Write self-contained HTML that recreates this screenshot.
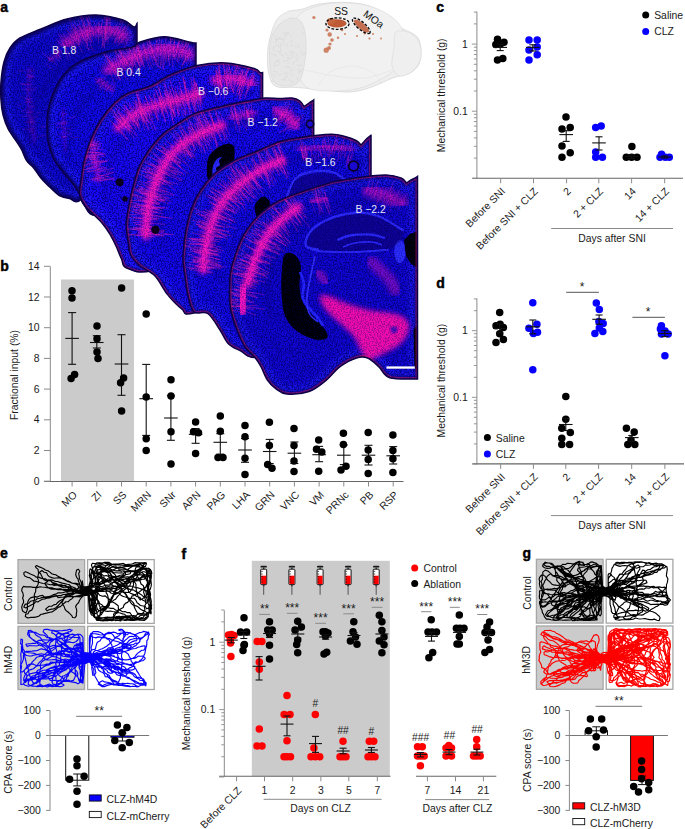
<!DOCTYPE html>
<html><head><meta charset="utf-8"><style>
html,body{margin:0;padding:0;background:#fff;}
svg{display:block;}
text{font-family:"Liberation Sans", sans-serif;}
</style></head><body>
<svg width="685" height="829" viewBox="0 0 685 829">
<rect width="685" height="829" fill="#fff"/>
<defs>
<filter id="bl3" x="-20%" y="-20%" width="140%" height="140%"><feGaussianBlur stdDeviation="2.4"/></filter>
<filter id="bl1" x="-20%" y="-20%" width="140%" height="140%"><feGaussianBlur stdDeviation="0.9"/></filter>
<filter id="bl5" x="-30%" y="-30%" width="160%" height="160%"><feGaussianBlur stdDeviation="4.5"/></filter>
<filter id="nz" x="0" y="0" width="100%" height="100%" filterUnits="userSpaceOnUse"><feTurbulence type="fractalNoise" baseFrequency="0.75" numOctaves="2" seed="3" result="t"/><feColorMatrix in="t" type="matrix" values="0 0 0 0 0.0  0 0 0 0 0.0  0 0 0 0 0.18  4.0 0 0 0 -1.7"/></filter>
<clipPath id="cs0"><path d="M137.0,23.5 C137.0,29.6 137.0,53.9 137.0,60.0 C137.0,68.3 140.7,93.3 137.0,110.0 C133.3,126.7 118.7,151.7 115.0,160.0 C109.5,166.5 89.6,192.6 82.0,199.0 C74.4,205.4 73.3,199.1 69.5,198.5 C65.7,197.9 62.4,197.2 59.3,195.5 C56.2,193.8 54.1,191.2 51.0,188.3 C47.9,185.4 43.8,181.4 40.9,178.0 C38.0,174.6 36.1,170.8 33.7,167.9 C31.3,165.0 28.6,163.8 26.6,160.7 C24.6,157.6 23.2,152.7 21.5,149.5 C19.8,146.3 18.6,144.7 16.4,141.3 C14.2,137.9 10.4,133.4 8.2,129.0 C6.0,124.6 4.2,119.5 3.0,114.7 C1.8,109.9 1.3,105.5 1.0,100.0 C0.7,94.5 0.5,88.3 1.0,82.0 C1.5,75.7 2.5,67.7 4.0,62.0 C5.5,56.3 7.3,52.0 10.0,48.0 C12.7,44.0 14.8,41.2 20.0,38.0 C25.2,34.8 33.2,32.2 41.0,29.0 C48.8,25.8 57.8,21.3 67.0,19.0 C76.2,16.7 86.7,14.8 96.0,15.0 C105.3,15.2 116.7,18.0 123.0,20.0 C129.3,22.0 131.7,26.4 134.0,27.0 C136.3,27.6 136.5,24.1 137.0,23.5 Z"/></clipPath>
<clipPath id="cs1"><path d="M196.0,43.0 C196.0,46.7 196.0,61.7 196.0,65.4 C196.0,76.2 196.0,119.2 196.0,130.0 C190.0,140.0 176.0,175.8 160.0,190.0 C144.0,204.2 112.7,212.5 100.0,215.0 C87.3,217.5 87.5,208.8 84.0,205.0 C80.5,201.2 80.8,196.2 78.7,192.4 C76.6,188.6 74.4,185.7 71.5,182.0 C68.6,178.3 64.4,174.1 61.3,170.0 C58.2,165.9 55.2,162.5 53.0,157.7 C50.8,152.9 49.0,146.4 48.0,141.3 C47.0,136.2 47.0,132.1 47.0,127.0 C47.0,121.9 47.2,115.8 48.0,110.7 C48.8,105.6 50.6,100.5 52.0,96.4 C53.4,92.3 54.7,89.5 56.5,86.0 C58.3,82.5 60.1,79.0 63.0,75.5 C65.9,72.0 69.7,67.9 73.8,65.0 C77.9,62.1 82.0,60.3 87.8,58.0 C93.6,55.7 101.2,52.9 108.8,51.0 C116.4,49.1 128.2,48.1 133.4,46.6 C138.6,45.1 134.8,43.6 140.0,42.0 C145.2,40.4 156.3,36.8 164.5,36.8 C172.7,36.8 184.1,41.0 189.0,42.0 C193.9,43.0 192.8,42.8 194.0,43.0 C195.2,43.2 195.7,43.0 196.0,43.0 Z"/></clipPath>
<clipPath id="cs2"><path d="M262.6,72.5 C262.6,76.6 262.6,92.9 262.6,97.0 C262.6,109.2 262.6,157.8 262.6,170.0 C253.8,183.3 228.6,233.2 210.0,250.0 C191.4,266.8 164.9,268.0 151.0,271.0 C137.1,274.0 131.5,270.0 126.6,268.0 C121.7,266.0 123.2,262.5 121.5,259.0 C119.8,255.5 118.2,250.8 116.5,247.0 C114.8,243.2 113.4,240.0 111.0,236.0 C108.6,232.0 106.2,227.9 102.0,223.0 C97.8,218.1 89.5,211.4 85.8,206.7 C82.1,201.9 80.5,198.6 79.7,194.5 C78.9,190.4 80.0,187.7 80.7,182.2 C81.4,176.7 82.2,168.5 83.8,161.7 C85.3,154.9 87.3,148.1 90.0,141.3 C92.7,134.5 95.9,127.5 100.0,121.0 C104.1,114.5 109.8,107.2 114.5,102.5 C119.2,97.8 122.1,95.8 128.0,93.0 C133.9,90.2 142.7,89.2 150.0,86.0 C157.3,82.8 163.9,77.4 171.7,74.0 C179.5,70.6 187.9,67.2 197.0,65.4 C206.1,63.6 216.5,62.5 226.0,63.0 C235.5,63.5 248.3,66.9 254.0,68.5 C259.7,70.1 258.6,71.8 260.0,72.5 C261.4,73.2 262.2,72.5 262.6,72.5 Z"/></clipPath>
<clipPath id="cs3"><path d="M313.7,100.0 C313.7,105.8 313.7,129.2 313.7,135.0 C313.7,145.8 313.7,189.2 313.7,200.0 C304.8,215.0 279.9,271.2 260.0,290.0 C240.1,308.8 207.1,309.9 194.0,313.0 C180.9,316.1 186.1,311.9 181.7,308.8 C177.3,305.7 171.8,299.9 167.4,294.4 C163.0,288.9 159.6,280.7 155.0,276.0 C150.4,271.3 144.1,269.5 140.0,266.0 C135.9,262.5 132.4,258.6 130.5,255.0 C128.6,251.4 129.2,249.1 128.5,244.2 C127.8,239.3 126.2,231.7 126.2,225.5 C126.2,219.3 127.3,213.4 128.5,206.8 C129.7,200.2 131.4,192.4 133.2,185.8 C134.9,179.2 136.5,172.8 139.0,167.0 C141.5,161.2 144.5,156.1 148.4,150.7 C152.3,145.3 157.3,139.1 162.4,134.4 C167.5,129.7 173.4,126.2 178.8,122.7 C184.2,119.2 188.0,116.1 195.0,113.4 C202.0,110.7 211.6,108.6 220.8,106.4 C230.0,104.2 242.6,101.9 250.0,100.5 C257.4,99.1 260.0,98.3 265.0,98.0 C270.0,97.7 275.5,98.5 280.0,98.5 C284.5,98.5 288.7,97.6 292.0,98.0 C295.3,98.4 298.0,99.6 300.0,101.0 C302.0,102.4 303.3,105.6 304.0,106.5 C304.8,105.9 307.5,104.0 309.0,103.0 C310.5,102.0 312.5,100.9 313.2,100.5 C313.3,100.4 313.6,100.1 313.7,100.0 Z"/></clipPath>
<clipPath id="cs4"><path d="M371.0,135.3 C371.0,142.1 371.0,169.2 371.0,176.0 C371.0,190.0 371.0,246.0 371.0,260.0 C359.2,275.0 319.3,333.8 300.0,350.0 C280.7,366.2 264.8,357.3 255.0,357.5 C245.2,357.7 245.4,353.2 241.0,351.0 C236.6,348.8 232.1,347.5 228.6,344.0 C225.1,340.5 223.4,335.1 220.0,330.0 C216.6,324.9 212.3,316.6 208.0,313.6 C203.7,310.6 197.3,314.9 194.0,312.0 C190.7,309.1 189.4,301.2 188.0,296.0 C186.6,290.8 186.3,286.5 185.5,280.8 C184.7,275.1 183.3,267.1 183.0,262.0 C182.7,256.9 183.1,255.0 183.5,250.0 C183.9,245.0 184.3,238.5 185.5,232.0 C186.7,225.5 188.1,217.8 190.5,211.0 C192.9,204.2 196.1,197.2 200.0,191.0 C203.9,184.8 208.5,179.0 214.0,174.0 C219.5,169.0 226.0,164.8 233.0,161.0 C240.0,157.2 248.2,154.8 256.0,151.5 C263.8,148.2 272.6,143.8 280.0,141.5 C287.4,139.2 291.9,138.6 300.4,137.4 C308.9,136.2 323.6,134.5 331.0,134.3 C338.4,134.2 340.8,135.5 345.0,136.5 C349.2,137.5 353.3,139.1 356.0,140.5 C358.7,141.9 360.2,144.2 361.0,145.0 C361.8,144.1 364.4,141.1 366.0,139.5 C367.6,137.9 369.8,136.2 370.6,135.5 C370.7,135.5 370.9,135.3 371.0,135.3 Z"/></clipPath>
<clipPath id="cs5"><path d="M417.5,176.5 C417.5,210.2 417.5,345.2 417.5,379.0 C412.9,378.8 396.3,379.8 389.8,377.7 C383.3,375.6 382.4,369.9 378.7,366.6 C375.0,363.3 371.3,359.4 367.6,358.0 C363.9,356.6 361.1,356.6 356.5,358.0 C351.9,359.4 345.1,362.9 340.0,366.6 C334.9,370.3 331.2,376.2 326.0,380.4 C320.8,384.5 315.5,389.2 309.0,391.5 C302.5,393.8 292.5,394.4 287.0,394.0 C281.5,393.6 279.3,391.1 276.0,388.8 C272.7,386.5 269.9,383.7 267.4,380.0 C264.9,376.3 263.1,370.4 261.0,366.7 C258.9,362.9 257.7,360.8 255.0,357.5 C252.3,354.2 248.0,351.6 245.0,347.0 C242.0,342.4 239.3,336.0 237.0,330.0 C234.7,324.0 232.2,316.9 231.0,311.0 C229.8,305.1 229.7,301.4 229.6,294.8 C229.5,288.2 229.3,279.3 230.7,271.5 C232.0,263.7 235.0,255.0 237.7,248.0 C240.4,241.0 243.1,235.2 247.0,229.4 C250.9,223.6 255.9,217.7 261.0,213.0 C266.1,208.3 270.9,204.9 277.5,201.4 C284.1,197.9 292.1,195.1 300.8,192.0 C309.6,188.9 324.0,184.5 330.0,182.7 C336.0,180.9 331.7,181.9 337.0,181.0 C342.3,180.1 353.5,178.0 361.7,177.0 C369.9,176.0 379.4,174.8 386.0,175.0 C392.6,175.2 397.6,176.7 401.0,178.0 C404.4,179.3 405.6,182.2 406.5,183.0 C407.2,182.5 409.2,181.0 411.0,180.0 C412.8,179.0 416.0,177.3 417.0,176.8 C417.1,176.8 417.4,176.6 417.5,176.5 Z"/></clipPath>
</defs>
<path d="M137.0,23.5 C137.0,29.6 137.0,53.9 137.0,60.0 C137.0,68.3 140.7,93.3 137.0,110.0 C133.3,126.7 118.7,151.7 115.0,160.0 C109.5,166.5 89.6,192.6 82.0,199.0 C74.4,205.4 73.3,199.1 69.5,198.5 C65.7,197.9 62.4,197.2 59.3,195.5 C56.2,193.8 54.1,191.2 51.0,188.3 C47.9,185.4 43.8,181.4 40.9,178.0 C38.0,174.6 36.1,170.8 33.7,167.9 C31.3,165.0 28.6,163.8 26.6,160.7 C24.6,157.6 23.2,152.7 21.5,149.5 C19.8,146.3 18.6,144.7 16.4,141.3 C14.2,137.9 10.4,133.4 8.2,129.0 C6.0,124.6 4.2,119.5 3.0,114.7 C1.8,109.9 1.3,105.5 1.0,100.0 C0.7,94.5 0.5,88.3 1.0,82.0 C1.5,75.7 2.5,67.7 4.0,62.0 C5.5,56.3 7.3,52.0 10.0,48.0 C12.7,44.0 14.8,41.2 20.0,38.0 C25.2,34.8 33.2,32.2 41.0,29.0 C48.8,25.8 57.8,21.3 67.0,19.0 C76.2,16.7 86.7,14.8 96.0,15.0 C105.3,15.2 116.7,18.0 123.0,20.0 C129.3,22.0 131.7,26.4 134.0,27.0 C136.3,27.6 136.5,24.1 137.0,23.5 Z" fill="#0f08cf"/>
<g clip-path="url(#cs0)">
<path d="M137.0,23.5 C137.0,29.6 137.0,53.9 137.0,60.0 C137.0,68.3 140.7,93.3 137.0,110.0 C133.3,126.7 118.7,151.7 115.0,160.0 C109.5,166.5 89.6,192.6 82.0,199.0 C74.4,205.4 73.3,199.1 69.5,198.5 C65.7,197.9 62.4,197.2 59.3,195.5 C56.2,193.8 54.1,191.2 51.0,188.3 C47.9,185.4 43.8,181.4 40.9,178.0 C38.0,174.6 36.1,170.8 33.7,167.9 C31.3,165.0 28.6,163.8 26.6,160.7 C24.6,157.6 23.2,152.7 21.5,149.5 C19.8,146.3 18.6,144.7 16.4,141.3 C14.2,137.9 10.4,133.4 8.2,129.0 C6.0,124.6 4.2,119.5 3.0,114.7 C1.8,109.9 1.3,105.5 1.0,100.0 C0.7,94.5 0.5,88.3 1.0,82.0 C1.5,75.7 2.5,67.7 4.0,62.0 C5.5,56.3 7.3,52.0 10.0,48.0 C12.7,44.0 14.8,41.2 20.0,38.0 C25.2,34.8 33.2,32.2 41.0,29.0 C48.8,25.8 57.8,21.3 67.0,19.0 C76.2,16.7 86.7,14.8 96.0,15.0 C105.3,15.2 116.7,18.0 123.0,20.0 C129.3,22.0 131.7,26.4 134.0,27.0 C136.3,27.6 136.5,24.1 137.0,23.5 Z" fill="none" stroke="#2c2cff" stroke-width="18" opacity="0.45" filter="url(#bl3)"/>
<path d="M137.0,23.5 C137.0,29.6 137.0,53.9 137.0,60.0 C137.0,68.3 140.7,93.3 137.0,110.0 C133.3,126.7 118.7,151.7 115.0,160.0 C109.5,166.5 89.6,192.6 82.0,199.0 C74.4,205.4 73.3,199.1 69.5,198.5 C65.7,197.9 62.4,197.2 59.3,195.5 C56.2,193.8 54.1,191.2 51.0,188.3 C47.9,185.4 43.8,181.4 40.9,178.0 C38.0,174.6 36.1,170.8 33.7,167.9 C31.3,165.0 28.6,163.8 26.6,160.7 C24.6,157.6 23.2,152.7 21.5,149.5 C19.8,146.3 18.6,144.7 16.4,141.3 C14.2,137.9 10.4,133.4 8.2,129.0 C6.0,124.6 4.2,119.5 3.0,114.7 C1.8,109.9 1.3,105.5 1.0,100.0 C0.7,94.5 0.5,88.3 1.0,82.0 C1.5,75.7 2.5,67.7 4.0,62.0 C5.5,56.3 7.3,52.0 10.0,48.0 C12.7,44.0 14.8,41.2 20.0,38.0 C25.2,34.8 33.2,32.2 41.0,29.0 C48.8,25.8 57.8,21.3 67.0,19.0 C76.2,16.7 86.7,14.8 96.0,15.0 C105.3,15.2 116.7,18.0 123.0,20.0 C129.3,22.0 131.7,26.4 134.0,27.0 C136.3,27.6 136.5,24.1 137.0,23.5 Z" fill="none" stroke="#07003a" stroke-width="7" opacity="0.75" filter="url(#bl1)"/>
<path d="M125.0,40.0 C120.8,40.8 109.2,41.7 100.0,45.0 C90.8,48.3 79.2,53.3 70.0,60.0 C60.8,66.7 51.7,75.0 45.0,85.0 C38.3,95.0 32.5,109.2 30.0,120.0 C27.5,130.8 30.0,145.0 30.0,150.0" fill="none" stroke="#10067a" stroke-width="6" opacity="0.25" filter="url(#bl3)"/>
<rect x="0" y="0" width="420" height="400" filter="url(#nz)" opacity="0.75"/>
<path d="M66.0,44.0 C68.3,42.5 75.0,37.3 80.0,35.0 C85.0,32.7 90.7,30.8 96.0,30.0 C101.3,29.2 107.3,29.0 112.0,30.0 C116.7,31.0 122.0,35.0 124.0,36.0" fill="none" stroke="#ff12c0" stroke-width="13.8" stroke-linecap="round" opacity="0.37" filter="url(#bl3)"/>
<path d="M66.0,44.0 C68.3,42.5 75.0,37.3 80.0,35.0 C85.0,32.7 90.7,30.8 96.0,30.0 C101.3,29.2 107.3,29.0 112.0,30.0 C116.7,31.0 122.0,35.0 124.0,36.0" fill="none" stroke="#ff10c8" stroke-width="5.4" stroke-linecap="round" opacity="0.26" filter="url(#bl1)"/>
<path d="M68.8,17.8L75.8,34.8M62.4,33.1L73.7,48.6M69.4,39.7L76.3,50.0M70.7,25.3L81.5,39.8M71.9,33.6L82.5,52.3M74.3,24.2L80.2,45.2M70.2,33.5L74.8,47.4M63.7,37.4L72.8,52.7M59.5,33.5L69.4,46.5M67.9,26.5L78.8,42.0M71.3,27.7L78.4,39.3M62.8,42.2L68.2,59.8M73.1,24.1L83.8,37.9M76.3,37.0L89.8,50.1M58.6,34.2L70.1,56.5M67.3,36.7L71.7,44.5M74.8,28.1L79.0,45.8M65.7,29.1L76.9,42.5M78.8,30.1L87.5,44.9M93.4,21.2L99.1,32.8M73.5,20.9L93.6,42.9M86.1,17.0L90.7,32.3M87.3,25.2L87.2,45.8M81.9,23.5L88.7,50.0M81.7,13.9L89.0,33.2M87.2,17.7L91.4,42.3M83.4,21.8L88.5,37.4M87.8,12.9L94.0,36.9M80.8,14.2L87.8,41.6M86.6,33.0L93.3,51.5M78.5,14.6L90.1,36.6M77.9,24.8L86.8,42.8M88.7,21.0L92.9,34.2M88.7,21.9L90.5,36.5M86.4,28.8L88.9,39.4M78.4,20.2L84.4,41.0M99.1,21.6L100.2,34.4M109.6,18.2L109.2,33.4M106.5,26.8L101.8,48.3M106.8,17.6L105.8,38.6M110.9,25.8L112.0,33.1M104.6,17.0L105.7,42.7M101.4,23.4L103.3,46.8M109.8,11.4L111.1,36.6M101.7,32.6L103.1,46.3M106.4,13.3L105.5,40.2M97.4,23.2L95.0,35.6M98.4,22.8L98.5,42.9M107.3,18.7L104.8,35.3M102.6,19.5L100.3,36.0M107.9,14.4L107.9,43.9M104.9,29.2L104.5,48.3M108.1,18.1L105.9,40.2M117.8,26.0L106.7,39.8M124.2,31.3L117.3,43.5M125.2,25.2L118.2,39.2M126.5,26.2L118.7,38.9M128.7,37.5L122.5,51.9M124.4,36.9L117.5,46.2M128.7,31.8L121.1,43.0M120.1,30.8L114.2,43.8M123.9,28.1L117.5,42.5M129.0,23.3L121.9,38.7M123.6,15.8L114.2,34.9M118.7,26.4L113.9,36.0M123.5,20.7L114.5,42.7M116.8,23.9L105.6,41.0" fill="none" stroke="#ff22b8" stroke-width="0.65" opacity="0.45"/>
<path d="M30.0,70.0 C29.7,75.0 27.2,88.3 28.0,100.0 C28.8,111.7 33.8,133.3 35.0,140.0" fill="none" stroke="#ff12c0" stroke-width="6.9" stroke-linecap="round" opacity="0.11" filter="url(#bl3)"/>
<path d="M30.0,70.0 C29.7,75.0 27.2,88.3 28.0,100.0 C28.8,111.7 33.8,133.3 35.0,140.0" fill="none" stroke="#ff10c8" stroke-width="2.7" stroke-linecap="round" opacity="0.08" filter="url(#bl1)"/>
<path d="M26.1,85.0L20.0,83.4M25.2,71.1L17.2,70.8M36.0,89.9L28.5,89.9M34.5,76.7L27.1,76.7M30.7,89.0L21.2,89.5M36.8,88.0L33.2,87.9M33.8,70.8L27.5,70.9M26.0,84.3L22.3,84.5M33.2,75.8L25.5,74.7M33.7,77.6L28.6,77.4M29.5,99.5L20.4,96.9M31.6,84.3L21.9,84.1M34.7,106.2L30.8,106.8M29.3,115.3L21.8,117.0M33.1,128.6L22.4,129.6M48.7,126.0L40.2,127.2M32.0,98.5L25.4,100.4M21.4,103.8L17.9,105.6M30.3,101.4L24.5,102.3M32.8,111.9L25.7,112.6M34.0,121.6L28.2,122.3M45.5,135.3L37.9,136.6M36.2,121.8L25.3,122.4M40.8,112.3L36.4,113.0M33.0,130.7L29.7,131.6M27.1,109.8L21.0,111.4M33.0,101.9L28.2,102.3M38.1,116.2L29.1,120.1" fill="none" stroke="#ff22b8" stroke-width="0.65" opacity="0.30"/>
<path d="M50.0,60.0 L60.0,52.0" fill="none" stroke="#ff12c0" stroke-width="5.8" stroke-linecap="round" opacity="0.23" filter="url(#bl3)"/>
<path d="M50.0,60.0 L60.0,52.0" fill="none" stroke="#ff10c8" stroke-width="2.2" stroke-linecap="round" opacity="0.16" filter="url(#bl1)"/>
<path d="M50.4,44.6L58.0,55.7M55.2,49.6L57.7,53.1M47.5,55.3L50.1,59.9M54.8,50.5L61.1,59.4M57.1,47.3L62.5,53.3M55.8,56.0L59.7,61.8M42.2,52.4L52.5,62.3M45.5,63.1L53.3,70.7M56.5,39.4L61.6,45.0M54.2,49.8L60.1,57.7M56.8,48.4L60.4,53.3M50.8,57.6L57.6,66.3" fill="none" stroke="#ff22b8" stroke-width="0.65" opacity="0.40"/>
<rect x="0" y="0" width="420" height="400" filter="url(#nz)" opacity="0.35"/>
</g>
<path d="M137.0,23.5 C137.0,29.6 137.0,53.9 137.0,60.0 C137.0,68.3 140.7,93.3 137.0,110.0 C133.3,126.7 118.7,151.7 115.0,160.0 C109.5,166.5 89.6,192.6 82.0,199.0 C74.4,205.4 73.3,199.1 69.5,198.5 C65.7,197.9 62.4,197.2 59.3,195.5 C56.2,193.8 54.1,191.2 51.0,188.3 C47.9,185.4 43.8,181.4 40.9,178.0 C38.0,174.6 36.1,170.8 33.7,167.9 C31.3,165.0 28.6,163.8 26.6,160.7 C24.6,157.6 23.2,152.7 21.5,149.5 C19.8,146.3 18.6,144.7 16.4,141.3 C14.2,137.9 10.4,133.4 8.2,129.0 C6.0,124.6 4.2,119.5 3.0,114.7 C1.8,109.9 1.3,105.5 1.0,100.0 C0.7,94.5 0.5,88.3 1.0,82.0 C1.5,75.7 2.5,67.7 4.0,62.0 C5.5,56.3 7.3,52.0 10.0,48.0 C12.7,44.0 14.8,41.2 20.0,38.0 C25.2,34.8 33.2,32.2 41.0,29.0 C48.8,25.8 57.8,21.3 67.0,19.0 C76.2,16.7 86.7,14.8 96.0,15.0 C105.3,15.2 116.7,18.0 123.0,20.0 C129.3,22.0 131.7,26.4 134.0,27.0 C136.3,27.6 136.5,24.1 137.0,23.5 Z" fill="none" stroke="#0c0048" stroke-width="1.5"/>
<path d="M196.0,43.0 C196.0,46.7 196.0,61.7 196.0,65.4 C196.0,76.2 196.0,119.2 196.0,130.0 C190.0,140.0 176.0,175.8 160.0,190.0 C144.0,204.2 112.7,212.5 100.0,215.0 C87.3,217.5 87.5,208.8 84.0,205.0 C80.5,201.2 80.8,196.2 78.7,192.4 C76.6,188.6 74.4,185.7 71.5,182.0 C68.6,178.3 64.4,174.1 61.3,170.0 C58.2,165.9 55.2,162.5 53.0,157.7 C50.8,152.9 49.0,146.4 48.0,141.3 C47.0,136.2 47.0,132.1 47.0,127.0 C47.0,121.9 47.2,115.8 48.0,110.7 C48.8,105.6 50.6,100.5 52.0,96.4 C53.4,92.3 54.7,89.5 56.5,86.0 C58.3,82.5 60.1,79.0 63.0,75.5 C65.9,72.0 69.7,67.9 73.8,65.0 C77.9,62.1 82.0,60.3 87.8,58.0 C93.6,55.7 101.2,52.9 108.8,51.0 C116.4,49.1 128.2,48.1 133.4,46.6 C138.6,45.1 134.8,43.6 140.0,42.0 C145.2,40.4 156.3,36.8 164.5,36.8 C172.7,36.8 184.1,41.0 189.0,42.0 C193.9,43.0 192.8,42.8 194.0,43.0 C195.2,43.2 195.7,43.0 196.0,43.0 Z" fill="#120aed"/>
<g clip-path="url(#cs1)">
<path d="M196.0,43.0 C196.0,46.7 196.0,61.7 196.0,65.4 C196.0,76.2 196.0,119.2 196.0,130.0 C190.0,140.0 176.0,175.8 160.0,190.0 C144.0,204.2 112.7,212.5 100.0,215.0 C87.3,217.5 87.5,208.8 84.0,205.0 C80.5,201.2 80.8,196.2 78.7,192.4 C76.6,188.6 74.4,185.7 71.5,182.0 C68.6,178.3 64.4,174.1 61.3,170.0 C58.2,165.9 55.2,162.5 53.0,157.7 C50.8,152.9 49.0,146.4 48.0,141.3 C47.0,136.2 47.0,132.1 47.0,127.0 C47.0,121.9 47.2,115.8 48.0,110.7 C48.8,105.6 50.6,100.5 52.0,96.4 C53.4,92.3 54.7,89.5 56.5,86.0 C58.3,82.5 60.1,79.0 63.0,75.5 C65.9,72.0 69.7,67.9 73.8,65.0 C77.9,62.1 82.0,60.3 87.8,58.0 C93.6,55.7 101.2,52.9 108.8,51.0 C116.4,49.1 128.2,48.1 133.4,46.6 C138.6,45.1 134.8,43.6 140.0,42.0 C145.2,40.4 156.3,36.8 164.5,36.8 C172.7,36.8 184.1,41.0 189.0,42.0 C193.9,43.0 192.8,42.8 194.0,43.0 C195.2,43.2 195.7,43.0 196.0,43.0 Z" fill="none" stroke="#2c2cff" stroke-width="18" opacity="0.45" filter="url(#bl3)"/>
<path d="M196.0,43.0 C196.0,46.7 196.0,61.7 196.0,65.4 C196.0,76.2 196.0,119.2 196.0,130.0 C190.0,140.0 176.0,175.8 160.0,190.0 C144.0,204.2 112.7,212.5 100.0,215.0 C87.3,217.5 87.5,208.8 84.0,205.0 C80.5,201.2 80.8,196.2 78.7,192.4 C76.6,188.6 74.4,185.7 71.5,182.0 C68.6,178.3 64.4,174.1 61.3,170.0 C58.2,165.9 55.2,162.5 53.0,157.7 C50.8,152.9 49.0,146.4 48.0,141.3 C47.0,136.2 47.0,132.1 47.0,127.0 C47.0,121.9 47.2,115.8 48.0,110.7 C48.8,105.6 50.6,100.5 52.0,96.4 C53.4,92.3 54.7,89.5 56.5,86.0 C58.3,82.5 60.1,79.0 63.0,75.5 C65.9,72.0 69.7,67.9 73.8,65.0 C77.9,62.1 82.0,60.3 87.8,58.0 C93.6,55.7 101.2,52.9 108.8,51.0 C116.4,49.1 128.2,48.1 133.4,46.6 C138.6,45.1 134.8,43.6 140.0,42.0 C145.2,40.4 156.3,36.8 164.5,36.8 C172.7,36.8 184.1,41.0 189.0,42.0 C193.9,43.0 192.8,42.8 194.0,43.0 C195.2,43.2 195.7,43.0 196.0,43.0 Z" fill="none" stroke="#07003a" stroke-width="5" opacity="0.75" filter="url(#bl1)"/>
<path d="M185.0,60.0 C179.2,60.3 161.7,59.5 150.0,62.0 C138.3,64.5 125.8,68.7 115.0,75.0 C104.2,81.3 92.5,90.8 85.0,100.0 C77.5,109.2 72.8,119.2 70.0,130.0 C67.2,140.8 68.3,159.2 68.0,165.0" fill="none" stroke="#10067a" stroke-width="6" opacity="0.25" filter="url(#bl3)"/>
<rect x="0" y="0" width="420" height="400" filter="url(#nz)" opacity="0.75"/>
<path d="M108.0,70.0 C111.7,68.0 122.2,61.3 130.0,58.0 C137.8,54.7 147.5,51.5 155.0,50.0 C162.5,48.5 169.2,48.2 175.0,49.0 C180.8,49.8 187.5,54.0 190.0,55.0" fill="none" stroke="#ff12c0" stroke-width="12.6" stroke-linecap="round" opacity="0.46" filter="url(#bl3)"/>
<path d="M108.0,70.0 C111.7,68.0 122.2,61.3 130.0,58.0 C137.8,54.7 147.5,51.5 155.0,50.0 C162.5,48.5 169.2,48.2 175.0,49.0 C180.8,49.8 187.5,54.0 190.0,55.0" fill="none" stroke="#ff10c8" stroke-width="5.0" stroke-linecap="round" opacity="0.32" filter="url(#bl1)"/>
<path d="M123.6,56.5L131.4,67.0M120.1,49.1L132.4,73.2M106.5,58.8L121.3,80.4M118.7,48.9L124.2,63.9M113.5,58.7L120.4,72.0M113.7,46.0L121.2,72.0M118.3,48.5L127.9,64.2M117.9,54.5L125.8,70.9M116.6,47.7L128.9,65.6M118.2,52.6L134.2,73.8M118.2,55.1L127.7,67.2M126.4,67.5L132.8,76.5M101.7,51.8L118.5,71.3M114.1,63.1L128.2,80.5M107.1,56.2L117.4,79.8M104.3,53.9L115.7,75.2M123.1,52.0L133.9,66.9M123.7,58.2L129.6,64.7M104.2,59.1L110.0,68.3M114.6,49.9L125.8,70.2M125.1,44.4L132.6,69.7M108.8,55.4L114.3,64.4M108.6,68.0L114.8,84.1M117.5,41.6L131.7,64.1M122.7,56.5L127.0,65.0M109.1,59.8L117.9,75.9M112.4,62.2L119.9,80.4M120.1,50.1L126.1,68.3M106.3,53.8L119.1,78.2M110.1,61.1L119.5,75.7M134.6,55.0L139.7,66.0M132.8,45.9L140.6,69.7M143.6,42.0L145.1,53.7M150.6,45.8L155.5,60.2M138.0,48.0L144.6,68.4M136.2,43.6L143.9,63.7M133.1,43.3L136.6,62.3M147.7,33.5L153.7,54.0M147.8,48.6L160.2,69.0M145.1,35.4L154.0,65.7M131.6,44.5L135.8,59.8M144.5,47.0L152.4,68.2M148.4,38.0L156.7,66.0M145.4,52.2L146.0,61.0M138.3,46.0L140.6,66.8M128.7,51.2L133.7,66.2M136.6,41.4L142.0,66.9M132.8,50.5L139.5,62.8M144.5,51.6L149.8,68.8M142.7,44.2L147.9,58.8M128.4,45.1L133.3,71.2M136.5,37.9L137.4,60.7M130.0,49.9L136.9,70.1M136.0,47.1L142.5,64.5M138.7,44.2L143.1,58.2M131.8,53.2L133.3,66.1M147.0,38.9L156.8,61.8M136.2,44.3L143.8,66.4M133.7,45.4L140.1,67.4M130.9,57.1L138.3,69.1M128.1,46.2L135.7,61.2M173.8,46.2L174.7,59.1M167.2,51.1L169.8,66.1M172.0,51.3L172.9,67.2M164.9,48.6L166.2,59.4M160.6,44.7L160.0,57.3M167.0,43.0L168.6,57.1M168.5,44.7L168.4,60.6M164.0,42.6L166.8,62.5M171.0,38.4L170.5,60.6M157.7,30.1L161.2,49.8M168.2,40.7L171.1,54.6M174.9,31.9L173.7,50.6M164.2,43.1L161.3,65.6M156.7,33.8L156.1,62.3M172.4,45.7L174.1,59.3M161.5,38.8L160.3,69.2M164.9,50.1L163.6,70.0M165.9,36.0L166.2,61.8M164.2,43.6L162.8,69.7M160.5,47.0L162.1,55.4M174.4,40.6L173.0,56.8M170.8,36.2L168.8,59.9M156.9,40.5L158.1,61.2M158.5,42.9L158.0,68.1M180.0,40.8L176.6,51.6M190.1,52.0L181.1,67.7M191.3,46.9L181.5,66.3M184.3,31.8L175.7,50.2M189.1,40.6L176.0,57.3M190.4,35.6L181.4,52.5M189.7,48.2L186.6,62.4M179.5,37.2L176.3,54.3M190.3,40.0L181.1,57.9M186.3,40.6L181.4,57.3M178.6,41.7L174.9,59.5M183.8,40.1L177.6,62.9M183.7,45.7L180.6,53.8M174.9,40.8L169.3,57.5M196.3,43.8L182.9,63.8M190.6,35.4L184.3,59.7M174.4,33.9L169.9,44.7M181.2,50.9L176.4,61.5M187.1,34.1L173.7,57.0" fill="none" stroke="#ff22b8" stroke-width="0.65" opacity="0.50"/>
<path d="M98.0,80.0 L112.0,90.0" fill="none" stroke="#ff12c0" stroke-width="5.8" stroke-linecap="round" opacity="0.29" filter="url(#bl3)"/>
<path d="M98.0,80.0 L112.0,90.0" fill="none" stroke="#ff10c8" stroke-width="2.2" stroke-linecap="round" opacity="0.20" filter="url(#bl1)"/>
<path d="M97.6,76.3L94.6,79.9M107.4,75.1L100.1,83.2M116.1,86.1L111.7,94.2M112.5,83.0L108.1,88.7M110.4,85.3L104.5,91.6M102.1,77.8L100.0,80.3M104.6,81.3L98.6,89.6M113.2,94.8L111.5,96.9M108.2,81.4L104.1,89.3M115.6,83.6L109.9,90.6M100.0,79.4L95.8,83.1M105.2,75.6L100.8,80.0M110.0,85.0L106.7,90.7M103.0,86.8L99.3,90.6M108.0,80.6L104.3,85.6M101.5,76.0L96.4,83.2M104.8,81.0L99.9,87.0" fill="none" stroke="#ff22b8" stroke-width="0.65" opacity="0.40"/>
<path d="M62.0,110.0 L66.0,150.0" fill="none" stroke="#ff12c0" stroke-width="5.8" stroke-linecap="round" opacity="0.11" filter="url(#bl3)"/>
<path d="M62.0,110.0 L66.0,150.0" fill="none" stroke="#ff10c8" stroke-width="2.2" stroke-linecap="round" opacity="0.08" filter="url(#bl1)"/>
<path d="M67.3,123.5L58.8,124.8M65.8,136.5L61.9,136.6M67.6,121.5L58.4,123.4M68.7,132.0L61.0,132.3M63.5,127.3L56.1,127.5M72.0,133.9L65.6,133.8M66.6,113.1L59.4,113.5M65.9,136.6L60.9,137.0M79.1,137.6L71.4,137.7M70.9,128.8L63.3,128.4M66.9,123.8L54.8,123.7M67.6,114.2L61.6,116.0M75.9,116.7L68.1,118.1M63.8,134.1L57.0,134.6M70.2,135.6L59.3,138.1M67.8,122.0L59.8,121.7" fill="none" stroke="#ff22b8" stroke-width="0.65" opacity="0.30"/>
<rect x="0" y="0" width="420" height="400" filter="url(#nz)" opacity="0.35"/>
</g>
<path d="M196.0,43.0 C196.0,46.7 196.0,61.7 196.0,65.4 C196.0,76.2 196.0,119.2 196.0,130.0 C190.0,140.0 176.0,175.8 160.0,190.0 C144.0,204.2 112.7,212.5 100.0,215.0 C87.3,217.5 87.5,208.8 84.0,205.0 C80.5,201.2 80.8,196.2 78.7,192.4 C76.6,188.6 74.4,185.7 71.5,182.0 C68.6,178.3 64.4,174.1 61.3,170.0 C58.2,165.9 55.2,162.5 53.0,157.7 C50.8,152.9 49.0,146.4 48.0,141.3 C47.0,136.2 47.0,132.1 47.0,127.0 C47.0,121.9 47.2,115.8 48.0,110.7 C48.8,105.6 50.6,100.5 52.0,96.4 C53.4,92.3 54.7,89.5 56.5,86.0 C58.3,82.5 60.1,79.0 63.0,75.5 C65.9,72.0 69.7,67.9 73.8,65.0 C77.9,62.1 82.0,60.3 87.8,58.0 C93.6,55.7 101.2,52.9 108.8,51.0 C116.4,49.1 128.2,48.1 133.4,46.6 C138.6,45.1 134.8,43.6 140.0,42.0 C145.2,40.4 156.3,36.8 164.5,36.8 C172.7,36.8 184.1,41.0 189.0,42.0 C193.9,43.0 192.8,42.8 194.0,43.0 C195.2,43.2 195.7,43.0 196.0,43.0 Z" fill="none" stroke="#0c0048" stroke-width="1.5"/>
<path d="M262.6,72.5 C262.6,76.6 262.6,92.9 262.6,97.0 C262.6,109.2 262.6,157.8 262.6,170.0 C253.8,183.3 228.6,233.2 210.0,250.0 C191.4,266.8 164.9,268.0 151.0,271.0 C137.1,274.0 131.5,270.0 126.6,268.0 C121.7,266.0 123.2,262.5 121.5,259.0 C119.8,255.5 118.2,250.8 116.5,247.0 C114.8,243.2 113.4,240.0 111.0,236.0 C108.6,232.0 106.2,227.9 102.0,223.0 C97.8,218.1 89.5,211.4 85.8,206.7 C82.1,201.9 80.5,198.6 79.7,194.5 C78.9,190.4 80.0,187.7 80.7,182.2 C81.4,176.7 82.2,168.5 83.8,161.7 C85.3,154.9 87.3,148.1 90.0,141.3 C92.7,134.5 95.9,127.5 100.0,121.0 C104.1,114.5 109.8,107.2 114.5,102.5 C119.2,97.8 122.1,95.8 128.0,93.0 C133.9,90.2 142.7,89.2 150.0,86.0 C157.3,82.8 163.9,77.4 171.7,74.0 C179.5,70.6 187.9,67.2 197.0,65.4 C206.1,63.6 216.5,62.5 226.0,63.0 C235.5,63.5 248.3,66.9 254.0,68.5 C259.7,70.1 258.6,71.8 260.0,72.5 C261.4,73.2 262.2,72.5 262.6,72.5 Z" fill="#1c08ff"/>
<g clip-path="url(#cs2)">
<path d="M262.6,72.5 C262.6,76.6 262.6,92.9 262.6,97.0 C262.6,109.2 262.6,157.8 262.6,170.0 C253.8,183.3 228.6,233.2 210.0,250.0 C191.4,266.8 164.9,268.0 151.0,271.0 C137.1,274.0 131.5,270.0 126.6,268.0 C121.7,266.0 123.2,262.5 121.5,259.0 C119.8,255.5 118.2,250.8 116.5,247.0 C114.8,243.2 113.4,240.0 111.0,236.0 C108.6,232.0 106.2,227.9 102.0,223.0 C97.8,218.1 89.5,211.4 85.8,206.7 C82.1,201.9 80.5,198.6 79.7,194.5 C78.9,190.4 80.0,187.7 80.7,182.2 C81.4,176.7 82.2,168.5 83.8,161.7 C85.3,154.9 87.3,148.1 90.0,141.3 C92.7,134.5 95.9,127.5 100.0,121.0 C104.1,114.5 109.8,107.2 114.5,102.5 C119.2,97.8 122.1,95.8 128.0,93.0 C133.9,90.2 142.7,89.2 150.0,86.0 C157.3,82.8 163.9,77.4 171.7,74.0 C179.5,70.6 187.9,67.2 197.0,65.4 C206.1,63.6 216.5,62.5 226.0,63.0 C235.5,63.5 248.3,66.9 254.0,68.5 C259.7,70.1 258.6,71.8 260.0,72.5 C261.4,73.2 262.2,72.5 262.6,72.5 Z" fill="none" stroke="#2c2cff" stroke-width="18" opacity="0.45" filter="url(#bl3)"/>
<path d="M262.6,72.5 C262.6,76.6 262.6,92.9 262.6,97.0 C262.6,109.2 262.6,157.8 262.6,170.0 C253.8,183.3 228.6,233.2 210.0,250.0 C191.4,266.8 164.9,268.0 151.0,271.0 C137.1,274.0 131.5,270.0 126.6,268.0 C121.7,266.0 123.2,262.5 121.5,259.0 C119.8,255.5 118.2,250.8 116.5,247.0 C114.8,243.2 113.4,240.0 111.0,236.0 C108.6,232.0 106.2,227.9 102.0,223.0 C97.8,218.1 89.5,211.4 85.8,206.7 C82.1,201.9 80.5,198.6 79.7,194.5 C78.9,190.4 80.0,187.7 80.7,182.2 C81.4,176.7 82.2,168.5 83.8,161.7 C85.3,154.9 87.3,148.1 90.0,141.3 C92.7,134.5 95.9,127.5 100.0,121.0 C104.1,114.5 109.8,107.2 114.5,102.5 C119.2,97.8 122.1,95.8 128.0,93.0 C133.9,90.2 142.7,89.2 150.0,86.0 C157.3,82.8 163.9,77.4 171.7,74.0 C179.5,70.6 187.9,67.2 197.0,65.4 C206.1,63.6 216.5,62.5 226.0,63.0 C235.5,63.5 248.3,66.9 254.0,68.5 C259.7,70.1 258.6,71.8 260.0,72.5 C261.4,73.2 262.2,72.5 262.6,72.5 Z" fill="none" stroke="#07003a" stroke-width="5" opacity="0.75" filter="url(#bl1)"/>
<path d="M255.0,92.0 C248.3,91.7 229.2,87.8 215.0,90.0 C200.8,92.2 184.2,98.3 170.0,105.0 C155.8,111.7 140.0,120.0 130.0,130.0 C120.0,140.0 114.2,153.3 110.0,165.0 C105.8,176.7 105.8,194.2 105.0,200.0" fill="none" stroke="#10067a" stroke-width="6" opacity="0.25" filter="url(#bl3)"/>
<rect x="0" y="0" width="420" height="400" filter="url(#nz)" opacity="0.75"/>
<path d="M118.0,128.0 C120.8,125.7 128.3,117.8 135.0,114.0 C141.7,110.2 150.5,107.5 158.0,105.0 C165.5,102.5 173.0,100.8 180.0,99.0 C187.0,97.2 196.7,94.8 200.0,94.0" fill="none" stroke="#ff12c0" stroke-width="9.2" stroke-linecap="round" opacity="0.69" filter="url(#bl3)"/>
<path d="M118.0,128.0 C120.8,125.7 128.3,117.8 135.0,114.0 C141.7,110.2 150.5,107.5 158.0,105.0 C165.5,102.5 173.0,100.8 180.0,99.0 C187.0,97.2 196.7,94.8 200.0,94.0" fill="none" stroke="#ff10c8" stroke-width="3.6" stroke-linecap="round" opacity="0.48" filter="url(#bl1)"/>
<path d="M112.2,122.5L128.1,140.4M129.3,114.5L133.9,121.9M120.6,121.3L134.9,138.6M121.3,113.3L136.6,128.3M114.9,118.4L122.7,129.7M116.7,118.9L137.8,136.5M128.2,111.3L135.8,119.0M120.6,117.2L130.0,129.4M123.8,109.1L134.5,122.0M108.4,109.6L125.3,123.9M119.5,120.3L128.5,131.2M116.4,117.8L131.9,132.1M112.5,115.1L130.5,131.1M127.1,109.1L134.7,116.2M118.2,113.3L131.6,129.3M123.4,104.6L136.2,125.7M118.9,124.0L129.9,134.0M115.2,107.4L127.2,123.6M120.5,114.9L136.8,134.4M114.7,113.2L122.9,126.8M113.6,124.8L127.9,139.3M113.7,116.5L129.6,130.4M128.2,105.0L139.1,122.8M124.1,105.0L137.5,126.0M124.6,100.6L140.5,119.0M109.8,119.8L124.6,134.9M124.4,104.4L140.0,128.7M118.6,119.0L134.3,129.5M118.0,109.2L131.5,127.0M118.4,113.1L131.5,127.4M122.1,106.6L138.1,126.1M116.4,105.4L139.9,125.2M110.9,108.6L127.4,127.2M115.9,110.2L130.7,128.9M112.7,109.8L130.9,128.7M139.9,107.6L142.0,115.7M135.5,112.6L139.3,126.5M145.1,96.2L151.5,112.9M132.6,101.4L146.9,124.1M137.3,97.4L146.9,121.0M128.8,112.9L136.1,129.6M134.4,86.8L141.1,107.4M153.6,93.5L158.9,113.4M139.9,108.7L148.8,128.9M135.8,101.2L143.6,122.9M151.9,98.1L158.7,110.3M135.3,108.7L138.2,123.2M136.8,93.9L146.1,117.8M133.5,105.8L141.3,121.4M153.1,108.1L158.8,120.2M149.4,94.8L155.4,110.4M140.6,108.2L153.2,129.6M136.8,103.9L151.3,124.2M135.1,103.4L149.1,130.4M135.4,115.6L138.1,127.4M138.5,102.1L144.1,120.6M129.2,102.6L139.7,120.1M149.2,95.2L158.2,121.7M143.8,103.7L148.7,113.9M132.6,116.0L140.4,131.7M137.6,90.7L142.8,110.5M146.8,102.7L150.1,118.4M135.1,99.6L149.3,122.5M138.0,102.8L152.3,122.0M151.4,101.0L158.4,116.1M141.8,107.6L147.4,123.2M139.6,107.0L144.7,130.3M134.6,100.4L144.9,121.5M144.9,94.8L153.2,119.4M136.7,94.1L144.6,123.0M141.8,102.9L147.9,118.2M143.4,100.1L156.1,130.5M139.1,101.7L147.3,116.2M154.6,88.3L163.6,109.3M169.7,98.1L175.3,117.4M171.4,96.1L178.7,114.0M158.7,86.5L165.7,112.0M167.3,91.3L173.6,113.7M163.8,89.6L175.4,115.4M164.9,90.0L171.3,105.0M170.0,88.9L175.4,114.1M166.8,95.8L174.8,116.7M168.9,89.6L172.6,120.8M155.9,90.4L165.6,113.1M168.7,85.9L174.6,103.1M158.6,100.3L165.9,122.0M164.5,81.2L170.6,103.9M176.4,97.9L184.2,117.2M171.6,87.6L179.8,102.7M159.6,99.7L163.1,111.1M159.9,96.4L168.1,114.1M163.9,91.9L173.6,113.6M176.2,97.9L178.4,117.3M166.2,97.6L171.7,110.0M169.9,79.6L177.2,105.2M162.0,110.1L165.5,121.6M169.5,92.6L174.9,109.8M157.2,83.9L163.6,104.4M174.9,86.4L179.6,111.8M175.3,100.9L179.8,115.7M159.8,97.3L163.0,115.3M163.1,95.5L166.1,109.1M164.6,93.2L174.2,125.2M160.2,92.9L168.5,117.5M164.1,96.9L173.8,117.6M159.3,95.8L162.1,115.8M154.5,93.8L156.7,118.7M175.5,90.6L185.9,115.7M163.7,83.7L175.1,116.1M177.5,96.1L181.0,108.1M194.9,88.6L196.7,98.9M193.2,84.2L196.3,101.3M193.4,80.7L197.9,96.6M185.1,80.1L187.0,104.3M190.5,91.3L196.1,103.6M183.1,76.6L189.2,104.4M184.1,97.8L187.1,114.4M195.3,91.1L202.0,110.1M188.6,92.0L196.6,115.6M190.8,82.1L194.7,105.3M181.4,90.4L189.3,108.4M187.5,88.1L194.9,110.2M180.1,88.9L184.7,100.6M196.1,83.1L201.2,104.9M182.7,77.1L187.8,103.1M191.8,96.2L196.9,110.1M194.7,84.4L194.3,101.2M190.4,90.0L196.3,112.4M190.7,76.9L196.3,106.8M196.4,82.7L200.9,104.8M187.5,94.8L191.6,114.2M184.0,83.5L189.9,109.9M194.0,84.2L200.4,116.3M177.3,86.2L184.1,106.2M193.5,79.4L197.1,93.7M193.5,76.8L200.9,102.1M191.6,88.4L198.6,105.4M194.7,80.7L202.9,104.5M183.6,78.7L188.5,100.8M179.4,81.5L185.7,114.3M187.0,98.4L190.4,116.1M181.3,94.4L182.7,104.7" fill="none" stroke="#ff22b8" stroke-width="0.65" opacity="0.60"/>
<path d="M215.0,80.0 C217.8,79.5 225.8,76.3 232.0,77.0 C238.2,77.7 248.7,82.8 252.0,84.0" fill="none" stroke="#ff12c0" stroke-width="11.5" stroke-linecap="round" opacity="0.52" filter="url(#bl3)"/>
<path d="M215.0,80.0 C217.8,79.5 225.8,76.3 232.0,77.0 C238.2,77.7 248.7,82.8 252.0,84.0" fill="none" stroke="#ff10c8" stroke-width="4.5" stroke-linecap="round" opacity="0.36" filter="url(#bl1)"/>
<path d="M224.7,81.6L224.7,99.1M217.6,71.8L223.5,93.2M225.5,60.0L227.3,76.9M219.7,64.5L220.7,82.1M215.5,70.1L219.2,88.7M218.1,64.2L222.0,89.0M212.9,76.4L218.7,91.2M227.6,66.9L230.3,90.4M216.2,69.9L220.1,88.0M229.5,83.5L234.0,93.1M220.1,79.7L226.5,95.5M229.2,66.7L231.7,88.9M226.8,69.0L231.3,82.4M219.0,80.9L222.1,93.8M228.0,64.0L234.0,81.3M227.2,72.5L234.1,93.7M217.2,74.2L218.9,91.8M230.3,72.0L232.6,86.8M225.4,70.8L227.4,94.4M224.5,72.3L226.9,85.4M215.5,74.3L221.0,97.2M223.2,60.2L226.6,87.9M216.4,68.1L221.2,84.8M222.9,64.0L228.2,90.6M227.2,77.8L228.1,92.7M219.9,78.0L221.1,88.1M219.0,66.6L221.8,87.2M216.6,71.6L218.0,83.9M213.8,79.2L216.6,100.3M218.5,68.8L220.7,88.2M226.5,69.2L228.4,83.9M245.3,79.5L239.0,99.3M243.7,79.6L238.7,94.4M236.3,63.0L227.8,76.2M242.9,69.6L239.5,85.9M241.7,69.0L238.2,83.7M246.8,69.8L236.9,91.5M247.9,81.7L247.5,91.2M238.6,62.6L232.9,80.2M236.7,70.1L233.8,82.4M249.3,67.2L241.7,85.0M238.9,66.8L232.7,84.2M249.0,65.6L242.7,86.0M239.7,73.1L236.5,86.7M254.9,75.2L247.8,91.4M238.5,78.5L238.0,84.6M243.3,71.2L237.3,91.6M253.8,75.9L244.4,95.5M240.5,73.5L239.3,96.4M255.1,66.8L246.0,88.6M240.8,80.8L235.8,96.4M246.1,78.7L240.3,99.3M239.7,67.5L237.6,74.2M251.4,64.2L244.6,78.1M241.0,76.4L234.9,89.7M243.8,78.7L238.1,95.3M244.0,70.2L237.0,81.4M242.7,72.2L240.2,85.3M236.6,77.4L232.9,92.7M242.1,68.9L237.6,77.6M246.6,71.6L243.4,87.4M238.4,64.7L227.1,85.8M252.8,81.4L250.8,88.2M250.1,81.7L244.9,98.7M238.4,73.4L231.7,92.1M237.0,64.0L228.6,87.8M254.1,71.5L248.3,88.5M254.7,74.4L247.6,86.5M244.7,70.8L241.3,88.0" fill="none" stroke="#ff22b8" stroke-width="0.65" opacity="0.60"/>
<path d="M92.0,140.0 C92.5,143.3 93.8,153.3 95.0,160.0 C96.2,166.7 98.3,176.7 99.0,180.0" fill="none" stroke="#ff12c0" stroke-width="5.8" stroke-linecap="round" opacity="0.34" filter="url(#bl3)"/>
<path d="M92.0,140.0 C92.5,143.3 93.8,153.3 95.0,160.0 C96.2,166.7 98.3,176.7 99.0,180.0" fill="none" stroke="#ff10c8" stroke-width="2.2" stroke-linecap="round" opacity="0.24" filter="url(#bl1)"/>
<path d="M100.3,152.5L84.8,152.7M97.7,143.1L89.4,144.8M95.9,157.2L78.3,158.5M92.6,153.8L80.4,156.5M98.8,155.5L79.6,160.7M99.6,145.6L82.7,145.9M104.8,153.4L87.1,152.0M105.5,155.9L88.9,159.7M102.2,143.5L82.0,145.5M97.2,154.5L79.3,156.6M99.4,143.8L88.5,146.7M102.6,154.1L81.4,156.7M106.1,154.3L90.5,155.8M100.0,141.3L86.8,143.0M95.7,157.0L85.1,156.4M96.3,159.4L89.6,159.6M98.7,159.0L91.5,158.7M86.9,140.6L75.3,143.4M101.8,146.3L86.1,146.8M103.5,153.4L83.2,151.1M99.2,148.3L81.0,148.9M104.0,149.0L94.6,150.0M93.8,156.9L78.9,156.5M98.6,147.3L90.3,150.1M104.2,166.6L96.1,170.1M106.1,178.3L89.5,179.1M113.7,172.7L92.4,178.4M113.1,177.6L95.0,174.3M104.0,177.5L92.0,181.2M108.6,159.7L87.0,168.1M102.2,165.6L86.3,169.3M115.5,178.1L94.7,181.3M106.8,161.5L91.7,161.9M109.1,173.2L93.3,178.4M94.2,159.5L78.6,162.7M108.6,176.3L90.0,180.1M114.0,168.1L100.3,171.2M103.5,160.7L91.3,162.4M106.8,167.2L86.8,172.3M107.2,161.3L82.8,165.8M99.0,159.9L83.8,165.2M103.5,160.4L90.9,163.3M101.9,163.9L89.8,167.8M108.1,178.8L100.4,181.3M93.5,168.3L77.1,170.7M113.8,172.4L97.7,171.3M106.8,168.8L85.9,171.8M114.8,179.5L100.0,180.2" fill="none" stroke="#ff22b8" stroke-width="0.65" opacity="0.50"/>
<path d="M262.6,72.5 C262.6,76.6 262.6,92.9 262.6,97.0 C262.6,109.2 262.6,157.8 262.6,170.0 C253.8,183.3 228.6,233.2 210.0,250.0 C191.4,266.8 164.9,268.0 151.0,271.0 C137.1,274.0 131.5,270.0 126.6,268.0 C121.7,266.0 123.2,262.5 121.5,259.0 C119.8,255.5 118.2,250.8 116.5,247.0 C114.8,243.2 113.4,240.0 111.0,236.0 C108.6,232.0 106.2,227.9 102.0,223.0 C97.8,218.1 89.5,211.4 85.8,206.7 C82.1,201.9 80.5,198.6 79.7,194.5 C78.9,190.4 80.0,187.7 80.7,182.2 C81.4,176.7 82.2,168.5 83.8,161.7 C85.3,154.9 87.3,148.1 90.0,141.3 C92.7,134.5 95.9,127.5 100.0,121.0 C104.1,114.5 109.8,107.2 114.5,102.5 C119.2,97.8 122.1,95.8 128.0,93.0 C133.9,90.2 142.7,89.2 150.0,86.0 C157.3,82.8 163.9,77.4 171.7,74.0 C179.5,70.6 187.9,67.2 197.0,65.4 C206.1,63.6 216.5,62.5 226.0,63.0 C235.5,63.5 248.3,66.9 254.0,68.5 C259.7,70.1 258.6,71.8 260.0,72.5 C261.4,73.2 262.2,72.5 262.6,72.5 Z" fill="none" stroke="#ff2070" stroke-width="4.0" opacity="0.42"/>
<rect x="0" y="0" width="420" height="400" filter="url(#nz)" opacity="0.35"/>
</g>
<path d="M262.6,72.5 C262.6,76.6 262.6,92.9 262.6,97.0 C262.6,109.2 262.6,157.8 262.6,170.0 C253.8,183.3 228.6,233.2 210.0,250.0 C191.4,266.8 164.9,268.0 151.0,271.0 C137.1,274.0 131.5,270.0 126.6,268.0 C121.7,266.0 123.2,262.5 121.5,259.0 C119.8,255.5 118.2,250.8 116.5,247.0 C114.8,243.2 113.4,240.0 111.0,236.0 C108.6,232.0 106.2,227.9 102.0,223.0 C97.8,218.1 89.5,211.4 85.8,206.7 C82.1,201.9 80.5,198.6 79.7,194.5 C78.9,190.4 80.0,187.7 80.7,182.2 C81.4,176.7 82.2,168.5 83.8,161.7 C85.3,154.9 87.3,148.1 90.0,141.3 C92.7,134.5 95.9,127.5 100.0,121.0 C104.1,114.5 109.8,107.2 114.5,102.5 C119.2,97.8 122.1,95.8 128.0,93.0 C133.9,90.2 142.7,89.2 150.0,86.0 C157.3,82.8 163.9,77.4 171.7,74.0 C179.5,70.6 187.9,67.2 197.0,65.4 C206.1,63.6 216.5,62.5 226.0,63.0 C235.5,63.5 248.3,66.9 254.0,68.5 C259.7,70.1 258.6,71.8 260.0,72.5 C261.4,73.2 262.2,72.5 262.6,72.5 Z" fill="none" stroke="#0c0048" stroke-width="1.5"/>
<path d="M313.7,100.0 C313.7,105.8 313.7,129.2 313.7,135.0 C313.7,145.8 313.7,189.2 313.7,200.0 C304.8,215.0 279.9,271.2 260.0,290.0 C240.1,308.8 207.1,309.9 194.0,313.0 C180.9,316.1 186.1,311.9 181.7,308.8 C177.3,305.7 171.8,299.9 167.4,294.4 C163.0,288.9 159.6,280.7 155.0,276.0 C150.4,271.3 144.1,269.5 140.0,266.0 C135.9,262.5 132.4,258.6 130.5,255.0 C128.6,251.4 129.2,249.1 128.5,244.2 C127.8,239.3 126.2,231.7 126.2,225.5 C126.2,219.3 127.3,213.4 128.5,206.8 C129.7,200.2 131.4,192.4 133.2,185.8 C134.9,179.2 136.5,172.8 139.0,167.0 C141.5,161.2 144.5,156.1 148.4,150.7 C152.3,145.3 157.3,139.1 162.4,134.4 C167.5,129.7 173.4,126.2 178.8,122.7 C184.2,119.2 188.0,116.1 195.0,113.4 C202.0,110.7 211.6,108.6 220.8,106.4 C230.0,104.2 242.6,101.9 250.0,100.5 C257.4,99.1 260.0,98.3 265.0,98.0 C270.0,97.7 275.5,98.5 280.0,98.5 C284.5,98.5 288.7,97.6 292.0,98.0 C295.3,98.4 298.0,99.6 300.0,101.0 C302.0,102.4 303.3,105.6 304.0,106.5 C304.8,105.9 307.5,104.0 309.0,103.0 C310.5,102.0 312.5,100.9 313.2,100.5 C313.3,100.4 313.6,100.1 313.7,100.0 Z" fill="#1708f3"/>
<g clip-path="url(#cs3)">
<path d="M313.7,100.0 C313.7,105.8 313.7,129.2 313.7,135.0 C313.7,145.8 313.7,189.2 313.7,200.0 C304.8,215.0 279.9,271.2 260.0,290.0 C240.1,308.8 207.1,309.9 194.0,313.0 C180.9,316.1 186.1,311.9 181.7,308.8 C177.3,305.7 171.8,299.9 167.4,294.4 C163.0,288.9 159.6,280.7 155.0,276.0 C150.4,271.3 144.1,269.5 140.0,266.0 C135.9,262.5 132.4,258.6 130.5,255.0 C128.6,251.4 129.2,249.1 128.5,244.2 C127.8,239.3 126.2,231.7 126.2,225.5 C126.2,219.3 127.3,213.4 128.5,206.8 C129.7,200.2 131.4,192.4 133.2,185.8 C134.9,179.2 136.5,172.8 139.0,167.0 C141.5,161.2 144.5,156.1 148.4,150.7 C152.3,145.3 157.3,139.1 162.4,134.4 C167.5,129.7 173.4,126.2 178.8,122.7 C184.2,119.2 188.0,116.1 195.0,113.4 C202.0,110.7 211.6,108.6 220.8,106.4 C230.0,104.2 242.6,101.9 250.0,100.5 C257.4,99.1 260.0,98.3 265.0,98.0 C270.0,97.7 275.5,98.5 280.0,98.5 C284.5,98.5 288.7,97.6 292.0,98.0 C295.3,98.4 298.0,99.6 300.0,101.0 C302.0,102.4 303.3,105.6 304.0,106.5 C304.8,105.9 307.5,104.0 309.0,103.0 C310.5,102.0 312.5,100.9 313.2,100.5 C313.3,100.4 313.6,100.1 313.7,100.0 Z" fill="none" stroke="#2c2cff" stroke-width="18" opacity="0.45" filter="url(#bl3)"/>
<path d="M313.7,100.0 C313.7,105.8 313.7,129.2 313.7,135.0 C313.7,145.8 313.7,189.2 313.7,200.0 C304.8,215.0 279.9,271.2 260.0,290.0 C240.1,308.8 207.1,309.9 194.0,313.0 C180.9,316.1 186.1,311.9 181.7,308.8 C177.3,305.7 171.8,299.9 167.4,294.4 C163.0,288.9 159.6,280.7 155.0,276.0 C150.4,271.3 144.1,269.5 140.0,266.0 C135.9,262.5 132.4,258.6 130.5,255.0 C128.6,251.4 129.2,249.1 128.5,244.2 C127.8,239.3 126.2,231.7 126.2,225.5 C126.2,219.3 127.3,213.4 128.5,206.8 C129.7,200.2 131.4,192.4 133.2,185.8 C134.9,179.2 136.5,172.8 139.0,167.0 C141.5,161.2 144.5,156.1 148.4,150.7 C152.3,145.3 157.3,139.1 162.4,134.4 C167.5,129.7 173.4,126.2 178.8,122.7 C184.2,119.2 188.0,116.1 195.0,113.4 C202.0,110.7 211.6,108.6 220.8,106.4 C230.0,104.2 242.6,101.9 250.0,100.5 C257.4,99.1 260.0,98.3 265.0,98.0 C270.0,97.7 275.5,98.5 280.0,98.5 C284.5,98.5 288.7,97.6 292.0,98.0 C295.3,98.4 298.0,99.6 300.0,101.0 C302.0,102.4 303.3,105.6 304.0,106.5 C304.8,105.9 307.5,104.0 309.0,103.0 C310.5,102.0 312.5,100.9 313.2,100.5 C313.3,100.4 313.6,100.1 313.7,100.0 Z" fill="none" stroke="#07003a" stroke-width="5" opacity="0.75" filter="url(#bl1)"/>
<path d="M305.0,120.0 C298.3,119.7 279.2,116.7 265.0,118.0 C250.8,119.3 233.3,122.7 220.0,128.0 C206.7,133.3 194.2,140.5 185.0,150.0 C175.8,159.5 169.2,172.5 165.0,185.0 C160.8,197.5 160.0,214.2 160.0,225.0 C160.0,235.8 164.2,245.8 165.0,250.0" fill="none" stroke="#10067a" stroke-width="6" opacity="0.25" filter="url(#bl3)"/>
<rect x="0" y="0" width="420" height="400" filter="url(#nz)" opacity="0.75"/>
<path d="M222.0,125.0 C218.3,126.5 207.0,130.5 200.0,134.0 C193.0,137.5 185.7,141.3 180.0,146.0 C174.3,150.7 170.0,156.0 166.0,162.0 C162.0,168.0 158.7,175.7 156.0,182.0 C153.3,188.3 151.5,194.0 150.0,200.0 C148.5,206.0 147.7,212.0 147.0,218.0 C146.3,224.0 146.2,233.0 146.0,236.0" fill="none" stroke="#ff12c0" stroke-width="8.0" stroke-linecap="round" opacity="0.92" filter="url(#bl3)"/>
<path d="M222.0,125.0 C218.3,126.5 207.0,130.5 200.0,134.0 C193.0,137.5 185.7,141.3 180.0,146.0 C174.3,150.7 170.0,156.0 166.0,162.0 C162.0,168.0 158.7,175.7 156.0,182.0 C153.3,188.3 151.5,194.0 150.0,200.0 C148.5,206.0 147.7,212.0 147.0,218.0 C146.3,224.0 146.2,233.0 146.0,236.0" fill="none" stroke="#ff10c8" stroke-width="3.1" stroke-linecap="round" opacity="0.64" filter="url(#bl1)"/>
<path d="M229.4,135.3L219.4,111.7M221.5,132.9L215.1,109.4M209.9,130.1L200.6,111.6M210.4,141.0L198.4,117.5M218.2,145.1L203.0,112.1M204.1,131.6L198.0,113.9M205.0,139.2L196.6,115.7M225.5,140.9L219.0,120.6M214.8,154.7L195.7,123.7M227.9,139.6L216.7,112.1M215.4,136.3L202.5,110.9M213.6,139.6L207.0,120.0M205.1,153.3L196.7,121.7M221.1,136.0L215.2,123.3M211.4,142.6L200.1,122.0M211.2,131.5L209.5,120.6M208.1,150.7L199.7,126.0M203.3,134.0L195.7,115.6M207.0,147.5L198.8,133.7M218.4,147.9L204.7,119.2M226.0,138.6L215.3,113.2M222.1,140.3L211.4,120.4M212.1,137.1L208.0,126.0M219.0,132.6L208.3,113.7M221.8,141.6L207.9,110.2M204.6,136.8L194.0,116.4M205.2,128.7L198.0,112.6M208.2,130.9L199.8,110.1M209.8,145.0L198.6,117.8M215.4,131.6L212.2,119.8M217.0,133.3L208.5,108.2M217.3,150.1L211.3,115.4M212.4,140.7L202.6,121.1M190.2,142.7L176.2,118.8M196.0,137.5L189.5,120.3M190.9,155.6L180.5,130.7M191.4,144.7L181.9,132.4M191.7,157.2L170.9,132.1M207.4,142.2L191.4,122.6M201.7,147.6L191.5,126.4M192.2,155.6L179.7,139.3M189.2,153.7L174.6,132.6M194.0,156.4L178.7,126.7M186.3,157.9L179.6,136.7M197.0,146.3L188.7,127.0M194.1,145.8L181.4,126.1M190.8,156.2L177.9,133.3M191.2,145.3L184.6,134.9M204.8,151.2L190.3,124.1M196.0,150.5L190.4,137.5M204.8,131.5L197.7,118.6M195.0,152.7L187.9,126.3M186.5,151.0L179.7,141.5M204.8,139.5L195.0,122.6M186.3,144.9L171.1,126.2M200.7,146.5L188.8,125.9M194.6,139.4L186.4,127.8M191.9,157.9L178.6,140.3M199.7,139.8L192.3,127.6M201.8,152.9L193.3,133.6M198.9,144.7L186.6,119.1M195.5,148.3L183.5,130.8M200.9,142.2L194.8,134.5M201.2,137.4L193.5,123.5M200.5,146.3L195.7,129.1M174.2,160.2L165.1,154.4M190.0,168.1L169.1,143.1M175.8,159.5L161.7,150.1M180.2,164.1L154.8,147.3M188.0,173.7L159.9,149.7M195.6,156.9L172.4,136.5M174.6,160.1L166.1,152.3M181.9,176.5L158.7,158.4M181.1,152.3L169.3,146.1M181.4,163.1L163.4,142.3M178.3,163.3L156.1,147.9M189.8,154.8L174.8,142.5M184.6,154.7L166.3,140.9M192.4,159.0L178.2,148.8M195.4,158.2L173.5,146.6M180.8,168.0L171.0,158.4M186.0,163.9L161.2,146.3M181.1,167.1L160.3,150.7M186.2,151.8L172.5,140.0M181.2,163.9L153.3,140.5M180.4,160.3L163.2,146.5M193.4,151.3L179.5,140.3M176.3,169.3L153.7,153.1M182.4,168.6L165.6,153.4M178.1,159.0L163.5,148.5M169.3,168.1L149.7,150.4M190.8,161.7L170.8,146.7M177.2,175.3L156.9,160.4M172.1,165.1L161.8,145.0M164.9,179.2L146.8,168.2M175.6,174.8L157.2,164.2M178.9,169.6L147.6,156.0M182.7,173.0L158.5,167.2M179.8,162.2L160.8,155.5M177.8,175.1L153.2,158.9M162.3,178.8L140.6,170.7M173.0,185.1L142.3,167.2M167.4,173.3L148.0,163.7M166.2,177.9L156.4,170.5M165.3,185.2L146.6,174.2M182.3,179.9L159.4,168.9M165.0,176.8L145.3,166.2M167.0,185.4L145.8,174.7M165.3,174.0L148.3,167.4M178.5,184.3L150.2,176.1M167.2,178.4L143.4,171.3M182.0,181.4L159.3,171.4M164.6,173.0L152.7,168.2M171.9,184.6L146.2,170.6M170.5,175.8L144.4,161.7M165.5,182.1L153.2,175.3M166.8,168.4L148.0,164.2M158.4,181.0L135.1,172.4M161.0,186.5L145.4,177.1M168.8,175.2L152.1,163.6M167.5,183.3L142.8,168.0M164.0,183.0L144.9,176.7M161.1,168.8L145.8,160.5M175.2,190.2L148.9,169.0M184.8,175.2L157.5,158.6M161.0,201.3L140.0,191.6M168.7,198.1L138.2,187.7M167.0,193.6L140.5,184.0M174.8,195.1L141.7,193.0M165.3,200.5L135.4,189.1M163.0,184.2L147.4,181.1M171.6,201.9L138.6,188.6M164.6,202.3L144.7,194.9M156.8,196.5L137.8,189.0M160.0,203.8L133.8,189.5M172.3,193.8L144.5,183.2M161.0,196.6L151.4,190.6M149.8,201.9L125.4,192.6M160.1,205.0L135.5,198.6M161.1,185.3L147.1,180.9M167.9,189.6L151.4,184.1M167.1,191.6L146.4,187.4M164.6,200.7L143.8,192.4M169.6,198.6L139.6,193.5M158.2,202.7L130.9,193.9M168.8,204.3L140.7,187.4M157.3,194.6L136.9,184.9M156.9,201.4L129.6,193.1M161.1,201.1L134.4,189.1M162.0,192.5L145.9,185.8M158.9,184.8L138.9,181.5M158.4,212.3L127.4,215.1M159.7,218.8L131.7,208.7M162.0,211.0L135.4,204.1M157.2,219.5L129.3,210.1M159.8,203.4L143.5,201.9M151.2,218.9L135.5,218.3M158.4,204.4L144.9,200.1M155.6,207.7L138.9,205.6M147.7,210.4L138.9,208.9M172.5,218.4L148.3,214.2M162.9,214.0L133.7,206.5M164.7,207.7L139.6,205.8M157.1,211.8L139.9,210.3M168.1,207.8L134.9,210.0M161.7,208.4L127.9,201.7M165.8,217.5L142.9,213.5M164.0,201.2L149.6,196.6M158.7,209.0L131.9,207.1M151.2,214.5L134.8,209.4M153.5,206.8L132.1,204.6M159.9,207.6L147.1,207.1M153.4,203.3L137.5,200.6M156.5,201.1L130.0,200.3M152.4,205.1L125.9,206.5M151.8,215.7L131.9,211.6M164.5,231.5L127.5,228.7M147.5,233.8L124.6,235.0M149.5,225.5L135.0,224.3M168.3,234.3L145.3,228.5M164.7,230.6L141.9,230.6M157.8,226.7L132.7,227.4M163.9,235.9L140.2,229.2M165.2,224.2L133.0,222.3M154.8,237.2L128.5,234.4M157.9,220.2L128.7,217.3M160.3,234.7L138.0,232.9M150.7,220.2L139.2,221.4M157.4,234.2L135.1,229.3M148.6,228.4L133.2,228.2M158.1,218.9L133.6,217.0M158.9,235.3L137.7,230.9M173.6,234.5L141.4,233.8M157.3,231.4L139.6,227.7M158.6,234.3L138.2,232.4M150.6,222.2L131.0,219.7M148.3,230.7L126.4,228.8M158.7,230.5L134.3,228.1M160.1,228.4L134.3,223.9M154.0,230.4L141.1,231.0M164.1,236.1L136.1,235.5" fill="none" stroke="#ff22b8" stroke-width="0.65" opacity="0.60"/>
<path d="M276.0,110.0 C278.3,111.3 286.7,115.3 290.0,118.0 C293.3,120.7 295.0,124.7 296.0,126.0" fill="none" stroke="#ff12c0" stroke-width="11.5" stroke-linecap="round" opacity="0.52" filter="url(#bl3)"/>
<path d="M276.0,110.0 C278.3,111.3 286.7,115.3 290.0,118.0 C293.3,120.7 295.0,124.7 296.0,126.0" fill="none" stroke="#ff10c8" stroke-width="4.5" stroke-linecap="round" opacity="0.36" filter="url(#bl1)"/>
<path d="M292.3,110.9L287.0,120.9M292.8,106.4L285.4,121.9M290.0,101.3L280.3,116.4M288.6,111.3L274.1,123.9M283.8,117.2L278.5,123.4M287.3,111.6L278.4,127.0M286.9,110.2L280.1,120.6M281.9,115.7L276.5,124.8M286.7,101.3L277.7,119.9M282.9,111.5L280.2,117.4M286.5,108.9L281.2,117.1M290.0,105.4L278.6,119.9M283.8,110.5L279.9,118.8M290.7,115.6L286.2,125.0M294.0,111.2L287.8,123.3M294.5,117.0L287.7,124.8M278.1,110.9L274.2,118.0M282.2,106.0L278.4,113.2M292.9,107.7L281.6,120.3M288.0,108.4L286.3,112.9M290.7,113.7L284.4,124.8M290.1,104.0L284.3,114.5M300.5,115.2L291.0,121.4M303.8,114.1L297.8,119.3M303.4,117.4L289.6,123.9M300.2,118.0L288.2,128.9M301.5,118.1L291.5,125.7M292.7,124.8L279.2,132.5M297.5,124.2L288.0,131.3M300.9,121.2L286.4,129.4M299.4,119.3L286.6,126.5M294.2,120.0L283.2,132.0M306.4,119.1L292.3,131.1M295.0,114.8L283.0,122.8M299.9,119.7L292.4,126.1M298.1,116.3L286.6,124.9" fill="none" stroke="#ff22b8" stroke-width="0.65" opacity="0.50"/>
<path d="M230.0,118.0 L255.0,112.0" fill="none" stroke="#ff12c0" stroke-width="6.9" stroke-linecap="round" opacity="0.40" filter="url(#bl3)"/>
<path d="M230.0,118.0 L255.0,112.0" fill="none" stroke="#ff10c8" stroke-width="2.7" stroke-linecap="round" opacity="0.28" filter="url(#bl1)"/>
<path d="M230.6,106.8L235.3,121.0M248.4,109.4L252.2,121.9M239.5,107.2L242.2,117.9M236.8,117.2L239.1,124.8M244.0,101.5L245.3,118.0M246.5,107.0L248.4,120.3M246.6,109.9L249.7,119.1M236.7,113.4L244.8,127.3M235.2,111.5L238.1,124.7M232.2,112.6L236.4,130.5M231.5,105.6L233.8,116.0M233.1,104.8L236.6,117.1M245.7,114.8L246.5,131.2M231.0,108.8L232.5,116.9M233.7,104.4L241.7,119.5M251.3,101.9L252.1,113.1M245.9,110.4L249.8,122.9M236.3,113.4L240.4,127.2M236.5,118.0L240.2,132.5M247.6,109.6L249.1,120.7M251.2,107.8L253.8,120.1M247.5,101.9L253.9,122.4M246.8,109.4L248.3,127.5M234.0,105.0L237.0,123.6M245.0,105.5L249.5,121.0M241.6,108.9L244.7,119.3M234.7,106.9L236.6,117.6M235.0,109.0L239.9,123.2M230.0,109.9L232.3,116.4M248.0,108.3L249.8,119.9" fill="none" stroke="#ff22b8" stroke-width="0.65" opacity="0.50"/>
<path d="M208.0,158.4 C209.6,153.5 213.4,150.6 216.8,148.2 C220.2,145.8 225.6,143.8 228.5,143.8 C231.4,143.8 233.6,144.8 234.3,148.2 C235.0,151.6 234.8,159.8 232.8,164.2 C230.9,168.6 226.0,171.3 222.6,174.5 C219.2,177.7 214.9,182.7 212.4,183.2 C209.9,183.7 208.1,181.5 207.4,177.4 C206.7,173.3 206.4,163.3 208.0,158.4 Z" fill="#000"/>
<path d="M212.5,176.0 C212.3,174.0 212.2,168.8 213.0,166.0 C213.8,163.2 215.5,160.5 217.0,159.0 C218.5,157.5 221.7,156.7 222.0,157.0 C222.3,157.3 219.3,159.7 219.0,161.0 C218.7,162.3 220.5,163.8 220.0,165.0 C219.5,166.2 216.5,166.8 216.0,168.0 C215.5,169.2 217.3,170.3 217.0,172.0 C216.7,173.7 214.8,177.3 214.0,178.0 C213.2,178.7 212.7,178.0 212.5,176.0 Z" fill="#2a2aff"/>
<path d="M313.7,100.0 C313.7,105.8 313.7,129.2 313.7,135.0 C313.7,145.8 313.7,189.2 313.7,200.0 C304.8,215.0 279.9,271.2 260.0,290.0 C240.1,308.8 207.1,309.9 194.0,313.0 C180.9,316.1 186.1,311.9 181.7,308.8 C177.3,305.7 171.8,299.9 167.4,294.4 C163.0,288.9 159.6,280.7 155.0,276.0 C150.4,271.3 144.1,269.5 140.0,266.0 C135.9,262.5 132.4,258.6 130.5,255.0 C128.6,251.4 129.2,249.1 128.5,244.2 C127.8,239.3 126.2,231.7 126.2,225.5 C126.2,219.3 127.3,213.4 128.5,206.8 C129.7,200.2 131.4,192.4 133.2,185.8 C134.9,179.2 136.5,172.8 139.0,167.0 C141.5,161.2 144.5,156.1 148.4,150.7 C152.3,145.3 157.3,139.1 162.4,134.4 C167.5,129.7 173.4,126.2 178.8,122.7 C184.2,119.2 188.0,116.1 195.0,113.4 C202.0,110.7 211.6,108.6 220.8,106.4 C230.0,104.2 242.6,101.9 250.0,100.5 C257.4,99.1 260.0,98.3 265.0,98.0 C270.0,97.7 275.5,98.5 280.0,98.5 C284.5,98.5 288.7,97.6 292.0,98.0 C295.3,98.4 298.0,99.6 300.0,101.0 C302.0,102.4 303.3,105.6 304.0,106.5 C304.8,105.9 307.5,104.0 309.0,103.0 C310.5,102.0 312.5,100.9 313.2,100.5 C313.3,100.4 313.6,100.1 313.7,100.0 Z" fill="none" stroke="#ff2070" stroke-width="4.0" opacity="0.42"/>
<rect x="0" y="0" width="420" height="400" filter="url(#nz)" opacity="0.35"/>
</g>
<path d="M313.7,100.0 C313.7,105.8 313.7,129.2 313.7,135.0 C313.7,145.8 313.7,189.2 313.7,200.0 C304.8,215.0 279.9,271.2 260.0,290.0 C240.1,308.8 207.1,309.9 194.0,313.0 C180.9,316.1 186.1,311.9 181.7,308.8 C177.3,305.7 171.8,299.9 167.4,294.4 C163.0,288.9 159.6,280.7 155.0,276.0 C150.4,271.3 144.1,269.5 140.0,266.0 C135.9,262.5 132.4,258.6 130.5,255.0 C128.6,251.4 129.2,249.1 128.5,244.2 C127.8,239.3 126.2,231.7 126.2,225.5 C126.2,219.3 127.3,213.4 128.5,206.8 C129.7,200.2 131.4,192.4 133.2,185.8 C134.9,179.2 136.5,172.8 139.0,167.0 C141.5,161.2 144.5,156.1 148.4,150.7 C152.3,145.3 157.3,139.1 162.4,134.4 C167.5,129.7 173.4,126.2 178.8,122.7 C184.2,119.2 188.0,116.1 195.0,113.4 C202.0,110.7 211.6,108.6 220.8,106.4 C230.0,104.2 242.6,101.9 250.0,100.5 C257.4,99.1 260.0,98.3 265.0,98.0 C270.0,97.7 275.5,98.5 280.0,98.5 C284.5,98.5 288.7,97.6 292.0,98.0 C295.3,98.4 298.0,99.6 300.0,101.0 C302.0,102.4 303.3,105.6 304.0,106.5 C304.8,105.9 307.5,104.0 309.0,103.0 C310.5,102.0 312.5,100.9 313.2,100.5 C313.3,100.4 313.6,100.1 313.7,100.0 Z" fill="none" stroke="#0c0048" stroke-width="1.5"/>
<path d="M371.0,135.3 C371.0,142.1 371.0,169.2 371.0,176.0 C371.0,190.0 371.0,246.0 371.0,260.0 C359.2,275.0 319.3,333.8 300.0,350.0 C280.7,366.2 264.8,357.3 255.0,357.5 C245.2,357.7 245.4,353.2 241.0,351.0 C236.6,348.8 232.1,347.5 228.6,344.0 C225.1,340.5 223.4,335.1 220.0,330.0 C216.6,324.9 212.3,316.6 208.0,313.6 C203.7,310.6 197.3,314.9 194.0,312.0 C190.7,309.1 189.4,301.2 188.0,296.0 C186.6,290.8 186.3,286.5 185.5,280.8 C184.7,275.1 183.3,267.1 183.0,262.0 C182.7,256.9 183.1,255.0 183.5,250.0 C183.9,245.0 184.3,238.5 185.5,232.0 C186.7,225.5 188.1,217.8 190.5,211.0 C192.9,204.2 196.1,197.2 200.0,191.0 C203.9,184.8 208.5,179.0 214.0,174.0 C219.5,169.0 226.0,164.8 233.0,161.0 C240.0,157.2 248.2,154.8 256.0,151.5 C263.8,148.2 272.6,143.8 280.0,141.5 C287.4,139.2 291.9,138.6 300.4,137.4 C308.9,136.2 323.6,134.5 331.0,134.3 C338.4,134.2 340.8,135.5 345.0,136.5 C349.2,137.5 353.3,139.1 356.0,140.5 C358.7,141.9 360.2,144.2 361.0,145.0 C361.8,144.1 364.4,141.1 366.0,139.5 C367.6,137.9 369.8,136.2 370.6,135.5 C370.7,135.5 370.9,135.3 371.0,135.3 Z" fill="#1408e7"/>
<g clip-path="url(#cs4)">
<path d="M371.0,135.3 C371.0,142.1 371.0,169.2 371.0,176.0 C371.0,190.0 371.0,246.0 371.0,260.0 C359.2,275.0 319.3,333.8 300.0,350.0 C280.7,366.2 264.8,357.3 255.0,357.5 C245.2,357.7 245.4,353.2 241.0,351.0 C236.6,348.8 232.1,347.5 228.6,344.0 C225.1,340.5 223.4,335.1 220.0,330.0 C216.6,324.9 212.3,316.6 208.0,313.6 C203.7,310.6 197.3,314.9 194.0,312.0 C190.7,309.1 189.4,301.2 188.0,296.0 C186.6,290.8 186.3,286.5 185.5,280.8 C184.7,275.1 183.3,267.1 183.0,262.0 C182.7,256.9 183.1,255.0 183.5,250.0 C183.9,245.0 184.3,238.5 185.5,232.0 C186.7,225.5 188.1,217.8 190.5,211.0 C192.9,204.2 196.1,197.2 200.0,191.0 C203.9,184.8 208.5,179.0 214.0,174.0 C219.5,169.0 226.0,164.8 233.0,161.0 C240.0,157.2 248.2,154.8 256.0,151.5 C263.8,148.2 272.6,143.8 280.0,141.5 C287.4,139.2 291.9,138.6 300.4,137.4 C308.9,136.2 323.6,134.5 331.0,134.3 C338.4,134.2 340.8,135.5 345.0,136.5 C349.2,137.5 353.3,139.1 356.0,140.5 C358.7,141.9 360.2,144.2 361.0,145.0 C361.8,144.1 364.4,141.1 366.0,139.5 C367.6,137.9 369.8,136.2 370.6,135.5 C370.7,135.5 370.9,135.3 371.0,135.3 Z" fill="none" stroke="#2c2cff" stroke-width="18" opacity="0.45" filter="url(#bl3)"/>
<path d="M371.0,135.3 C371.0,142.1 371.0,169.2 371.0,176.0 C371.0,190.0 371.0,246.0 371.0,260.0 C359.2,275.0 319.3,333.8 300.0,350.0 C280.7,366.2 264.8,357.3 255.0,357.5 C245.2,357.7 245.4,353.2 241.0,351.0 C236.6,348.8 232.1,347.5 228.6,344.0 C225.1,340.5 223.4,335.1 220.0,330.0 C216.6,324.9 212.3,316.6 208.0,313.6 C203.7,310.6 197.3,314.9 194.0,312.0 C190.7,309.1 189.4,301.2 188.0,296.0 C186.6,290.8 186.3,286.5 185.5,280.8 C184.7,275.1 183.3,267.1 183.0,262.0 C182.7,256.9 183.1,255.0 183.5,250.0 C183.9,245.0 184.3,238.5 185.5,232.0 C186.7,225.5 188.1,217.8 190.5,211.0 C192.9,204.2 196.1,197.2 200.0,191.0 C203.9,184.8 208.5,179.0 214.0,174.0 C219.5,169.0 226.0,164.8 233.0,161.0 C240.0,157.2 248.2,154.8 256.0,151.5 C263.8,148.2 272.6,143.8 280.0,141.5 C287.4,139.2 291.9,138.6 300.4,137.4 C308.9,136.2 323.6,134.5 331.0,134.3 C338.4,134.2 340.8,135.5 345.0,136.5 C349.2,137.5 353.3,139.1 356.0,140.5 C358.7,141.9 360.2,144.2 361.0,145.0 C361.8,144.1 364.4,141.1 366.0,139.5 C367.6,137.9 369.8,136.2 370.6,135.5 C370.7,135.5 370.9,135.3 371.0,135.3 Z" fill="none" stroke="#07003a" stroke-width="5" opacity="0.75" filter="url(#bl1)"/>
<path d="M365.0,160.0 C357.5,159.7 335.0,157.2 320.0,158.0 C305.0,158.8 288.3,160.5 275.0,165.0 C261.7,169.5 248.8,176.7 240.0,185.0 C231.2,193.3 226.2,204.2 222.0,215.0 C217.8,225.8 215.7,239.2 215.0,250.0 C214.3,260.8 217.5,275.0 218.0,280.0" fill="none" stroke="#10067a" stroke-width="6" opacity="0.25" filter="url(#bl3)"/>
<rect x="0" y="0" width="420" height="400" filter="url(#nz)" opacity="0.75"/>
<path d="M282.0,160.0 C278.8,161.4 269.2,165.3 263.0,168.7 C256.8,172.1 250.5,176.0 244.7,180.4 C238.9,184.8 232.8,189.6 228.0,195.0 C223.2,200.4 219.2,206.8 216.0,213.0 C212.8,219.2 210.8,225.5 209.0,232.0 C207.2,238.5 206.0,245.7 205.0,252.0 C204.0,258.3 203.3,267.0 203.0,270.0" fill="none" stroke="#ff12c0" stroke-width="8.0" stroke-linecap="round" opacity="0.92" filter="url(#bl3)"/>
<path d="M282.0,160.0 C278.8,161.4 269.2,165.3 263.0,168.7 C256.8,172.1 250.5,176.0 244.7,180.4 C238.9,184.8 232.8,189.6 228.0,195.0 C223.2,200.4 219.2,206.8 216.0,213.0 C212.8,219.2 210.8,225.5 209.0,232.0 C207.2,238.5 206.0,245.7 205.0,252.0 C204.0,258.3 203.3,267.0 203.0,270.0" fill="none" stroke="#ff10c8" stroke-width="3.1" stroke-linecap="round" opacity="0.64" filter="url(#bl1)"/>
<path d="M272.3,172.1L261.2,153.6M277.5,167.1L264.7,146.2M284.4,165.3L276.6,139.8M268.6,178.2L257.2,151.9M285.1,165.6L274.5,134.0M273.9,186.2L266.2,160.5M270.3,184.9L259.1,153.3M279.9,176.5L270.1,158.8M270.2,177.1L261.0,165.0M289.2,175.2L277.5,151.5M279.4,173.1L271.5,160.6M272.1,168.1L265.5,154.5M270.4,184.6L261.1,166.0M267.6,178.8L262.7,165.3M284.5,174.3L267.8,152.5M283.3,174.0L272.2,148.2M288.5,178.6L272.4,147.0M286.2,173.6L273.4,151.6M282.2,169.1L273.5,145.2M265.2,173.8L256.4,151.0M278.6,171.4L263.1,148.6M280.9,171.4L270.9,156.3M280.8,168.2L274.9,149.1M286.7,163.8L276.9,138.4M286.8,178.8L277.6,152.9M274.5,174.6L264.2,143.5M268.7,176.4L261.4,158.4M276.6,182.3L263.6,161.4M287.1,166.1L274.3,139.9M256.9,184.2L249.2,171.7M253.9,188.9L243.6,174.3M263.3,194.5L249.8,173.9M251.9,189.5L240.1,170.6M260.2,173.9L254.5,162.6M257.6,182.7L245.1,164.8M260.9,188.4L250.0,176.3M270.3,188.5L258.9,159.8M248.0,188.8L239.6,175.2M256.6,198.3L237.2,170.1M253.2,191.0L235.4,164.2M263.4,179.3L255.5,171.1M256.8,190.1L241.4,172.0M260.5,178.9L246.9,160.0M259.2,176.6L251.2,158.7M253.8,179.4L246.8,169.7M255.3,188.6L236.1,168.3M265.2,182.4L257.4,171.3M245.3,179.0L230.8,163.1M260.1,175.9L252.8,156.8M263.3,174.3L252.0,157.9M263.6,189.3L240.2,165.8M259.2,183.4L243.7,165.0M250.0,180.2L239.2,161.6M252.6,189.3L240.1,168.7M258.2,188.9L244.4,162.3M261.2,187.9L243.4,167.1M271.5,181.3L257.6,163.5M263.5,173.0L256.6,163.2M263.2,179.7L253.3,164.3M254.2,198.5L241.2,178.4M242.2,185.6L229.7,165.0M252.7,202.6L230.5,174.3M243.5,197.1L225.8,175.0M234.1,195.5L219.2,182.5M244.1,195.7L227.5,175.1M237.3,195.5L230.1,188.0M237.6,201.1L223.7,183.5M249.8,194.0L231.3,177.5M241.8,196.5L228.0,181.7M248.3,200.0L231.1,177.0M247.0,197.0L233.7,184.0M237.1,198.4L218.5,183.0M251.1,193.2L232.4,168.3M252.8,193.5L236.4,171.4M255.6,198.7L234.2,180.3M246.2,210.7L228.8,185.7M242.3,199.6L222.3,179.3M239.2,200.9L222.6,184.7M244.6,203.2L229.2,178.2M252.4,197.6L230.1,173.1M244.3,180.8L234.3,166.0M238.9,195.1L228.0,181.6M249.4,202.4L234.7,184.0M236.7,205.7L225.8,192.3M247.0,192.1L233.0,170.0M248.9,194.9L229.1,167.9M244.5,200.7L218.8,178.6M244.6,198.2L230.7,165.5M240.1,208.5L223.6,189.5M259.5,194.8L244.1,178.5M239.3,212.3L209.6,190.3M236.2,204.0L211.6,187.3M235.0,220.1L211.8,202.6M237.1,199.1L214.4,183.2M241.9,200.1L227.4,191.9M232.7,205.3L214.1,195.3M229.0,195.1L216.9,189.0M232.3,199.9L218.6,190.9M229.0,211.9L212.4,197.5M243.1,204.8L210.7,188.3M231.8,220.5L208.4,199.5M234.0,211.7L212.0,203.1M224.9,219.9L210.0,210.3M227.6,210.5L217.2,201.4M229.0,198.9L214.9,190.1M236.2,213.7L205.4,195.0M239.6,209.9L213.4,196.1M240.2,207.7L226.6,196.6M230.1,210.4L215.0,199.1M237.0,212.8L208.1,194.9M227.8,204.5L208.8,195.2M234.5,213.5L216.2,201.2M223.2,201.7L210.8,190.8M237.5,201.9L221.9,194.4M239.1,201.4L225.6,192.0M235.2,200.1L224.0,191.5M233.9,210.2L213.5,197.7M245.4,204.8L210.3,191.7M232.9,207.3L221.6,196.8M226.1,210.4L209.2,202.3M231.8,215.8L212.4,207.7M231.8,223.6L202.2,210.9M227.2,236.4L198.8,219.2M233.5,221.0L214.3,212.6M235.8,229.0L212.6,219.7M231.8,236.1L198.5,227.6M224.1,231.6L198.4,225.7M214.3,232.7L198.7,226.6M218.5,222.8L195.3,213.2M226.3,217.4L203.9,211.8M222.4,237.3L199.5,224.8M229.1,231.7L195.7,224.0M223.0,219.6L206.3,214.4M226.7,221.3L211.9,216.5M226.5,237.0L198.1,220.4M228.8,227.6L196.6,222.4M225.8,218.5L198.9,214.5M219.7,227.0L196.2,211.1M219.2,223.0L202.4,215.0M235.8,222.6L205.1,209.4M225.1,217.5L206.9,210.7M214.3,223.1L201.9,220.3M229.7,232.7L201.9,224.0M217.5,220.2L194.0,208.1M225.9,235.7L208.5,226.2M223.8,227.9L202.6,217.7M223.1,226.3L192.8,220.3M219.7,233.4L195.9,224.2M220.6,236.2L201.7,236.7M212.8,235.9L197.7,231.6M224.0,237.4L199.4,236.7M215.1,243.4L187.4,238.3M221.1,252.5L194.0,246.1M218.2,251.9L182.2,244.9M216.0,241.0L189.5,238.6M227.6,239.0L209.7,232.7M215.3,244.5L189.6,244.5M213.9,238.3L199.3,236.0M220.6,256.5L201.2,249.6M221.9,239.7L190.2,238.2M220.9,237.3L199.5,230.6M223.9,251.0L196.1,242.5M204.7,242.2L178.3,239.7M219.6,241.6L191.9,241.1M219.2,250.1L192.7,248.9M213.3,239.4L191.5,239.7M219.3,237.7L198.6,225.8M213.5,246.6L186.1,242.9M218.1,248.3L202.2,244.9M213.5,245.6L190.7,242.9M216.4,254.9L189.7,249.2M221.5,247.6L199.0,239.8M210.2,237.4L192.1,232.6M215.5,250.8L196.7,250.5M213.9,237.4L199.2,234.2M212.4,254.1L178.6,244.3M212.6,259.8L192.6,257.1M217.7,255.2L199.8,254.0M214.3,268.2L197.8,264.6M204.6,253.3L192.6,251.1M225.8,266.9L198.8,267.4M219.7,259.7L195.4,252.7M218.2,263.9L194.4,257.9M212.4,272.1L186.7,267.0M218.3,253.9L189.5,251.1M221.0,265.4L192.5,260.2M217.4,258.9L205.1,256.1M213.6,266.9L189.3,268.4M220.5,259.4L188.4,262.6M221.4,265.9L187.7,253.6M209.9,262.6L193.2,259.7M221.9,266.9L193.1,261.4M209.2,261.9L198.8,259.6M217.7,265.7L193.1,262.1M209.9,269.6L195.1,265.5M219.0,254.8L203.7,255.7M221.2,262.6L190.7,259.0M220.6,268.6L194.2,266.2M217.0,251.9L194.4,252.8M213.2,273.2L189.1,269.3M213.1,269.3L188.9,264.2" fill="none" stroke="#ff22b8" stroke-width="0.65" opacity="0.60"/>
<path d="M300.0,150.0 C305.0,149.3 321.3,146.0 330.0,146.0 C338.7,146.0 348.3,149.3 352.0,150.0" fill="none" stroke="#ff12c0" stroke-width="9.2" stroke-linecap="round" opacity="0.29" filter="url(#bl3)"/>
<path d="M300.0,150.0 C305.0,149.3 321.3,146.0 330.0,146.0 C338.7,146.0 348.3,149.3 352.0,150.0" fill="none" stroke="#ff10c8" stroke-width="3.6" stroke-linecap="round" opacity="0.20" filter="url(#bl1)"/>
<path d="M325.7,128.6L329.0,142.2M317.9,149.2L319.0,161.2M303.3,143.0L306.8,154.1M305.0,151.7L306.0,159.8M310.1,148.9L314.5,157.6M305.6,144.4L306.8,157.5M324.0,141.1L329.0,159.1M306.9,153.6L307.2,165.4M301.0,144.9L303.1,159.2M313.1,138.0L315.3,152.3M317.7,142.0L321.6,156.6M324.4,138.6L328.3,148.1M322.6,144.0L324.4,153.0M308.4,146.4L306.6,159.3M300.1,144.5L303.8,159.2M320.7,150.8L323.7,162.1M301.0,146.0L302.9,160.7M303.0,151.6L303.5,159.0M304.5,156.9L306.5,165.7M311.0,150.6L312.6,162.3M303.9,147.1L306.2,163.2M322.2,140.1L323.6,153.8M324.0,138.8L322.3,148.0M315.9,152.9L315.9,163.2M305.4,146.9L304.6,158.3M301.5,148.8L304.0,160.9M328.5,146.0L329.9,158.0M328.1,141.2L330.8,152.3M302.2,141.6L303.7,154.0M319.7,147.4L320.7,156.1M300.7,138.8L301.6,153.4M326.0,151.1L324.4,162.4M304.8,148.6L306.6,155.6M329.4,145.9L328.8,155.5M324.8,138.9L327.0,150.2M303.0,152.4L306.9,162.5M345.9,148.5L344.6,156.9M336.6,135.4L332.6,150.3M347.0,144.0L341.9,155.5M338.7,129.6L336.6,136.7M344.6,144.6L341.4,152.0M338.4,140.1L336.6,149.6M343.9,138.1L342.6,147.6M351.2,136.4L349.7,147.3M331.4,140.6L326.6,151.4M337.0,144.2L334.2,153.5M339.1,150.8L337.8,162.3M348.3,156.5L346.0,168.2M352.6,140.2L349.7,152.9M344.2,142.4L338.1,153.6M336.1,142.6L333.4,155.8M352.2,152.9L348.3,163.0M341.7,141.8L340.6,158.4M346.0,152.4L344.6,157.9M340.0,143.5L337.6,151.7M335.5,140.5L331.1,154.4M332.7,148.0L332.0,154.6M350.8,149.5L346.1,163.0M348.2,154.7L348.5,166.2M353.5,150.9L350.2,161.4M337.4,137.8L336.4,150.2M336.4,139.3L330.2,154.4" fill="none" stroke="#ff22b8" stroke-width="0.65" opacity="0.45"/>
<path d="M262.0,197.0 C264.2,196.0 266.6,197.3 268.0,199.0 C269.4,200.7 270.7,203.8 270.4,207.0 C270.1,210.2 267.7,215.4 266.0,218.0 C264.3,220.6 261.7,222.9 260.0,222.4 C258.3,221.9 256.8,217.9 256.0,215.0 C255.2,212.1 254.0,208.0 255.0,205.0 C256.0,202.0 259.8,198.0 262.0,197.0 Z" fill="#000"/>
<path d="M286.0,197.0 C285.2,194.2 290.6,183.0 295.0,179.0 C299.4,175.0 306.2,173.9 312.6,173.0 C319.0,172.1 328.7,172.5 333.6,173.8 C338.6,175.1 342.9,177.8 342.3,180.8 C341.7,183.8 337.1,189.5 330.0,192.0 C322.9,194.5 307.3,195.2 300.0,196.0 C292.7,196.8 286.8,199.8 286.0,197.0 Z" fill="#0c0460" opacity="0.5" filter="url(#bl1)"/>
<path d="M286.3,198.0 C287.8,194.8 290.6,183.4 295.0,179.0 C299.4,174.6 306.2,172.6 312.6,171.5 C319.0,170.4 328.0,170.7 333.6,172.3 C339.2,173.9 343.9,179.6 346.0,181.0" fill="none" stroke="#2e2aff" stroke-width="2.4"/>
<path d="M371.0,135.3 C371.0,142.1 371.0,169.2 371.0,176.0 C371.0,190.0 371.0,246.0 371.0,260.0 C359.2,275.0 319.3,333.8 300.0,350.0 C280.7,366.2 264.8,357.3 255.0,357.5 C245.2,357.7 245.4,353.2 241.0,351.0 C236.6,348.8 232.1,347.5 228.6,344.0 C225.1,340.5 223.4,335.1 220.0,330.0 C216.6,324.9 212.3,316.6 208.0,313.6 C203.7,310.6 197.3,314.9 194.0,312.0 C190.7,309.1 189.4,301.2 188.0,296.0 C186.6,290.8 186.3,286.5 185.5,280.8 C184.7,275.1 183.3,267.1 183.0,262.0 C182.7,256.9 183.1,255.0 183.5,250.0 C183.9,245.0 184.3,238.5 185.5,232.0 C186.7,225.5 188.1,217.8 190.5,211.0 C192.9,204.2 196.1,197.2 200.0,191.0 C203.9,184.8 208.5,179.0 214.0,174.0 C219.5,169.0 226.0,164.8 233.0,161.0 C240.0,157.2 248.2,154.8 256.0,151.5 C263.8,148.2 272.6,143.8 280.0,141.5 C287.4,139.2 291.9,138.6 300.4,137.4 C308.9,136.2 323.6,134.5 331.0,134.3 C338.4,134.2 340.8,135.5 345.0,136.5 C349.2,137.5 353.3,139.1 356.0,140.5 C358.7,141.9 360.2,144.2 361.0,145.0 C361.8,144.1 364.4,141.1 366.0,139.5 C367.6,137.9 369.8,136.2 370.6,135.5 C370.7,135.5 370.9,135.3 371.0,135.3 Z" fill="none" stroke="#ff2070" stroke-width="4.0" opacity="0.42"/>
<rect x="0" y="0" width="420" height="400" filter="url(#nz)" opacity="0.35"/>
</g>
<path d="M371.0,135.3 C371.0,142.1 371.0,169.2 371.0,176.0 C371.0,190.0 371.0,246.0 371.0,260.0 C359.2,275.0 319.3,333.8 300.0,350.0 C280.7,366.2 264.8,357.3 255.0,357.5 C245.2,357.7 245.4,353.2 241.0,351.0 C236.6,348.8 232.1,347.5 228.6,344.0 C225.1,340.5 223.4,335.1 220.0,330.0 C216.6,324.9 212.3,316.6 208.0,313.6 C203.7,310.6 197.3,314.9 194.0,312.0 C190.7,309.1 189.4,301.2 188.0,296.0 C186.6,290.8 186.3,286.5 185.5,280.8 C184.7,275.1 183.3,267.1 183.0,262.0 C182.7,256.9 183.1,255.0 183.5,250.0 C183.9,245.0 184.3,238.5 185.5,232.0 C186.7,225.5 188.1,217.8 190.5,211.0 C192.9,204.2 196.1,197.2 200.0,191.0 C203.9,184.8 208.5,179.0 214.0,174.0 C219.5,169.0 226.0,164.8 233.0,161.0 C240.0,157.2 248.2,154.8 256.0,151.5 C263.8,148.2 272.6,143.8 280.0,141.5 C287.4,139.2 291.9,138.6 300.4,137.4 C308.9,136.2 323.6,134.5 331.0,134.3 C338.4,134.2 340.8,135.5 345.0,136.5 C349.2,137.5 353.3,139.1 356.0,140.5 C358.7,141.9 360.2,144.2 361.0,145.0 C361.8,144.1 364.4,141.1 366.0,139.5 C367.6,137.9 369.8,136.2 370.6,135.5 C370.7,135.5 370.9,135.3 371.0,135.3 Z" fill="none" stroke="#0c0048" stroke-width="1.5"/>
<path d="M417.5,176.5 C417.5,210.2 417.5,345.2 417.5,379.0 C412.9,378.8 396.3,379.8 389.8,377.7 C383.3,375.6 382.4,369.9 378.7,366.6 C375.0,363.3 371.3,359.4 367.6,358.0 C363.9,356.6 361.1,356.6 356.5,358.0 C351.9,359.4 345.1,362.9 340.0,366.6 C334.9,370.3 331.2,376.2 326.0,380.4 C320.8,384.5 315.5,389.2 309.0,391.5 C302.5,393.8 292.5,394.4 287.0,394.0 C281.5,393.6 279.3,391.1 276.0,388.8 C272.7,386.5 269.9,383.7 267.4,380.0 C264.9,376.3 263.1,370.4 261.0,366.7 C258.9,362.9 257.7,360.8 255.0,357.5 C252.3,354.2 248.0,351.6 245.0,347.0 C242.0,342.4 239.3,336.0 237.0,330.0 C234.7,324.0 232.2,316.9 231.0,311.0 C229.8,305.1 229.7,301.4 229.6,294.8 C229.5,288.2 229.3,279.3 230.7,271.5 C232.0,263.7 235.0,255.0 237.7,248.0 C240.4,241.0 243.1,235.2 247.0,229.4 C250.9,223.6 255.9,217.7 261.0,213.0 C266.1,208.3 270.9,204.9 277.5,201.4 C284.1,197.9 292.1,195.1 300.8,192.0 C309.6,188.9 324.0,184.5 330.0,182.7 C336.0,180.9 331.7,181.9 337.0,181.0 C342.3,180.1 353.5,178.0 361.7,177.0 C369.9,176.0 379.4,174.8 386.0,175.0 C392.6,175.2 397.6,176.7 401.0,178.0 C404.4,179.3 405.6,182.2 406.5,183.0 C407.2,182.5 409.2,181.0 411.0,180.0 C412.8,179.0 416.0,177.3 417.0,176.8 C417.1,176.8 417.4,176.6 417.5,176.5 Z" fill="#1306d4"/>
<g clip-path="url(#cs5)">
<path d="M417.5,176.5 C417.5,210.2 417.5,345.2 417.5,379.0 C412.9,378.8 396.3,379.8 389.8,377.7 C383.3,375.6 382.4,369.9 378.7,366.6 C375.0,363.3 371.3,359.4 367.6,358.0 C363.9,356.6 361.1,356.6 356.5,358.0 C351.9,359.4 345.1,362.9 340.0,366.6 C334.9,370.3 331.2,376.2 326.0,380.4 C320.8,384.5 315.5,389.2 309.0,391.5 C302.5,393.8 292.5,394.4 287.0,394.0 C281.5,393.6 279.3,391.1 276.0,388.8 C272.7,386.5 269.9,383.7 267.4,380.0 C264.9,376.3 263.1,370.4 261.0,366.7 C258.9,362.9 257.7,360.8 255.0,357.5 C252.3,354.2 248.0,351.6 245.0,347.0 C242.0,342.4 239.3,336.0 237.0,330.0 C234.7,324.0 232.2,316.9 231.0,311.0 C229.8,305.1 229.7,301.4 229.6,294.8 C229.5,288.2 229.3,279.3 230.7,271.5 C232.0,263.7 235.0,255.0 237.7,248.0 C240.4,241.0 243.1,235.2 247.0,229.4 C250.9,223.6 255.9,217.7 261.0,213.0 C266.1,208.3 270.9,204.9 277.5,201.4 C284.1,197.9 292.1,195.1 300.8,192.0 C309.6,188.9 324.0,184.5 330.0,182.7 C336.0,180.9 331.7,181.9 337.0,181.0 C342.3,180.1 353.5,178.0 361.7,177.0 C369.9,176.0 379.4,174.8 386.0,175.0 C392.6,175.2 397.6,176.7 401.0,178.0 C404.4,179.3 405.6,182.2 406.5,183.0 C407.2,182.5 409.2,181.0 411.0,180.0 C412.8,179.0 416.0,177.3 417.0,176.8 C417.1,176.8 417.4,176.6 417.5,176.5 Z" fill="none" stroke="#2c2cff" stroke-width="18" opacity="0.45" filter="url(#bl3)"/>
<path d="M417.5,176.5 C417.5,210.2 417.5,345.2 417.5,379.0 C412.9,378.8 396.3,379.8 389.8,377.7 C383.3,375.6 382.4,369.9 378.7,366.6 C375.0,363.3 371.3,359.4 367.6,358.0 C363.9,356.6 361.1,356.6 356.5,358.0 C351.9,359.4 345.1,362.9 340.0,366.6 C334.9,370.3 331.2,376.2 326.0,380.4 C320.8,384.5 315.5,389.2 309.0,391.5 C302.5,393.8 292.5,394.4 287.0,394.0 C281.5,393.6 279.3,391.1 276.0,388.8 C272.7,386.5 269.9,383.7 267.4,380.0 C264.9,376.3 263.1,370.4 261.0,366.7 C258.9,362.9 257.7,360.8 255.0,357.5 C252.3,354.2 248.0,351.6 245.0,347.0 C242.0,342.4 239.3,336.0 237.0,330.0 C234.7,324.0 232.2,316.9 231.0,311.0 C229.8,305.1 229.7,301.4 229.6,294.8 C229.5,288.2 229.3,279.3 230.7,271.5 C232.0,263.7 235.0,255.0 237.7,248.0 C240.4,241.0 243.1,235.2 247.0,229.4 C250.9,223.6 255.9,217.7 261.0,213.0 C266.1,208.3 270.9,204.9 277.5,201.4 C284.1,197.9 292.1,195.1 300.8,192.0 C309.6,188.9 324.0,184.5 330.0,182.7 C336.0,180.9 331.7,181.9 337.0,181.0 C342.3,180.1 353.5,178.0 361.7,177.0 C369.9,176.0 379.4,174.8 386.0,175.0 C392.6,175.2 397.6,176.7 401.0,178.0 C404.4,179.3 405.6,182.2 406.5,183.0 C407.2,182.5 409.2,181.0 411.0,180.0 C412.8,179.0 416.0,177.3 417.0,176.8 C417.1,176.8 417.4,176.6 417.5,176.5 Z" fill="none" stroke="#07003a" stroke-width="5" opacity="0.75" filter="url(#bl1)"/>
<path d="M410.0,200.0 C403.3,200.0 383.3,198.3 370.0,200.0 C356.7,201.7 342.5,205.3 330.0,210.0 C317.5,214.7 304.2,220.5 295.0,228.0 C285.8,235.5 279.5,244.7 275.0,255.0 C270.5,265.3 268.5,279.2 268.0,290.0 C267.5,300.8 271.3,315.0 272.0,320.0" fill="none" stroke="#10067a" stroke-width="6" opacity="0.25" filter="url(#bl3)"/>
<rect x="0" y="0" width="420" height="400" filter="url(#nz)" opacity="0.75"/>
<path d="M326.0,198.0 L312.0,202.0" fill="none" stroke="#ff12c0" stroke-width="6.9" stroke-linecap="round" opacity="0.46" filter="url(#bl3)"/>
<path d="M326.0,198.0 L312.0,202.0" fill="none" stroke="#ff10c8" stroke-width="2.7" stroke-linecap="round" opacity="0.32" filter="url(#bl1)"/>
<path d="M315.4,212.7L310.2,199.0M330.0,215.1L319.9,190.9M323.5,212.7L310.0,187.5M320.5,196.6L314.6,178.5M330.2,208.1L322.6,186.3M323.1,206.8L318.3,194.0M317.6,200.2L315.2,190.9M320.1,215.3L315.3,187.3M326.8,208.4L320.1,186.6M321.2,213.4L313.2,189.4M321.7,209.7L317.3,187.1M320.5,209.1L313.8,183.0M331.0,212.7L324.6,192.2M328.7,212.8L324.6,192.3" fill="none" stroke="#ff22b8" stroke-width="0.65" opacity="0.40"/>
<path d="M298.0,207.0 C295.8,208.7 289.3,213.3 285.0,217.0 C280.7,220.7 275.7,224.7 272.0,229.0 C268.3,233.3 265.7,238.3 263.0,243.0 C260.3,247.7 258.0,252.3 256.0,257.0 C254.0,261.7 252.5,266.5 251.0,271.0 C249.5,275.5 247.7,281.8 247.0,284.0" fill="none" stroke="#ff12c0" stroke-width="8.0" stroke-linecap="round" opacity="0.98" filter="url(#bl3)"/>
<path d="M298.0,207.0 C295.8,208.7 289.3,213.3 285.0,217.0 C280.7,220.7 275.7,224.7 272.0,229.0 C268.3,233.3 265.7,238.3 263.0,243.0 C260.3,247.7 258.0,252.3 256.0,257.0 C254.0,261.7 252.5,266.5 251.0,271.0 C249.5,275.5 247.7,281.8 247.0,284.0" fill="none" stroke="#ff10c8" stroke-width="3.1" stroke-linecap="round" opacity="0.68" filter="url(#bl1)"/>
<path d="M306.9,218.5L290.5,193.1M298.9,226.1L285.2,213.0M309.7,227.3L285.9,200.0M301.5,222.5L284.4,203.2M302.1,218.9L286.3,193.6M301.3,213.6L291.4,202.1M293.3,224.4L278.3,208.0M297.1,216.4L285.4,199.8M297.9,224.5L281.5,206.0M303.0,217.7L289.3,204.8M300.5,223.2L284.4,198.8M297.8,219.0L285.2,206.3M297.8,231.7L283.5,205.8M290.3,224.5L279.5,213.8M306.8,211.2L298.8,200.9M305.6,217.4L285.3,199.9M299.5,222.6L284.3,199.2M297.9,210.8L286.7,199.6M295.8,210.6L288.8,204.2M298.3,213.0L292.5,202.2M301.5,212.9L289.0,194.7M301.9,226.0L291.9,206.2M286.1,228.0L275.6,207.6M289.5,232.7L278.4,217.6M286.6,231.1L277.0,216.8M285.6,226.9L268.4,207.2M285.0,218.1L272.2,208.3M280.6,223.2L270.2,212.5M282.1,231.6L267.6,219.0M284.1,221.5L270.4,201.9M279.2,231.5L270.5,222.2M287.4,218.8L271.5,207.1M287.6,223.9L278.5,214.3M278.4,227.3L272.4,217.8M289.9,227.0L282.4,215.5M287.3,246.9L263.1,222.0M289.8,242.8L272.4,221.3M283.4,244.5L265.9,223.2M289.5,236.9L270.6,213.6M285.2,230.3L276.3,221.4M290.3,242.7L269.0,226.5M288.3,244.7L265.4,219.9M290.5,217.6L284.1,211.6M289.1,234.7L272.5,215.7M283.5,231.9L273.2,221.7M284.0,226.0L276.8,215.4M282.5,236.5L265.6,227.7M284.3,242.3L266.1,229.3M276.5,243.4L250.3,232.5M274.2,248.9L260.5,240.3M281.2,236.1L267.7,230.3M278.1,246.5L253.4,231.4M275.1,235.3L264.0,228.8M280.1,250.1L252.0,229.7M281.6,237.3L269.4,229.2M273.8,238.4L254.2,223.5M281.2,242.9L255.4,228.9M281.2,234.5L253.9,218.1M284.6,234.8L271.7,225.8M286.3,245.9L261.8,231.5M281.1,234.6L262.4,221.7M279.0,238.0L255.4,228.3M278.2,232.3L252.9,220.9M270.1,244.5L257.9,234.1M277.5,240.1L268.3,232.2M277.8,236.8L265.3,227.2M271.4,250.0L252.0,232.5M284.8,252.1L269.7,241.1M270.8,250.3L247.2,232.3M280.6,246.1L263.8,239.6M270.6,241.8L253.3,229.1M279.4,254.1L250.3,240.5M279.5,254.3L255.5,245.9M277.5,252.0L254.2,241.1M271.3,257.5L254.1,254.3M271.8,260.5L243.7,243.5M265.9,248.3L248.1,240.6M254.8,260.7L233.4,242.9M267.5,262.0L245.6,254.3M276.1,258.6L248.5,247.8M269.1,247.3L253.9,238.6M270.8,249.9L254.5,241.4M263.7,254.9L246.2,246.0M267.3,248.2L243.9,233.5M279.5,250.1L257.5,240.2M266.1,253.4L257.1,250.3M271.3,247.7L259.1,240.7M271.1,251.3L255.5,240.2M266.3,247.9L254.7,242.8M268.1,249.5L243.7,237.2M256.9,269.5L237.2,267.5M261.6,262.6L244.1,256.8M268.9,269.3L253.4,257.1M256.3,266.5L242.6,260.4M259.7,273.0L237.1,260.5M253.6,265.1L227.8,254.0M259.4,267.6L240.2,259.8M246.1,273.7L229.3,265.9M264.2,262.5L250.1,257.7M271.2,264.4L250.3,257.8M254.0,260.9L232.4,252.4M268.4,274.1L234.7,261.5M269.2,272.9L242.7,259.5M267.1,263.9L254.3,259.0M258.9,269.5L252.1,264.7M270.3,263.4L253.9,256.4M263.9,269.8L238.8,258.1M266.7,276.1L249.4,269.5M262.5,261.5L241.3,253.6M259.7,268.9L236.6,264.0M267.9,277.8L247.7,269.4M252.2,279.0L231.0,273.0M264.8,273.6L234.7,274.1M256.3,288.6L233.7,282.1M265.6,282.3L239.3,275.5M254.4,284.8L243.6,280.5M256.8,277.3L246.1,273.4M257.8,282.1L232.9,278.6M251.6,285.5L234.4,280.4M256.9,286.4L241.8,281.3M257.6,281.9L233.8,274.0M252.9,277.2L242.8,274.5M253.5,274.5L226.7,264.8M259.3,284.4L243.9,279.2M265.3,275.6L248.5,269.3M258.7,283.0L239.9,273.5M263.5,277.9L236.5,272.5M257.5,276.0L230.5,272.9M258.3,271.3L231.6,264.4" fill="none" stroke="#ff22b8" stroke-width="0.65" opacity="0.60"/>
<path d="M245.0,289.0 C244.5,290.7 242.7,295.5 242.0,299.0 C241.3,302.5 241.2,308.2 241.0,310.0" fill="none" stroke="#ff12c0" stroke-width="13.8" stroke-linecap="round" opacity="0.92" filter="url(#bl3)"/>
<path d="M245.0,289.0 C244.5,290.7 242.7,295.5 242.0,299.0 C241.3,302.5 241.2,308.2 241.0,310.0" fill="none" stroke="#ff10c8" stroke-width="5.4" stroke-linecap="round" opacity="0.64" filter="url(#bl1)"/>
<path d="M251.6,289.7L237.1,286.3M264.3,294.5L233.9,289.5M257.5,297.5L235.4,292.4M245.5,297.1L231.4,292.4M257.3,297.8L234.8,290.3M253.8,293.3L236.1,289.5M240.1,289.6L225.8,288.6M247.7,297.2L229.9,291.7M255.9,295.9L238.9,291.3M243.6,298.3L233.8,295.3M248.8,300.9L224.6,289.8M249.9,301.0L236.8,294.8M243.1,297.1L229.8,294.3M248.0,290.0L233.5,285.9M245.8,306.7L227.4,302.0M254.4,309.1L241.9,308.8M253.5,302.5L232.3,300.8M243.7,305.5L220.2,306.7M264.7,309.4L240.6,305.6M248.3,308.2L230.8,305.4M237.2,301.5L222.5,298.7M250.1,307.6L236.1,305.2M245.6,305.4L228.1,301.3M247.8,298.4L223.3,300.7M240.7,311.5L212.9,308.0M256.1,315.3L231.5,306.1M256.8,305.3L237.7,305.9M239.9,306.5L220.6,306.3M254.1,301.8L229.3,298.5" fill="none" stroke="#ff22b8" stroke-width="0.65" opacity="0.55"/>
<path d="M368.0,190.0 C370.8,190.8 379.3,192.8 385.0,195.0 C390.7,197.2 399.2,201.7 402.0,203.0" fill="none" stroke="#ff12c0" stroke-width="16.1" stroke-linecap="round" opacity="0.32" filter="url(#bl3)"/>
<path d="M368.0,190.0 C370.8,190.8 379.3,192.8 385.0,195.0 C390.7,197.2 399.2,201.7 402.0,203.0" fill="none" stroke="#ff10c8" stroke-width="6.3" stroke-linecap="round" opacity="0.22" filter="url(#bl1)"/>
<path d="M379.2,186.9L371.5,199.0M378.3,180.1L374.4,198.2M371.5,174.4L365.8,192.7M381.2,188.9L379.7,200.7M368.7,184.3L366.0,195.2M378.4,191.4L376.9,202.1M382.2,189.5L380.7,199.1M378.4,186.4L372.5,199.3M373.6,182.2L369.1,195.3M372.3,179.2L371.8,191.8M377.6,181.7L370.1,197.1M381.8,189.2L380.4,200.1M386.2,187.8L383.7,205.5M379.0,196.4L376.5,205.5M392.3,199.9L389.4,212.8M391.5,195.1L390.5,200.0M408.1,192.1L401.3,202.7M390.9,194.7L383.0,210.1M397.5,193.0L389.4,207.6M393.6,186.5L389.2,198.1M402.0,199.4L398.4,209.6M400.1,189.6L396.6,197.0M394.5,179.7L388.0,196.1M398.1,201.0L395.0,209.3M394.3,192.5L387.9,205.8M392.6,185.4L384.5,199.1M393.9,194.0L387.8,201.7M396.1,198.1L392.8,207.4M405.6,199.2L400.9,206.2" fill="none" stroke="#ff22b8" stroke-width="0.65" opacity="0.35"/>
<path d="M318.0,272.0 L326.0,282.0" fill="none" stroke="#ff12c0" stroke-width="8.0" stroke-linecap="round" opacity="0.46" filter="url(#bl3)"/>
<path d="M372.0,262.0 C375.0,265.0 386.2,275.3 390.0,280.0 C393.8,284.7 394.2,288.3 395.0,290.0" fill="none" stroke="#ff12c0" stroke-width="11.5" stroke-linecap="round" opacity="0.40" filter="url(#bl3)"/>
<path d="M320.0,296.0 C321.0,293.8 328.0,295.9 332.0,297.0 C336.0,298.1 337.8,300.3 344.0,302.5 C350.2,304.7 359.8,307.9 369.0,310.0 C378.2,312.1 392.3,312.5 399.0,315.0 C405.7,317.5 408.2,320.8 409.0,325.0 C409.8,329.2 406.9,335.9 404.0,340.0 C401.1,344.1 396.5,346.6 391.5,349.6 C386.5,352.7 378.1,356.6 374.0,358.3 C369.9,360.0 368.7,360.7 366.6,359.6 C364.6,358.6 363.8,355.8 361.7,352.0 C359.6,348.2 357.3,341.5 354.0,337.0 C350.7,332.5 346.7,329.5 342.0,325.0 C337.3,320.5 329.7,314.8 326.0,310.0 C322.3,305.2 319.0,298.2 320.0,296.0 Z" fill="#ff0caa" opacity="0.95" filter="url(#bl3)"/>
<circle cx="394" cy="329.8" r="3.5" fill="#2a10c0" opacity="0.8" filter="url(#bl1)"/>
<path d="M285.0,254.0 C287.3,251.5 292.9,253.3 295.6,255.5 C298.3,257.7 300.4,262.1 301.0,267.0 C301.6,271.9 299.2,278.9 299.5,284.7 C299.8,290.5 300.4,296.8 302.6,302.0 C304.9,307.2 309.2,311.3 313.0,316.0 C316.8,320.7 323.1,326.2 325.4,330.0 C327.6,333.8 328.6,337.0 326.5,338.5 C324.4,340.0 318.1,340.4 313.0,339.0 C307.9,337.6 300.3,333.8 295.6,330.0 C290.9,326.2 287.3,321.8 285.0,316.0 C282.7,310.2 282.1,302.6 281.6,295.0 C281.1,287.4 281.2,277.5 281.8,270.7 C282.4,263.9 282.7,256.5 285.0,254.0 Z" fill="#000"/>
<path d="M300.0,272.0 C300.7,274.0 303.6,279.8 304.0,284.0 C304.4,288.2 301.7,293.0 302.5,297.0 C303.3,301.0 306.4,304.5 309.0,308.0 C311.6,311.5 315.7,315.0 318.0,318.0 C320.3,321.0 322.2,324.7 323.0,326.0" fill="none" stroke="#2626ff" stroke-width="2.6"/>
<path d="M315.0,256.0 C314.1,260.2 311.0,273.7 309.6,281.0 C308.2,288.3 306.8,294.5 306.8,300.0 C306.8,305.5 307.7,310.3 309.6,314.0 C311.5,317.7 316.6,320.7 318.0,322.0" fill="none" stroke="#3434ff" stroke-width="1.6"/>
<path d="M395.0,245.0 C395.8,242.0 398.3,239.8 400.0,240.0 C401.7,240.2 404.2,243.2 405.0,246.0 C405.8,248.8 405.8,254.2 405.0,257.0 C404.2,259.8 401.7,262.8 400.0,263.0 C398.3,263.2 395.8,261.0 395.0,258.0 C394.2,255.0 394.2,248.0 395.0,245.0 Z" fill="#2e2eff"/>
<path d="M404,240 L410,234 L418,231 L418,268 L411,264 L406,256 L405,248 Z" fill="#000"/>
<path d="M413.5,330 L418,324 L418,374 L414.5,366 Z" fill="#000"/>
<path d="M306.0,246.0 C304.6,242.8 306.3,236.4 310.0,232.0 C313.7,227.6 320.3,222.5 328.0,219.3 C335.7,216.1 347.9,213.2 356.4,212.7 C364.9,212.2 371.3,213.5 379.2,216.5 C387.1,219.5 402.3,225.2 403.9,230.7 C405.5,236.2 397.2,246.1 388.7,249.7 C380.1,253.2 364.3,251.8 352.6,252.0 C340.9,252.2 326.3,252.0 318.5,251.0 C310.7,250.0 307.4,249.2 306.0,246.0 Z" fill="#0c0460" opacity="0.5" filter="url(#bl1)"/>
<path d="M318.5,249.7 C316.4,249.1 307.4,248.9 306.0,246.0 C304.6,243.1 306.3,236.4 310.0,232.0 C313.7,227.6 320.3,222.5 328.0,219.3 C335.7,216.1 347.9,213.2 356.4,212.7 C364.9,212.2 371.3,213.5 379.2,216.5 C387.1,219.5 399.8,228.3 403.9,230.7" fill="none" stroke="#2e2aff" stroke-width="2.4"/>
<path d="M306.0,246.0 C308.1,246.8 310.7,250.0 318.5,251.0 C326.3,252.0 340.9,252.2 352.6,252.0 C364.3,251.8 382.7,250.1 388.7,249.7" fill="none" stroke="#2e2aff" stroke-width="1.9"/>
<path d="M337.4,240.0 C339.5,239.2 344.6,236.4 350.0,235.5 C355.4,234.6 364.2,234.1 370.0,234.5 C375.8,234.9 382.5,237.4 385.0,238.0" fill="none" stroke="#2e2aff" stroke-width="2.3"/>
<path d="M343.0,247.0 C345.0,246.3 350.2,243.8 355.0,243.0 C359.8,242.2 367.5,241.7 372.0,242.0 C376.5,242.3 380.3,244.5 382.0,245.0" fill="none" stroke="#2e2aff" stroke-width="1.7"/>
<path d="M417.5,176.5 C417.5,210.2 417.5,345.2 417.5,379.0 C412.9,378.8 396.3,379.8 389.8,377.7 C383.3,375.6 382.4,369.9 378.7,366.6 C375.0,363.3 371.3,359.4 367.6,358.0 C363.9,356.6 361.1,356.6 356.5,358.0 C351.9,359.4 345.1,362.9 340.0,366.6 C334.9,370.3 331.2,376.2 326.0,380.4 C320.8,384.5 315.5,389.2 309.0,391.5 C302.5,393.8 292.5,394.4 287.0,394.0 C281.5,393.6 279.3,391.1 276.0,388.8 C272.7,386.5 269.9,383.7 267.4,380.0 C264.9,376.3 263.1,370.4 261.0,366.7 C258.9,362.9 257.7,360.8 255.0,357.5 C252.3,354.2 248.0,351.6 245.0,347.0 C242.0,342.4 239.3,336.0 237.0,330.0 C234.7,324.0 232.2,316.9 231.0,311.0 C229.8,305.1 229.7,301.4 229.6,294.8 C229.5,288.2 229.3,279.3 230.7,271.5 C232.0,263.7 235.0,255.0 237.7,248.0 C240.4,241.0 243.1,235.2 247.0,229.4 C250.9,223.6 255.9,217.7 261.0,213.0 C266.1,208.3 270.9,204.9 277.5,201.4 C284.1,197.9 292.1,195.1 300.8,192.0 C309.6,188.9 324.0,184.5 330.0,182.7 C336.0,180.9 331.7,181.9 337.0,181.0 C342.3,180.1 353.5,178.0 361.7,177.0 C369.9,176.0 379.4,174.8 386.0,175.0 C392.6,175.2 397.6,176.7 401.0,178.0 C404.4,179.3 405.6,182.2 406.5,183.0 C407.2,182.5 409.2,181.0 411.0,180.0 C412.8,179.0 416.0,177.3 417.0,176.8 C417.1,176.8 417.4,176.6 417.5,176.5 Z" fill="none" stroke="#ff2070" stroke-width="4.0" opacity="0.42"/>
<rect x="0" y="0" width="420" height="400" filter="url(#nz)" opacity="0.35"/>
</g>
<path d="M417.5,176.5 C417.5,210.2 417.5,345.2 417.5,379.0 C412.9,378.8 396.3,379.8 389.8,377.7 C383.3,375.6 382.4,369.9 378.7,366.6 C375.0,363.3 371.3,359.4 367.6,358.0 C363.9,356.6 361.1,356.6 356.5,358.0 C351.9,359.4 345.1,362.9 340.0,366.6 C334.9,370.3 331.2,376.2 326.0,380.4 C320.8,384.5 315.5,389.2 309.0,391.5 C302.5,393.8 292.5,394.4 287.0,394.0 C281.5,393.6 279.3,391.1 276.0,388.8 C272.7,386.5 269.9,383.7 267.4,380.0 C264.9,376.3 263.1,370.4 261.0,366.7 C258.9,362.9 257.7,360.8 255.0,357.5 C252.3,354.2 248.0,351.6 245.0,347.0 C242.0,342.4 239.3,336.0 237.0,330.0 C234.7,324.0 232.2,316.9 231.0,311.0 C229.8,305.1 229.7,301.4 229.6,294.8 C229.5,288.2 229.3,279.3 230.7,271.5 C232.0,263.7 235.0,255.0 237.7,248.0 C240.4,241.0 243.1,235.2 247.0,229.4 C250.9,223.6 255.9,217.7 261.0,213.0 C266.1,208.3 270.9,204.9 277.5,201.4 C284.1,197.9 292.1,195.1 300.8,192.0 C309.6,188.9 324.0,184.5 330.0,182.7 C336.0,180.9 331.7,181.9 337.0,181.0 C342.3,180.1 353.5,178.0 361.7,177.0 C369.9,176.0 379.4,174.8 386.0,175.0 C392.6,175.2 397.6,176.7 401.0,178.0 C404.4,179.3 405.6,182.2 406.5,183.0 C407.2,182.5 409.2,181.0 411.0,180.0 C412.8,179.0 416.0,177.3 417.0,176.8 C417.1,176.8 417.4,176.6 417.5,176.5 Z" fill="none" stroke="#0c0048" stroke-width="1.5"/>
<circle cx="119.6" cy="182.3" r="4" fill="#0a0020"/>
<circle cx="125.0" cy="199.0" r="2.8" fill="#0a0020"/>
<circle cx="155.4" cy="229.7" r="4.2" fill="#0a0020"/>
<circle cx="353.6" cy="166" r="4.8" fill="#1a0ad0" stroke="#0a0020" stroke-width="1.8"/>
<circle cx="310" cy="124" r="3.6" fill="#1a0ad0" stroke="#0a0020" stroke-width="1.6"/>
<g clip-path="url(#callsl)">
</g>
<rect x="386.5" y="366.4" width="28.3" height="2.3" fill="#ffffff" stroke="none" stroke-width="1"/>
<text x="52.0" y="54.4" font-size="10.4" text-anchor="start" fill="#e8e8f0">B 1.8</text>
<text x="116.5" y="76.2" font-size="10.4" text-anchor="start" fill="#e8e8f0">B 0.4</text>
<text x="198.0" y="95.2" font-size="10.4" text-anchor="start" fill="#e8e8f0">B −0.6</text>
<text x="247.5" y="126.2" font-size="10.4" text-anchor="start" fill="#e8e8f0">B −1.2</text>
<text x="305.3" y="166.4" font-size="10.4" text-anchor="start" fill="#e8e8f0">B −1.6</text>
<text x="355.4" y="213.4" font-size="10.4" text-anchor="start" fill="#e8e8f0">B −2.2</text>
<text x="0.2" y="12.0" font-size="14" text-anchor="start" fill="#000" font-weight="bold" stroke="#000" stroke-width="0.45">a</text>
<path d="M269.0,42.0 C270.4,35.8 272.9,26.1 276.0,21.0 C279.1,15.9 283.4,13.6 287.7,11.7 C292.0,9.8 297.0,10.5 301.7,9.3 C306.4,8.1 309.5,5.9 315.7,4.7 C321.9,3.5 330.8,2.3 339.0,2.3 C347.2,2.3 357.0,2.8 364.8,4.7 C372.6,6.7 379.9,10.3 385.8,14.0 C391.7,17.7 396.0,24.0 400.0,27.0 C404.0,30.0 407.0,30.2 410.0,32.0 C413.0,33.8 416.2,35.0 418.0,38.0 C419.8,41.0 420.8,45.7 421.0,50.0 C421.2,54.3 420.8,60.2 419.0,64.0 C417.2,67.8 414.4,70.7 410.0,73.0 C405.6,75.3 399.2,75.7 392.8,78.0 C386.4,80.3 378.8,84.7 371.8,87.0 C364.8,89.3 359.0,91.5 350.8,92.0 C342.6,92.5 331.7,90.8 322.7,90.0 C313.7,89.2 304.8,88.1 297.0,87.5 C289.2,86.9 280.7,88.5 276.0,86.4 C271.3,84.3 270.4,79.4 269.0,74.7 C267.6,70.0 267.5,63.9 267.5,58.4 C267.5,52.9 267.6,48.2 269.0,42.0 Z" fill="#eeeeee" stroke="#cfcfcf" stroke-width="0.6"/>
<path d="M300.0,14.0 C306.0,8.8 319.2,5.0 330.0,3.5 C340.8,2.0 354.7,2.8 365.0,5.0 C375.3,7.2 385.5,12.2 392.0,17.0 C398.5,21.8 402.0,27.2 404.0,34.0 C406.0,40.8 406.7,51.2 404.0,58.0 C401.3,64.8 395.3,70.0 388.0,75.0 C380.7,80.0 369.7,85.3 360.0,88.0 C350.3,90.7 339.2,91.3 330.0,91.0 C320.8,90.7 310.8,91.2 305.0,86.0 C299.2,80.8 296.8,68.5 295.0,60.0 C293.2,51.5 293.2,42.7 294.0,35.0 C294.8,27.3 294.0,19.2 300.0,14.0 Z" fill="#f1f1f1" stroke="#d6d6d6" stroke-width="0.55"/>
<path d="M270.0,44.0 C271.0,35.3 274.3,30.3 278.0,26.0 C281.7,21.7 287.8,18.2 292.0,18.0 C296.2,17.8 300.7,19.7 303.0,25.0 C305.3,30.3 306.5,40.8 306.0,50.0 C305.5,59.2 303.5,74.0 300.0,80.0 C296.5,86.0 289.7,86.3 285.0,86.0 C280.3,85.7 274.5,85.0 272.0,78.0 C269.5,71.0 269.0,52.7 270.0,44.0 Z" fill="#e6e6e6" stroke="#d0d0d0" stroke-width="0.5"/>
<path d="M282.7,39.8l-1.3,-1.9M289.1,51.0l3.8,1.4M274.1,54.5l2.1,1.0M285.7,75.0l2.1,2.0M291.8,81.3l-3.2,-1.7M302.3,34.4l2.0,-2.5M277.3,38.1l-1.9,4.9M278.4,62.2l-2.2,-2.7M289.4,35.3l2.6,1.0M293.4,54.2l-1.7,4.0M286.6,47.6l1.3,-4.6M280.3,61.9l-5.4,-0.9M294.9,47.0l2.5,-0.3M285.5,71.4l2.3,3.2M274.2,66.7l0.4,-4.3M299.3,48.3l-1.5,-4.1M290.4,55.7l3.1,-4.9M287.2,66.5l4.5,1.8M292.4,83.6l1.4,-2.8M284.6,66.8l3.8,0.5M278.0,38.1l4.7,1.8M276.9,44.9l-4.2,3.5M275.4,55.4l-5.3,-1.7M297.6,76.9l-0.6,3.6M283.8,78.0l2.5,-0.7M278.3,44.1l0.4,3.9M290.7,45.7l3.7,0.1M284.1,61.4l4.6,-1.4M288.5,64.1l-1.0,-2.0M300.0,72.6l3.6,-3.7M284.8,52.7l3.6,2.7M274.9,35.5l0.7,2.6M283.2,34.7l2.6,0.0M276.0,50.9l5.4,0.9M291.4,39.7l-0.0,3.4M283.9,38.4l3.5,-4.9M287.0,57.2l2.1,1.2M283.3,45.8l1.3,-2.3M273.7,81.5l-2.5,-0.5M289.3,33.4l-5.8,-1.0M298.9,68.2l-0.2,3.5M278.0,72.1l-5.0,-1.0M282.9,43.6l2.2,-5.5M298.6,73.9l2.1,-4.5M279.8,58.9l-1.3,1.7M273.8,46.5l-0.3,4.8M301.7,55.3l5.5,-2.3M301.7,51.0l0.5,2.9M278.9,42.6l-4.0,-3.9M298.2,56.9l-3.0,-4.3M275.5,66.4l4.3,-2.8M295.5,56.9l2.2,4.6M283.0,73.6l3.5,-0.6M285.0,81.2l-0.4,-2.6M276.8,39.9l4.3,-3.0M277.4,75.0l4.6,-0.6M283.5,60.5l1.4,1.5M302.1,65.8l-5.7,-0.9M286.0,77.3l1.3,-2.5M280.6,47.2l0.3,4.3M280.8,53.8l3.8,4.1M283.6,55.8l-4.9,-2.8M285.6,79.7l-4.1,-0.0M288.7,33.0l-2.5,1.0M273.1,73.6l1.8,3.4M294.8,60.9l-1.9,3.6M289.7,72.8l3.3,2.6M280.5,46.4l0.6,-4.0M289.9,71.5l3.2,-2.0M291.4,58.3l-4.8,-0.4" stroke="#d2d2d2" stroke-width="0.5" fill="none"/>
<path d="M396.0,32.0 C398.7,29.5 406.2,31.3 410.0,33.0 C413.8,34.7 417.2,38.0 419.0,42.0 C420.8,46.0 421.8,52.3 421.0,57.0 C420.2,61.7 417.5,66.8 414.0,70.0 C410.5,73.2 403.7,76.7 400.0,76.0 C396.3,75.3 393.0,70.7 392.0,66.0 C391.0,61.3 393.3,53.7 394.0,48.0 C394.7,42.3 393.3,34.5 396.0,32.0 Z" fill="#efefef" stroke="#d2d2d2" stroke-width="0.5"/>
<path d="M305.0,70.0 C310.0,71.0 325.0,74.7 335.0,76.0 C345.0,77.3 355.5,79.0 365.0,78.0 C374.5,77.0 387.5,71.3 392.0,70.0" fill="none" stroke="#e0e0e0" stroke-width="0.6"/>
<path d="M318.0,86.0 C320.0,83.7 324.3,75.3 330.0,72.0 C335.7,68.7 345.0,66.0 352.0,66.0 C359.0,66.0 367.0,69.0 372.0,72.0 C377.0,75.0 380.3,82.0 382.0,84.0" fill="none" stroke="#e2e2e2" stroke-width="0.6"/>
<ellipse cx="337" cy="23.4" rx="9.5" ry="4.2" fill="#bf5a36"/>
<ellipse cx="331" cy="21" rx="4" ry="3" fill="#c4663f"/>
<ellipse cx="361.5" cy="26" rx="9.5" ry="3.2" fill="#c06040" opacity="0.9" transform="rotate(40 361.5 26)"/>
<circle cx="313.9" cy="17.5" r="1.6" fill="#c8704e" opacity="0.85"/>
<circle cx="329.7" cy="34.5" r="2.2" fill="#c8704e" opacity="0.85"/>
<circle cx="332" cy="40" r="1.8" fill="#c8704e" opacity="0.85"/>
<circle cx="330" cy="44" r="1.6" fill="#c8704e" opacity="0.85"/>
<circle cx="326.2" cy="50.2" r="2.6" fill="#c8704e" opacity="0.85"/>
<circle cx="329" cy="48" r="2.0" fill="#c8704e" opacity="0.85"/>
<circle cx="338" cy="37.7" r="1.2" fill="#c8704e" opacity="0.85"/>
<circle cx="369.5" cy="38.5" r="1.1" fill="#c8704e" opacity="0.85"/>
<circle cx="381" cy="38.5" r="0.9" fill="#c8704e" opacity="0.85"/>
<circle cx="364.8" cy="33.2" r="1.2" fill="#c8704e" opacity="0.85"/>
<circle cx="342" cy="30" r="1.3" fill="#c8704e" opacity="0.85"/>
<circle cx="327" cy="30" r="1.6" fill="#c8704e" opacity="0.85"/>
<circle cx="357" cy="36" r="1.0" fill="#c8704e" opacity="0.85"/>
<circle cx="373" cy="34" r="1.0" fill="#c8704e" opacity="0.85"/>
<circle cx="345" cy="34" r="1.0" fill="#c8704e" opacity="0.85"/>
<ellipse cx="337.5" cy="23.6" rx="11.6" ry="5.8" fill="none" stroke="#000" stroke-width="1.3" stroke-dasharray="2.7 1.6"/>
<ellipse cx="361.3" cy="25.8" rx="11.2" ry="3.8" fill="none" stroke="#000" stroke-width="1.3" stroke-dasharray="2.7 1.6" transform="rotate(40 361.3 25.8)"/>
<text x="334.2" y="14.8" font-size="10.4" text-anchor="start" fill="#111">SS</text>
<text x="362.4" y="15.4" font-size="10.4" text-anchor="start" fill="#111" transform="rotate(36 362.4 15.4)">MOa</text>
<rect x="61.0" y="279.5" width="73.0" height="201.7" fill="#cbcbcb" stroke="none" stroke-width="1"/>
<line x1="50.3" y1="266.6" x2="50.3" y2="481.7" stroke="#8a8a8a" stroke-width="1.0"/>
<line x1="44.0" y1="481.5" x2="403.5" y2="481.5" stroke="#666" stroke-width="1.1"/>
<line x1="44.0" y1="481.2" x2="50.3" y2="481.2" stroke="#8a8a8a" stroke-width="1.0"/>
<text x="39.5" y="484.8" font-size="10.4" text-anchor="end" fill="#1a1a1a">0</text>
<line x1="44.0" y1="450.5" x2="50.3" y2="450.5" stroke="#8a8a8a" stroke-width="1.0"/>
<text x="39.5" y="454.1" font-size="10.4" text-anchor="end" fill="#1a1a1a">2</text>
<line x1="44.0" y1="419.8" x2="50.3" y2="419.8" stroke="#8a8a8a" stroke-width="1.0"/>
<text x="39.5" y="423.4" font-size="10.4" text-anchor="end" fill="#1a1a1a">4</text>
<line x1="44.0" y1="389.1" x2="50.3" y2="389.1" stroke="#8a8a8a" stroke-width="1.0"/>
<text x="39.5" y="392.7" font-size="10.4" text-anchor="end" fill="#1a1a1a">6</text>
<line x1="44.0" y1="358.4" x2="50.3" y2="358.4" stroke="#8a8a8a" stroke-width="1.0"/>
<text x="39.5" y="362.0" font-size="10.4" text-anchor="end" fill="#1a1a1a">8</text>
<line x1="44.0" y1="327.7" x2="50.3" y2="327.7" stroke="#8a8a8a" stroke-width="1.0"/>
<text x="39.5" y="331.3" font-size="10.4" text-anchor="end" fill="#1a1a1a">10</text>
<line x1="44.0" y1="297.0" x2="50.3" y2="297.0" stroke="#8a8a8a" stroke-width="1.0"/>
<text x="39.5" y="300.6" font-size="10.4" text-anchor="end" fill="#1a1a1a">12</text>
<line x1="44.0" y1="266.3" x2="50.3" y2="266.3" stroke="#8a8a8a" stroke-width="1.0"/>
<text x="39.5" y="269.9" font-size="10.4" text-anchor="end" fill="#1a1a1a">14</text>
<text x="17.8" y="375.0" font-size="10.4" text-anchor="middle" fill="#1a1a1a" transform="rotate(-90 17.8 375.0)">Fractional input (%)</text>
<line x1="72.1" y1="481.5" x2="72.1" y2="486.5" stroke="#8a8a8a" stroke-width="1.0"/>
<text x="77.7" y="495.5" font-size="10.4" text-anchor="end" fill="#1a1a1a" transform="rotate(-45 77.7 495.5)">MO</text>
<line x1="96.8" y1="481.5" x2="96.8" y2="486.5" stroke="#8a8a8a" stroke-width="1.0"/>
<text x="102.4" y="495.5" font-size="10.4" text-anchor="end" fill="#1a1a1a" transform="rotate(-45 102.4 495.5)">ZI</text>
<line x1="121.5" y1="481.5" x2="121.5" y2="486.5" stroke="#8a8a8a" stroke-width="1.0"/>
<text x="127.1" y="495.5" font-size="10.4" text-anchor="end" fill="#1a1a1a" transform="rotate(-45 127.1 495.5)">SS</text>
<line x1="146.2" y1="481.5" x2="146.2" y2="486.5" stroke="#8a8a8a" stroke-width="1.0"/>
<text x="151.8" y="495.5" font-size="10.4" text-anchor="end" fill="#1a1a1a" transform="rotate(-45 151.8 495.5)">MRN</text>
<line x1="170.9" y1="481.5" x2="170.9" y2="486.5" stroke="#8a8a8a" stroke-width="1.0"/>
<text x="176.5" y="495.5" font-size="10.4" text-anchor="end" fill="#1a1a1a" transform="rotate(-45 176.5 495.5)">SNr</text>
<line x1="195.6" y1="481.5" x2="195.6" y2="486.5" stroke="#8a8a8a" stroke-width="1.0"/>
<text x="201.2" y="495.5" font-size="10.4" text-anchor="end" fill="#1a1a1a" transform="rotate(-45 201.2 495.5)">APN</text>
<line x1="220.3" y1="481.5" x2="220.3" y2="486.5" stroke="#8a8a8a" stroke-width="1.0"/>
<text x="225.9" y="495.5" font-size="10.4" text-anchor="end" fill="#1a1a1a" transform="rotate(-45 225.9 495.5)">PAG</text>
<line x1="245.0" y1="481.5" x2="245.0" y2="486.5" stroke="#8a8a8a" stroke-width="1.0"/>
<text x="250.6" y="495.5" font-size="10.4" text-anchor="end" fill="#1a1a1a" transform="rotate(-45 250.6 495.5)">LHA</text>
<line x1="269.7" y1="481.5" x2="269.7" y2="486.5" stroke="#8a8a8a" stroke-width="1.0"/>
<text x="275.3" y="495.5" font-size="10.4" text-anchor="end" fill="#1a1a1a" transform="rotate(-45 275.3 495.5)">GRN</text>
<line x1="294.4" y1="481.5" x2="294.4" y2="486.5" stroke="#8a8a8a" stroke-width="1.0"/>
<text x="300.0" y="495.5" font-size="10.4" text-anchor="end" fill="#1a1a1a" transform="rotate(-45 300.0 495.5)">VNC</text>
<line x1="319.1" y1="481.5" x2="319.1" y2="486.5" stroke="#8a8a8a" stroke-width="1.0"/>
<text x="324.7" y="495.5" font-size="10.4" text-anchor="end" fill="#1a1a1a" transform="rotate(-45 324.7 495.5)">VM</text>
<line x1="343.8" y1="481.5" x2="343.8" y2="486.5" stroke="#8a8a8a" stroke-width="1.0"/>
<text x="349.4" y="495.5" font-size="10.4" text-anchor="end" fill="#1a1a1a" transform="rotate(-45 349.4 495.5)">PRNc</text>
<line x1="368.5" y1="481.5" x2="368.5" y2="486.5" stroke="#8a8a8a" stroke-width="1.0"/>
<text x="374.1" y="495.5" font-size="10.4" text-anchor="end" fill="#1a1a1a" transform="rotate(-45 374.1 495.5)">PB</text>
<line x1="393.2" y1="481.5" x2="393.2" y2="486.5" stroke="#8a8a8a" stroke-width="1.0"/>
<text x="398.8" y="495.5" font-size="10.4" text-anchor="end" fill="#1a1a1a" transform="rotate(-45 398.8 495.5)">RSP</text>
<line x1="65.3" y1="338.4" x2="78.9" y2="338.4" stroke="#111" stroke-width="1.1"/><line x1="72.1" y1="312.6" x2="72.1" y2="364.3" stroke="#111" stroke-width="1.1"/><line x1="68.1" y1="312.6" x2="76.1" y2="312.6" stroke="#111" stroke-width="1.1"/><line x1="68.1" y1="364.3" x2="76.1" y2="364.3" stroke="#111" stroke-width="1.1"/>
<circle cx="72.0" cy="290.8" r="3.75" fill="#000"/>
<circle cx="72.0" cy="298.0" r="3.75" fill="#000"/>
<circle cx="74.6" cy="374.6" r="3.75" fill="#000"/>
<circle cx="71.1" cy="378.6" r="3.75" fill="#000"/>
<line x1="90.0" y1="342.5" x2="103.6" y2="342.5" stroke="#111" stroke-width="1.1"/><line x1="96.8" y1="335.7" x2="96.8" y2="348.0" stroke="#111" stroke-width="1.1"/><line x1="92.8" y1="335.7" x2="100.8" y2="335.7" stroke="#111" stroke-width="1.1"/><line x1="92.8" y1="348.0" x2="100.8" y2="348.0" stroke="#111" stroke-width="1.1"/>
<circle cx="97.0" cy="326.0" r="3.75" fill="#000"/>
<circle cx="97.0" cy="338.8" r="3.75" fill="#000"/>
<circle cx="97.0" cy="352.0" r="3.75" fill="#000"/>
<circle cx="98.0" cy="358.6" r="3.75" fill="#000"/>
<line x1="114.7" y1="364.0" x2="128.3" y2="364.0" stroke="#111" stroke-width="1.1"/><line x1="121.5" y1="334.7" x2="121.5" y2="395.3" stroke="#111" stroke-width="1.1"/><line x1="117.5" y1="334.7" x2="125.5" y2="334.7" stroke="#111" stroke-width="1.1"/><line x1="117.5" y1="395.3" x2="125.5" y2="395.3" stroke="#111" stroke-width="1.1"/>
<circle cx="121.6" cy="288.0" r="3.75" fill="#000"/>
<circle cx="123.6" cy="378.0" r="3.75" fill="#000"/>
<circle cx="120.6" cy="382.7" r="3.75" fill="#000"/>
<circle cx="121.6" cy="411.0" r="3.75" fill="#000"/>
<line x1="139.4" y1="398.7" x2="153.0" y2="398.7" stroke="#111" stroke-width="1.1"/><line x1="146.2" y1="364.4" x2="146.2" y2="435.4" stroke="#111" stroke-width="1.1"/><line x1="142.2" y1="364.4" x2="150.2" y2="364.4" stroke="#111" stroke-width="1.1"/><line x1="142.2" y1="435.4" x2="150.2" y2="435.4" stroke="#111" stroke-width="1.1"/>
<circle cx="146.2" cy="313.9" r="3.75" fill="#000"/>
<circle cx="146.2" cy="397.0" r="3.75" fill="#000"/>
<circle cx="146.2" cy="438.8" r="3.75" fill="#000"/>
<circle cx="146.2" cy="450.5" r="3.75" fill="#000"/>
<line x1="164.1" y1="418.0" x2="177.7" y2="418.0" stroke="#111" stroke-width="1.1"/><line x1="170.9" y1="395.7" x2="170.9" y2="440.3" stroke="#111" stroke-width="1.1"/><line x1="166.9" y1="395.7" x2="174.9" y2="395.7" stroke="#111" stroke-width="1.1"/><line x1="166.9" y1="440.3" x2="174.9" y2="440.3" stroke="#111" stroke-width="1.1"/>
<circle cx="171.0" cy="379.7" r="3.75" fill="#000"/>
<circle cx="171.0" cy="396.0" r="3.75" fill="#000"/>
<circle cx="171.0" cy="431.7" r="3.75" fill="#000"/>
<circle cx="171.0" cy="464.0" r="3.75" fill="#000"/>
<line x1="188.8" y1="434.3" x2="202.4" y2="434.3" stroke="#111" stroke-width="1.1"/><line x1="195.6" y1="428.6" x2="195.6" y2="443.3" stroke="#111" stroke-width="1.1"/><line x1="191.6" y1="428.6" x2="199.6" y2="428.6" stroke="#111" stroke-width="1.1"/><line x1="191.6" y1="443.3" x2="199.6" y2="443.3" stroke="#111" stroke-width="1.1"/>
<circle cx="195.6" cy="422.0" r="3.75" fill="#000"/>
<circle cx="193.5" cy="431.7" r="3.75" fill="#000"/>
<circle cx="198.5" cy="432.7" r="3.75" fill="#000"/>
<circle cx="195.6" cy="453.5" r="3.75" fill="#000"/>
<line x1="213.5" y1="442.3" x2="227.1" y2="442.3" stroke="#111" stroke-width="1.1"/><line x1="220.3" y1="433.7" x2="220.3" y2="454.2" stroke="#111" stroke-width="1.1"/><line x1="216.3" y1="433.7" x2="224.3" y2="433.7" stroke="#111" stroke-width="1.1"/><line x1="216.3" y1="454.2" x2="224.3" y2="454.2" stroke="#111" stroke-width="1.1"/>
<circle cx="220.3" cy="416.0" r="3.75" fill="#000"/>
<circle cx="220.3" cy="431.3" r="3.75" fill="#000"/>
<circle cx="218.0" cy="457.6" r="3.75" fill="#000"/>
<circle cx="223.0" cy="457.6" r="3.75" fill="#000"/>
<line x1="238.2" y1="450.0" x2="251.8" y2="450.0" stroke="#111" stroke-width="1.1"/><line x1="245.0" y1="438.5" x2="245.0" y2="462.3" stroke="#111" stroke-width="1.1"/><line x1="241.0" y1="438.5" x2="249.0" y2="438.5" stroke="#111" stroke-width="1.1"/><line x1="241.0" y1="462.3" x2="249.0" y2="462.3" stroke="#111" stroke-width="1.1"/>
<circle cx="245.0" cy="425.5" r="3.75" fill="#000"/>
<circle cx="245.0" cy="436.8" r="3.75" fill="#000"/>
<circle cx="245.0" cy="458.2" r="3.75" fill="#000"/>
<circle cx="245.0" cy="474.6" r="3.75" fill="#000"/>
<line x1="262.9" y1="451.5" x2="276.5" y2="451.5" stroke="#111" stroke-width="1.1"/><line x1="269.7" y1="439.4" x2="269.7" y2="463.5" stroke="#111" stroke-width="1.1"/><line x1="265.7" y1="439.4" x2="273.7" y2="439.4" stroke="#111" stroke-width="1.1"/><line x1="265.7" y1="463.5" x2="273.7" y2="463.5" stroke="#111" stroke-width="1.1"/>
<circle cx="269.4" cy="422.3" r="3.75" fill="#000"/>
<circle cx="269.4" cy="445.5" r="3.75" fill="#000"/>
<circle cx="267.7" cy="464.6" r="3.75" fill="#000"/>
<circle cx="272.0" cy="468.3" r="3.75" fill="#000"/>
<line x1="287.6" y1="453.2" x2="301.2" y2="453.2" stroke="#111" stroke-width="1.1"/><line x1="294.4" y1="442.0" x2="294.4" y2="463.5" stroke="#111" stroke-width="1.1"/><line x1="290.4" y1="442.0" x2="298.4" y2="442.0" stroke="#111" stroke-width="1.1"/><line x1="290.4" y1="463.5" x2="298.4" y2="463.5" stroke="#111" stroke-width="1.1"/>
<circle cx="294.0" cy="428.5" r="3.75" fill="#000"/>
<circle cx="294.0" cy="445.5" r="3.75" fill="#000"/>
<circle cx="294.0" cy="460.9" r="3.75" fill="#000"/>
<circle cx="294.0" cy="471.6" r="3.75" fill="#000"/>
<line x1="312.3" y1="454.7" x2="325.9" y2="454.7" stroke="#111" stroke-width="1.1"/><line x1="319.1" y1="446.4" x2="319.1" y2="461.7" stroke="#111" stroke-width="1.1"/><line x1="315.1" y1="446.4" x2="323.1" y2="446.4" stroke="#111" stroke-width="1.1"/><line x1="315.1" y1="461.7" x2="323.1" y2="461.7" stroke="#111" stroke-width="1.1"/>
<circle cx="318.7" cy="439.9" r="3.75" fill="#000"/>
<circle cx="316.5" cy="449.3" r="3.75" fill="#000"/>
<circle cx="321.8" cy="451.9" r="3.75" fill="#000"/>
<circle cx="318.7" cy="471.2" r="3.75" fill="#000"/>
<line x1="337.0" y1="455.2" x2="350.6" y2="455.2" stroke="#111" stroke-width="1.1"/><line x1="343.8" y1="445.0" x2="343.8" y2="464.6" stroke="#111" stroke-width="1.1"/><line x1="339.8" y1="445.0" x2="347.8" y2="445.0" stroke="#111" stroke-width="1.1"/><line x1="339.8" y1="464.6" x2="347.8" y2="464.6" stroke="#111" stroke-width="1.1"/>
<circle cx="343.4" cy="433.3" r="3.75" fill="#000"/>
<circle cx="343.4" cy="444.5" r="3.75" fill="#000"/>
<circle cx="346.0" cy="466.3" r="3.75" fill="#000"/>
<circle cx="341.0" cy="470.0" r="3.75" fill="#000"/>
<line x1="361.7" y1="455.2" x2="375.3" y2="455.2" stroke="#111" stroke-width="1.1"/><line x1="368.5" y1="445.3" x2="368.5" y2="465.0" stroke="#111" stroke-width="1.1"/><line x1="364.5" y1="445.3" x2="372.5" y2="445.3" stroke="#111" stroke-width="1.1"/><line x1="364.5" y1="465.0" x2="372.5" y2="465.0" stroke="#111" stroke-width="1.1"/>
<circle cx="368.2" cy="432.4" r="3.75" fill="#000"/>
<circle cx="368.2" cy="449.9" r="3.75" fill="#000"/>
<circle cx="368.2" cy="459.6" r="3.75" fill="#000"/>
<circle cx="368.2" cy="473.6" r="3.75" fill="#000"/>
<line x1="386.4" y1="455.8" x2="400.0" y2="455.8" stroke="#111" stroke-width="1.1"/><line x1="393.2" y1="446.6" x2="393.2" y2="464.0" stroke="#111" stroke-width="1.1"/><line x1="389.2" y1="446.6" x2="397.2" y2="446.6" stroke="#111" stroke-width="1.1"/><line x1="389.2" y1="464.0" x2="397.2" y2="464.0" stroke="#111" stroke-width="1.1"/>
<circle cx="392.9" cy="435.0" r="3.75" fill="#000"/>
<circle cx="392.9" cy="450.4" r="3.75" fill="#000"/>
<circle cx="392.9" cy="458.7" r="3.75" fill="#000"/>
<circle cx="392.9" cy="472.5" r="3.75" fill="#000"/>
<text x="0.3" y="271.3" font-size="14" text-anchor="start" fill="#000" font-weight="bold" stroke="#000" stroke-width="0.45">b</text>
<text x="436.2" y="12.3" font-size="14" text-anchor="start" fill="#000" font-weight="bold" stroke="#000" stroke-width="0.45">c</text>
<line x1="476.9" y1="11.6" x2="476.9" y2="178.8" stroke="#8a8a8a" stroke-width="1.0"/>
<line x1="472.5" y1="178.3" x2="683.0" y2="178.3" stroke="#666" stroke-width="1.1"/>
<line x1="471.9" y1="178.3" x2="476.9" y2="178.3" stroke="#8a8a8a" stroke-width="0.9"/>
<line x1="473.9" y1="158.1" x2="476.9" y2="158.1" stroke="#8a8a8a" stroke-width="0.9"/>
<line x1="473.9" y1="146.3" x2="476.9" y2="146.3" stroke="#8a8a8a" stroke-width="0.9"/>
<line x1="473.9" y1="137.9" x2="476.9" y2="137.9" stroke="#8a8a8a" stroke-width="0.9"/>
<line x1="473.9" y1="131.4" x2="476.9" y2="131.4" stroke="#8a8a8a" stroke-width="0.9"/>
<line x1="473.9" y1="126.1" x2="476.9" y2="126.1" stroke="#8a8a8a" stroke-width="0.9"/>
<line x1="473.9" y1="121.6" x2="476.9" y2="121.6" stroke="#8a8a8a" stroke-width="0.9"/>
<line x1="473.9" y1="117.7" x2="476.9" y2="117.7" stroke="#8a8a8a" stroke-width="0.9"/>
<line x1="473.9" y1="114.3" x2="476.9" y2="114.3" stroke="#8a8a8a" stroke-width="0.9"/>
<line x1="471.9" y1="111.2" x2="476.9" y2="111.2" stroke="#8a8a8a" stroke-width="0.9"/>
<line x1="473.9" y1="91.0" x2="476.9" y2="91.0" stroke="#8a8a8a" stroke-width="0.9"/>
<line x1="473.9" y1="79.2" x2="476.9" y2="79.2" stroke="#8a8a8a" stroke-width="0.9"/>
<line x1="473.9" y1="70.8" x2="476.9" y2="70.8" stroke="#8a8a8a" stroke-width="0.9"/>
<line x1="473.9" y1="64.3" x2="476.9" y2="64.3" stroke="#8a8a8a" stroke-width="0.9"/>
<line x1="473.9" y1="59.0" x2="476.9" y2="59.0" stroke="#8a8a8a" stroke-width="0.9"/>
<line x1="473.9" y1="54.5" x2="476.9" y2="54.5" stroke="#8a8a8a" stroke-width="0.9"/>
<line x1="473.9" y1="50.6" x2="476.9" y2="50.6" stroke="#8a8a8a" stroke-width="0.9"/>
<line x1="473.9" y1="47.2" x2="476.9" y2="47.2" stroke="#8a8a8a" stroke-width="0.9"/>
<line x1="471.9" y1="44.1" x2="476.9" y2="44.1" stroke="#8a8a8a" stroke-width="0.9"/>
<line x1="473.9" y1="23.9" x2="476.9" y2="23.9" stroke="#8a8a8a" stroke-width="0.9"/>
<line x1="473.9" y1="12.1" x2="476.9" y2="12.1" stroke="#8a8a8a" stroke-width="0.9"/>
<text x="467.8" y="47.7" font-size="10.4" text-anchor="end" fill="#1a1a1a">1</text>
<text x="467.8" y="114.8" font-size="10.4" text-anchor="end" fill="#1a1a1a">0.1</text>
<line x1="500.7" y1="178.3" x2="500.7" y2="183.3" stroke="#8a8a8a" stroke-width="1.0"/>
<text x="505.7" y="192.0" font-size="10.4" text-anchor="end" fill="#1a1a1a" transform="rotate(-45 505.7 192.0)">Before SNI</text>
<line x1="533.5" y1="178.3" x2="533.5" y2="183.3" stroke="#8a8a8a" stroke-width="1.0"/>
<text x="538.5" y="192.0" font-size="10.4" text-anchor="end" fill="#1a1a1a" transform="rotate(-45 538.5 192.0)">Before SNI + CLZ</text>
<line x1="566.6" y1="178.3" x2="566.6" y2="183.3" stroke="#8a8a8a" stroke-width="1.0"/>
<text x="571.6" y="192.0" font-size="10.4" text-anchor="end" fill="#1a1a1a" transform="rotate(-45 571.6 192.0)">2</text>
<line x1="598.8" y1="178.3" x2="598.8" y2="183.3" stroke="#8a8a8a" stroke-width="1.0"/>
<text x="603.8" y="192.0" font-size="10.4" text-anchor="end" fill="#1a1a1a" transform="rotate(-45 603.8 192.0)">2 + CLZ</text>
<line x1="631.6" y1="178.3" x2="631.6" y2="183.3" stroke="#8a8a8a" stroke-width="1.0"/>
<text x="636.6" y="192.0" font-size="10.4" text-anchor="end" fill="#1a1a1a" transform="rotate(-45 636.6 192.0)">14</text>
<line x1="664.7" y1="178.3" x2="664.7" y2="183.3" stroke="#8a8a8a" stroke-width="1.0"/>
<text x="669.7" y="192.0" font-size="10.4" text-anchor="end" fill="#1a1a1a" transform="rotate(-45 669.7 192.0)">14 + CLZ</text>
<text x="445.0" y="95.3" font-size="10.4" text-anchor="middle" fill="#1a1a1a" transform="rotate(-90 445.0 95.3)">Mechanical threshold (g)</text>
<line x1="551.2" y1="228.5" x2="673.0" y2="228.5" stroke="#8a8a8a" stroke-width="1.0"/>
<text x="612.0" y="241.5" font-size="10.4" text-anchor="middle" fill="#1a1a1a">Days after SNI</text>
<circle cx="645.7" cy="15.1" r="3.5" fill="#000"/>
<text x="654.2" y="18.9" font-size="10.4" text-anchor="start" fill="#1a1a1a">Saline</text>
<circle cx="645.7" cy="31.6" r="3.5" fill="#0800ff"/>
<text x="654.2" y="35.4" font-size="10.4" text-anchor="start" fill="#1a1a1a">CLZ</text>
<circle cx="497.5" cy="39.3" r="3.75" fill="#000"/>
<circle cx="495.8" cy="44.5" r="3.75" fill="#000"/>
<circle cx="504.0" cy="42.2" r="3.75" fill="#000"/>
<circle cx="500.5" cy="44.0" r="3.75" fill="#000"/>
<circle cx="497.5" cy="60.0" r="3.75" fill="#000"/>
<circle cx="502.8" cy="58.5" r="3.75" fill="#000"/>
<circle cx="566.0" cy="116.9" r="3.75" fill="#000"/>
<circle cx="562.0" cy="129.1" r="3.75" fill="#000"/>
<circle cx="570.2" cy="127.6" r="3.75" fill="#000"/>
<circle cx="562.0" cy="146.0" r="3.75" fill="#000"/>
<circle cx="570.2" cy="152.7" r="3.75" fill="#000"/>
<circle cx="562.0" cy="157.3" r="3.75" fill="#000"/>
<circle cx="631.9" cy="146.6" r="3.75" fill="#000"/>
<circle cx="626.3" cy="157.3" r="3.75" fill="#000"/>
<circle cx="631.6" cy="157.3" r="3.75" fill="#000"/>
<circle cx="637.0" cy="157.3" r="3.75" fill="#000"/>
<circle cx="529.0" cy="39.9" r="3.75" fill="#0800ff"/>
<circle cx="537.2" cy="39.9" r="3.75" fill="#0800ff"/>
<circle cx="529.0" cy="50.1" r="3.75" fill="#0800ff"/>
<circle cx="537.2" cy="47.1" r="3.75" fill="#0800ff"/>
<circle cx="537.2" cy="54.7" r="3.75" fill="#0800ff"/>
<circle cx="529.0" cy="60.0" r="3.75" fill="#0800ff"/>
<circle cx="595.7" cy="127.6" r="3.75" fill="#0800ff"/>
<circle cx="601.2" cy="126.0" r="3.75" fill="#0800ff"/>
<circle cx="595.7" cy="152.1" r="3.75" fill="#0800ff"/>
<circle cx="595.7" cy="157.3" r="3.75" fill="#0800ff"/>
<circle cx="602.4" cy="157.3" r="3.75" fill="#0800ff"/>
<circle cx="661.6" cy="154.3" r="3.75" fill="#0800ff"/>
<circle cx="660.0" cy="157.3" r="3.75" fill="#0800ff"/>
<circle cx="665.3" cy="157.3" r="3.75" fill="#0800ff"/>
<circle cx="669.3" cy="157.3" r="3.75" fill="#0800ff"/>
<line x1="493.4" y1="47.4" x2="507.0" y2="47.4" stroke="#111" stroke-width="1.1"/><line x1="500.2" y1="44.2" x2="500.2" y2="50.6" stroke="#111" stroke-width="1.1"/><line x1="496.7" y1="44.2" x2="503.7" y2="44.2" stroke="#111" stroke-width="1.1"/><line x1="496.7" y1="50.6" x2="503.7" y2="50.6" stroke="#111" stroke-width="1.1"/>
<line x1="526.0" y1="47.4" x2="539.6" y2="47.4" stroke="#111" stroke-width="1.1"/><line x1="532.8" y1="44.8" x2="532.8" y2="51.0" stroke="#111" stroke-width="1.1"/><line x1="529.3" y1="44.8" x2="536.3" y2="44.8" stroke="#111" stroke-width="1.1"/><line x1="529.3" y1="51.0" x2="536.3" y2="51.0" stroke="#111" stroke-width="1.1"/>
<line x1="559.4" y1="134.6" x2="573.0" y2="134.6" stroke="#111" stroke-width="1.1"/><line x1="566.2" y1="130.7" x2="566.2" y2="141.4" stroke="#111" stroke-width="1.1"/><line x1="562.7" y1="130.7" x2="569.7" y2="130.7" stroke="#111" stroke-width="1.1"/><line x1="562.7" y1="141.4" x2="569.7" y2="141.4" stroke="#111" stroke-width="1.1"/>
<line x1="592.2" y1="142.9" x2="605.8" y2="142.9" stroke="#111" stroke-width="1.1"/><line x1="599.0" y1="136.8" x2="599.0" y2="150.0" stroke="#111" stroke-width="1.1"/><line x1="595.5" y1="136.8" x2="602.5" y2="136.8" stroke="#111" stroke-width="1.1"/><line x1="595.5" y1="150.0" x2="602.5" y2="150.0" stroke="#111" stroke-width="1.1"/>
<line x1="624.8" y1="156.7" x2="638.4" y2="156.7" stroke="#111" stroke-width="1.1"/><line x1="631.6" y1="155.0" x2="631.6" y2="158.4" stroke="#111" stroke-width="1.1"/><line x1="628.1" y1="155.0" x2="635.1" y2="155.0" stroke="#111" stroke-width="1.1"/><line x1="628.1" y1="158.4" x2="635.1" y2="158.4" stroke="#111" stroke-width="1.1"/>
<line x1="657.9" y1="157.0" x2="671.5" y2="157.0" stroke="#111" stroke-width="1.1"/><line x1="664.7" y1="156.0" x2="664.7" y2="158.0" stroke="#111" stroke-width="1.1"/><line x1="661.2" y1="156.0" x2="668.2" y2="156.0" stroke="#111" stroke-width="1.1"/><line x1="661.2" y1="158.0" x2="668.2" y2="158.0" stroke="#111" stroke-width="1.1"/>
<text x="436.2" y="287.9" font-size="14" text-anchor="start" fill="#000" font-weight="bold" stroke="#000" stroke-width="0.45">d</text>
<line x1="476.9" y1="298.4" x2="476.9" y2="464.4" stroke="#8a8a8a" stroke-width="1.0"/>
<line x1="472.5" y1="463.9" x2="684.0" y2="463.9" stroke="#666" stroke-width="1.1"/>
<line x1="471.9" y1="463.9" x2="476.9" y2="463.9" stroke="#8a8a8a" stroke-width="0.9"/>
<line x1="473.9" y1="443.9" x2="476.9" y2="443.9" stroke="#8a8a8a" stroke-width="0.9"/>
<line x1="473.9" y1="432.1" x2="476.9" y2="432.1" stroke="#8a8a8a" stroke-width="0.9"/>
<line x1="473.9" y1="423.8" x2="476.9" y2="423.8" stroke="#8a8a8a" stroke-width="0.9"/>
<line x1="473.9" y1="417.3" x2="476.9" y2="417.3" stroke="#8a8a8a" stroke-width="0.9"/>
<line x1="473.9" y1="412.1" x2="476.9" y2="412.1" stroke="#8a8a8a" stroke-width="0.9"/>
<line x1="473.9" y1="407.6" x2="476.9" y2="407.6" stroke="#8a8a8a" stroke-width="0.9"/>
<line x1="473.9" y1="403.8" x2="476.9" y2="403.8" stroke="#8a8a8a" stroke-width="0.9"/>
<line x1="473.9" y1="400.3" x2="476.9" y2="400.3" stroke="#8a8a8a" stroke-width="0.9"/>
<line x1="471.9" y1="397.3" x2="476.9" y2="397.3" stroke="#8a8a8a" stroke-width="0.9"/>
<line x1="473.9" y1="377.3" x2="476.9" y2="377.3" stroke="#8a8a8a" stroke-width="0.9"/>
<line x1="473.9" y1="365.5" x2="476.9" y2="365.5" stroke="#8a8a8a" stroke-width="0.9"/>
<line x1="473.9" y1="357.2" x2="476.9" y2="357.2" stroke="#8a8a8a" stroke-width="0.9"/>
<line x1="473.9" y1="350.7" x2="476.9" y2="350.7" stroke="#8a8a8a" stroke-width="0.9"/>
<line x1="473.9" y1="345.5" x2="476.9" y2="345.5" stroke="#8a8a8a" stroke-width="0.9"/>
<line x1="473.9" y1="341.0" x2="476.9" y2="341.0" stroke="#8a8a8a" stroke-width="0.9"/>
<line x1="473.9" y1="337.2" x2="476.9" y2="337.2" stroke="#8a8a8a" stroke-width="0.9"/>
<line x1="473.9" y1="333.7" x2="476.9" y2="333.7" stroke="#8a8a8a" stroke-width="0.9"/>
<line x1="471.9" y1="330.7" x2="476.9" y2="330.7" stroke="#8a8a8a" stroke-width="0.9"/>
<line x1="473.9" y1="310.7" x2="476.9" y2="310.7" stroke="#8a8a8a" stroke-width="0.9"/>
<line x1="473.9" y1="298.9" x2="476.9" y2="298.9" stroke="#8a8a8a" stroke-width="0.9"/>
<text x="467.8" y="334.3" font-size="10.4" text-anchor="end" fill="#1a1a1a">1</text>
<text x="467.8" y="400.9" font-size="10.4" text-anchor="end" fill="#1a1a1a">0.1</text>
<line x1="500.7" y1="463.9" x2="500.7" y2="468.9" stroke="#8a8a8a" stroke-width="1.0"/>
<text x="505.7" y="477.6" font-size="10.4" text-anchor="end" fill="#1a1a1a" transform="rotate(-45 505.7 477.6)">Before SNI</text>
<line x1="533.4" y1="463.9" x2="533.4" y2="468.9" stroke="#8a8a8a" stroke-width="1.0"/>
<text x="538.4" y="477.6" font-size="10.4" text-anchor="end" fill="#1a1a1a" transform="rotate(-45 538.4 477.6)">Before SNI + CLZ</text>
<line x1="565.8" y1="463.9" x2="565.8" y2="468.9" stroke="#8a8a8a" stroke-width="1.0"/>
<text x="570.8" y="477.6" font-size="10.4" text-anchor="end" fill="#1a1a1a" transform="rotate(-45 570.8 477.6)">2</text>
<line x1="598.6" y1="463.9" x2="598.6" y2="468.9" stroke="#8a8a8a" stroke-width="1.0"/>
<text x="603.6" y="477.6" font-size="10.4" text-anchor="end" fill="#1a1a1a" transform="rotate(-45 603.6 477.6)">2 + CLZ</text>
<line x1="631.7" y1="463.9" x2="631.7" y2="468.9" stroke="#8a8a8a" stroke-width="1.0"/>
<text x="636.7" y="477.6" font-size="10.4" text-anchor="end" fill="#1a1a1a" transform="rotate(-45 636.7 477.6)">14</text>
<line x1="664.9" y1="463.9" x2="664.9" y2="468.9" stroke="#8a8a8a" stroke-width="1.0"/>
<text x="669.9" y="477.6" font-size="10.4" text-anchor="end" fill="#1a1a1a" transform="rotate(-45 669.9 477.6)">14 + CLZ</text>
<text x="445.0" y="380.6" font-size="10.4" text-anchor="middle" fill="#1a1a1a" transform="rotate(-90 445.0 380.6)">Mechanical threshold (g)</text>
<line x1="551.0" y1="515.6" x2="673.0" y2="515.6" stroke="#8a8a8a" stroke-width="1.0"/>
<text x="612.0" y="528.8" font-size="10.4" text-anchor="middle" fill="#1a1a1a">Days after SNI</text>
<circle cx="487.4" cy="437.6" r="3.5" fill="#000"/>
<text x="495.8" y="441.5" font-size="10.4" text-anchor="start" fill="#1a1a1a">Saline</text>
<circle cx="487.4" cy="454.0" r="3.5" fill="#0800ff"/>
<text x="495.8" y="457.9" font-size="10.4" text-anchor="start" fill="#1a1a1a">CLZ</text>
<circle cx="499.7" cy="312.5" r="3.75" fill="#000"/>
<circle cx="496.0" cy="325.8" r="3.75" fill="#000"/>
<circle cx="500.1" cy="324.2" r="3.75" fill="#000"/>
<circle cx="503.4" cy="327.6" r="3.75" fill="#000"/>
<circle cx="499.7" cy="333.8" r="3.75" fill="#000"/>
<circle cx="503.4" cy="339.5" r="3.75" fill="#000"/>
<circle cx="496.0" cy="342.5" r="3.75" fill="#000"/>
<circle cx="565.8" cy="396.5" r="3.75" fill="#000"/>
<circle cx="565.8" cy="419.2" r="3.75" fill="#000"/>
<circle cx="561.8" cy="428.3" r="3.75" fill="#000"/>
<circle cx="570.3" cy="432.5" r="3.75" fill="#000"/>
<circle cx="561.8" cy="438.2" r="3.75" fill="#000"/>
<circle cx="561.8" cy="444.6" r="3.75" fill="#000"/>
<circle cx="569.6" cy="444.6" r="3.75" fill="#000"/>
<circle cx="626.4" cy="428.3" r="3.75" fill="#000"/>
<circle cx="634.2" cy="431.9" r="3.75" fill="#000"/>
<circle cx="627.8" cy="444.6" r="3.75" fill="#000"/>
<circle cx="634.8" cy="444.6" r="3.75" fill="#000"/>
<circle cx="631.0" cy="440.0" r="3.75" fill="#000"/>
<circle cx="532.8" cy="302.7" r="3.75" fill="#0800ff"/>
<circle cx="528.9" cy="328.2" r="3.75" fill="#0800ff"/>
<circle cx="536.9" cy="324.2" r="3.75" fill="#0800ff"/>
<circle cx="533.4" cy="333.4" r="3.75" fill="#0800ff"/>
<circle cx="537.5" cy="332.3" r="3.75" fill="#0800ff"/>
<circle cx="532.8" cy="369.7" r="3.75" fill="#0800ff"/>
<circle cx="596.3" cy="302.9" r="3.75" fill="#0800ff"/>
<circle cx="599.3" cy="309.4" r="3.75" fill="#0800ff"/>
<circle cx="598.9" cy="321.6" r="3.75" fill="#0800ff"/>
<circle cx="603.2" cy="323.6" r="3.75" fill="#0800ff"/>
<circle cx="599.3" cy="328.1" r="3.75" fill="#0800ff"/>
<circle cx="602.8" cy="331.5" r="3.75" fill="#0800ff"/>
<circle cx="594.9" cy="333.5" r="3.75" fill="#0800ff"/>
<circle cx="661.4" cy="325.8" r="3.75" fill="#0800ff"/>
<circle cx="660.4" cy="329.1" r="3.75" fill="#0800ff"/>
<circle cx="668.2" cy="334.0" r="3.75" fill="#0800ff"/>
<circle cx="661.4" cy="334.0" r="3.75" fill="#0800ff"/>
<circle cx="664.9" cy="355.7" r="3.75" fill="#0800ff"/>
<circle cx="665.0" cy="331.0" r="3.75" fill="#0800ff"/>
<line x1="493.0" y1="328.5" x2="506.6" y2="328.5" stroke="#111" stroke-width="1.1"/><line x1="499.8" y1="324.0" x2="499.8" y2="333.0" stroke="#111" stroke-width="1.1"/><line x1="496.3" y1="324.0" x2="503.3" y2="324.0" stroke="#111" stroke-width="1.1"/><line x1="496.3" y1="333.0" x2="503.3" y2="333.0" stroke="#111" stroke-width="1.1"/>
<line x1="526.0" y1="326.8" x2="539.6" y2="326.8" stroke="#111" stroke-width="1.1"/><line x1="532.8" y1="320.0" x2="532.8" y2="333.8" stroke="#111" stroke-width="1.1"/><line x1="529.3" y1="320.0" x2="536.3" y2="320.0" stroke="#111" stroke-width="1.1"/><line x1="529.3" y1="333.8" x2="536.3" y2="333.8" stroke="#111" stroke-width="1.1"/>
<line x1="559.0" y1="424.5" x2="572.6" y2="424.5" stroke="#111" stroke-width="1.1"/><line x1="565.8" y1="418.5" x2="565.8" y2="430.5" stroke="#111" stroke-width="1.1"/><line x1="562.3" y1="418.5" x2="569.3" y2="418.5" stroke="#111" stroke-width="1.1"/><line x1="562.3" y1="430.5" x2="569.3" y2="430.5" stroke="#111" stroke-width="1.1"/>
<line x1="592.3" y1="319.3" x2="605.9" y2="319.3" stroke="#111" stroke-width="1.1"/><line x1="599.1" y1="315.0" x2="599.1" y2="324.2" stroke="#111" stroke-width="1.1"/><line x1="595.6" y1="315.0" x2="602.6" y2="315.0" stroke="#111" stroke-width="1.1"/><line x1="595.6" y1="324.2" x2="602.6" y2="324.2" stroke="#111" stroke-width="1.1"/>
<line x1="625.0" y1="437.6" x2="638.6" y2="437.6" stroke="#111" stroke-width="1.1"/><line x1="631.8" y1="435.5" x2="631.8" y2="441.4" stroke="#111" stroke-width="1.1"/><line x1="628.3" y1="435.5" x2="635.3" y2="435.5" stroke="#111" stroke-width="1.1"/><line x1="628.3" y1="441.4" x2="635.3" y2="441.4" stroke="#111" stroke-width="1.1"/>
<line x1="658.0" y1="333.5" x2="671.6" y2="333.5" stroke="#111" stroke-width="1.1"/><line x1="664.8" y1="330.7" x2="664.8" y2="336.6" stroke="#111" stroke-width="1.1"/><line x1="661.3" y1="330.7" x2="668.3" y2="330.7" stroke="#111" stroke-width="1.1"/><line x1="661.3" y1="336.6" x2="668.3" y2="336.6" stroke="#111" stroke-width="1.1"/>
<line x1="566.2" y1="292.3" x2="598.9" y2="292.3" stroke="#555" stroke-width="1.0"/>
<text x="582.0" y="291.2" font-size="12" text-anchor="middle" fill="#1a1a1a">*</text>
<line x1="632.4" y1="317.3" x2="664.9" y2="317.3" stroke="#555" stroke-width="1.0"/>
<text x="648.2" y="316.2" font-size="12" text-anchor="middle" fill="#1a1a1a">*</text>
<text x="0.0" y="558.2" font-size="14" text-anchor="start" fill="#000" font-weight="bold" stroke="#000" stroke-width="0.45">e</text>
<rect x="18.0" y="559.6" width="66.6" height="63.8" fill="#cbcbcb" stroke="#a6a6a6" stroke-width="1.3"/>
<rect x="87.6" y="559.6" width="66.6" height="63.8" fill="#ffffff" stroke="#a6a6a6" stroke-width="1.3"/>
<rect x="18.0" y="626.4" width="66.6" height="63.1" fill="#cbcbcb" stroke="#a6a6a6" stroke-width="1.3"/>
<rect x="87.6" y="626.4" width="66.6" height="63.1" fill="#ffffff" stroke="#a6a6a6" stroke-width="1.3"/>
<path d="M134.7,562.9L136.3,562.8L139.2,563.3L140.7,564.6L142.6,566.3L144.3,567.9L146.5,568.9L147.9,571.0L149.7,571.8L151.0,573.9L151.4,575.8L151.2,578.5L148.9,580.8L149.3,582.7L146.8,584.5L146.0,586.7L143.8,588.5L141.4,590.2L140.2,591.3L138.3,592.9L136.7,593.8L134.0,595.4L131.9,596.1L130.9,598.6L129.2,600.0L127.6,602.4L125.7,603.1L124.0,605.0L123.2,607.6L121.4,608.6L118.8,610.0L117.6,611.2L114.6,613.0L113.5,614.3L114.0,616.4L115.9,618.2L118.5,618.5L121.0,618.4L123.1,618.4L125.0,617.6L127.8,618.0L130.2,617.9L131.9,618.9L134.4,619.2L137.3,619.6L139.4,620.1L140.9,620.2L144.2,620.4L146.0,619.2L147.4,617.2L148.4,614.4L149.0,613.3L149.5,610.2L151.7,608.3L151.0,606.5L151.2,603.2L151.3,601.3L150.8,598.6L150.2,596.8L150.6,594.6L150.0,591.7L149.1,589.8L148.6,587.5L149.0,585.3L148.1,582.5L146.4,580.5L145.7,578.2L144.9,575.9L144.4,574.6L142.1,572.7L139.4,572.6L136.6,573.0L134.3,571.5L132.8,570.8L130.0,570.8L127.7,569.8L126.0,569.5L123.2,569.3L121.0,569.2L118.7,569.1L116.6,566.8L114.3,566.9L112.0,566.1L109.7,565.0L107.2,564.8L105.8,566.0L104.5,567.7L102.4,569.9L100.9,571.3L98.7,573.2L97.2,574.5L96.4,576.5L95.8,578.7L95.7,581.0L94.3,583.5L94.0,586.3L92.0,587.5L90.4,588.1L87.4,588.3L85.7,588.1L83.6,588.2L80.6,589.4L78.8,591.1L76.5,591.8L74.6,593.5L72.7,594.9L71.2,595.1L68.4,596.5L66.0,597.1L64.1,598.4L62.8,600.9L62.0,602.6L62.6,604.7L64.1,606.4L65.0,609.1L66.2,610.7L68.1,612.0L70.3,614.1L71.8,615.6L72.6,617.5L74.8,617.8L76.4,615.9L76.3,613.7L76.8,611.3L76.5,609.1L75.6,606.6L76.8,604.4L78.6,602.8L79.3,600.7L80.8,598.3L82.2,596.7L84.1,595.2L84.6,592.8L85.9,590.3L87.9,589.0L90.3,589.0L92.0,590.3L94.4,592.1L96.9,592.6L98.4,593.6L99.7,595.3L102.6,596.3L105.3,595.9L106.8,597.4L109.1,598.9L110.4,601.2L112.0,601.8L114.6,603.0L116.6,604.5L118.2,605.7L118.4,608.2L118.6,610.6L117.8,612.5L115.7,613.8L114.5,615.7L112.9,617.5L114.1,619.6L115.3,620.6L118.4,620.3L120.8,621.0L122.1,618.6L121.1,617.0L119.3,616.2L116.6,616.5L113.7,617.7L111.9,617.7L109.8,617.2L107.0,617.1L105.4,618.6L103.0,619.9L101.4,620.2L99.6,619.0L98.7,616.3L97.3,614.8L96.8,612.1L96.2,610.0L95.6,608.1L95.1,605.3L94.1,603.6L93.7,600.5L93.6,598.5L93.6,596.3L93.5,593.6L93.2,591.7L95.6,591.4L98.1,591.2L101.0,590.6L102.7,591.5L105.1,591.1L107.5,591.2L110.1,590.8L112.7,591.1L114.3,592.3L117.4,592.8L118.9,593.2L120.6,594.9L122.7,596.2L124.5,596.8L127.0,597.5L129.4,598.3L131.7,598.1L134.4,598.3L135.6,599.8L137.1,602.7L138.5,603.8L140.4,605.5L143.3,606.0L145.3,606.5L146.6,608.8L148.5,608.1L149.8,605.3L150.1,603.3L149.6,600.4L149.0,598.1L148.5,596.0L149.2,593.9L148.8,591.3L150.3,589.1L151.0,586.7L151.4,584.5L151.1,582.0L150.9,579.6L150.5,577.5L149.8,575.4L149.9,573.2L149.3,570.3L148.7,568.2L145.8,568.3L143.9,569.1L141.9,569.5L140.0,571.6L138.2,572.9L136.3,575.0L134.6,575.9L132.8,576.1L129.6,577.1L127.6,576.7L124.9,577.1L122.2,577.5L120.7,577.3L118.2,576.6L115.9,577.1L113.2,577.3L110.6,577.9L108.9,579.8L106.7,580.1L103.8,580.2L102.2,581.1L99.8,582.2L97.7,583.0L95.5,583.2L92.7,583.6L91.1,585.3L90.0,587.1L87.5,588.6L85.9,590.3L84.1,591.1L82.0,591.6L79.8,592.3L77.4,592.0L75.4,592.9L73.1,593.1L70.6,593.7L68.0,594.5L66.5,594.4L63.1,594.5L61.2,595.6L58.9,595.6L55.9,596.1L54.2,596.4L51.1,597.2L49.5,597.9L47.0,598.3L44.7,598.9L42.4,599.3L40.1,600.4L37.9,602.0L35.9,601.5L34.3,603.4L32.1,604.6L30.4,605.5L27.9,606.8L25.9,608.0L23.8,606.9L25.3,604.1L27.0,603.9L29.1,603.0L30.6,601.2L33.6,600.5L35.4,600.2L37.2,598.8L39.9,598.2L41.9,597.6L44.9,597.1L47.4,597.6L49.6,596.4L51.3,595.7L53.7,594.6L56.0,594.1L58.0,592.7L60.2,592.9L62.6,592.7L65.1,592.0L68.2,591.6L70.5,591.0L72.3,591.4L74.8,590.7L77.4,591.2L79.5,591.2L81.9,591.6L84.2,590.6L86.3,590.3L88.3,589.5L91.0,590.1L93.4,590.6L95.9,590.3L98.3,591.6L101.0,591.2L103.0,591.5L105.2,591.1L107.3,590.7L109.9,592.0L111.3,593.3L114.2,593.5L116.7,593.2L118.5,592.1L121.1,591.4L123.4,592.4L125.2,592.4L128.4,592.5L130.3,591.4L131.6,589.7L132.5,587.7L133.6,584.9L133.3,583.0L134.1,580.4L135.7,578.8L137.4,576.0L138.4,574.8L139.9,573.6L142.5,571.7L144.1,571.7L147.4,572.6L148.7,573.3L147.3,575.4L145.4,577.0L144.5,579.1L141.7,579.3L139.6,580.7L137.3,580.8L134.9,580.8L132.3,581.8L130.0,581.9L128.2,582.4L125.9,583.5L123.8,584.6L120.9,585.4L118.9,586.8L117.2,586.9L115.0,588.8L112.3,588.2L109.9,587.9L107.6,588.1L105.3,588.6L102.7,588.9L100.7,589.0L98.0,590.2L96.0,590.3L93.1,590.3L91.2,589.9L89.4,590.0L86.8,589.3L84.5,588.6L82.6,587.1L80.8,586.3L79.5,584.4L76.1,583.4L74.1,583.2L71.6,583.0L69.4,582.0L67.2,581.4L65.9,580.0L63.4,578.6L60.7,578.2L58.4,577.7L56.2,578.0L54.2,578.3L51.8,577.6L49.5,576.8L47.7,575.1L46.4,572.6L44.1,572.3L41.9,570.5L39.6,572.2L38.5,573.4L38.1,575.7L37.5,577.9L38.5,580.4L38.5,582.6L37.8,585.0L36.5,587.1L35.7,589.0L35.7,591.6L34.6,593.7L34.2,595.8L34.5,599.1L34.1,601.2L33.5,603.2L33.6,605.6L32.8,608.1L31.7,610.1L29.4,611.1L28.0,613.7L25.7,614.3L25.3,616.6L27.7,617.9L29.0,617.7L31.1,617.4L33.8,617.4L36.5,616.9L38.7,616.2L41.1,614.2L42.4,614.1L45.2,613.4L47.3,612.9L49.9,612.2L52.3,611.9L54.1,610.5L56.4,609.1L58.0,607.4L60.4,606.6L62.4,604.7L64.1,603.2L65.8,601.7L68.1,601.8L69.8,600.1L72.0,598.7L73.5,597.0L75.7,596.2L77.8,595.7L80.9,595.4L82.6,595.4L85.0,594.8L87.9,595.1L89.7,594.7L92.2,594.7L94.4,596.5L96.0,598.0L97.3,599.6L98.8,601.4L99.6,603.6L101.8,604.7L103.6,606.6L105.2,608.1L106.4,606.3L107.6,604.4L108.4,602.0L108.3,600.2L108.1,597.2L107.3,594.4L106.2,592.9L106.2,590.0L106.0,587.6L105.4,585.6L104.4,584.0L102.1,581.7L102.0,579.1L101.7,576.6L101.3,574.6L100.7,572.1L101.0,569.6L100.3,567.3L100.3,565.9L101.8,563.8L103.6,562.7L105.7,563.4L108.6,563.6L111.0,563.7L113.0,564.6L115.5,565.2L117.7,564.6L119.6,564.9L122.1,565.3L124.8,565.4L127.2,565.2L129.3,565.3L132.0,565.6L134.0,565.0L136.8,564.5L138.7,565.0L141.8,564.9L143.7,565.8L143.4,568.1L142.0,569.9L139.7,569.8L137.4,570.1L135.0,570.7L132.0,570.7L130.0,570.5L127.9,571.9L125.3,571.2L123.0,570.8L121.4,571.3L118.4,570.7L115.8,570.9L113.1,570.3L111.4,569.4L109.6,568.4L107.1,569.3L104.4,569.3L102.8,571.3L100.4,571.3L98.9,573.2L97.8,575.6L98.0,577.6L98.5,580.3L98.4,583.1L98.0,584.9L97.4,586.6L97.0,590.2L96.9,591.3L97.0,594.3L96.9,597.2L97.3,599.0L98.2,601.6L97.6,603.4L96.2,605.4L95.0,607.2L95.3,610.3L94.4,612.5L93.1,614.0L91.2,612.4L91.5,610.5L91.9,608.2L93.2,606.1L93.9,604.2L95.2,601.8L96.0,599.5L97.3,597.4L97.4,594.9L96.8,592.5L97.6,590.5L97.5,588.1L97.8,586.3L98.1,583.6L98.2,581.3L99.8,578.8L100.8,577.0L101.2,574.7L101.3,572.7L101.8,569.8L102.1,567.7L103.8,567.7L105.7,569.7L107.8,571.3L109.3,572.1L110.5,574.2L111.8,576.2L112.6,578.3L114.6,580.3L115.5,582.7L117.0,584.0L118.7,585.9L120.7,588.0L122.1,590.7L123.2,591.5L124.7,592.5L126.5,594.9L127.8,597.3L128.8,599.1L131.1,600.6L132.8,602.1L134.1,604.1L134.1,606.4L135.3,609.2L136.1,610.7L137.4,613.1L139.4,613.4L142.1,613.6L143.6,612.6L144.9,609.7L144.4,607.6L144.5,606.4L145.9,603.6L146.0,601.0L145.0,598.7L144.5,596.1L144.3,594.3L143.6,592.2L144.2,589.4L145.9,586.8L146.7,584.8L147.7,583.3L147.7,581.0L147.5,578.2L147.9,575.8L147.1,574.2L146.8,571.9L146.0,569.2L148.1,568.2L150.4,569.5L151.4,571.3L151.8,573.7L149.3,575.5L146.5,574.7L144.4,575.3L141.7,574.8L140.1,574.9L137.7,574.4L134.9,572.7L133.1,571.4L130.5,571.9L128.1,571.2L125.5,572.3L123.9,573.3L121.4,572.8L118.7,573.0L116.5,572.8L114.0,572.7L112.2,571.4L109.8,571.7L107.3,570.4L104.5,570.4L102.2,569.8L100.1,569.5L98.1,569.8L96.2,571.3L96.9,573.0L99.9,573.9L102.0,574.4L103.8,576.1L106.2,575.5L108.6,576.4L110.3,577.8L112.5,579.6L114.1,580.7L116.4,582.0L118.5,583.5L120.1,584.3L122.3,585.7L125.1,586.1L126.4,588.1L128.7,588.9L130.7,589.6L133.4,589.9L135.0,591.1L137.7,592.2L139.3,593.6L141.7,595.1L142.9,596.2L145.0,597.3L147.3,597.1L149.4,595.7L149.9,593.8L148.6,592.0L145.9,590.4L143.1,589.6L141.8,589.1L139.2,588.3L136.9,587.6L134.7,587.2L132.2,586.2L130.2,586.2L127.5,586.1L125.1,586.5L122.6,586.5L121.2,586.5L118.2,586.2L115.9,586.1L113.4,585.9L111.5,584.3L109.5,582.9L107.3,581.3L105.3,580.9L103.0,579.2L101.4,578.4L99.3,577.3L97.2,578.1L97.5,581.4L96.4,583.1L96.3,585.4L96.3,587.8L95.9,590.3L94.3,592.5L94.1,594.9L94.9,596.9L94.8,599.4L95.1,601.9L94.6,603.9L94.4,607.0L93.6,609.0L93.1,611.2L92.8,612.9L93.3,615.8L94.6,617.6L96.2,618.6L98.7,617.1L100.4,615.2L100.1,613.1L100.8,611.2L101.0,608.7L99.6,606.3L98.8,604.0L98.0,602.2L97.0,599.5L96.9,597.4L96.0,595.8L95.2,592.9L95.6,590.6L95.5,588.1L95.9,585.3L96.1,583.8L95.3,581.4L95.0,578.7L95.6,576.6L94.6,574.1L93.9,571.8L92.7,569.9L92.2,567.3L91.4,565.1L92.4,563.2L94.8,563.6L97.8,564.2L100.0,563.7L102.0,564.6L104.1,565.1L106.8,565.5L109.0,564.2L111.2,564.5L114.0,564.1L116.3,564.1L118.3,564.1L120.9,563.7L123.3,563.4L125.8,564.7L128.1,564.4L131.0,564.3L132.6,563.8L135.3,562.6L137.0,562.7L139.9,562.9L142.8,563.4L144.8,563.2L146.4,563.9L145.4,566.5L143.3,566.6L140.8,567.2L138.2,566.8L136.0,566.8L134.2,566.3L130.8,565.9L128.9,566.4L126.2,566.4L124.0,566.9L121.7,567.4L119.4,567.9L117.5,568.1L114.8,567.5L112.4,567.0L110.1,567.9L107.9,568.8L105.4,568.9L103.5,568.2L100.9,567.5L98.1,567.1L96.6,566.5L96.8,569.0L98.0,571.7L97.9,573.7L100.3,575.3L101.8,576.7L104.3,578.0L106.2,580.0L108.3,580.6L110.2,581.6L112.6,582.5L114.9,582.4L116.9,583.5L118.5,584.9L120.7,587.1L121.9,588.4L122.2,590.6L123.6,592.3L125.7,594.4L126.7,596.6L127.7,598.3L129.5,600.8L130.7,602.6L132.0,604.2L133.9,605.4L137.0,606.1L138.5,607.3L140.6,609.2L142.7,610.4L144.8,610.9L146.5,612.4L148.3,614.0L148.3,616.7L145.8,617.2L144.2,618.8L141.8,619.0L138.7,618.8L137.4,619.5L134.8,619.0L132.3,619.3L130.7,617.7L128.4,616.1L126.0,615.6L124.7,614.3L122.5,613.9L120.2,613.0L117.3,612.5L114.7,611.7L112.5,611.5L110.6,611.0L107.9,611.4L105.9,611.2L103.2,610.3L100.4,609.6L99.8,608.3L101.5,606.8L103.7,606.5L106.1,606.6L108.3,607.7L110.8,608.4L113.5,608.4L115.6,610.0L117.4,610.4L119.7,610.1L122.5,611.7L125.0,611.6L127.0,612.6L129.8,612.6L131.2,614.5L132.7,616.7L134.7,618.3L136.7,618.7L139.2,618.4L141.9,617.6L143.6,618.9L146.6,618.7L147.8,617.4L146.5,615.3L144.8,613.8L142.1,614.1L139.1,614.1L137.4,614.4L135.5,616.2L133.5,617.3L131.4,618.6L129.5,619.3L127.2,619.8L125.0,619.9L121.5,619.6L120.1,619.1L117.8,618.4L115.1,618.6L112.7,619.0L110.2,619.6L108.0,618.7L105.6,618.3L103.1,617.7L101.2,617.5L98.2,616.6L96.2,617.3L96.5,619.5L97.6,620.5L100.4,620.3L102.9,620.9L105.4,620.4L107.6,620.8L110.4,620.2L111.8,620.8L114.9,620.0L117.2,620.1L119.6,620.6L121.6,619.6L124.1,620.3L126.6,620.3L129.0,620.1L131.1,620.5L133.5,620.4L135.7,619.3L137.5,618.4L136.1,616.6L133.9,615.6L131.9,615.8L129.1,615.9L126.5,616.4L124.5,617.0L122.3,617.1L120.1,617.5L116.7,617.4L114.9,617.5L112.6,617.0L110.2,617.6L108.1,617.5L105.3,617.3L103.2,618.0L101.1,618.4L98.7,618.6L96.1,619.4L96.8,620.3L99.0,620.1L100.8,620.7L103.5,620.7L105.7,620.2L108.0,620.4L110.5,619.7L112.8,619.8L115.6,620.1L117.1,620.5L119.4,620.1L122.2,619.7L124.3,620.0L127.2,619.1L129.2,619.5L132.2,620.2L133.9,620.4L137.1,620.0L138.3,619.5L141.4,619.0L143.4,617.2L144.0,616.0L146.1,614.0L147.7,612.6L149.4,611.5L148.7,608.5L149.1,605.8L148.4,603.9L147.8,602.1L146.9,598.6L146.0,596.7L146.2,593.7L145.9,591.3L144.5,590.0L143.9,588.2L143.4,585.7L141.0,584.0L140.4,581.9L139.3,579.8L138.2,577.6L136.8,575.6L136.5,573.4L135.0,570.8L135.3,569.1L136.5,566.6L138.2,565.2L140.4,567.3L139.4,569.5L139.0,571.2L136.4,571.5L134.7,574.1L132.8,574.9L130.7,576.2L129.1,577.5L126.9,578.9L126.6,581.0L124.2,581.6L122.3,580.7L119.8,579.9L117.1,579.4L115.0,578.0L112.6,577.0L111.7,575.2L110.0,572.7L107.8,572.2L106.1,569.5L105.1,567.9L103.0,567.0L101.6,566.5L99.3,565.2L96.3,566.4L95.7,568.5L94.8,571.2L93.5,572.8L93.3,574.8L93.9,577.4L92.4,579.7L93.0,581.8L92.5,584.0L91.5,586.7L90.2,588.3L87.9,590.2L85.5,590.5L83.3,592.0L81.0,592.0L80.0,590.7L80.7,587.7L83.3,586.8L85.0,586.8L87.8,586.6L90.4,587.2L92.5,586.9L94.6,587.1L96.9,587.4L99.3,587.8L101.4,589.5L103.6,589.4L106.7,588.7L108.9,588.9L111.4,589.7L113.2,588.4L115.8,588.5L118.1,587.7L120.9,587.1L122.7,585.8L122.9,583.7L121.2,582.4L118.9,580.9L117.4,579.3L114.8,577.6L112.4,577.1L110.4,576.1L108.6,575.1L107.5,572.6L104.7,571.6L102.8,570.0L100.7,568.9L99.6,567.6L97.5,566.0L95.2,566.6L93.3,567.3L92.7,569.2L92.5,571.3L92.7,573.6L93.9,576.0L94.9,578.4L95.3,580.6L95.2,582.8L96.2,585.3L96.0,587.3L96.8,590.0L97.5,592.0L96.9,595.0L96.1,597.3L94.9,598.9L93.7,600.5L93.7,603.7L94.0,606.0L93.5,607.6L93.4,610.5L92.7,611.4L91.1,610.0L90.7,608.2L90.7,606.2L89.5,603.5L89.0,596.7L90.6,594.3L89.5,592.3L88.0,592.2L86.0,593.1L84.0,594.6L81.3,596.0L79.6,597.0L77.0,596.4L75.1,596.7L72.4,596.5L70.4,596.6L67.6,596.5L65.2,596.5L63.4,597.0L61.2,597.2L58.2,597.7L56.5,595.6L53.8,596.1L51.7,596.9L48.6,596.5L46.7,596.7L44.2,597.0L42.7,595.4L40.1,595.7L36.9,597.1L35.3,596.6L32.8,597.1L30.5,597.9L28.8,599.7L27.8,601.7L27.4,604.8L27.3,607.2L27.5,609.0L26.5,611.9L25.8,613.0L23.2,611.6L22.3,610.1L21.7,607.2L22.4,604.8L23.6,602.3L23.5,600.5L22.6,598.0L23.4,595.8L22.9,593.0L21.7,590.7L22.2,588.2L23.6,586.3L25.2,586.9L27.8,586.9L30.8,586.7L32.9,587.4L35.5,587.3L37.2,587.6L40.1,586.8L41.8,587.0L44.8,587.2L46.8,587.7L48.9,587.9L52.0,587.9L54.1,588.5L56.5,589.4L58.7,589.7L61.4,589.6L63.2,589.6L65.9,589.6L68.4,589.4L70.8,589.9L72.7,590.0L75.3,589.9L77.8,590.5L80.1,590.7L81.8,591.2L84.6,589.8L87.3,589.0L88.9,589.7L90.6,591.5L92.1,593.4L92.8,595.0L93.9,597.4L94.5,600.1L95.6,602.6L96.4,604.6L96.7,606.9L97.3,609.0L99.0,610.9L101.1,610.1L102.8,608.2L105.0,607.5L107.2,604.9L108.1,603.9L109.8,602.0L110.8,600.4L112.4,598.3L113.1,596.6L114.2,594.6L117.1,593.7L118.9,592.5L120.5,589.9L122.8,588.7L124.2,587.8L126.5,586.2L127.0,584.1L128.5,581.6L130.1,580.2L131.8,578.0L133.7,577.0L135.1,575.1L136.3,573.1L138.2,571.3L139.6,570.0L141.5,568.4L142.7,566.4L143.8,564.4L146.5,563.1L144.9,562.6L142.9,562.7L140.2,563.2L138.3,564.3L136.8,565.3L133.6,565.8L131.9,566.8L129.4,568.2L127.9,569.2L126.6,571.3L124.5,572.6L122.8,574.8L120.3,575.2L117.9,576.0L115.3,576.7L113.5,576.4L111.0,577.5L109.0,577.6L106.8,579.4L105.1,581.4L103.4,582.5L101.5,583.7L99.2,585.7L97.3,587.1L96.3,588.9L93.9,590.4L91.9,592.3L90.7,591.5L87.1,592.2L85.7,592.2L83.0,592.4L80.9,592.6L78.1,593.0L76.1,593.3L73.3,593.1L71.3,593.0L69.5,593.4L67.1,593.1L67.2,591.0L68.9,590.2L70.6,588.7L73.2,589.3L74.6,591.5L77.0,592.7L79.4,593.6L81.4,593.1L83.6,591.7L85.9,590.7L87.2,588.9L89.2,587.0L91.5,586.7L93.4,585.6L96.2,584.5L97.4,583.9L99.8,583.2L102.5,583.2L104.3,581.0L103.7,579.0L102.1,578.6L99.7,576.7L97.9,575.8L96.7,573.9L94.8,572.5L92.7,572.1L91.1,573.8L90.2,576.1L90.5,578.9L90.2,581.1L88.6,587.2L88.8,588.7L88.4,591.7L88.3,593.6L89.3,595.6L89.6,596.9L90.3,598.7L90.9,601.4L92.1,602.5L93.4,605.0L94.1,607.4L95.4,610.0L94.0,611.3L91.8,611.8L89.8,610.7L89.4,596.7L87.6,594.7L85.6,594.9L82.7,593.3L80.0,592.7L77.9,593.0L76.4,590.7L74.9,590.0L71.8,588.7L70.9,587.2L68.0,586.6L65.6,587.7L63.8,587.8L61.1,586.7L58.7,585.8L56.9,584.8L54.6,584.2L52.2,582.8L51.2,581.2L48.7,580.5L46.2,580.8L43.7,579.4L42.6,577.8L41.4,575.4L40.5,573.5L38.5,572.5L38.0,569.2L36.2,567.9L35.4,566.5L36.7,565.5L39.3,566.9L41.6,567.7L43.7,568.7L45.3,570.0L48.0,570.7L49.9,572.1L51.8,573.8L53.7,574.4L55.7,574.8L58.0,576.3L60.4,577.5L62.6,578.7L63.6,579.3L65.9,580.6L68.4,581.1L70.2,582.1L72.2,583.3L75.7,583.9L77.6,585.1L78.5,586.7L79.1,589.2L81.1,589.5L83.7,589.9L86.3,589.3L87.4,587.5L89.8,586.5L92.5,585.5L94.7,585.0L97.1,584.3L99.1,584.8L101.7,583.9L103.5,583.1L105.6,582.1L107.9,581.1L109.3,580.9L112.6,579.8L114.8,580.0L116.9,580.4L118.8,579.8L121.9,580.2L124.1,579.6L126.0,578.4L129.1,579.0L131.2,579.9L133.3,579.4L135.5,580.0L138.2,579.4L140.5,578.6L141.9,576.3L144.1,575.6L146.3,574.6L146.9,572.3L146.8,570.1L146.4,568.0L143.0,567.7L142.0,568.6L139.5,569.1L137.5,570.0L135.8,571.5L133.7,574.1L132.7,575.2L130.5,576.5L129.2,578.3L127.4,580.4L126.1,581.6L124.7,584.1L123.1,585.5L120.9,586.6L119.5,588.7L117.3,589.9L115.5,591.2L114.3,593.4L113.6,595.3L111.4,597.4L110.6,599.9L109.0,602.2L107.9,603.6L106.9,605.6L105.1,607.4L103.7,608.9L101.5,610.0L99.3,610.9L97.1,612.5L94.9,613.8L93.4,615.4L91.5,615.0L90.4,612.4L89.3,609.9L88.3,596.0L89.1,592.9L88.9,590.7L86.5,591.1L85.2,592.2L82.0,592.4L80.3,591.8L77.8,591.8L74.9,590.9L73.3,591.4L70.8,590.7L68.6,590.2L65.3,590.7L63.4,590.2L61.2,588.9L59.4,588.9L56.4,589.0L54.4,589.2L52.0,589.1L50.0,588.7L48.2,587.6L46.0,585.5L44.8,583.2L47.4,581.7L48.0,580.1L51.2,579.9L53.2,580.4L55.6,581.5L57.8,581.5L59.8,582.4L62.2,583.1L64.5,583.6L67.1,584.2L68.9,584.5L71.1,586.5L73.3,587.2L75.6,588.3L77.0,589.9L80.0,591.0L81.6,590.9L84.2,591.7L86.7,592.1L88.4,591.7L90.8,592.2L93.0,592.7L94.3,595.2L94.9,597.3L94.4,600.2L95.0,602.4L94.6,604.7L93.9,607.2L93.9,609.4L94.7,611.4L94.3,613.7L94.6,616.1L95.5,617.9L98.1,616.7L99.6,615.1L100.8,613.0L102.7,611.6L104.2,609.7L105.9,608.6L107.7,606.2L108.2,604.5L109.8,602.1L111.5,600.4L111.8,598.2L112.9,595.3L113.8,594.0L113.9,591.4L115.8,590.0L117.4,587.9L117.8,585.5L117.1,582.6L119.4,581.3L120.5,579.1L121.8,576.8L123.3,575.5L125.5,574.7L125.5,572.3L123.0,571.0L121.2,570.9L119.2,570.5L117.0,570.7L114.4,570.5L111.7,569.9L109.8,570.3L107.8,571.4L105.2,571.4L103.0,571.9L100.2,572.8L98.0,572.6L95.9,573.5L93.5,574.3L91.9,572.9L91.5,569.5L90.1,568.9L89.6,571.2L89.8,573.1L89.3,575.7L90.1,578.5L90.2,580.4L90.4,582.2L91.7,584.8L91.8,587.6L92.0,589.7L91.9,592.1L92.4,594.7L93.5,596.5L93.1,599.2L92.2,601.4L92.8,604.0L93.4,606.7L94.3,608.8L94.4,611.0L94.7,613.9L94.3,615.8L95.1,617.6L97.3,616.9L99.5,615.5L101.3,614.7L102.9,612.3L104.1,610.5L106.3,609.1L107.4,607.2L109.1,605.8L109.7,602.9L111.6,601.9L113.9,600.1L115.6,599.2L117.4,596.7L119.3,594.7L120.3,593.4L122.0,591.6L123.8,590.2L125.6,588.8L127.9,587.3L130.0,585.3L130.3,584.1L131.6,581.5L134.0,580.2L136.5,579.8L138.6,579.0L140.5,578.1L142.6,577.2L145.2,576.9L147.2,575.1L149.0,576.6L149.9,578.8L149.9,580.9L149.9,583.4L148.7,585.8L148.0,587.7L147.9,590.1L147.7,591.9L148.0,594.8L148.4,597.3L148.3,600.0L148.3,602.1L146.2,603.4L145.0,601.3L142.6,600.1L140.9,598.9L139.7,597.2L136.5,596.5L135.2,595.1L132.6,594.1L130.4,593.2L128.7,591.9L128.1,589.6L126.0,587.9L124.8,585.9L122.6,583.8L122.4,583.1L119.9,581.1L117.6,579.1L116.0,577.6L115.5,575.2L113.7,573.4L112.2,572.4L110.7,570.7L108.4,569.4L106.4,568.1L103.7,567.9L101.6,567.2L99.4,566.4L96.7,567.8L95.8,569.3L94.7,571.4L93.9,573.6L94.1,576.3L93.6,578.2L92.3,580.4L90.9,582.4L89.9,584.6L90.1,586.6L90.7,589.4L89.5,591.1L87.5,592.5L84.9,593.2L82.4,592.5L81.9,590.3L81.9,588.7L82.1,585.5L82.3,583.2L82.3,580.8L83.1,586.2L83.1,586.2L81.5,585.3L81.3,582.7L80.6,581.0L79.4,578.8L79.2,576.2L78.7,573.6L79.8,571.3L78.4,569.2L76.6,570.1L76.1,572.4L75.7,574.5L76.6,577.3L78.0,578.9L78.4,581.1L79.7,583.9L79.9,586.1L81.1,587.9L81.5,590.8L82.3,593.1L84.2,593.6L86.6,593.3L89.2,592.3L91.3,592.1L93.5,591.5L95.4,590.0L98.1,589.1L100.2,588.7L102.6,587.8L104.9,587.7L107.5,586.7L109.1,586.2L112.1,585.7L113.7,586.5L117.4,586.4L119.2,585.0L121.1,583.7L123.3,583.4L125.8,582.2L127.6,581.1L129.5,579.4L130.1,577.5L132.5,576.0L133.4,574.1L135.9,573.2L137.3,571.0L138.3,569.2L140.9,568.9L143.4,568.6L145.3,569.7L147.7,571.8L149.0,573.2L147.4,575.8L144.9,576.7L143.3,576.9L140.9,577.4L138.4,579.1L136.2,579.1L133.6,578.2L131.6,577.5L129.9,577.4L127.3,578.5L125.2,579.2L123.1,579.1L119.7,579.0L117.4,578.6L115.0,579.7L112.6,579.5L110.1,579.2L107.6,581.2L105.8,581.4L103.6,581.7L101.7,582.9L99.7,583.9L97.1,584.0L95.3,584.7L92.7,585.7L90.2,586.2L87.9,587.0L86.0,589.0L83.8,589.7L82.1,592.0L80.1,592.3L78.3,591.5L76.3,590.5L73.3,590.5L71.6,590.3L69.1,589.0L67.7,587.6L65.8,585.6L63.0,585.5L61.6,584.9L58.1,584.9L56.6,583.8L53.7,582.9L52.1,582.0L50.3,580.6L47.3,580.1L45.4,578.8L43.0,578.8L40.8,578.1L38.1,576.9L36.0,577.2L34.4,575.7L32.2,574.7L29.8,573.7L27.5,572.5L25.5,571.8L23.9,572.5L23.9,574.5L25.2,576.3L27.9,577.5L29.5,577.6L32.3,579.8L34.0,581.3L36.2,581.4L38.2,582.0L40.5,582.8L43.0,583.5L45.2,583.8L47.6,584.0L50.1,584.8L52.3,584.6L54.3,585.4L57.1,585.0L59.7,585.5L61.6,586.1L64.1,585.7L66.4,586.6L68.7,587.4L70.1,587.6L72.4,588.8L75.9,589.3L77.4,590.4L78.7,592.7L81.3,593.2L83.3,594.5L85.8,594.5L87.7,593.5L89.8,592.6L92.9,592.6L94.9,591.4L96.6,589.2L98.2,587.8L100.6,586.6L102.9,586.3L104.9,585.4L107.5,585.1L109.3,585.0L111.7,583.8L113.6,582.0L116.0,580.5L117.9,579.6L119.2,578.3L121.2,576.3L123.6,576.2L125.5,574.7L127.8,574.2L130.3,573.8L130.5,571.9L128.4,570.0L127.0,569.6L124.2,568.3L122.6,567.7L120.3,566.9L118.1,567.3L116.2,568.5L113.2,569.8L111.9,570.6L109.3,571.8L106.7,570.6L106.3,568.9L107.8,567.4L109.7,566.0L110.9,563.6L109.2,562.4L107.2,562.3L104.7,562.3L102.6,563.0L100.0,562.8L97.7,562.8L96.3,563.1L95.1,565.3L92.7,568.0L92.7,569.4L91.6,571.9L91.1,574.7L91.6,576.5L91.5,578.8L91.7,581.5L91.8,584.4L91.1,585.9L89.3,587.9L87.3,589.0L85.1,589.6L82.8,589.4L80.4,590.2L78.3,590.7L76.3,592.7L74.1,593.4L71.9,594.4L69.3,595.6L67.0,596.2L65.3,597.2L64.2,598.7L61.8,599.8L59.4,601.0L57.5,602.7L56.4,604.2L53.7,604.9L51.8,606.2L49.1,606.2L47.0,607.9L45.6,609.2L47.2,610.8L49.0,609.8L51.6,609.1L53.3,609.0L55.6,607.9L57.7,606.0L59.5,604.2L60.7,602.7L62.9,600.5L63.5,598.8L65.2,596.0L66.3,595.2L69.3,594.2L71.0,593.4L73.1,592.3L75.2,590.4L76.9,589.3L78.6,587.7L80.9,586.7L82.6,586.2L84.7,587.4L86.2,589.3L87.9,590.5L90.5,590.3L92.9,591.4L95.1,591.3L97.5,590.9L99.9,590.6L102.2,590.8L104.4,589.5L106.3,589.3L109.2,589.0L111.7,587.4L113.7,586.7L116.0,586.3L118.2,586.4L121.1,586.6L123.0,586.1L125.5,585.3L127.8,583.6L129.1,582.6L132.0,581.7L133.5,580.6L135.1,582.8L136.0,584.3L135.9,587.4L136.3,589.6L136.5,592.0L137.2,593.7L138.2,596.9L139.1,598.5L140.1,599.9L142.0,598.9L144.2,597.4L146.1,595.5L147.4,594.2L147.4,591.6L147.6,589.2L147.2,587.1L148.5,584.4L149.2,582.5L150.2,579.8L150.2,577.5L150.3,575.3L149.9,573.1L150.3,571.0L149.3,568.5L148.1,570.8L147.4,572.9L146.5,575.2L147.0,577.5L147.1,579.5L147.4,581.7L147.3,585.0L148.0,586.8L147.6,589.1L148.5,591.8L149.0,594.2L149.6,596.2L149.7,598.7L149.9,601.1L150.3,603.5L150.3,606.1L149.9,608.8L150.5,610.4L150.2,612.9L151.0,613.8L151.2,612.8L150.8,609.9L151.1,607.9L151.7,604.9L150.4,604.1L151.4,604.8L150.8,606.8L151.3,609.1L150.6,610.9L149.8,612.8L147.1,614.3L145.1,615.1L142.7,615.3L140.2,615.5L138.7,617.1L136.4,617.7L133.8,617.8L131.5,617.7L129.9,617.1L126.7,616.9L124.5,616.2L122.2,616.4L120.1,617.3L117.1,618.8L115.3,618.7L113.0,618.7L110.5,619.0L108.4,618.9L106.0,619.7L103.2,619.9L100.5,619.5L99.1,619.5L96.1,618.7L94.7,616.8L93.3,615.3L93.0,612.8L91.3,610.7L90.7,609.3L90.8,606.4L91.7,604.5L92.2,601.4L92.2,599.3L92.0,597.4L91.5,595.0L91.3,592.2L90.7,590.4L89.5,588.7L87.0,587.3L85.3,588.3L83.5,589.9L81.1,591.8L79.7,593.4L81.9,595.1L84.3,595.3L86.6,595.5L88.5,593.6L91.5,592.7L92.1,594.8L92.5,597.1L91.5,598.7L91.1,601.4L91.1,603.8L92.3,605.5L92.5,608.7L92.4,610.8L92.7,612.3" fill="none" stroke="#000" stroke-width="1.15" stroke-linejoin="round" stroke-linecap="round"/>
<path d="M36.7,683.5L36.9,680.8L37.7,679.4L38.9,678.2L42.1,677.5L44.4,676.5L46.7,675.3L48.7,674.8L50.5,673.5L53.1,672.6L55.6,672.5L57.1,671.0L59.5,670.1L61.7,668.9L63.9,668.0L66.5,667.0L67.8,666.2L70.8,666.1L72.2,666.0L74.7,664.5L76.6,664.0L79.1,662.4L81.1,661.1L82.9,660.5L86.0,659.8L87.5,659.3L90.7,658.8L90.7,656.7L93.1,657.3L92.9,658.7L90.9,660.2L88.1,658.5L86.4,658.3L85.1,656.4L82.4,655.5L80.2,655.7L77.9,656.2L76.2,657.0L73.9,658.1L72.6,659.7L70.1,661.2L67.5,662.2L65.0,663.0L63.5,664.3L61.7,666.4L59.9,668.2L57.5,669.1L56.3,670.7L57.2,673.1L58.9,675.1L60.1,676.4L62.3,677.3L63.9,679.8L66.0,680.6L68.8,680.1L70.0,681.7L73.0,682.1L75.8,682.6L77.8,683.8L79.4,683.0L79.7,680.2L78.8,678.7L77.4,676.5L75.2,674.7L74.1,673.2L71.6,671.8L70.3,670.0L68.6,667.9L66.4,666.3L66.9,664.3L67.6,661.5L69.3,660.2L70.8,658.3L71.6,657.2L73.7,655.0L75.1,652.6L76.5,650.9L78.2,649.8L79.6,647.1L80.7,644.9L82.2,644.2L83.7,652.9L83.1,655.0L83.3,657.6L82.7,659.5L82.6,662.0L82.4,663.2L81.8,665.8L81.7,667.7L82.2,670.3L81.2,672.9L81.7,675.1L82.2,676.9L83.5,662.6L84.3,663.1L83.7,662.9L83.6,662.7L83.3,663.0L82.6,663.1L82.3,665.2L81.7,667.7L81.0,669.7L80.0,671.9L80.4,674.5L80.7,676.9L80.9,679.1L81.9,681.5L82.5,680.4L83.0,677.3L82.3,676.0L82.0,673.0L81.8,670.9L81.7,668.0L82.2,666.0L82.2,663.8L81.9,661.3L81.2,659.0L80.5,657.2L81.3,654.7L82.8,653.6L85.2,652.9L87.3,652.7L89.2,653.3L91.4,654.8L94.1,655.2L96.3,656.5L98.8,656.8L100.1,658.8L102.3,659.7L104.8,659.8L107.3,661.2L108.9,662.6L110.3,663.6L113.4,664.2L114.6,667.0L117.2,667.7L118.8,669.1L121.0,670.2L122.9,671.3L125.1,670.9L127.1,670.2L129.1,668.1L131.3,667.3L133.5,665.9L134.4,663.8L137.0,662.5L139.4,661.7L140.9,661.0L142.7,660.8L145.2,658.9L144.9,657.7L143.0,656.1L140.6,656.2L138.2,656.0L136.2,657.6L134.0,658.5L131.2,658.5L128.8,659.7L127.6,659.7L125.1,660.0L122.0,659.0L120.1,658.9L118.4,657.5L115.0,657.0L114.1,655.9L111.7,655.5L109.0,656.1L107.2,655.6L104.0,654.5L101.9,655.1L100.2,655.7L97.8,656.4L95.5,657.4L93.1,658.0L90.6,657.8L88.1,658.0L85.8,657.9L83.1,657.9L82.2,660.3L80.3,661.7L78.2,663.0L76.7,665.0L75.6,667.5L73.3,668.7L72.2,670.2L70.4,671.9L68.8,673.7L68.0,676.2L65.0,677.0L63.6,679.1L62.9,681.5L61.1,683.4L59.4,684.0L56.5,683.7L57.4,681.8L59.2,680.9L61.5,678.8L62.7,676.1L64.3,675.8L66.4,674.6L68.7,672.7L70.3,671.9L72.2,670.0L73.5,668.4L75.5,667.3L77.3,665.2L77.6,662.7L80.5,661.7L82.5,660.3L84.7,659.6L87.1,659.6L88.6,658.1L91.7,657.5L94.0,657.9L96.3,659.0L98.2,659.2L100.5,659.9L103.1,660.1L104.9,660.8L107.6,661.3L109.2,662.5L111.7,663.6L113.5,665.1L115.7,666.1L117.9,667.0L120.3,668.4L122.4,669.6L125.0,670.4L126.8,671.1L128.7,671.8L130.7,673.4L132.7,674.2L134.2,676.4L136.6,677.9L138.4,678.8L140.0,680.2L142.7,680.5L144.3,681.6L145.3,683.9L143.5,685.1L140.9,685.3L138.6,686.6L136.2,685.9L134.6,684.4L132.1,683.8L129.7,683.6L127.7,683.2L124.9,683.5L122.3,683.2L120.5,685.2L118.5,684.9L116.3,684.8L113.4,684.4L111.6,684.5L109.0,685.0L106.1,685.9L104.4,686.6L101.9,686.6L99.4,684.8L98.2,684.3L100.1,682.1L102.5,680.8L104.5,681.9L107.3,682.3L109.8,682.9L111.6,683.4L113.6,684.7L116.3,683.8L119.0,683.4L120.7,683.8L123.0,684.6L125.7,685.2L127.7,685.5L130.2,686.4L132.4,686.5L134.7,686.3L136.7,686.3L137.1,686.9L134.6,686.3L132.7,686.2L130.0,686.7L128.2,686.5L125.7,686.1L123.1,685.6L120.8,685.4L118.6,685.4L116.4,685.0L113.8,685.0L111.6,684.1L109.4,683.7L107.0,683.7L104.8,684.5L102.5,685.7L100.5,684.6L98.9,682.9L97.5,680.8L96.4,678.7L95.4,677.0L94.1,674.5L93.8,672.1L93.8,669.4L92.8,667.5L91.6,665.7L90.7,663.0L89.6,661.3L88.1,660.0L85.9,658.5L84.0,656.4L82.4,655.6L79.6,656.6L78.9,657.8L76.9,659.7L75.7,662.4L73.2,663.8L72.0,665.5L70.2,663.0L70.8,661.0L70.4,658.9L71.9,657.0L73.8,654.7L74.5,652.6L75.9,650.2L76.0,647.8L76.2,645.2L76.5,643.9L79.1,644.0L81.0,645.6L81.1,647.9L82.3,649.9L82.8,651.7L83.0,655.0L82.9,656.9L84.2,658.8L86.8,660.1L88.9,658.9L90.0,656.4L89.3,654.7L90.6,652.6L91.4,649.9L91.1,647.4L91.9,645.4L92.6,642.5L92.4,640.8L92.4,638.2L92.2,635.9L91.5,633.6L93.2,631.6L95.6,631.5L98.2,631.6L100.4,632.5L102.3,633.4L103.8,635.1L105.4,637.4L106.6,638.8L109.3,640.0L110.2,642.8L111.6,644.3L112.2,646.8L113.7,648.9L115.8,650.5L116.7,651.8L117.4,654.2L118.2,656.6L118.0,657.8L117.4,660.8L115.1,660.9L113.0,659.5L110.7,659.0L108.3,659.0L106.0,658.7L103.6,659.7L101.9,657.9L98.9,658.3L96.9,657.6L93.9,658.3L92.6,658.7L89.8,659.4L87.4,660.5L85.7,662.3L83.3,662.5L81.5,663.7L78.7,663.5L76.3,663.1L74.2,663.8L72.1,662.1L69.6,662.0L67.4,661.5L64.4,661.0L62.9,662.4L60.3,662.1L57.9,662.8L55.1,662.7L53.1,662.9L50.8,663.7L49.3,664.9L46.4,665.4L44.2,666.6L42.2,667.9L40.3,669.5L38.1,670.0L36.6,671.7L38.6,673.6L39.7,673.6L42.1,674.0L44.4,675.5L46.5,676.5L48.6,677.7L49.7,679.9L52.1,680.9L54.4,680.3L56.7,680.8L58.8,680.6L61.6,680.9L64.4,681.5L66.6,681.5L68.8,681.4L71.2,680.9L73.3,680.4L74.2,679.1L75.0,676.9L76.1,674.4L75.3,672.7L75.2,669.7L74.9,667.4L74.2,664.5L74.4,663.0L73.4,660.0L72.4,658.5L72.2,656.1L71.5,653.2L70.8,650.7L72.4,649.5L73.7,647.2L74.5,645.4L77.4,645.1L79.7,645.5L80.8,648.5L81.8,650.1L83.1,653.1L84.4,653.3L84.7,652.9L83.1,653.2L82.2,652.2L81.4,649.5L80.6,647.7L81.3,644.9L81.7,642.7L79.5,643.1L78.6,644.9L77.3,647.4L78.8,649.4L79.7,652.3L80.2,653.6L80.9,656.4L81.0,658.6L84.0,659.0L85.5,659.3L88.7,659.9L90.5,657.8L92.8,657.3L94.5,655.1L96.8,654.4L99.6,653.4L101.1,653.0L103.6,653.5L105.8,653.8L108.5,653.4L110.9,653.0L112.9,652.7L115.3,651.5L117.0,651.6L120.1,651.3L122.3,651.1L124.4,651.4L126.4,652.7L128.2,654.1L129.3,656.5L130.7,658.9L131.3,661.4L132.5,662.6L133.7,665.5L134.7,667.5L136.3,669.6L137.1,671.4L138.6,673.4L139.4,675.0L141.1,677.5L142.5,679.1L143.1,680.9L144.0,683.2L142.3,684.5L139.6,684.1L137.3,683.3L135.7,683.2L133.3,681.0L130.9,679.5L129.3,677.8L128.0,677.2L125.2,676.6L123.4,674.9L121.2,674.0L118.9,672.2L118.0,670.6L116.0,669.5L113.9,668.3L111.6,666.7L110.0,664.9L107.9,664.0L106.1,663.3L103.6,662.7L101.3,662.4L99.4,660.9L96.7,659.7L94.8,659.2L92.5,659.2L89.5,658.9L87.7,660.0L85.8,661.2L83.3,661.1L80.6,661.8L78.8,662.6L76.3,663.0L74.0,664.1L72.1,665.1L70.0,664.8L67.4,665.1L64.9,665.6L62.4,665.4L59.6,665.6L58.1,666.0L55.4,666.3L52.9,667.1L50.8,667.8L48.9,668.7L47.6,670.9L46.1,672.5L44.3,675.0L42.6,675.7L40.4,676.1L37.3,676.8L35.3,678.0L33.3,679.5L31.4,680.2L29.2,680.0L27.1,680.9L24.3,681.9L23.6,684.0L25.2,685.2L28.4,686.3L30.4,685.8L31.9,684.8L34.3,684.0L36.8,682.8L38.6,681.7L40.0,679.8L41.5,678.0L43.9,677.8L46.5,677.1L48.4,676.8L50.9,675.7L53.2,675.1L55.4,673.9L57.0,672.0L58.1,670.4L60.5,669.1L62.7,668.4L64.5,667.0L66.7,665.9L69.1,665.1L71.1,664.4L73.4,662.5L74.9,661.5L77.7,660.8L80.5,660.5L81.6,660.6L84.0,660.2L87.1,661.0L89.0,661.8L90.8,663.2L92.6,664.4L95.4,664.4L98.1,664.5L99.7,666.9L101.9,667.4L104.0,667.8L106.5,668.1L108.8,669.2L110.9,670.7L113.1,670.7L115.1,671.9L117.6,672.6L119.4,673.9L122.3,673.9L124.3,675.6L126.0,676.7L127.8,678.3L130.1,678.8L132.7,680.1L134.7,680.8L136.9,682.1L138.9,683.0L141.3,683.3L143.7,684.2L145.8,685.9L146.2,682.8L144.7,681.3L143.5,679.1L141.1,678.4L139.0,677.4L136.9,677.2L135.4,674.7L133.6,673.2L131.2,672.3L129.0,671.9L126.4,670.7L124.8,669.6L122.2,669.1L120.0,667.8L118.1,666.5L116.0,666.0L113.8,665.4L111.3,663.6L110.1,662.7L108.1,661.2L105.8,659.8L104.1,659.4L101.4,658.0L99.5,657.7L97.7,656.2L95.1,656.0L93.1,654.8L90.1,654.8L88.1,655.0L85.7,655.8L83.5,655.3L81.1,656.0L78.7,656.1L76.5,657.0L74.4,658.3L71.9,658.8L69.8,660.6L68.0,661.6L65.7,662.7L64.0,664.3L62.0,666.2L60.3,668.4L59.3,670.4L58.1,671.8L54.9,671.9L53.0,672.4L51.0,673.2L48.9,673.8L46.6,674.8L43.8,675.8L41.7,677.7L40.8,679.1L38.3,680.4L36.7,682.3L34.5,683.0L32.7,684.0L31.7,685.5L33.6,686.1L35.1,686.2L37.7,686.6L40.1,686.2L42.4,686.8L44.9,685.5L47.2,684.9L49.4,684.0L52.2,685.5L54.0,684.8L56.8,684.7L56.7,681.4L56.0,679.6L55.9,677.4L55.0,675.2L54.6,672.7L54.9,669.9L56.0,668.0L56.2,665.7L55.7,663.7L56.5,660.6L56.0,658.2L56.8,656.0L57.2,653.5L56.7,651.1L56.2,649.2L55.1,646.7L55.6,644.3L55.8,642.0L56.1,640.2L57.2,638.0L56.4,634.8L58.2,633.3L60.4,634.1L63.1,634.6L64.3,636.8L64.8,639.5L65.2,641.2L65.5,643.7L66.5,645.9L67.6,647.7L69.6,649.2L71.6,650.6L72.9,652.9L74.6,654.0L76.1,656.6L76.8,658.9L77.6,661.0L79.6,662.9L79.6,664.6L79.0,667.7L79.8,669.1L80.7,671.9L81.6,673.6L82.2,676.4L82.7,678.4L82.2,680.9L81.0,682.6L78.9,680.6L78.4,678.4L77.4,676.2L77.8,674.2L77.0,671.7L75.2,669.7L74.6,667.5L72.6,665.7L70.9,664.3L69.6,662.5L68.2,661.3L66.2,660.6L63.0,660.0L60.7,659.1L58.8,658.2L56.0,656.9L54.7,656.8L52.0,656.4L50.2,654.0L48.0,652.7L47.9,650.5L45.5,649.0L43.8,647.0L42.0,645.9L39.3,644.9L37.3,643.3L35.9,641.7L33.6,640.5L32.3,639.1L29.8,637.0L29.5,634.8L28.6,632.1L28.3,630.5L30.6,630.4L32.9,631.7L35.1,633.6L35.9,634.9L38.6,636.7L40.0,637.3L42.0,639.9L42.8,641.4L45.5,642.7L46.3,645.0L48.6,646.7L49.7,648.6L51.0,651.5L51.7,653.1L53.8,653.8L56.6,653.9L58.1,655.0L61.0,654.7L62.9,656.2L65.2,656.4L68.0,657.0L70.2,657.2L72.1,656.3L74.1,656.3L76.9,656.1L79.4,655.4L81.2,655.0L83.9,655.3L86.3,655.4L87.9,653.6L90.3,653.2L93.1,653.2L95.1,653.6L97.0,654.7L99.0,655.8L101.0,657.3L102.5,659.3L103.8,661.5L105.9,662.2L108.6,662.8L110.3,664.0L111.0,665.8L111.4,668.4L111.0,670.5L112.3,673.1L110.1,673.3L108.0,672.4L106.8,670.2L104.5,669.0L101.8,668.7L100.7,666.9L98.3,666.0L97.1,663.5L95.6,662.0L94.1,659.8L92.7,657.7L91.2,655.3L89.2,655.1L86.3,655.1L85.0,656.5L82.5,656.7L80.2,656.9L77.7,655.8L75.4,654.5L73.7,653.1L71.1,652.2L70.0,651.7L67.4,650.9L64.7,650.9L62.1,651.4L59.3,650.9L58.0,652.2L55.2,652.9L52.3,653.3L50.9,652.7L48.8,650.9L46.6,649.8L48.5,647.4L49.1,645.7L50.2,642.5L51.8,641.5L53.7,639.9L55.7,638.3L57.4,637.6L60.1,636.7L61.8,634.0L63.9,633.5L66.5,632.9L68.6,631.7L70.2,631.7L72.2,630.1L71.4,630.2L69.7,629.2L67.1,630.1L64.5,630.4L62.5,630.6L60.1,630.7L57.9,630.9L55.7,630.7L52.9,630.4L50.2,630.1L47.7,629.4L46.2,629.3L44.0,629.6L43.1,631.8L45.1,633.5L47.1,635.4L47.8,637.1L50.7,638.0L53.1,639.0L55.1,639.0L57.5,639.4L59.0,640.9L60.5,642.3L63.0,643.2L65.2,644.3L67.5,645.8L69.2,647.6L70.8,648.0L73.4,649.5L75.6,651.1L76.0,652.7L78.4,654.4L79.5,656.5L81.0,658.2L83.0,658.8L85.4,658.0L88.0,658.0L89.5,658.7L91.7,660.6L92.8,662.0L96.2,662.3L98.1,663.9L99.5,665.5L101.7,666.4L102.7,668.3L103.5,671.4L104.9,672.6L107.1,674.3L109.1,675.2L110.2,677.4L111.8,679.3L113.7,680.4L116.2,681.2L117.4,682.7L116.0,684.7L114.3,684.5L112.6,681.9L111.4,680.6L110.3,679.0L107.8,676.9L105.3,676.7L104.3,674.1L102.8,672.5L100.7,671.8L98.7,670.3L97.8,668.5L96.9,666.5L95.0,664.3L93.1,662.6L91.6,661.2L89.3,658.7L89.0,657.7L87.0,655.4L85.1,654.9L83.7,653.7L81.0,652.5L78.5,651.5L76.7,650.8L74.6,649.3L72.5,648.5L69.5,647.9L67.8,646.7L65.9,645.6L63.4,643.5L62.0,642.5L59.9,641.6L57.8,639.9L55.7,639.5L53.0,639.5L50.5,639.3L48.5,637.6L46.9,637.7L44.7,635.4L42.6,635.0L40.1,634.9L37.4,633.4L35.8,632.4L33.3,632.2L31.4,632.1L28.2,631.6L27.6,634.3L28.4,635.6L30.2,637.5L31.8,638.9L34.3,640.3L35.8,641.6L37.7,642.3L40.6,643.4L42.2,644.7L44.6,645.4L46.7,647.2L48.5,647.4L51.3,646.1L53.8,645.3L56.3,645.7L58.0,646.1L60.6,646.7L63.1,648.4L65.5,648.6L68.0,648.3L69.8,649.2L72.0,648.5L74.8,648.9L76.8,648.6L78.9,650.2L80.8,651.5L82.7,652.2L84.4,654.0L86.0,655.3L88.8,656.8L90.6,657.9L92.5,658.6L94.9,658.8L97.2,659.3L100.0,659.7L101.7,661.7L103.6,662.7L105.9,662.6L108.3,663.3L110.5,664.0L112.5,663.8L115.0,664.0L117.9,664.8L119.5,664.2L122.3,664.1L124.7,663.7L126.7,663.9L129.0,664.5L131.5,664.4L133.6,663.2L135.8,661.8L138.2,662.3L140.3,660.2L141.7,659.4L143.3,657.0L144.0,655.2L144.9,653.2L145.4,650.6L145.9,647.8L146.6,646.0L146.8,643.5L146.8,640.8L148.1,639.0L148.4,635.9L149.3,634.6L148.5,632.0L146.4,632.6L145.0,634.4L143.7,636.8L141.3,638.7L140.2,639.9L139.2,642.2L137.4,643.7L135.9,645.6L134.0,646.4L131.9,647.7L129.0,648.8L127.2,648.8L124.8,646.9L124.0,644.9L123.3,642.9L122.8,640.5L123.1,638.1L124.8,636.6L125.7,634.4L124.8,631.8L122.9,631.0L120.4,630.8L118.7,629.9L120.2,629.3L122.1,629.4L123.8,631.0L123.3,633.5L123.9,635.2L123.6,638.2L122.9,640.2L122.9,642.7L123.0,646.0L122.1,647.9L122.4,650.0L122.2,652.4L121.5,654.8L121.6,657.3L122.6,659.3L121.9,661.9L121.8,664.4L121.6,666.8L121.6,668.5L121.4,671.5L120.7,673.9L120.5,675.9L120.3,678.2L119.0,681.0L118.4,682.1L114.9,681.9L113.4,680.9L111.1,679.9L110.0,678.2L107.8,676.4L107.2,674.6L104.8,672.7L103.7,670.3L102.1,668.1L100.5,666.5L99.5,665.4L98.1,663.9L96.1,661.5L94.9,659.5L94.4,656.8L93.1,655.0L90.9,654.3L88.2,653.9L85.9,654.8L83.7,654.4L81.5,655.2L79.7,655.2L76.7,654.8L74.1,655.0L71.6,654.7L69.9,654.9L67.3,654.2L64.9,654.2L62.5,654.1L60.5,653.6L58.4,654.1L56.1,654.7L53.8,654.4L51.4,653.8L50.3,652.5L47.2,651.0L45.2,649.7L43.2,649.4L41.3,648.7L38.3,650.1L36.6,650.7L34.0,650.9L31.3,651.2L29.4,651.4L26.8,651.2L24.8,652.2L24.7,654.6L24.7,656.7L25.4,659.0L25.9,661.0L26.3,663.4L27.1,665.9L28.1,668.0L28.6,670.3L28.9,672.8L29.4,674.6L30.2,677.0L31.2,679.3L32.5,681.7L33.8,683.4L36.2,682.9L37.3,680.5L38.4,679.2L38.7,677.0L38.9,674.5L39.7,672.0L40.3,669.9L40.6,667.6L40.1,665.4L41.2,662.6L43.1,660.9L44.9,659.7L47.4,658.9L49.4,657.7L51.1,656.7L53.4,655.3L55.6,653.9L58.1,653.0L59.9,652.3L61.9,651.1L64.3,649.9L66.4,649.9L68.3,649.2L70.8,648.5L73.3,648.3L75.1,648.0L78.2,647.3L79.5,648.0L81.8,650.3L81.3,652.4L83.3,654.2L84.8,655.8L86.6,656.5L89.1,658.4L91.5,658.0L94.2,658.4L96.9,657.0L97.8,655.6L99.7,654.0L101.9,652.9L103.7,651.7L106.4,651.0L109.0,651.2L111.7,651.1L113.2,651.4L115.7,650.4L118.0,649.6L120.2,649.2L122.0,649.0L124.8,648.4L127.0,647.1L126.3,645.0L123.9,643.1L123.2,641.4L120.3,639.9L119.3,639.0L117.2,638.1L114.4,637.1L113.4,635.4L111.1,633.2L108.8,633.6L107.0,633.4L104.3,636.1L102.7,637.1L101.2,638.8L100.1,640.8L97.4,642.3L96.7,643.8L95.9,646.6L95.4,649.1L92.4,649.7L90.7,650.9L90.4,653.0L90.1,656.1L88.3,657.9L85.7,657.6L83.5,656.2L81.5,654.6L79.3,654.7L77.5,654.2L74.7,653.1L73.0,652.2L70.2,652.5L67.7,651.3L65.7,651.1L63.5,652.2L64.9,654.1L66.8,654.4L69.4,656.0L71.3,657.5L73.5,657.1L75.6,659.2L76.7,660.7L78.1,663.0L80.6,664.1L82.6,662.9L84.5,661.8L86.5,660.9L88.5,659.4L90.4,659.0L93.4,660.0L95.7,660.9L96.8,661.7L99.6,662.3L102.0,662.5L104.2,662.9L106.7,664.1L108.2,665.0L110.6,666.1L113.2,665.8L115.5,666.7L117.2,668.2L119.5,668.7L120.9,671.0L123.2,672.7L125.5,673.2L127.3,673.5L125.8,675.9L123.0,676.2L121.1,675.4L119.2,675.5L116.8,674.6L115.0,672.2L112.5,671.9L111.1,669.6L109.1,668.1L106.8,666.6L105.8,665.2L103.8,663.2L102.3,661.7L100.6,660.2L98.1,659.0L95.8,658.3L94.5,656.8L92.5,655.6L89.7,654.2L88.1,654.3L85.6,652.8L83.1,653.0L80.8,652.9L78.4,651.6L77.0,651.6L74.4,651.8L71.1,652.6L69.5,652.6L67.0,651.5L65.2,649.8L63.8,648.5L62.3,646.6L60.0,644.4L58.7,644.2L56.8,642.2L57.9,640.5L60.1,641.2L61.4,643.1L63.5,644.9L65.2,646.1L67.1,647.2L69.5,648.7L71.6,650.3L72.8,651.5L74.7,653.5L76.6,654.5L78.5,656.0L80.7,657.2L82.6,658.1L85.2,659.2L86.5,659.3L89.0,659.4L91.3,659.9L93.3,660.7L96.0,661.8L98.1,662.0L100.9,661.9L103.0,663.2L104.7,665.0L106.3,666.4L108.6,667.2L110.6,667.0L113.4,668.1L114.9,669.6L117.2,669.9L119.9,669.4L122.6,670.2L124.6,670.1L126.9,669.2L129.3,669.8L131.8,670.1L134.2,669.2L134.9,666.9L132.7,666.0L130.5,665.4L128.1,664.7L126.0,664.2L123.8,662.9L121.0,662.5L119.2,662.0L116.6,660.7L115.0,661.6L112.6,661.8L109.8,660.9L107.3,660.8L105.1,660.1L103.2,660.2L100.3,658.6L98.8,657.3L96.4,657.3L94.4,657.9L91.7,656.5L90.0,656.2L87.4,655.7L85.0,655.4L83.0,656.5L82.6,658.9L82.3,661.3L82.4,663.7L81.7,665.7L80.3,667.4L78.8,665.6L78.9,664.0L79.7,662.0L82.2,660.5L84.4,659.8L86.7,658.9L87.4,657.0L89.8,655.2L91.6,655.4L93.7,655.2L96.2,655.8L99.3,655.2L102.0,654.3L103.6,654.8L106.6,655.8L109.0,656.1L110.7,656.7L111.3,658.9L109.1,660.2L107.4,661.8L105.8,663.5L103.1,663.2L100.6,663.7L98.1,663.4L96.1,662.7L93.7,661.4L92.1,660.3L89.3,660.1L88.1,660.1L84.8,661.2L82.5,661.0L81.0,659.4L78.8,658.4L76.8,657.4L75.2,655.1L74.2,653.1L72.1,651.0L70.2,650.2L68.7,648.4L67.1,647.1L66.1,644.6L65.6,642.3L63.2,640.3L61.1,638.2L59.8,638.4L56.8,637.0L55.6,635.3L54.1,633.8L51.7,632.9L52.2,630.5L54.6,631.1L56.9,631.8L59.2,632.7L61.8,633.8L63.1,635.2L65.5,636.4L67.0,636.0L69.4,637.3L72.4,637.0L74.7,637.4L76.9,637.5L79.0,637.5L77.8,640.0L76.1,641.5L73.7,642.8L71.1,642.4L69.3,641.9L66.4,642.1L64.7,642.9L61.7,643.8L61.4,645.5L61.6,649.1L61.7,650.6L61.3,653.6L61.0,655.4L60.6,658.0L60.4,661.2L59.6,662.7L59.3,665.3L57.5,666.8L56.4,669.2L55.1,671.6L53.6,673.3L54.0,675.5L53.0,677.7L52.4,680.0L52.0,682.0L53.0,684.1L55.2,684.6L57.7,683.7L59.4,683.2L62.2,681.7L63.9,681.0L66.0,679.7L66.9,677.6L66.9,675.0L68.7,673.1L69.9,670.8L71.3,668.8L72.5,666.8L73.2,664.6L74.6,663.6L76.7,661.7L79.4,660.9L80.8,659.3L83.1,658.5L84.7,657.2L87.8,656.8L89.0,656.2L92.7,655.8L94.2,655.8L95.5,654.8L98.8,654.0L101.1,653.4L103.4,653.4L105.9,654.1L108.3,654.3L110.2,655.1L112.3,655.9L114.8,657.0L117.1,657.8L118.5,659.0L121.1,659.6L123.7,659.7L125.9,659.9L127.8,659.6L130.5,659.0L133.2,658.0L134.8,657.0L136.2,654.9L137.5,653.4L139.4,652.0L141.8,650.3L143.8,650.2L145.1,648.1L145.0,645.8L142.2,646.1L140.3,646.8L137.9,647.3L135.8,648.5L133.2,648.7L131.1,649.2L128.4,650.4L126.3,651.0L123.9,651.7L122.4,652.2L119.9,653.6L117.5,653.2L115.6,653.2L112.4,653.6L110.5,653.9L108.2,653.9L105.9,654.2L103.0,654.4L101.4,655.5L99.0,656.2L97.2,658.0L95.0,658.9L92.7,659.8L90.1,661.7L88.3,660.5L85.9,660.7L83.5,660.7L80.3,660.3L79.1,661.5L76.1,660.5L74.2,659.9L71.7,660.0L69.4,660.0L67.0,659.2L65.2,659.1L62.3,660.0L60.4,660.8L57.7,661.2L55.6,662.1L53.9,662.3L50.9,662.0L49.0,663.8L46.9,664.1L44.6,664.9L42.0,665.2L39.8,665.3L37.3,665.9L34.5,664.7L33.2,663.9L30.8,664.3L29.0,664.3L27.1,666.4L25.7,668.5L24.4,670.1L22.6,671.9L20.6,671.9L20.8,669.5L20.5,666.9L20.8,664.3L22.0,662.9L23.2,659.9L23.5,658.5L23.4,655.9L23.9,653.2L22.2,651.4L22.2,648.5L22.4,646.3L22.2,644.0L22.5,641.5L22.5,639.7L21.0,639.0L20.9,641.4L20.6,643.7L22.6,646.0L22.9,648.6L22.4,650.7L22.9,652.9L24.3,654.0L26.6,655.5L29.4,656.0L31.7,655.9L33.6,655.3L36.3,654.7L38.3,654.3L41.6,653.8L43.8,654.4L45.4,654.6L48.2,655.2L50.8,655.2L52.1,654.4L54.9,653.2L57.4,653.1L59.7,653.2L61.9,653.2L64.6,654.4L65.9,655.4L68.5,656.8L70.3,656.9L72.7,657.0L74.8,657.0L76.9,656.5L80.2,656.5L82.2,656.1L84.5,655.4L87.3,655.8L89.0,656.2L91.5,657.7L93.8,658.9L95.9,659.1L97.9,658.6L100.5,659.1L102.4,660.1L105.3,660.4L106.8,659.8L109.9,660.1L112.0,660.7L113.6,661.5L116.2,663.1L118.9,663.6L120.6,664.4L122.2,665.9L124.9,667.2L126.2,669.2L128.2,669.7L129.8,671.0L130.4,672.8L128.4,673.1L126.6,672.6L123.8,671.2L121.9,670.2L119.8,669.3L117.7,668.7L114.8,667.8L113.2,666.7L110.6,666.1L108.8,666.5L106.0,664.7L104.7,663.4L102.8,662.5L100.3,661.9L98.2,659.7L97.1,657.9L96.2,656.6L93.4,656.1L91.2,656.9L89.0,657.4L86.2,658.4L84.5,659.5L82.5,660.0L80.3,661.4L78.0,661.4L75.7,662.8L73.8,663.3L70.6,664.6L68.8,664.6L66.7,665.0L64.4,664.9L62.6,665.9L59.3,665.9L57.5,666.7L54.8,666.1L52.5,667.5L50.3,668.6L48.7,669.4L46.3,671.3L45.4,672.3L42.6,672.7L40.5,673.7L37.9,674.3L35.8,675.1L34.8,677.0L31.7,677.9L30.0,679.9L27.7,679.9L25.4,682.5L23.7,680.3L23.8,678.1L24.7,675.7L25.9,673.5L27.3,672.1L28.7,670.2L30.8,669.6L33.4,668.8L35.2,667.3L37.2,665.6L38.1,663.9L40.1,661.6L42.0,660.1L43.2,658.2L45.3,656.8L46.9,655.4L49.3,653.9L50.5,652.0L51.6,651.1L54.2,649.1L55.9,647.9L57.8,645.9L60.0,645.5L62.0,644.3L64.3,642.7L65.4,640.8L67.3,638.8L67.3,637.0L69.4,635.1L68.7,633.3L66.1,633.3L62.9,634.7L61.7,634.6L59.7,636.6L57.2,637.5L55.7,639.0L53.3,639.3L50.3,639.6L48.9,640.0L46.3,640.0L43.8,639.8L41.5,640.4L39.2,640.2L36.9,641.4L35.7,643.3L32.6,643.3L30.9,643.8L28.4,643.7L25.9,644.2L27.3,646.6L29.4,645.6L31.7,645.7L33.9,645.7L36.4,646.0L39.2,645.2L41.3,645.1L43.3,643.8L45.5,643.7L47.6,642.3L49.1,640.8L51.7,640.7L54.3,639.5L56.3,639.6L58.8,639.3L60.3,638.6L63.2,638.1L65.6,637.2L67.5,635.8L69.9,635.0L72.4,634.1L74.6,634.8L77.9,634.6L78.5,635.6L80.0,638.1L79.9,640.6L80.4,643.3L80.4,645.2L81.2,647.6L81.4,649.8L80.1,651.9L81.3,654.1L83.5,655.1L86.5,655.1L88.3,655.5L91.3,655.8L93.1,654.8L96.2,655.6L98.1,655.0L100.6,654.6L102.9,654.9L105.4,654.9L107.8,654.1L109.2,653.5L111.9,652.0L114.7,652.5L116.3,653.1L118.6,651.7L121.1,650.4L123.0,648.6L125.0,648.2L127.2,647.5L129.6,648.0L131.4,646.4L129.5,644.8L127.8,644.3L125.4,644.3L122.6,644.7L120.9,643.0L118.9,642.0L116.0,641.2L114.1,640.7L112.0,640.2L109.8,638.6L107.7,638.2L104.6,637.4L102.8,637.9L100.2,637.1L98.2,636.9L95.9,637.9L93.5,637.2L90.7,636.1L89.9,635.2L89.6,636.9L89.3,638.9L89.5,653.9L89.9,656.4L91.4,658.8L90.6,661.2L88.8,661.3L86.1,661.7L84.1,663.1L81.2,663.1L78.8,664.2L77.3,664.3L75.2,665.5L72.2,665.8L70.0,666.9L68.1,667.7L65.7,669.0L63.6,669.1L61.3,670.9L59.4,671.9L57.7,672.2L54.1,672.2L52.3,672.6L49.7,671.8L48.2,672.8L45.5,673.1L42.9,673.3L40.3,673.0L38.5,672.3L35.8,672.6L33.1,673.1L31.3,673.5L29.1,674.5L27.0,676.2L26.2,677.8L27.4,679.4L30.0,678.9L33.0,678.8L34.7,677.6L37.4,676.9L39.4,676.1L41.6,675.6L43.8,674.7L44.9,673.3L47.4,672.6L49.0,671.0L51.9,670.7L54.1,669.5L56.2,669.2L58.6,668.6L60.8,667.4L63.4,666.7L65.1,665.7L67.4,666.0L69.7,666.5L72.0,665.3L74.8,665.5L77.2,664.0L79.5,663.8L81.4,662.4L83.7,662.2L85.7,660.8L87.6,658.5L89.0,657.6L90.8,655.9L93.1,654.5L95.4,653.1L96.9,653.3L100.2,654.0L102.1,653.2L104.1,653.1L106.8,653.1L108.6,651.7L111.0,651.9L113.6,650.4L116.2,650.1L117.7,650.2L120.3,650.2L122.6,648.4L123.5,646.8L126.4,645.5L128.6,643.9L130.0,642.9L131.8,641.9L134.4,640.9L136.6,640.8L136.8,638.5L135.4,635.8L134.2,634.5L131.6,633.6L129.7,632.6L127.4,634.6L125.6,634.8L122.9,633.3L120.9,633.1L117.7,633.9L116.0,632.8L113.7,632.1L111.0,632.6L108.7,632.2L106.1,633.4L104.8,634.3L102.3,635.0L99.8,634.8L97.4,634.1L95.2,633.7L92.8,633.7L90.8,633.3L89.3,652.7L89.3,655.5L90.2,657.8L91.0,659.8L92.1,661.9L92.7,664.4L91.8,666.8L91.9,669.4L92.3,671.1L92.5,673.5L92.8,675.3L94.5,675.0L95.9,672.8L95.5,671.0L94.9,668.4L94.4,666.3L93.2,664.4L92.2,661.8L91.6,660.3L90.3,657.6L88.8,656.3L86.3,656.6L84.2,656.3L82.3,657.9L80.3,659.1L78.1,659.8L77.0,661.8L74.2,662.8L72.5,664.6L70.5,665.0L68.2,666.4L65.8,667.0L63.4,668.8L61.8,669.2L59.0,670.1L56.6,669.8L54.8,669.6L52.6,670.5L49.3,670.3L46.7,670.5L46.3,672.6L44.3,674.4L43.3,676.4L41.8,678.9L40.5,679.4L39.7,682.5L40.1,684.3L42.7,686.0L45.2,686.1L47.3,687.0L49.6,686.0L52.2,686.6L53.9,686.3L56.3,685.6L58.3,685.0L60.5,683.5L63.4,684.2L64.0,685.3L62.2,686.2L60.0,686.8L57.9,686.4L55.3,686.3L53.4,686.3L51.4,685.0L48.4,685.5L46.6,685.5L44.1,686.4L41.6,685.0L39.2,685.1L37.2,686.0L34.7,686.2L32.4,686.2L30.3,685.4L28.1,684.2L28.6,681.8L29.6,679.4L30.9,677.2L32.6,676.0L34.7,675.5L36.9,674.1L38.5,672.3L40.8,671.5L42.9,670.3L45.9,670.1L47.8,669.4L50.4,668.4L51.8,668.1L54.2,667.9L56.8,666.9L59.2,665.3L61.5,665.1L63.2,664.6L65.7,664.3L68.7,663.2L70.4,662.7L72.4,660.8L73.8,659.5L76.5,659.6L78.6,659.2L80.9,660.6L83.0,661.5L85.6,662.2L87.8,662.5L90.2,662.0L92.9,662.1L95.1,660.2L97.0,659.6L99.0,658.4L100.9,656.9L103.2,655.8L104.9,655.2L108.2,654.4L110.3,654.7L112.1,653.9L114.8,653.5L116.2,651.6L115.9,649.4L113.7,649.0L110.9,648.7L108.2,650.0L106.7,649.9L104.2,650.6L101.8,651.6L99.2,651.6L97.2,652.2L95.1,654.7L93.7,655.7L92.6,658.4L91.1,659.1L88.9,659.2L85.9,660.0L84.7,661.0L82.3,661.3L79.4,660.8L77.3,661.2L75.3,661.8L72.6,662.0L69.5,661.8L68.4,662.5L64.9,662.4L63.4,662.5L61.0,661.5L58.7,660.3L56.3,659.9L54.2,659.6L51.9,659.8L49.1,660.0L46.6,659.9L44.5,658.8L43.5,656.5L41.5,656.3L38.8,654.8L36.1,654.4L35.1,653.6L32.2,653.0L29.6,652.8L27.4,652.5L25.1,651.8L23.8,650.1L22.6,648.5L22.3,645.9L21.4,646.5L21.5,648.4L21.4,651.3L20.8,653.7L20.9,656.6L21.2,658.5L21.0,661.0L20.7,662.9L21.4,665.8L21.3,668.2L20.9,670.0L20.6,672.0L21.0,674.6L20.9,676.9L21.0,679.9L20.9,682.1L20.9,684.4L23.5,684.1L24.4,681.8L25.7,679.1L26.7,677.2L26.9,674.9L24.9,673.6L24.1,671.1L25.0,669.3L27.3,668.1L29.1,666.4L30.2,664.9L31.8,662.6L33.1,661.1L35.0,659.3L36.5,657.3L38.6,656.8L41.3,655.6L42.7,655.9L44.8,654.1L47.4,652.2L48.9,650.3L50.1,649.1L52.6,647.9L55.0,646.8L57.9,646.4L59.2,646.1L61.7,645.0L63.7,644.3L65.4,641.7L67.4,640.2L69.6,639.5L71.1,638.4L73.4,636.0L74.9,635.4L77.2,634.2L79.7,634.3L81.3,635.3L82.9,637.2L83.5,654.1L83.9,656.7L84.3,658.9L85.0,660.9L84.2,663.1L85.3,662.9L85.0,662.6L84.6,662.9L84.6,663.1L86.0,662.8L86.7,663.0L86.5,663.3L85.7,663.2L85.4,662.5L84.4,662.6L83.0,662.8L83.1,662.9L82.5,663.0L83.2,663.1L84.0,663.2L84.1,662.6L83.9,662.8L84.5,662.9L84.7,662.9L84.8,662.7L84.3,663.6L83.4,662.9L83.3,662.6L82.2,665.4L81.8,667.1L82.2,670.2L81.1,672.4L81.0,674.6L80.6,676.4L80.4,679.3L81.0,681.6L82.9,683.2L84.9,663.1L85.9,663.4L84.8,662.5L84.4,663.3L83.1,663.0L82.4,664.3L82.0,666.7L82.3,669.0L82.5,670.4L83.2,663.1L85.1,661.5L87.5,660.9L90.1,660.8L92.5,659.9L93.5,658.2L95.9,657.3L97.9,656.4L100.2,655.0L101.9,653.4L104.6,652.7L106.1,651.2L108.1,650.1L110.6,649.7L113.1,650.0L115.3,650.7L117.7,650.3L119.5,649.1L122.0,649.0L124.1,647.7L126.6,646.6L128.2,645.9L131.1,644.8L133.2,644.7L135.5,643.1L137.9,643.3L139.8,641.7L139.8,639.2L138.3,637.1L136.2,635.4L133.5,634.5L131.6,633.8L129.2,632.9L127.0,632.4L124.6,632.7L122.6,632.9L120.6,634.1L118.9,635.7L116.2,637.0L115.0,638.6L112.8,640.1L111.5,642.0L110.0,643.5L108.0,645.0L106.6,646.3L104.0,647.8L102.3,648.7L100.5,649.2L98.2,650.5L95.4,650.5L93.6,652.0L93.0,654.8L90.0,655.2L87.4,655.0L85.4,655.8L83.2,655.6L82.7,653.9L83.0,652.9L83.3,653.1L83.8,652.9L83.9,652.7L83.2,653.2L82.7,653.1L84.2,652.8L83.0,652.8L82.8,652.7L83.8,652.8L83.6,653.3L82.8,653.0L82.1,653.1L82.3,649.9L82.2,647.9L82.7,646.2L83.5,653.1L84.7,653.3L85.0,653.2L85.4,652.8L85.2,652.8L85.1,652.7L85.9,653.6L85.8,652.9L85.5,652.7L85.7,653.1L84.4,652.8L83.7,652.8L82.6,652.8L83.3,651.0L83.5,652.7L83.8,653.1L83.6,653.3L84.6,653.0L84.5,652.9L83.8,652.8L84.9,652.7L83.8,652.8L82.9,653.1L82.6,651.3L81.4,648.3L81.2,646.7L80.8,644.1L82.5,642.5L83.6,653.0L85.0,654.7L84.5,657.3L86.1,658.2L88.2,659.1L90.4,658.9L92.7,658.8L95.1,658.7L96.9,656.9L99.4,656.7L101.1,654.6L103.4,653.7L105.5,653.1L107.8,652.8L109.9,651.5L112.6,650.4L114.2,650.0L116.3,648.2L118.7,647.6L121.1,646.9L122.6,644.8L124.8,643.9L127.2,643.1L128.9,640.7L130.1,639.7L132.8,639.0L134.4,638.5L137.6,638.9L139.6,638.1L141.4,638.0L144.0,636.6L145.9,634.9L148.1,633.9L146.9,632.0L143.6,631.4L141.8,632.2L139.7,632.6L137.7,633.5L135.1,634.8L133.9,636.8L131.3,636.3L129.0,636.9L127.2,638.6L125.2,640.2L124.0,641.5L121.2,642.3L119.4,643.7L117.4,644.9L115.2,646.0L112.6,647.0L110.5,647.8L108.7,647.8L106.6,649.6L104.8,651.4L103.3,653.0L101.0,654.6L99.6,656.4L97.6,657.6L95.7,659.2L93.7,659.4L92.1,661.6L91.6,664.1L92.8,665.2L95.0,666.9L98.4,666.9L99.2,667.2L102.2,667.0L104.4,666.5L107.2,666.1L108.8,666.0L108.3,662.7L106.9,661.7L104.1,660.8L102.6,659.9L99.4,659.5L98.0,657.8L95.5,657.8L93.4,657.2L91.3,658.0L88.6,658.7L86.1,658.6L83.4,659.4L81.8,659.0L79.1,660.1L77.3,661.1L74.9,662.5L72.9,663.5L71.1,665.3L69.2,666.6L67.4,668.3L65.8,670.0L63.3,670.9L61.5,672.0L59.7,673.3L57.9,674.4L55.8,676.2L52.7,676.9L51.7,678.4L49.1,678.5L46.5,678.9L44.7,678.9L41.7,679.0L39.1,679.4L36.6,679.6L35.5,679.1L32.7,678.9L30.1,679.3L27.8,679.4L25.9,680.3L24.2,679.9" fill="none" stroke="#0800ff" stroke-width="1.15" stroke-linejoin="round" stroke-linecap="round"/>
<text x="12.0" y="594.3" font-size="10.4" text-anchor="middle" fill="#1a1a1a" transform="rotate(-90 12.0 594.3)">Control</text>
<text x="12.0" y="659.7" font-size="10.4" text-anchor="middle" fill="#1a1a1a" transform="rotate(-90 12.0 659.7)">hM4D</text>
<text x="12.1" y="762.2" font-size="10.4" text-anchor="middle" fill="#1a1a1a" transform="rotate(-90 12.1 762.2)">CPA score (s)</text>
<line x1="50.0" y1="710.5" x2="50.0" y2="810.9" stroke="#8a8a8a" stroke-width="1.0"/>
<line x1="46.0" y1="710.5" x2="50.0" y2="710.5" stroke="#8a8a8a" stroke-width="1.0"/>
<text x="40.9" y="714.1" font-size="10.4" text-anchor="end" fill="#1a1a1a">100</text>
<line x1="46.0" y1="735.5" x2="50.0" y2="735.5" stroke="#8a8a8a" stroke-width="1.0"/>
<text x="40.9" y="739.1" font-size="10.4" text-anchor="end" fill="#1a1a1a">0</text>
<line x1="46.0" y1="760.5" x2="50.0" y2="760.5" stroke="#8a8a8a" stroke-width="1.0"/>
<text x="40.9" y="764.1" font-size="10.4" text-anchor="end" fill="#1a1a1a">−100</text>
<line x1="46.0" y1="785.4" x2="50.0" y2="785.4" stroke="#8a8a8a" stroke-width="1.0"/>
<text x="40.9" y="789.0" font-size="10.4" text-anchor="end" fill="#1a1a1a">−200</text>
<line x1="46.0" y1="810.4" x2="50.0" y2="810.4" stroke="#8a8a8a" stroke-width="1.0"/>
<text x="40.9" y="814.0" font-size="10.4" text-anchor="end" fill="#1a1a1a">−300</text>
<rect x="65.7" y="735.5" width="23.1" height="44.7" fill="#ffffff" stroke="#111" stroke-width="1.0"/>
<rect x="110.9" y="735.5" width="23.1" height="1.7" fill="#0800ff" stroke="#111" stroke-width="1.0"/>
<line x1="50.0" y1="735.5" x2="149.2" y2="735.5" stroke="#777" stroke-width="1.0"/>
<line x1="77.2" y1="774.0" x2="77.2" y2="785.9" stroke="#111" stroke-width="1.0"/>
<line x1="73.2" y1="774.0" x2="81.2" y2="774.0" stroke="#111" stroke-width="1.0"/>
<line x1="73.2" y1="785.9" x2="81.2" y2="785.9" stroke="#111" stroke-width="1.0"/>
<line x1="122.4" y1="733.0" x2="122.4" y2="741.0" stroke="#111" stroke-width="1.0"/>
<line x1="118.4" y1="733.0" x2="126.4" y2="733.0" stroke="#111" stroke-width="1.0"/>
<line x1="118.4" y1="741.0" x2="126.4" y2="741.0" stroke="#111" stroke-width="1.0"/>
<circle cx="77.0" cy="759.1" r="3.75" fill="#000"/>
<circle cx="77.0" cy="765.7" r="3.75" fill="#000"/>
<circle cx="69.6" cy="779.3" r="3.75" fill="#000"/>
<circle cx="84.1" cy="776.2" r="3.75" fill="#000"/>
<circle cx="77.0" cy="791.2" r="3.75" fill="#000"/>
<circle cx="77.0" cy="804.3" r="3.75" fill="#000"/>
<circle cx="117.4" cy="724.9" r="3.75" fill="#000"/>
<circle cx="126.9" cy="727.6" r="3.75" fill="#000"/>
<circle cx="122.2" cy="732.8" r="3.75" fill="#000"/>
<circle cx="114.8" cy="740.4" r="3.75" fill="#000"/>
<circle cx="129.3" cy="742.5" r="3.75" fill="#000"/>
<circle cx="122.2" cy="747.8" r="3.75" fill="#000"/>
<line x1="76.2" y1="716.3" x2="122.2" y2="716.3" stroke="#777" stroke-width="1.0"/>
<text x="99.2" y="714.9" font-size="12" text-anchor="middle" fill="#1a1a1a">**</text>
<rect x="89.3" y="794.9" width="11.9" height="6.2" fill="#0800ff" stroke="#111" stroke-width="0.9"/>
<rect x="89.3" y="811.4" width="11.9" height="6.2" fill="#fff" stroke="#111" stroke-width="0.9"/>
<text x="106.5" y="803.0" font-size="10.4" text-anchor="start" fill="#1a1a1a">CLZ-hM4D</text>
<text x="106.5" y="819.5" font-size="10.4" text-anchor="start" fill="#1a1a1a">CLZ-mCherry</text>
<text x="522.5" y="558.2" font-size="14" text-anchor="start" fill="#000" font-weight="bold" stroke="#000" stroke-width="0.45">g</text>
<rect x="536.4" y="559.3" width="66.7" height="63.8" fill="#cbcbcb" stroke="#a6a6a6" stroke-width="1.3"/>
<rect x="606.2" y="559.3" width="66.7" height="63.8" fill="#ffffff" stroke="#a6a6a6" stroke-width="1.3"/>
<rect x="536.4" y="626.0" width="66.7" height="63.3" fill="#cbcbcb" stroke="#a6a6a6" stroke-width="1.3"/>
<rect x="606.2" y="626.0" width="66.7" height="63.3" fill="#ffffff" stroke="#a6a6a6" stroke-width="1.3"/>
<path d="M586.7,564.6L589.3,564.3L590.5,566.5L590.6,568.5L592.8,570.5L594.1,572.2L594.8,574.0L597.0,576.1L597.3,578.2L598.1,580.9L597.9,582.9L598.1,585.5L598.3,587.3L600.5,588.9L602.4,589.3L604.6,588.3L607.5,587.3L609.5,587.0L612.3,586.7L613.4,584.4L615.8,583.7L617.2,585.0L617.2,587.1L616.2,589.4L614.8,591.3L612.5,592.9L610.2,593.2L608.6,594.1L605.9,594.9L603.3,596.0L601.9,594.2L599.9,593.9L597.4,592.5L595.5,591.2L592.4,591.0L590.8,590.7L588.1,588.9L587.0,587.3L585.6,585.7L583.5,584.3L581.3,583.2L579.6,582.2L577.7,584.1L577.7,586.4L577.8,588.5L577.8,591.4L578.1,593.7L579.6,595.6L580.1,597.7L579.9,599.8L579.9,602.4L580.3,604.8L581.1,606.7L581.2,609.0L581.2,611.9L582.3,613.8L583.1,616.2L584.4,617.8L586.5,617.5L588.4,616.3L590.2,614.0L589.9,612.0L589.8,609.8L590.4,607.7L592.0,605.0L592.4,603.1L593.6,600.9L593.0,598.2L592.2,596.0L592.9,593.6L594.0,591.5L593.7,589.2L595.3,586.9L596.1,584.6L596.2,582.5L597.3,580.3L597.2,578.3L598.1,575.2L597.3,573.2L598.2,570.7L598.8,569.3L600.3,566.8L598.9,565.3L596.4,564.0L593.9,564.2L592.1,565.2L589.7,566.1L587.7,567.4L586.2,569.1L584.4,570.5L582.1,571.7L580.2,573.0L578.0,574.4L576.0,575.1L573.4,575.8L571.8,577.5L570.5,579.8L568.6,581.3L567.3,582.9L564.8,583.1L562.8,583.8L560.1,584.4L558.1,585.5L555.5,585.1L553.5,584.9L551.6,583.9L549.6,581.6L547.8,580.2L546.4,578.4L545.0,576.3L543.4,575.1L541.4,575.1L539.6,577.4L539.1,579.1L539.7,581.4L539.4,583.7L539.9,586.5L540.7,588.6L542.9,589.0L546.0,589.3L547.6,589.9L550.6,589.9L552.8,590.3L555.0,590.2L556.7,591.9L558.7,592.9L561.8,593.2L563.3,594.7L566.2,595.5L568.7,596.1L570.2,595.7L572.7,594.4L574.8,594.2L577.0,594.7L579.0,594.8L582.1,594.0L584.2,594.4L586.6,594.1L588.6,592.8L590.8,592.0L591.3,589.1L592.9,588.1L595.0,585.7L596.8,583.8L597.8,581.8L599.1,580.6L600.0,577.9L601.9,586.4L602.7,588.3L602.9,590.8L605.9,591.7L607.9,591.9L609.6,592.7L611.5,593.9L613.9,595.8L617.1,595.2L618.7,596.1L621.3,597.5L623.0,598.8L624.8,600.1L627.3,599.9L629.9,600.4L633.0,600.5L633.8,602.5L635.7,604.0L637.5,605.8L639.7,607.3L641.9,607.2L642.6,609.2L642.6,611.8L640.1,613.1L638.2,614.3L635.9,614.7L633.6,614.6L631.2,615.5L629.0,615.9L626.5,616.3L625.2,616.5L621.4,617.0L619.6,616.7L617.2,617.4L614.9,617.4L615.3,619.4L616.5,619.8L619.3,620.1L622.1,619.7L624.3,619.5L626.9,619.6L628.8,619.8L631.2,619.4L633.1,619.2L635.6,618.0L638.2,618.7L639.9,619.0L642.6,618.8L644.9,618.5L647.2,619.1L649.5,619.6L652.5,619.6L654.3,619.1L657.0,620.2L659.2,620.6L660.1,617.7L659.2,616.2L656.8,614.1L655.8,613.3L652.8,611.8L650.7,611.2L648.3,610.1L646.9,609.4L644.3,607.9L641.4,607.7L639.7,606.9L637.5,605.2L636.0,604.5L633.5,603.5L632.0,601.2L629.7,600.4L627.2,599.8L625.1,599.5L622.8,598.5L620.7,597.7L619.1,595.3L617.6,593.8L616.0,592.6L613.6,592.1L611.6,590.4L609.2,591.1L606.9,591.6L604.4,592.0L601.3,592.1L599.8,591.4L597.7,592.3L595.0,591.6L592.6,590.8L590.0,590.9L588.1,590.8L585.6,590.0L583.9,589.3L580.8,588.4L579.0,587.8L576.5,587.0L575.1,585.4L572.6,583.9L570.5,583.5L568.7,581.2L567.7,579.4L566.1,577.6L565.1,575.4L563.5,572.8L562.8,571.4L562.3,569.1L560.9,566.9L558.9,566.1L556.9,567.4L555.0,568.7L555.5,571.5L556.9,572.9L558.0,574.7L559.1,577.0L560.9,579.2L562.1,581.1L563.6,583.3L565.5,584.9L565.8,586.6L562.9,587.0L560.9,585.5L559.7,583.9L558.0,582.1L556.7,580.3L556.9,577.8L555.9,576.5L555.6,573.0L555.5,570.9L554.4,568.2L554.7,566.4L552.9,564.3L551.3,563.3L548.1,563.0L546.2,563.0L543.3,563.9L542.6,566.2L544.6,567.7L547.2,568.4L550.2,568.3L551.0,567.2L554.2,566.4L556.5,566.3L558.6,566.6L560.8,565.9L563.0,564.2L565.4,564.5L567.5,563.3L570.5,563.5L571.8,563.8L574.6,563.8L576.4,564.0L579.6,563.7L581.4,565.0L583.3,564.5L586.2,564.5L588.9,563.2L590.2,562.4L592.1,561.9L595.5,563.0L596.9,563.6L597.2,565.1L595.1,566.8L592.0,567.0L589.5,566.6L587.6,566.0L585.2,566.8L582.6,567.2L580.2,567.3L578.3,568.0L577.5,570.3L579.3,572.0L580.3,573.7L582.4,575.8L583.9,577.2L584.9,578.8L586.3,581.7L587.2,583.3L588.3,585.8L589.2,587.4L589.7,589.5L591.4,592.0L593.5,594.6L594.9,593.5L597.3,594.3L599.1,592.3L600.0,590.0L598.7,587.7L597.8,585.1L597.5,582.6L595.9,581.0L596.2,578.5L596.6,576.0L596.4,573.7L596.4,571.7L597.7,569.8L599.8,571.3L601.1,572.5L601.9,586.3L603.8,587.7L605.8,588.5L608.3,587.6L609.6,589.5L610.3,591.3L608.0,593.3L606.0,592.9L604.3,591.8L601.4,590.3L600.1,588.5L599.0,586.5L596.8,586.1L594.7,583.9L592.4,583.8L590.4,583.9L587.9,582.9L585.7,582.0L583.9,580.4L582.4,579.8L579.2,579.0L576.7,577.9L575.0,577.4L572.5,576.2L570.4,575.3L568.6,574.1L566.4,572.9L564.2,571.6L562.4,570.6L560.6,569.3L557.8,568.4L555.9,567.2L554.0,567.7L550.5,567.1L548.8,566.3L546.3,566.3L544.2,564.9L544.2,563.5L545.1,562.2L547.3,562.8L549.7,563.0L551.1,564.3L553.7,565.7L555.2,567.8L557.4,568.1L559.4,569.2L560.5,570.7L562.7,572.9L564.9,573.5L566.6,576.1L568.8,576.9L570.9,577.4L573.0,577.5L575.1,578.3L578.1,577.9L580.3,579.3L582.6,580.2L584.3,582.1L585.7,583.8L587.3,584.3L589.4,585.9L591.9,587.3L593.5,588.4L596.0,589.5L596.4,591.6L597.5,593.7L599.6,595.4L601.4,596.2L604.0,595.1L606.4,594.8L608.6,594.5L611.7,594.5L613.4,593.8L615.9,592.8L617.8,591.7L619.8,591.1L622.6,589.9L623.9,588.5L626.7,587.7L628.9,587.6L630.8,586.2L632.9,586.2L635.5,586.2L638.0,585.2L640.3,585.5L642.4,584.3L644.7,583.6L647.0,582.7L646.0,580.2L643.8,580.0L641.2,580.3L638.8,580.7L636.5,580.2L634.1,581.6L631.9,581.3L629.9,581.3L626.9,581.9L624.8,582.9L623.1,583.5L620.8,585.4L620.0,586.4L618.8,589.0L616.5,590.8L613.9,591.5L612.4,592.2L609.6,592.1L607.9,593.0L605.4,593.0L603.5,592.3L600.6,592.9L598.8,593.4L596.2,593.5L593.7,594.2L590.9,594.6L588.9,595.9L587.1,596.4L584.6,596.9L581.6,596.9L579.9,596.6L578.3,594.5L577.5,592.1L576.7,590.3L575.8,588.1L574.5,586.3L571.8,584.8L569.8,583.8L568.0,584.5L565.2,585.9L563.7,586.2L561.1,587.2L558.9,587.9L556.5,588.9L554.5,588.4L552.2,588.9L549.5,589.4L547.0,589.0L544.5,589.8L542.6,590.3L542.3,593.1L541.5,595.7L541.7,597.6L541.7,600.1L541.5,602.0L540.7,604.7L542.0,605.9L544.0,606.1L546.0,604.6L547.4,603.4L549.4,600.9L550.6,599.9L552.2,597.3L552.4,595.6L554.7,593.5L555.9,591.2L557.2,589.9L558.5,588.1L560.3,585.4L561.1,584.2L562.7,581.6L563.7,579.7L565.2,578.1L565.9,575.4L568.0,574.0L569.9,572.6L570.5,571.2L571.9,569.2L573.6,566.8L575.0,564.9L576.4,563.5L578.2,564.5L579.2,567.1L580.0,569.3L580.8,571.3L581.6,573.6L581.8,576.3L583.4,578.1L583.3,580.7L584.5,582.7L586.1,584.5L586.0,587.1L586.4,589.0L588.3,591.1L588.7,593.6L589.7,596.0L590.3,597.9L589.4,600.5L589.8,602.3L590.9,605.3L591.5,607.1L592.0,609.1L592.5,612.1L593.6,614.0L594.9,615.4L596.5,617.2L597.2,619.2L594.4,620.1L591.8,620.1L589.8,620.4L587.0,620.3L585.3,619.5L583.0,618.5L580.8,619.1L578.7,618.4L576.1,618.1L573.9,617.6L571.5,618.0L569.6,617.4L570.7,614.8L572.1,613.3L573.7,612.4L576.4,610.4L577.9,608.8L579.5,607.3L582.2,605.7L583.3,604.1L585.5,603.3L586.8,601.1L588.0,599.9L589.7,598.1L592.4,596.3L593.7,594.5L595.2,593.4L596.9,590.8L598.8,589.7L600.4,589.9L603.0,591.2L604.9,591.5L608.0,592.3L609.2,593.5L610.9,595.7L611.4,597.9L613.4,599.0L615.0,600.3L615.7,597.9L615.4,595.9L614.0,593.9L611.9,592.9L610.1,591.9L607.7,591.6L605.2,590.7L602.4,590.4L600.7,591.0L598.2,591.1L596.3,592.2L593.3,592.8L591.6,593.1L589.4,593.4L586.4,593.7L584.5,595.8L583.2,597.6L581.8,599.2L579.5,601.2L577.8,602.5L575.2,602.9L574.3,605.2L572.7,606.2L570.1,607.4L568.2,608.9L565.9,608.8L563.9,610.0L561.5,611.9L559.6,612.5L558.1,613.9L555.8,615.1L553.6,616.9L553.1,619.4L555.6,620.4L558.1,619.6L560.1,618.7L562.6,617.7L563.3,617.0L566.2,614.9L568.0,613.9L570.1,612.6L572.0,611.2L573.5,609.3L576.0,609.3L577.8,607.6L578.3,605.2L579.7,603.0L582.1,601.9L583.9,600.1L585.8,599.8L588.6,598.9L590.1,598.3L592.9,597.4L594.7,596.6L596.9,595.8L599.0,594.6L601.2,593.4L602.8,591.5L605.7,590.7L607.4,591.2L610.0,591.1L612.0,593.2L614.5,593.0L616.8,593.7L619.4,593.5L621.3,593.8L624.0,594.3L626.1,595.3L627.7,596.1L629.3,597.9L631.7,599.9L633.5,601.5L635.9,602.0L637.5,602.8L640.2,603.5L642.4,604.6L644.1,605.6L646.5,606.8L648.8,608.2L647.9,610.3L645.3,611.3L643.4,610.2L642.0,608.1L640.3,607.6L638.0,606.9L635.7,605.7L633.2,604.4L631.3,603.8L629.3,602.5L626.7,601.6L625.8,599.7L623.4,598.4L620.6,598.1L618.6,596.2L616.6,595.1L615.5,593.4L613.2,592.3L610.9,591.0L609.1,591.1L606.9,589.8L604.8,587.6L603.4,586.7L600.7,586.9L599.2,588.4L597.8,589.7L596.5,592.3L594.6,594.3L594.4,596.6L592.1,597.8L590.5,600.0L588.7,601.0L586.4,601.5L585.1,603.3L583.2,605.1L581.9,607.0L580.4,608.9L579.0,611.1L577.0,612.4L575.4,613.7L574.0,615.0L571.6,616.8L570.5,618.1L572.5,620.6L574.7,619.7L577.4,620.5L579.9,619.9L581.6,618.5L583.4,619.2L586.3,618.5L589.0,617.7L590.8,617.5L592.9,617.2L595.5,617.8L596.9,620.0L595.3,619.7L592.8,620.1L590.9,619.2L588.4,619.8L586.7,620.4L583.5,620.4L581.6,619.5L578.7,619.9L577.0,620.0L574.2,620.6L572.1,620.0L569.8,620.0L567.4,620.1L565.3,620.0L563.1,620.3L560.0,619.8L558.1,620.1L555.1,620.4L554.1,620.2L550.9,619.7L548.5,619.1L546.4,619.1L544.4,616.6L543.5,614.1L542.4,612.7L542.0,610.2L540.6,607.6L540.4,606.0L539.6,603.5L539.6,601.4L542.2,599.8L544.9,599.9L546.5,599.1L548.4,597.6L551.5,597.1L553.5,596.6L555.1,595.0L558.5,594.4L560.4,594.3L562.0,594.2L565.3,594.3L566.8,593.1L569.5,593.3L572.1,592.9L574.2,591.4L576.0,590.3L578.0,589.5L580.8,590.5L582.9,591.1L584.9,591.8L587.4,593.3L588.3,595.0L590.6,596.8L592.7,597.2L593.9,598.9L596.7,600.0L598.1,601.3L600.8,600.5L601.4,596.0L602.3,593.5L601.3,590.8L599.5,590.7L597.1,590.3L594.5,591.1L593.0,592.6L590.9,593.8L588.6,595.2L586.2,595.8L583.8,595.9L581.5,596.7L579.8,598.3L577.2,599.0L575.4,601.0L573.4,602.1L571.8,603.5L570.8,605.7L568.3,606.6L566.2,607.2L564.3,607.7L562.3,609.7L560.2,611.4L558.3,612.8L556.6,614.4L554.6,615.0L552.7,615.2L550.0,616.3L547.2,616.4L545.5,614.8L546.7,612.5L548.1,610.5L549.8,610.2L552.3,609.0L554.0,607.4L556.3,606.4L558.4,605.2L560.3,604.2L562.6,602.5L565.0,601.7L566.8,601.1L570.3,601.0L571.6,600.7L573.7,601.4L576.7,600.3L578.9,599.8L581.7,599.4L583.6,599.8L586.5,599.1L588.5,598.5L591.2,598.6L593.0,597.5L595.0,595.3L596.0,593.9L598.3,592.9L600.2,593.2L602.9,593.6L605.2,595.4L607.0,595.3L609.7,594.6L611.8,593.6L614.1,593.1L616.4,592.5L617.7,591.4L620.5,590.4L622.4,589.8L624.5,587.6L626.1,586.5L629.5,585.9L630.5,584.1L632.4,581.8L634.7,581.1L636.6,579.6L637.5,577.8L639.2,576.1L640.4,574.0L641.7,571.6L642.7,570.1L644.7,570.5L644.8,573.3L643.5,575.6L642.5,577.7L643.6,580.8L642.5,582.2L640.2,584.2L638.2,586.3L637.0,587.7L636.3,589.9L635.0,592.6L633.1,594.2L633.3,596.3L632.2,598.6L631.5,600.6L630.7,603.0L629.9,605.9L629.2,608.2L627.6,609.3L626.5,611.8L625.8,613.9L625.3,615.7L623.5,617.9L625.3,619.1L627.9,618.9L630.3,618.6L632.0,617.1L634.2,616.3L636.2,615.3L639.0,614.8L641.6,615.1L643.5,614.6L644.9,613.5L648.3,611.8L649.9,610.7L651.0,609.5L653.8,608.0L655.8,606.7L657.6,606.1L659.8,604.3L661.3,602.9L663.6,602.8L666.2,601.2L668.0,600.1L667.8,597.9L667.0,596.1L665.0,595.1L662.1,595.2L659.3,594.6L657.3,594.4L655.1,593.7L652.7,593.5L650.3,594.8L648.3,595.6L645.6,595.5L643.7,595.4L640.8,595.1L638.8,594.1L637.4,592.7L634.4,592.3L632.6,593.2L630.2,593.4L627.6,592.3L625.1,591.8L623.4,592.2L621.0,591.7L618.7,591.9L616.1,591.3L613.4,591.3L610.7,591.9L608.6,591.2L605.8,590.7L603.9,590.7L601.8,591.1L599.9,592.8L597.1,592.9L595.2,592.4L592.4,593.3L590.4,593.6L587.7,593.1L585.6,594.5L582.9,595.7L580.8,595.2L578.9,595.7L576.7,596.5L574.2,596.9L572.2,596.9L569.7,597.6L566.9,598.0L564.5,598.6L562.7,599.6L559.7,600.3L557.9,600.7L555.2,601.0L553.3,602.0L551.1,602.5L552.0,605.1L554.0,606.0L555.6,605.1L558.5,604.1L561.0,603.6L563.7,603.5L566.2,603.5L568.4,601.7L569.8,600.6L572.4,600.7L574.5,601.4L577.1,600.7L579.2,600.0L581.1,599.5L583.6,598.9L586.1,597.6L588.0,596.3L590.8,595.8L593.0,594.9L594.9,596.0L597.1,597.8L599.7,597.0L601.4,594.4L602.6,592.9L604.6,591.7L607.4,591.1L609.4,592.0L612.1,592.0L614.1,593.0L615.7,594.1L618.0,595.6L620.0,596.2L622.3,597.9L624.2,598.4L626.7,598.1L625.6,595.6L622.9,595.3L621.2,593.5L618.9,593.2L616.5,594.0L614.1,594.1L611.7,592.3L610.1,591.8L608.0,591.5L605.7,591.0L603.8,590.6L600.3,590.1L598.3,591.6L596.1,592.6L595.3,595.7L593.6,596.5L592.6,599.0L591.7,601.4L590.9,603.0L590.3,605.4L591.4,606.1L594.4,604.9L595.4,603.3L597.2,601.4L598.4,599.2L599.9,597.7L600.9,595.3L602.0,593.4L603.0,591.8L605.6,589.7L607.5,588.3L609.6,587.3L611.5,586.6L613.9,586.1L615.8,584.5L617.9,583.5L619.6,581.6L621.4,581.0L624.0,580.2L625.6,580.3L628.5,579.6L631.0,578.6L632.7,578.0L636.0,579.3L637.5,577.0L640.4,577.3L642.2,576.2L644.5,574.9L646.8,574.1L649.1,573.9L650.9,572.8L653.4,571.5L655.6,570.4L657.2,569.7L660.0,569.0L662.5,568.3L664.5,567.9L665.9,566.5L664.0,564.9L662.1,563.9L659.6,563.7L657.1,563.8L654.0,563.8L652.6,564.3L649.9,565.0L647.4,565.3L645.5,564.9L643.5,566.6L640.0,566.7L639.1,567.3L636.6,568.2L633.7,567.1L631.3,567.1L629.4,565.8L626.8,565.7L624.4,565.5L622.1,565.7L620.0,566.4L617.5,565.6L615.7,565.0L615.9,562.6L617.5,562.3L619.6,562.7L621.8,562.4L624.2,562.2L627.1,562.9L629.3,562.6L632.1,563.2L634.0,563.6L636.0,562.4L638.9,561.7L641.3,561.9L643.4,562.4L646.0,562.8L648.8,563.2L650.7,563.6L652.7,564.8L654.7,565.5L657.6,565.1L659.6,565.0L659.6,567.1L658.4,568.8L655.9,569.8L654.1,570.6L650.9,571.3L649.6,571.8L647.2,572.6L644.7,572.6L642.7,573.3L640.0,574.3L637.7,574.6L635.3,575.2L633.9,577.1L631.6,578.9L630.3,580.8L628.9,582.4L627.0,583.7L625.3,584.3L622.3,584.8L620.4,585.3L618.0,585.8L615.7,587.0L614.1,588.0L611.8,589.0L609.4,589.0L606.6,588.1L605.0,589.4L602.4,588.2L600.3,588.2L597.9,587.6L594.8,588.2L593.1,588.7L590.5,587.7L588.4,586.6L586.1,586.3L584.0,587.9L582.1,587.9L579.3,588.4L577.2,587.7L576.3,586.0L578.6,583.7L580.3,583.1L582.3,582.8L584.9,583.5L586.9,582.2L589.1,582.6L591.9,581.5L594.3,582.0L596.6,581.1L599.2,581.5L599.4,583.3L598.9,585.4L598.5,588.1L597.5,591.1L597.8,593.3L597.6,594.9L596.2,597.1L596.8,600.2L596.5,602.1L596.2,605.2L596.1,607.3L594.9,609.2L594.0,611.5L593.3,613.0L593.3,615.6L595.6,617.0L597.0,616.3L598.0,613.8L599.0,611.1L599.4,609.3L600.1,607.1L599.1,604.5L600.0,602.7L599.5,600.1L599.6,597.8L599.9,595.2L601.1,592.6L603.3,591.3L605.3,591.0L607.2,591.5L609.5,591.4L611.9,592.3L614.8,592.6L616.6,593.5L618.6,593.1L620.8,593.5L623.7,593.8L626.1,593.9L628.7,592.6L630.0,590.9L632.8,590.8L635.3,590.0L637.1,590.5L639.6,589.1L642.2,588.9L644.0,589.2L646.0,587.8L649.0,588.2L651.8,586.9L653.5,587.9L656.1,587.5L658.3,588.0L660.0,589.8L661.5,591.0L662.3,593.3L663.1,595.6L666.1,597.2L667.3,599.1L668.6,601.2L666.5,602.7L664.5,601.7L662.1,601.6L660.0,601.0L657.5,601.7L655.0,601.2L652.4,600.2L650.1,600.3L647.5,601.2L645.1,600.1L643.1,598.8L641.5,598.0L638.5,597.5L636.5,598.3L634.8,599.0L631.5,599.0L629.3,598.9L627.1,598.6L625.2,597.3L622.6,596.5L620.9,595.3L618.9,593.9L616.7,593.5L614.8,594.1L612.6,594.6L610.2,595.6L607.8,596.7L605.7,595.5L603.1,595.7L600.8,595.0L599.1,595.6L597.2,596.3L594.1,595.8L592.2,596.4L589.1,595.7L587.4,596.1L585.5,596.3L582.3,594.9L580.4,596.0L577.6,595.6L574.9,595.6L572.6,596.1L570.9,597.0L567.7,597.2L565.4,597.6L563.6,596.9L560.5,596.2L558.8,595.9L558.2,593.7L558.5,591.9L559.6,589.6L560.7,587.7L562.5,585.4L564.1,584.4L565.8,582.5L567.8,581.5L569.9,579.8L571.8,579.3L574.6,578.9L576.8,577.1L578.8,576.6L581.9,576.5L583.2,575.5L584.7,573.3L586.7,571.4L587.8,569.0L590.7,568.9L592.3,567.4L595.0,566.6L596.9,566.5L599.5,565.9L600.9,567.6L601.9,586.4L602.2,588.8L601.3,590.8L600.5,592.9L600.1,595.2L600.3,597.3L599.1,599.9L598.9,602.5L597.8,604.5L598.4,607.1L598.7,609.5L598.3,611.8L597.3,612.9L596.3,611.2L595.7,609.0L596.2,606.4L596.0,603.8L596.5,601.6L597.3,600.1L598.8,597.1L599.2,595.3L600.9,593.1L602.7,591.6L605.0,590.8L606.9,592.2L609.7,593.0L611.4,592.8L614.5,594.0L616.0,595.0L619.0,595.6L620.8,596.4L623.6,597.0L624.9,598.6L627.3,599.1L629.9,600.4L631.5,600.6L634.1,600.1L636.8,599.5L639.6,599.7L641.0,599.6L643.2,598.4L645.9,597.8L648.2,597.2L650.4,596.4L653.3,596.3L655.3,595.6L658.0,594.6L659.9,592.8L661.7,592.6L664.5,591.9L666.3,592.9L665.8,594.7L663.7,595.5L661.3,596.4L658.5,596.6L656.9,596.7L654.6,595.8L651.6,596.5L649.0,596.7L647.0,596.2L644.6,597.3L642.6,596.4L640.3,595.6L637.4,594.9L635.8,594.2L633.0,593.7L631.0,593.2L628.0,592.6L626.3,593.2L624.1,593.5L621.3,593.0L619.7,592.5L617.2,593.3L614.0,593.2L612.7,591.3L610.6,590.8L608.0,591.8L606.1,593.1L603.8,593.7L601.1,593.9L598.4,593.5L596.7,594.2L594.3,594.6L592.2,594.3L589.6,594.3L587.5,593.7L584.5,593.1L582.6,593.7L580.7,593.9L577.1,594.8L575.5,594.4L572.9,594.6L570.7,595.2L568.1,595.8L566.1,596.2L564.2,598.1L562.5,598.9L561.3,601.5L559.5,603.4L559.2,605.6L558.1,607.8L557.3,609.7L557.9,612.3L558.1,614.7L556.9,616.8L559.8,618.1L562.0,617.9L564.1,615.6L566.4,615.1L567.6,613.8L569.8,612.0L571.7,611.1L573.6,609.2L575.0,607.6L577.2,606.8L579.4,604.9L581.1,603.9L583.3,602.3L585.0,601.6L587.2,601.1L589.7,600.9L592.4,601.5L594.5,601.5L597.2,600.4L598.2,598.5L599.1,596.5L601.2,594.4L602.1,592.9L603.4,590.7L605.4,589.5L608.0,589.5L609.5,590.9L610.2,593.4L611.3,595.2L612.6,597.5L612.5,599.9L613.2,601.9L613.2,604.3L614.4,606.9L615.0,608.9L615.4,611.4L615.7,613.5L616.6,615.5L619.2,617.5L617.7,618.4L615.8,618.6L613.9,617.6L613.8,615.4L615.8,614.0L616.8,612.1L618.0,609.2L619.0,607.2L620.5,605.9L622.6,604.3L624.1,602.5L625.9,601.7L627.5,599.8L628.8,597.7L629.4,595.8L631.2,594.3L633.7,593.4L634.6,591.0L634.4,588.9L631.8,588.3L629.5,587.4L627.9,586.6L626.1,584.7L623.4,583.3L621.2,582.5L619.3,581.7L617.4,579.8L615.0,579.5L613.2,579.3L611.2,581.3L609.3,582.7L608.2,583.9L609.1,587.0L609.2,588.9L609.1,590.5L607.0,592.4L604.9,591.9L602.1,591.1L600.0,591.4L597.7,590.8L595.2,591.8L593.3,592.8L591.3,593.9L588.7,594.3L586.8,594.8L584.5,596.8L581.8,597.4L580.4,596.7L577.7,596.9L575.2,597.6L572.3,598.5L570.3,599.2L568.3,599.9L565.7,599.9L563.5,599.5L560.9,601.2L558.7,601.0L557.4,602.2L554.5,601.9L551.7,601.6L549.4,601.3L547.4,602.3L545.1,601.7L542.6,602.3L540.6,599.9L539.4,598.0L539.4,595.7L539.7,593.5L539.5,590.7L541.7,590.8L543.5,591.8L545.5,593.3L547.3,594.1L549.1,596.3L550.3,598.2L551.7,600.2L553.6,600.7L556.5,601.5L558.8,601.5L560.8,601.4L563.0,600.9L564.5,599.7L566.6,597.7L569.1,597.3L570.9,596.5L574.3,597.3L576.3,597.5L578.8,596.9L581.2,597.0L583.3,597.5L585.8,597.3L587.4,595.8L590.4,595.0L592.8,595.9L595.1,594.6L596.7,593.6L599.2,593.2L602.2,592.8L604.3,592.7L606.5,592.7L608.4,591.6L609.8,589.4L611.7,587.4L613.0,586.4L614.6,584.4L615.4,582.3L615.3,579.8L614.4,577.6L612.0,575.9L611.3,574.5L609.1,573.4L608.1,574.8L608.1,587.6L607.7,589.6L605.5,590.6L603.6,590.4L600.8,589.4L599.0,590.9L596.5,590.9L594.3,590.5L591.6,591.5L589.4,591.8L587.3,592.6L585.3,594.7L583.5,595.2L580.9,595.9L578.3,596.9L576.4,597.3L574.2,598.8L572.3,600.6L570.8,601.1L568.8,603.0L567.0,604.9L566.1,606.2L565.0,608.7L563.8,610.8L561.9,612.4L560.3,613.5L558.3,614.7L556.5,616.8L557.4,618.4L559.5,617.8L562.3,617.4L563.8,615.8L566.1,614.6L567.6,613.7L569.6,612.0L571.6,610.1L572.7,608.0L575.0,606.3L577.3,604.8L578.4,603.9L580.4,602.4L582.7,601.6L585.3,600.9L587.7,600.3L588.8,598.5L591.0,596.4L592.5,595.1L593.7,593.7L595.9,592.3L596.9,589.8L599.0,589.2L601.6,590.2L604.4,590.2L606.5,591.2L607.9,590.5L610.2,589.5L612.5,588.0L614.6,586.7L616.2,585.5L618.1,584.2L620.6,583.2L622.8,582.8L625.2,581.4L627.6,581.1L629.6,580.8L631.3,579.7L633.6,578.7L636.3,577.6L638.6,577.3L640.6,577.4L643.0,576.7L645.6,575.8L647.9,575.3L650.0,574.6L652.5,574.0L654.6,572.3L656.8,572.4L658.3,570.2L660.3,569.9L662.3,567.7L663.5,565.9L660.8,565.4L658.6,565.7L656.1,566.7L654.1,566.7L651.7,568.3L650.4,569.4L647.8,569.7L646.0,570.9L644.0,573.1L641.6,573.7L639.5,574.5L637.3,576.1L635.3,575.7L632.3,576.8L631.2,577.7L628.7,578.2L626.1,578.2L623.9,580.2L621.5,580.4L618.9,580.8L617.0,581.5L614.7,582.6L612.5,584.6L611.4,586.5L609.6,587.7L608.3,588.6L606.0,590.5L604.1,591.2L601.6,592.8L599.3,591.9L597.8,590.2L594.8,590.6L592.9,589.5L590.5,588.6L588.9,587.5L586.0,587.2L584.5,587.3L581.4,585.7L579.3,585.5L576.6,584.5L574.9,584.1L572.2,582.7L570.6,581.8L568.8,580.7L566.1,579.9L564.0,579.8L561.8,579.1L559.0,578.0L557.5,577.4L555.1,576.7L552.4,575.8L551.2,573.9L548.9,571.9L547.9,571.0L545.2,570.1L542.8,572.1L542.8,574.4L542.2,575.8L542.4,579.4L541.0,581.3L541.9,583.9L541.7,585.7L541.7,588.8L541.9,590.6L543.8,592.7L545.2,593.7L548.4,593.9L550.2,594.5L552.8,594.8L554.8,594.1L557.5,594.6L559.6,594.0L561.5,592.8L564.2,592.6L567.2,593.5L569.2,593.7L571.1,593.4L573.9,593.9L576.1,595.0L578.4,596.0L580.4,596.7L582.8,597.6L585.2,596.9L586.7,595.0L588.3,593.8L590.3,592.6L592.4,590.8L592.8,589.0L593.5,586.7L595.4,585.2L595.7,582.0L597.0,580.4L597.5,577.6L598.3,575.9L598.1,573.2L598.0,570.7L598.6,568.1L599.2,565.7L601.3,565.6L602.6,586.8L604.7,587.9L607.1,589.0L609.2,589.8L611.7,589.9L613.7,589.1L616.3,589.3L619.0,589.4L621.9,589.7L623.5,591.0L625.4,591.9L627.6,592.7L629.9,593.7L632.5,592.9L634.8,592.5L637.0,591.1L637.4,589.3L634.8,587.6L632.6,587.4L630.8,587.3L627.8,587.7L625.8,588.2L623.4,588.5L620.9,588.9L618.3,588.0L616.2,588.9L614.5,589.7L612.0,591.5L610.7,591.7L608.2,590.7L605.6,590.9L604.1,592.4L601.3,591.9L599.4,592.6L597.3,593.9L594.5,594.6L593.0,595.6L589.7,596.4L587.6,597.5L585.8,598.9L583.8,599.6L581.6,598.9L579.3,599.5L576.6,600.7L574.2,601.1L572.1,601.8L570.6,603.8L568.9,604.8L566.7,606.0L565.3,608.0L562.4,609.2L560.2,609.2L557.7,609.6L556.0,608.6L555.1,606.5L555.7,604.1L556.9,602.2L559.0,600.5L559.5,598.3L560.3,596.1L560.6,593.7L560.7,591.3L562.3,589.1L562.9,586.8L564.1,584.9L565.2,582.9L566.7,581.9L569.1,581.5L571.9,580.7L574.3,581.1L576.8,581.6L578.7,580.8L580.8,582.4L582.7,582.6L585.3,584.8L587.0,585.9L588.9,587.6L591.6,587.9L593.5,588.1L596.2,589.2L597.5,591.2L599.2,592.1L600.9,593.6L603.7,593.6L605.9,594.4L608.1,594.2L611.0,594.0L613.7,594.7L615.6,593.9L618.0,592.5L620.0,593.8L622.1,594.5L624.7,594.6L626.6,595.1L629.5,594.1L631.6,594.6L634.3,594.0L636.8,593.9L639.4,594.6L640.8,594.4L643.2,594.1L645.9,594.0L648.4,594.0L650.4,594.8L652.7,595.0L655.4,596.0L657.4,596.1L659.8,596.8L661.7,596.5L664.8,596.8L667.5,597.6L668.5,598.0L670.4,599.8L668.6,602.4L667.5,604.6L665.0,605.3L662.9,604.4L659.9,604.5L657.7,604.1L656.3,604.4L653.4,604.2L650.7,604.6L648.8,603.4L646.8,602.9L644.2,601.9L642.4,601.5L639.7,601.6L637.0,600.2L635.0,600.7L632.3,600.2L629.6,600.0L627.6,599.4L625.7,598.7L623.6,597.5L621.2,596.4L619.2,596.0L616.5,596.9L614.5,596.4L611.9,595.2L609.6,594.4L607.5,594.2L605.2,593.4L602.6,592.6L600.6,592.1L598.3,592.2L596.0,591.7L593.7,593.4L591.4,595.0L589.2,595.3L587.4,595.1L585.1,595.6L585.2,598.6L587.1,598.5L589.8,597.9L591.4,598.1L594.3,597.3L596.4,595.7L597.7,594.7L599.6,593.0L602.2,591.7L604.2,591.3L605.8,589.8L608.7,588.5L610.7,588.3L612.9,588.4L615.5,589.0L617.1,588.6L620.2,588.4L621.8,587.4L624.8,588.1L627.0,586.3L628.9,586.7L631.4,586.7L633.5,586.1L636.4,585.8L638.6,586.4L641.2,586.2L643.2,585.9L645.2,586.4L648.0,586.4L650.4,586.8L653.6,586.3L655.3,587.2L657.0,587.1L659.6,586.9L661.7,587.5L664.8,587.1L665.7,587.9L664.2,589.6L662.3,591.6L659.5,591.9L657.6,592.2L655.4,591.4L653.4,593.2L650.5,594.3L648.4,595.0L645.9,594.5L644.4,594.2L642.5,592.3L640.3,592.3L637.6,592.0L635.5,592.1L633.0,592.9L630.7,592.8L627.9,592.2L626.1,591.2L623.9,590.7L621.7,591.2L618.7,591.2L616.7,591.5L614.2,591.1L612.3,592.2L609.5,593.4L608.1,594.0L605.6,593.3L602.5,592.5L601.1,591.7L599.0,591.3L596.6,590.4L594.2,590.0L591.7,590.0L589.3,590.5L587.2,590.0L584.6,590.4L581.5,589.5L580.0,589.2L577.7,588.0L576.7,586.1L574.7,584.3L573.2,582.7L571.2,581.0L569.4,580.5L566.9,579.5L564.1,578.6L562.5,577.2L560.5,576.4L558.4,575.9L555.3,575.4L553.1,575.7L550.7,573.8L548.7,575.0L546.9,576.7L546.0,579.4L544.9,580.7L543.9,583.3L542.7,585.6L543.5,587.8L544.3,589.8L543.5,592.2L543.2,595.1L542.6,596.5L541.1,599.2L540.7,601.4L540.5,604.0L540.3,606.1L542.6,607.1L544.8,606.8L546.4,605.4L548.3,603.8L550.5,602.7L552.8,601.1L553.8,599.9L556.0,598.2L557.4,596.7L559.9,595.8L562.4,595.3L565.0,595.3L567.0,593.5L569.1,592.0L571.0,590.6L572.8,590.6L575.0,589.1L576.8,588.0L579.2,586.4L581.7,586.1L583.1,585.2L584.6,584.3L587.3,581.5L589.2,581.5L591.6,580.2L593.8,579.1L595.2,577.9L597.8,576.9L599.6,576.8L601.0,577.5L600.6,579.3L601.4,586.5L601.6,588.6L600.8,590.7L601.0,593.2L600.8,595.5L600.8,598.2L601.0,600.5L601.3,602.4L602.2,595.9L602.5,596.4L601.7,596.1L601.9,596.3L600.8,597.1L601.2,599.9L601.5,602.0L601.0,596.9L601.2,595.9L602.2,595.7L602.2,596.2L601.5,596.9L600.4,597.6L600.9,599.7L600.8,601.8L601.0,604.0L601.1,596.3L600.5,599.4L600.1,601.2L600.7,603.5L601.2,605.1L600.9,607.9L599.7,610.5L598.8,612.6L598.8,614.9L600.2,615.9L601.3,614.0L601.0,594.8L601.4,593.3L600.8,590.6L600.1,588.3L601.9,586.5L603.8,587.5L606.1,588.4L608.3,589.5L610.0,590.3L612.5,589.9L615.2,590.7L617.9,590.4L619.3,589.5L621.5,588.9L624.2,587.8L626.0,586.7L628.2,585.2L629.8,584.1L632.7,583.6L634.9,582.1L635.5,580.3L636.2,577.9L636.5,575.5L637.3,573.4L638.6,571.0L639.9,569.2L639.7,566.7L638.2,565.1L636.0,566.1L634.2,567.1L633.5,569.7L631.4,570.9L630.1,572.9L628.3,574.4L627.2,576.7L625.7,578.2L624.3,580.5L622.4,582.0L620.8,583.9L618.9,584.6L616.9,586.3L615.0,587.9L612.7,588.5L611.4,590.8L609.7,591.8L607.8,592.6L605.4,593.6L602.5,593.4L601.9,591.0L599.4,590.2L598.9,587.4L596.6,587.0L594.5,585.4L591.8,584.1L589.0,583.9L587.6,584.8L585.2,584.5L583.3,582.9L580.8,581.9L578.9,580.8L576.9,579.6L574.5,578.2L572.6,577.1L570.3,576.7L568.3,575.2L567.0,573.7L564.6,573.1L563.3,570.8L561.6,568.8L561.9,566.6L563.7,566.9L565.9,569.2L568.2,570.3L569.4,571.9L570.4,573.8L572.8,575.7L574.0,577.7L575.1,579.7L576.4,582.0L576.6,583.9L577.0,586.9L576.9,589.3L578.2,590.7L579.1,592.6L578.5,595.4L579.1,598.0L578.9,600.3L579.1,602.5L580.8,604.4L580.6,606.9L581.6,609.2L583.3,611.7L583.8,613.8L585.6,615.4L586.6,617.2L588.4,618.8L591.1,618.6L593.3,618.4L596.2,618.0L596.7,615.7L596.5,613.6L596.3,611.0L595.0,608.7L593.8,607.0L593.5,604.0L592.2,602.6L590.8,600.4L589.1,599.1L587.9,597.4L586.3,595.2L584.6,593.5L583.3,592.1L580.4,590.9L579.0,590.4L576.8,588.1L575.1,587.0L573.1,584.8L570.8,584.2L569.3,582.7L567.6,580.9L566.4,579.2L564.8,576.8L563.8,575.0L562.2,573.1L560.4,571.7L558.4,569.8L557.2,568.2L557.1,565.9L559.6,566.1L561.3,567.7L562.7,568.9L563.8,571.5L565.2,573.8L566.3,576.3L568.7,576.6L571.0,575.4L573.3,575.5L575.9,575.2L577.5,574.8L580.0,573.1L581.6,571.6L584.3,570.6L585.0,569.2L587.7,567.9L589.9,567.0L592.2,566.8L594.8,566.4L596.6,566.5L599.4,566.4L600.8,567.7L600.4,571.0L599.7,572.9L599.7,575.6L600.7,577.8L600.7,579.3L600.0,582.3L601.3,585.9L604.1,587.5L606.0,588.6L608.7,588.5L610.6,587.1L612.4,586.0L614.5,584.0L616.1,582.3L616.5,580.3L617.8,578.0L618.7,575.9L620.7,574.0L622.9,574.8L625.0,574.1L627.9,573.7L629.7,572.1L631.5,570.5L632.8,568.2L634.1,566.1L633.5,564.7L632.0,563.8L629.5,564.8L627.5,565.9L626.8,567.7L625.4,569.8L623.7,571.3L621.8,574.0L619.7,574.0L618.4,576.3L616.9,578.1L616.3,580.3L614.4,582.8L612.9,583.7L611.6,585.9L609.6,587.2L607.1,589.2L605.2,589.3L603.6,591.2L601.0,592.3L599.3,593.3L597.2,593.4L595.0,592.4L596.1,590.2L598.7,589.7L600.7,590.4L602.5,590.6L605.3,591.5L607.5,591.3L609.1,590.1L610.6,587.9L613.0,586.9L615.3,586.8L617.5,587.1L619.2,584.9L618.4,582.8L616.4,583.6L614.7,585.2L612.7,586.4L609.5,587.2L607.8,588.2L605.6,589.5L603.8,590.5L602.5,592.0L599.7,593.3L597.9,594.2L595.3,593.4L593.0,595.2L591.1,596.0L589.2,597.6L586.9,599.0L586.5,600.6L583.4,602.1L582.0,603.6L579.3,605.1L577.5,606.2L575.9,607.0L573.5,609.3L571.3,610.2L569.7,611.1L567.3,611.7L565.3,612.9L563.4,614.6L561.0,614.8L558.7,616.4L557.7,614.7L558.6,612.3L559.6,610.2L561.0,607.9L563.2,606.9L565.2,606.2L567.1,604.1L568.2,602.3L569.8,600.1L571.7,599.7L573.9,599.0L575.4,596.2L577.6,596.0L579.5,594.4L582.2,594.0L584.3,592.8L586.2,591.7L588.4,590.7L590.8,590.1L593.3,589.2L595.2,588.0L597.3,588.5L599.7,589.0L602.3,589.8L604.6,590.4L606.5,590.9L609.0,591.3L611.3,591.3L613.4,592.7L615.7,592.9L617.7,594.7L620.4,595.4L622.0,596.0L624.8,597.5L626.7,598.9L628.8,599.6L630.7,600.3L633.7,601.8L635.2,602.9L637.3,603.3L639.8,604.8L641.8,605.3L642.8,607.6L642.4,609.3L640.4,610.7L638.5,610.9L635.7,610.1L633.6,610.6L631.8,610.6L628.8,610.6L626.8,612.0L624.3,612.2L621.7,612.6L619.5,613.2L617.6,614.1L615.1,613.6L612.7,613.4L611.3,611.4L611.3,609.3L610.8,606.9L610.1,604.7L610.0,602.3L610.1,599.9L609.9,596.8L610.0,594.9L610.3,592.6L610.5,590.7L610.1,588.3L607.5,587.8L605.0,588.2L603.0,589.6L601.7,590.9L600.6,593.6L599.9,595.2L598.5,597.9L596.2,599.0L595.7,601.2L593.5,603.0L592.4,605.4L591.4,606.9L589.0,608.0L586.4,608.2L584.5,606.8L582.3,607.1L579.2,606.6L576.6,606.4L574.9,605.9L572.2,606.2L570.2,605.2L568.0,605.8L565.0,605.2L562.7,604.5L560.2,605.3L558.4,606.2L556.4,607.9L554.6,608.5L552.8,609.7L550.1,611.8L548.5,613.3L547.3,614.9L549.4,616.4L551.1,617.2L552.6,617.8L555.3,617.9L558.2,618.7L560.1,618.0L562.9,617.1L565.0,617.4L567.2,617.8L569.6,617.0L571.8,617.4L573.9,618.9L576.1,619.6L578.4,619.9L581.3,620.3L583.3,620.1L585.6,619.6L588.6,619.6L590.7,619.9L592.5,619.5L595.5,620.0L595.6,617.4L593.8,616.3L591.3,615.3L588.8,616.5L587.0,616.1L584.2,616.0L581.9,614.6L579.2,614.4L581.3,613.1L582.8,611.3L584.2,609.5L586.2,608.2L587.8,606.2L588.7,604.5L590.4,602.7L592.1,601.4L593.8,598.7L595.9,597.7L597.6,595.9L600.0,595.7L601.8,595.9L604.8,595.9L606.7,596.2L608.8,597.3L610.0,598.5L612.6,600.0L614.3,601.6L615.9,603.2L617.6,605.1L618.5,606.6L621.3,608.1L622.9,609.1L625.3,611.3L626.9,611.7L629.0,613.4L630.8,614.9L633.3,615.4L634.9,616.7L637.3,615.2L637.6,613.2L638.0,611.6L638.5,608.6L638.4,606.5L637.9,603.5L637.8,601.3L637.3,599.2L638.0,596.9L637.7,594.3L636.9,592.0L636.7,589.6L637.0,587.4L636.4,584.9L636.1,582.6L636.8,580.5L636.1,578.3L636.0,575.5L635.2,573.7L634.6,570.8L634.3,568.6L632.4,568.6L629.9,569.9L628.0,571.0L626.1,571.9L624.8,573.7L623.2,575.7L621.7,577.5L620.2,578.8L618.3,580.7L616.3,582.4L614.4,584.2L612.3,585.1L610.2,586.7L609.8,588.8L609.5,591.4L608.0,592.8L605.9,593.9L603.6,594.5L602.5,596.1L600.8,596.7L599.4,599.2L598.0,601.3L596.8,603.1L594.4,603.9L591.3,604.9L590.7,607.2L589.3,608.4L587.0,609.4L585.5,611.1L583.0,611.6L581.5,614.1L580.3,616.2L578.6,617.2L576.4,617.7L574.0,618.6L571.5,618.2L569.2,618.0L566.9,617.4L567.3,615.1L568.3,613.0L569.9,610.7L571.4,609.5L573.6,608.9L576.3,607.7L578.4,606.4L580.7,605.5L581.6,603.7L583.9,602.1L585.0,600.0L586.3,597.9L587.8,596.1L590.7,595.7L592.2,594.0L594.1,592.2L596.0,591.4L598.1,590.4L599.8,588.4L602.2,588.0L604.1,589.1L606.9,589.5L609.3,589.4L611.2,590.4L613.6,591.4L616.0,591.4L618.6,591.2L620.9,592.4L622.9,591.3L625.7,591.4L627.2,590.2L629.6,590.4L632.2,591.2L634.2,592.9L636.3,593.4L638.5,593.7L640.9,594.5L643.6,594.5L645.4,595.5L647.6,596.7L650.6,597.8L652.3,598.1L654.6,599.4L655.9,600.2L658.7,600.9L660.7,601.1L663.4,602.4L665.1,603.4L667.2,603.5L668.4,601.2L667.8,598.7L667.8,596.2L666.8,594.4L666.5,592.3L666.0,589.6L666.4,587.3L666.5,584.6L667.2,582.9L667.7,580.7L667.8,578.5L666.4,575.9L666.6,573.7L667.0,571.2L667.3,569.3L666.9,566.7L664.6,565.6L662.7,564.4L660.1,563.9L658.3,563.7L656.1,563.1L653.5,563.5L651.3,563.5L649.0,562.5L645.8,563.6L644.2,562.8L642.2,562.0L639.6,562.5L637.0,562.1L635.2,561.9L633.2,562.3L631.3,562.4L628.7,562.3L625.9,562.8L624.2,563.1L621.4,563.8L619.0,563.9L616.7,563.5L614.3,564.4L613.3,566.2L612.0,568.4L611.5,571.1L610.8,573.1L610.7,575.3L608.8,577.5L608.3,579.4L608.2,582.0L608.7,584.7L608.9,587.0L607.1,588.0L605.4,589.9L603.6,590.8L601.3,590.3L599.6,589.4L597.1,588.3L595.1,587.0L592.9,586.0L590.7,584.9L588.5,583.4L586.1,583.0L584.0,583.0L582.1,581.4L579.8,581.1L577.9,580.9L575.6,579.1L573.6,578.0L571.3,576.8L569.1,576.6L567.3,575.4L564.6,575.2L563.0,573.5L561.2,572.0L561.4,569.5L563.0,569.1L566.7,568.5L568.6,568.5L570.5,567.2L572.6,565.5L573.8,564.1L576.3,562.5L579.2,561.4L581.0,562.2L583.2,562.3L582.4,562.3L579.4,561.9L579.0,564.6L581.6,565.3L584.6,565.4L583.5,563.4L581.6,562.3L579.7,562.1L577.1,562.5L577.1,562.5" fill="none" stroke="#000" stroke-width="1.15" stroke-linejoin="round" stroke-linecap="round"/>
<path d="M637.9,686.2L638.2,686.7L640.6,686.9L642.8,685.7L645.4,686.4L647.8,685.9L649.8,685.1L652.4,685.3L655.1,684.8L657.2,684.4L656.5,685.9L655.8,686.2L657.3,686.6L659.5,686.0L661.0,684.5L660.2,682.0L657.5,682.1L655.2,680.6L652.8,679.7L650.7,679.2L648.6,677.7L646.8,677.0L644.0,675.4L642.9,674.3L639.8,674.2L638.1,672.4L635.8,672.8L634.0,670.6L631.8,669.8L629.2,669.0L627.3,668.0L625.4,665.8L623.1,664.3L620.9,663.9L619.4,663.5L617.2,662.1L615.3,660.5L613.0,659.1L611.1,658.9L608.5,658.2L606.4,658.8L604.3,660.1L601.9,660.7L600.5,658.4L599.7,657.6L598.5,654.5L597.1,653.0L595.9,650.9L595.4,649.0L595.5,646.0L595.5,644.5L595.3,641.9L592.6,640.5L591.1,641.7L588.3,641.6L586.1,640.7L583.9,641.4L581.3,641.0L578.7,641.8L577.3,643.1L575.1,643.8L572.9,644.8L570.2,645.5L568.3,646.6L566.4,647.1L563.5,647.8L560.7,648.4L558.8,648.9L556.6,648.3L554.5,649.1L552.3,650.2L550.6,650.9L547.3,652.0L545.2,651.4L544.0,652.4L544.2,654.7L546.1,655.2L549.0,656.6L551.2,657.1L553.4,657.9L556.0,657.1L558.5,657.4L560.7,657.9L562.7,658.0L565.8,658.5L567.9,658.9L570.3,658.4L573.0,658.4L574.3,660.1L577.2,660.8L579.0,661.2L582.7,661.1L584.1,661.5L585.7,661.8L588.3,661.4L591.0,661.5L593.7,660.7L595.6,660.4L597.9,661.1L600.6,660.8L602.8,660.2L604.4,659.3L606.5,658.2L609.6,657.8L611.9,657.8L613.4,656.4L616.0,655.9L618.3,656.6L620.9,655.7L623.1,655.6L625.7,655.1L627.6,653.3L629.7,651.7L630.9,649.8L632.8,648.1L634.2,646.5L636.1,645.2L638.2,643.6L639.0,641.2L641.1,640.4L642.9,639.7L646.2,639.2L648.2,638.9L650.9,638.2L652.9,636.9L654.8,635.4L656.6,634.4L659.4,634.1L661.0,633.5L663.3,633.0L665.7,632.7L666.7,630.3L664.7,629.6L662.5,629.5L659.9,629.0L657.9,629.3L655.9,630.0L653.0,630.2L650.3,630.0L648.1,629.3L645.6,629.8L643.3,629.7L641.8,630.0L639.4,631.5L636.7,630.9L634.8,631.7L632.3,632.7L629.8,633.7L627.7,633.6L625.4,634.0L623.4,633.4L620.9,632.6L618.1,631.3L616.2,631.9L614.1,634.4L613.5,636.0L613.2,638.0L613.7,639.4L614.5,642.8L614.1,645.1L613.0,647.1L611.2,649.5L610.4,651.7L609.1,653.7L607.4,655.0L605.1,655.7L603.1,656.5L600.3,657.1L598.3,656.4L595.5,656.7L593.4,656.2L591.5,654.9L589.0,653.5L586.5,654.0L584.8,654.3L581.8,654.6L580.3,654.8L577.2,653.7L574.8,653.9L572.8,654.3L570.6,653.6L567.9,654.2L565.1,653.9L562.8,653.2L561.2,652.9L558.7,653.3L555.8,653.1L555.6,654.9L557.6,656.6L560.0,657.7L562.2,658.8L564.5,658.2L566.5,657.9L569.6,657.7L572.4,658.4L573.7,657.7L576.5,658.2L578.7,659.2L580.9,658.8L583.0,657.7L585.7,658.1L587.6,658.3L590.3,657.0L592.7,656.8L594.8,655.2L597.2,655.5L599.4,655.8L601.7,656.4L603.4,656.3L606.5,657.5L608.5,658.4L610.7,658.7L612.7,658.2L615.3,658.2L617.2,658.3L619.3,658.3L621.8,657.7L624.5,657.2L626.5,655.9L628.6,654.7L630.7,653.3L632.6,651.9L635.0,652.0L637.3,650.1L639.3,649.7L642.0,648.2L643.0,647.2L643.4,645.6L640.9,644.1L638.6,645.3L637.2,646.6L635.6,648.2L633.7,650.1L632.4,652.8L630.5,653.6L628.1,655.3L626.3,655.8L624.8,657.5L622.3,658.1L620.0,658.8L617.4,660.2L615.4,661.0L613.2,661.2L610.9,661.3L608.6,660.2L606.6,658.3L605.2,657.7L602.7,656.9L600.5,656.2L599.2,653.6L597.3,651.6L595.2,650.4L593.9,648.7L593.0,650.6L594.2,653.0L595.4,654.6L597.3,655.1L599.7,657.4L601.7,657.5L604.6,656.9L605.7,655.2L607.5,654.0L609.9,653.3L612.1,653.1L614.6,651.8L616.3,651.4L618.8,650.7L621.1,649.5L622.9,647.3L624.5,645.3L625.4,643.5L627.3,641.6L629.7,640.3L631.0,639.1L632.9,636.8L634.2,635.6L636.6,634.2L638.1,632.4L638.2,630.9L634.8,630.7L633.0,630.8L631.1,632.3L628.9,633.3L626.8,634.3L625.1,636.2L623.5,638.0L621.5,639.7L620.4,641.2L619.3,642.9L616.6,644.9L615.3,646.1L614.5,648.3L613.3,650.8L612.3,652.7L611.6,654.9L611.8,657.8L609.6,658.5L608.3,660.8L605.8,661.2L603.7,660.7L601.1,660.8L598.5,660.7L596.8,660.1L594.2,659.4L592.2,658.9L589.7,657.9L586.9,658.2L584.8,657.0L582.7,656.7L580.5,656.1L578.1,655.8L575.4,656.3L573.1,655.7L571.0,654.6L568.3,654.5L565.9,654.3L563.8,653.4L562.4,651.6L562.8,648.9L564.2,648.5L567.2,648.6L569.5,649.6L571.1,649.6L574.0,650.1L576.5,650.2L578.9,650.4L581.3,650.9L583.1,651.4L585.3,652.5L587.1,654.2L589.2,655.1L591.9,656.3L594.0,657.4L595.9,658.1L597.5,658.2L600.5,658.0L603.1,658.3L605.0,658.4L607.5,657.7L609.9,657.1L611.8,657.1L614.2,658.3L616.7,658.8L618.8,659.9L621.4,660.8L623.0,661.8L625.3,662.6L627.6,662.3L630.1,663.1L632.6,663.9L634.6,663.5L637.4,663.4L639.6,663.8L641.7,664.7L643.5,663.6L644.9,661.6L645.5,659.8L647.5,658.0L649.4,656.6L650.8,654.7L651.7,652.8L653.1,650.7L655.0,648.8L657.3,647.5L658.7,646.1L660.1,644.9L661.9,642.6L663.7,640.1L665.2,639.1L666.9,637.2L668.5,638.1L669.9,640.8L670.1,642.4L670.4,645.1L670.3,647.6L669.3,649.8L669.4,652.5L669.7,654.3L669.5,656.8L669.7,659.4L669.3,662.1L670.5,664.3L669.9,665.9L669.9,669.1L669.7,670.8L669.3,673.5L668.9,675.3L667.9,677.1L667.2,680.1L665.8,679.5L663.5,678.0L662.1,676.6L662.0,673.3L662.3,671.3L662.5,668.8L663.9,667.2L665.6,664.8L666.8,662.8L667.0,660.6L667.4,658.5L668.3,656.1L669.0,653.7L669.4,651.7L669.6,648.5L669.9,646.6L670.0,644.2L669.8,641.9L667.7,642.8L665.5,643.7L663.5,645.3L663.1,647.3L663.8,650.0L664.4,652.4L664.8,654.4L666.0,656.8L665.5,659.0L667.5,661.0L667.4,663.4L668.8,666.2L667.6,668.3L666.7,670.2L664.3,671.1L662.4,669.8L660.3,670.4L657.7,670.5L655.4,670.7L653.1,669.7L650.9,668.8L648.6,667.5L646.4,666.8L644.8,665.7L642.5,664.4L640.1,664.3L638.1,662.9L635.3,663.9L633.0,663.5L631.1,662.7L629.0,661.7L626.2,660.9L624.5,660.3L622.8,658.5L621.0,657.2L618.4,656.4L616.3,654.9L614.5,653.7L611.8,654.1L609.8,655.8L607.4,657.3L606.4,659.1L604.2,659.9L602.2,661.3L600.9,662.6L599.0,664.1L597.9,665.3L595.5,666.9L593.5,667.4L591.1,668.9L589.7,670.5L587.4,671.6L584.5,672.6L582.5,672.5L580.3,674.8L578.9,675.4L576.7,676.8L575.4,678.9L572.7,679.8L570.5,679.5L568.5,680.0L566.0,680.2L563.6,679.7L561.5,680.1L558.8,680.6L556.3,680.4L554.0,680.2L551.9,680.6L549.5,680.6L546.8,681.7L548.4,683.4L551.7,683.7L553.4,682.7L556.4,682.2L558.6,682.5L560.7,681.7L562.6,681.2L565.2,680.6L567.1,679.9L570.2,679.3L571.8,679.3L574.0,677.3L574.9,676.2L577.5,673.7L579.1,672.4L581.4,671.4L583.2,670.6L584.2,668.3L586.2,667.0L588.2,664.5L590.1,663.3L591.6,661.8L592.8,660.2L596.4,660.2L597.8,658.7L600.0,656.9L601.7,655.3L603.7,655.1L606.3,653.7L608.6,654.0L611.2,653.9L613.1,655.2L614.7,656.7L616.5,658.1L618.6,659.6L620.8,660.1L622.7,661.7L625.0,662.6L627.5,663.9L629.5,665.7L630.0,667.4L630.6,669.3L632.7,671.8L634.5,673.3L635.3,675.0L636.5,677.4L637.0,680.2L638.1,682.4L638.3,683.8L636.1,684.4L634.1,684.2L632.3,682.9L630.6,681.3L628.4,679.4L627.0,677.6L625.4,675.8L624.5,673.5L622.5,671.8L622.6,669.9L621.9,667.4L621.1,665.2L619.3,663.5L617.1,663.4L615.2,661.5L612.3,660.6L610.8,659.6L608.5,658.6L606.3,657.8L605.1,655.5L602.7,656.0L600.4,656.3L598.4,656.5L595.7,657.7L592.9,658.6L591.5,659.0L589.0,660.1L587.1,661.6L585.4,663.6L583.0,663.7L580.9,663.8L578.9,664.9L576.4,665.6L574.5,666.7L572.3,667.9L569.6,667.9L567.2,669.2L565.3,669.0L562.2,668.9L560.6,670.1L558.6,670.2L556.6,672.1L554.1,672.9L553.6,675.3L555.7,676.2L558.8,676.6L560.3,677.1L563.1,677.1L565.2,675.5L567.8,675.4L569.8,674.9L571.9,674.1L574.5,674.4L576.8,674.2L579.4,675.6L581.0,675.6L583.8,675.5L586.1,676.8L587.6,676.0L586.7,673.8L585.4,671.6L583.7,669.9L581.3,669.1L579.1,668.6L577.3,667.3L575.2,666.4L573.0,665.4L570.8,663.5L569.6,661.0L568.0,660.0L566.5,657.5L564.9,656.1L563.5,654.4L562.2,652.5L560.8,650.8L561.0,648.0L559.7,646.3L557.8,644.2L556.2,642.9L554.1,641.2L552.9,640.7L549.6,640.1L547.7,638.9L545.7,636.6L543.8,636.1L541.6,635.1L540.9,634.3L542.5,632.1L545.5,632.7L546.8,633.9L548.2,635.7L551.1,637.2L552.8,638.0L555.6,638.8L557.4,639.6L559.8,640.9L561.9,642.1L564.0,642.8L566.2,643.6L568.6,644.5L570.6,644.2L572.5,645.4L575.5,645.6L577.1,646.6L578.6,648.7L580.6,650.1L582.5,651.4L585.1,651.7L587.5,652.2L589.3,652.8L592.1,653.4L594.3,653.3L596.7,653.7L598.6,654.2L601.1,654.3L603.8,654.7L605.9,655.2L608.9,654.8L610.2,653.4L612.2,651.6L611.2,648.9L610.0,647.4L610.6,645.0L610.4,642.7L610.2,639.9L609.6,637.8L609.0,635.3L610.6,633.5L612.5,632.4L615.1,633.1L616.5,634.7L617.9,637.1L619.5,639.1L620.6,641.2L621.5,643.0L622.4,644.7L624.6,645.7L626.6,647.1L629.0,647.9L629.9,649.9L632.3,651.6L633.5,653.6L634.7,655.8L636.4,657.3L638.0,658.8L639.9,661.0L641.0,663.0L643.0,664.5L644.8,666.1L646.6,667.2L647.8,669.5L648.6,671.2L650.4,673.5L652.4,674.9L653.8,676.2L656.2,677.8L657.6,679.0L659.5,680.4L661.9,680.9L664.5,682.9L665.7,684.3L667.7,685.5L668.1,682.3L669.1,680.8L669.8,678.2L670.1,676.0L669.2,673.7L669.0,671.5L666.9,669.5L665.7,667.8L665.0,665.5L664.8,663.0L664.0,660.9L662.1,659.4L661.9,656.4L661.2,654.7L660.2,652.4L660.1,649.7L660.3,647.7L658.3,645.9L657.5,643.8L656.7,641.2L657.9,639.4L657.8,636.8L655.7,636.5L654.4,638.1L654.0,640.8L653.9,642.8L652.0,645.4L649.4,647.2L648.4,648.2L647.3,649.7L645.6,652.7L645.1,654.7L642.8,655.9L640.8,656.2L638.7,658.2L637.1,660.0L637.4,662.4L637.2,665.1L635.9,666.4L633.9,668.2L633.2,670.1L631.1,672.0L630.5,674.2L630.1,676.8L629.4,678.5L628.2,681.2L626.3,681.7L623.9,680.4L622.5,678.5L621.9,676.9L621.8,674.4L620.7,672.2L619.7,669.8L619.2,666.9L618.1,665.2L615.8,663.9L614.1,662.7L611.8,661.7L610.1,660.4L608.5,659.3L605.8,658.5L603.5,658.7L601.7,660.3L600.3,662.4L598.3,662.9L595.9,664.2L594.1,665.6L592.2,666.7L590.7,664.7L592.5,661.6L593.6,660.4L595.5,659.2L598.0,658.2L600.3,657.0L602.0,656.5L604.9,656.0L606.7,655.7L609.1,655.2L610.1,653.4L609.4,650.9L610.3,648.3L611.6,645.8L612.5,644.3L613.7,641.4L614.7,639.8L614.5,637.7L614.9,634.8L615.6,632.5L617.3,631.1L620.4,630.6L622.6,630.8L624.6,630.7L627.3,631.2L630.1,631.2L631.5,630.3L634.1,629.3L636.4,629.3L638.3,630.8L640.9,630.5L643.5,630.3L645.5,629.8L647.7,630.8L649.1,632.8L647.5,635.0L645.3,635.9L642.9,636.3L641.0,638.1L639.9,640.1L637.7,640.6L635.4,641.7L633.2,642.8L630.7,643.9L629.2,645.4L626.6,646.6L624.4,647.8L622.5,649.8L620.4,649.3L618.6,651.4L617.0,652.9L615.5,654.5L613.4,656.0L611.4,657.5L608.9,657.9L606.8,658.0L604.4,657.6L601.9,657.9L599.8,658.6L597.8,659.3L595.8,660.6L594.6,662.9L591.6,664.1L589.8,664.3L588.0,666.7L585.6,667.7L584.0,668.9L582.5,669.5L579.8,670.6L577.2,671.1L575.1,671.9L572.7,672.6L570.4,673.7L569.5,676.0L569.7,677.9L570.2,680.2L571.5,682.2L573.4,683.2L575.6,683.3L577.8,682.9L578.8,680.5L581.1,678.7L583.1,676.8L584.8,675.6L586.0,673.3L587.5,671.2L588.8,669.9L590.5,668.7L592.3,666.3L593.6,665.3L594.6,662.5L596.4,660.3L597.8,658.8L599.8,658.4L601.4,658.7L604.3,659.5L606.7,659.4L608.4,659.7L611.4,659.4L613.8,659.4L615.4,659.0L618.2,659.6L620.3,659.5L623.0,659.3L624.1,656.8L623.6,655.0L623.4,652.3L621.7,650.7L620.9,647.6L620.1,646.2L618.4,644.4L616.8,643.1L614.5,640.6L614.8,638.1L614.4,636.7L612.4,634.4L610.0,633.8L609.4,636.4L609.0,638.5L609.3,641.2L610.2,643.3L612.0,645.3L611.8,647.7L610.6,649.7L610.3,651.8L609.6,654.5L607.6,655.3L605.8,656.1L603.5,657.8L601.3,659.2L599.4,659.6L596.8,659.7L594.4,660.4L592.4,660.4L590.0,660.2L588.2,661.9L585.5,662.3L583.0,663.5L580.9,664.3L579.1,664.8L576.7,666.1L574.7,667.4L572.8,669.5L571.6,670.8L569.4,672.0L567.6,672.9L565.1,673.7L562.6,674.4L560.0,674.8L557.5,675.0L555.8,674.2L553.0,673.5L550.8,674.4L548.8,673.9L547.4,672.5L545.8,669.9L544.4,668.6L541.8,667.6L541.4,665.2L540.5,663.1L538.8,660.3L539.4,658.6L539.2,656.7L539.9,653.9L540.8,652.2L540.0,649.4L539.9,647.0L539.9,644.8L539.9,642.7L541.3,641.7L544.9,642.7L547.2,644.0L549.2,644.1L551.1,645.3L553.8,646.1L555.5,646.1L558.2,647.1L560.2,648.2L562.7,648.7L564.9,648.7L567.4,650.2L568.8,650.8L571.2,652.3L573.3,652.9L576.0,653.9L578.6,654.4L580.1,655.5L582.9,655.9L585.9,656.4L587.6,658.0L589.6,658.0L591.5,660.3L593.8,660.6L595.8,661.1L597.7,660.7L600.8,660.7L603.3,661.3L605.3,662.0L607.7,661.7L610.3,662.1L612.2,661.4L615.1,661.1L617.0,660.7L619.1,660.5L621.3,659.6L623.9,658.9L625.4,658.2L627.1,660.7L626.5,662.5L625.8,665.0L624.3,667.2L622.8,668.7L622.0,671.0L621.1,673.5L620.7,675.5L618.2,676.6L616.6,678.6L614.9,680.0L612.4,680.9L610.3,680.2L610.9,678.0L610.4,674.8L610.8,672.8L610.7,670.7L609.7,668.0L609.1,666.1L609.0,663.2L607.6,661.6L605.0,661.2L603.1,659.3L600.8,660.0L598.4,660.7L597.0,662.9L596.0,665.1L595.4,667.1L593.6,669.8L591.6,671.1L589.5,669.8L589.1,667.9L590.4,665.8L592.0,664.2L593.0,662.3L594.4,660.3L596.0,658.6L598.8,657.2L599.6,655.9L602.6,654.7L604.4,654.5L607.0,653.6L608.1,651.2L607.8,653.0L608.1,651.6L607.0,652.7L607.3,652.6L607.5,652.9L608.3,652.3L609.1,650.3L608.5,648.0L609.3,645.7L609.0,642.9L609.0,640.9L609.0,638.8L609.3,635.9L609.2,633.9L609.7,632.2L612.0,630.3L614.1,629.5L616.1,628.6L618.7,629.2L620.9,630.1L623.2,630.7L625.6,631.5L627.8,632.2L630.2,632.8L632.5,632.6L634.4,633.8L637.1,634.5L639.4,635.6L642.0,634.7L644.3,635.3L646.3,635.8L648.9,636.1L651.0,636.7L653.6,638.2L654.8,639.3L657.8,639.6L660.1,640.1L661.8,641.1L664.1,641.4L666.3,642.4L667.8,644.4L668.4,647.0L669.9,648.4L669.5,651.4L669.1,653.4L669.0,656.4L669.4,658.2L669.4,661.1L667.8,662.5L665.4,663.2L662.6,663.1L660.4,661.9L658.1,661.7L655.3,661.6L653.7,660.9L650.5,660.0L648.8,659.9L647.0,659.0L644.1,658.1L642.0,657.6L639.7,657.5L637.3,657.3L634.8,656.9L632.7,656.5L630.6,657.1L627.8,657.9L625.6,657.6L623.5,658.0L620.9,659.3L619.0,659.5L616.0,659.6L613.6,658.7L611.6,659.2L609.4,659.1L607.1,658.8L604.2,658.2L602.7,658.1L600.3,656.7L598.2,656.1L596.5,653.9L594.2,653.1L593.2,651.0L590.3,649.8L589.6,652.0L591.5,654.3L594.1,654.9L595.9,656.0L598.1,656.8L601.0,657.6L602.9,658.4L604.9,658.8L607.6,659.2L609.4,660.8L612.2,661.0L614.6,661.6L614.9,663.2L612.4,664.5L610.5,663.0L608.8,661.5L606.5,661.6L604.2,661.2L601.6,662.1L599.3,662.2L597.5,662.9L595.3,662.9L592.3,662.9L590.1,661.6L588.7,660.7L586.2,660.1L584.4,658.4L581.9,657.6L579.0,658.3L577.3,657.9L575.0,657.4L572.1,657.2L570.0,657.8L569.9,659.8L571.8,660.9L573.8,661.8L576.7,662.8L578.6,661.6L581.1,661.6L583.5,661.7L586.1,661.9L588.4,661.4L591.3,660.3L592.9,660.5L594.9,659.9L597.9,660.0L600.5,660.5L602.5,659.1L603.7,658.5L606.5,658.4L608.9,658.3L610.8,658.6L613.3,659.5L616.1,658.3L618.4,657.9L621.0,657.1L623.5,656.6L625.1,657.1L627.7,657.5L630.1,658.0L631.6,658.1L634.5,656.9L635.9,655.6L638.8,654.5L640.9,653.8L642.9,654.7L644.5,657.1L646.9,658.2L648.6,658.6L651.0,660.1L653.2,660.0L655.3,660.8L657.6,661.4L659.1,662.7L660.9,664.9L663.0,666.0L665.2,666.8L667.6,667.5L668.3,665.6L669.4,662.9L667.4,660.9L667.3,658.4L666.8,654.6L668.0,653.0L667.7,650.8L668.5,648.1L668.3,646.5L666.7,643.9L666.5,642.1L666.3,639.2L666.1,636.8L665.8,634.8L662.8,634.3L661.0,634.5L658.8,635.9L657.0,637.0L655.2,638.2L654.0,640.6L652.1,642.0L649.8,643.5L647.9,644.0L646.2,645.9L644.7,647.6L642.7,649.9L640.8,651.4L640.1,652.7L638.6,655.3L636.3,656.9L634.6,657.2L632.5,659.1L630.9,661.2L629.8,663.2L628.1,665.6L625.3,665.9L624.7,667.8L623.5,669.3L621.0,671.5L619.5,672.8L617.6,673.8L615.6,676.4L613.9,677.8L613.0,679.9L612.3,682.1L609.7,682.5L609.1,681.3L609.1,678.8L609.2,676.3L609.5,674.2L609.0,671.6L609.7,669.6L609.9,666.5L609.1,664.3L608.9,662.2L607.9,660.1L608.4,657.5L610.0,656.3L612.8,655.9L614.3,655.9L617.8,657.6L619.0,657.8L622.5,657.1L624.7,657.4L626.7,658.3L629.2,659.1L631.2,659.4L631.6,657.1L629.6,655.8L628.1,655.1L625.3,656.2L622.5,656.6L620.6,657.0L618.1,656.2L616.1,656.8L614.5,654.4L615.4,652.4L616.2,651.2L613.9,650.4L612.3,651.7L614.1,653.1L616.8,654.1L618.6,653.6L620.4,652.2L622.5,651.5L624.0,649.0L625.7,647.7L627.9,646.8L630.2,646.2L632.6,645.1L634.8,644.6L637.1,642.9L638.8,642.3L640.8,640.5L643.2,640.1L645.0,639.1L647.7,638.2L649.6,637.8L651.7,635.8L654.3,635.2L656.5,635.3L658.3,634.5L660.6,632.6L662.6,632.2L665.1,632.3L667.5,631.7L667.8,635.1L665.5,635.7L663.8,636.4L660.8,635.7L658.7,636.7L657.2,638.5L655.1,637.9L651.7,636.4L650.2,635.8L647.8,635.8L645.2,634.8L642.7,635.3L640.2,635.2L638.4,634.6L635.8,634.9L633.0,635.5L631.2,634.6L628.7,634.0L626.4,633.4L624.3,632.4L622.1,633.5L619.4,632.8L617.6,633.0L614.9,633.2L612.4,634.1L611.4,636.7L611.7,638.7L611.0,640.7L609.8,642.9L609.1,645.0L609.1,646.8L609.6,649.2L610.2,651.9L609.4,654.4L609.7,656.2L607.7,658.4L605.7,659.2L603.7,660.1L600.9,660.3L599.2,662.2L597.3,663.1L595.5,664.3L592.5,664.2L590.5,664.3L587.8,665.2L586.0,665.1L583.5,666.0L582.0,666.6L579.4,668.1L577.2,669.4L576.0,671.1L573.1,671.3L571.0,671.8L568.3,671.7L565.8,673.0L564.7,672.6L561.2,672.3L559.5,670.9L560.4,669.4L562.2,668.1L564.6,666.8L566.4,666.5L569.0,665.7L570.7,665.3L572.8,663.7L575.1,662.7L577.9,661.5L580.3,661.3L582.9,660.9L584.1,659.8L587.0,659.0L588.9,658.4L591.6,657.9L593.4,657.4L595.6,656.2L597.2,657.1L600.5,656.6L602.5,657.3L605.1,656.3L607.3,655.0L608.8,653.5L610.7,652.2L613.2,651.3L615.6,651.3L618.0,650.1L620.0,649.4L622.5,649.0L624.2,648.0L625.8,646.0L628.9,645.0L630.7,644.4L632.4,642.7L634.7,641.3L637.4,640.9L638.3,638.9L639.8,637.3L642.0,635.6L643.5,635.4L645.7,634.4L648.4,633.7L650.9,633.3L653.2,633.1L655.4,632.2L657.5,631.8L660.3,631.1L662.8,630.3L664.2,630.2L666.7,631.0L667.1,632.9L665.5,635.2L663.7,637.0L662.3,638.0L661.3,639.9L659.0,641.0L657.4,642.8L655.2,644.1L653.3,645.3L650.8,645.5L648.2,646.7L646.4,645.9L643.8,647.5L641.9,649.1L640.2,650.8L638.3,651.4L635.7,651.1L633.0,651.3L630.8,649.9L628.6,650.1L626.8,649.9L623.7,650.7L621.0,651.1L619.2,650.7L617.6,651.6L615.0,652.9L612.8,654.4L610.5,655.6L608.4,655.9L606.4,656.8L603.8,657.4L602.1,659.1L599.8,659.5L597.6,658.7L594.9,658.5L592.9,657.8L590.8,656.5L589.6,654.8L590.8,652.9L593.5,653.2L595.6,653.4L597.9,654.8L600.0,656.0L601.7,657.0L603.8,658.0L606.5,658.7L608.4,658.7L610.9,656.7L613.0,656.6L614.9,657.6L617.1,658.3L619.6,660.1L620.9,660.4L623.8,661.4L626.0,660.6L628.3,660.9L630.4,660.7L632.6,660.8L635.3,660.2L637.6,660.1L640.0,658.9L642.3,659.0L645.1,659.0L646.8,658.8L649.7,658.7L652.1,659.6L654.1,657.4L652.8,655.6L651.5,653.6L649.2,652.0L647.0,651.4L644.5,650.4L642.4,650.0L640.5,648.2L637.7,647.3L635.8,646.2L634.1,645.0L632.3,643.4L630.3,642.9L627.6,642.1L625.9,640.9L623.5,639.3L621.8,638.3L619.7,636.6L617.9,635.7L616.3,633.1L616.6,631.2L618.8,630.1L620.8,629.0L623.7,629.3L626.2,629.8L628.4,629.9L630.3,630.0L632.0,631.6L634.9,632.3L637.2,632.4L638.9,632.9L641.8,632.8L644.0,631.4L646.2,630.9L648.4,630.2L651.0,631.7L653.8,631.0L656.0,632.1L658.1,630.8L659.5,629.2L657.6,629.0L655.6,629.0L653.9,629.6L651.0,628.8L649.1,629.4L646.9,629.0L643.6,628.7L641.8,629.8L640.1,631.6L639.1,634.0L637.7,636.5L638.1,638.1L638.2,640.5L638.3,642.8L636.4,645.7L635.4,647.8L634.6,649.7L632.9,651.4L631.2,652.7L629.6,655.1L627.8,656.6L626.7,658.8L625.7,660.5L624.1,662.4L622.8,664.2L621.1,666.5L620.3,668.9L619.1,670.6L617.4,672.8L618.0,674.7L618.4,676.8L617.5,679.6L616.7,681.7L615.9,683.1L617.1,685.5L618.8,686.6L621.2,686.2L624.1,686.7L626.1,686.0L627.3,683.8L626.8,681.5L625.0,679.0L623.5,677.5L621.8,676.3L620.5,674.5L618.9,672.7L618.3,670.2L617.0,668.2L616.6,666.0L615.2,664.1L614.2,662.0L610.9,660.6L609.3,659.4L607.2,658.9L605.0,658.4L602.8,658.0L600.3,657.6L598.3,657.9L596.5,659.7L595.0,661.1L592.6,662.6L590.1,664.0L588.7,666.1L586.7,666.7L585.3,668.2L583.9,668.5L580.9,668.8L578.0,670.2L575.8,670.8L573.8,670.3L571.8,671.8L569.5,672.8L567.3,674.6L565.6,674.5L563.0,674.5L560.9,675.3L558.3,676.3L556.2,676.6L553.7,675.3L554.7,672.8L556.0,671.4L557.7,670.0L559.6,669.2L562.7,669.1L565.1,667.7L567.0,666.6L569.1,665.6L571.7,665.4L574.0,665.9L576.3,665.5L578.7,664.9L581.2,664.7L583.8,664.7L585.5,662.5L587.2,660.8L590.0,660.6L591.6,660.8L594.3,660.5L595.4,658.1L597.2,656.5L599.6,655.8L602.0,656.1L603.7,656.7L606.2,657.9L608.4,657.6L610.0,655.2L611.3,653.1L612.4,651.6L613.5,649.3L614.2,646.8L616.4,645.4L618.8,644.9L620.3,643.1L622.5,641.2L621.9,640.1L620.4,640.2L617.5,641.8L615.7,642.9L614.4,644.8L613.0,647.0L613.1,649.5L611.8,651.5L610.4,653.4L609.5,655.8L608.4,657.3L606.1,659.6L603.9,659.3L601.5,658.7L599.1,657.3L598.4,655.6L597.4,653.1L595.1,651.5L593.6,651.0L592.0,649.9L590.0,647.6L589.4,646.2L587.5,643.9L585.1,643.6L582.5,642.8L579.9,642.2L578.3,642.3L576.3,643.1L574.0,643.0L571.0,642.7L568.6,641.7L566.6,641.0L564.4,641.3L562.4,640.8L559.7,639.8L557.6,639.7L554.9,639.1L553.0,638.7L550.7,636.9L549.2,636.3L546.9,635.2L544.3,634.2L543.3,632.1L544.9,630.5L547.7,630.5L550.1,630.2L552.6,631.3L554.7,631.8L556.2,633.2L558.7,634.3L560.3,635.3L562.5,636.7L563.9,637.9L566.4,639.7L568.5,640.0L570.5,640.9L573.4,642.3L574.9,643.6L576.0,645.4L578.2,646.7L580.9,646.9L583.1,647.3L585.0,648.1L587.2,649.4L589.5,650.6L591.5,651.9L594.0,652.0L595.9,653.0L598.2,654.6L600.1,654.9L603.1,655.6L605.1,655.7L607.6,656.1L610.1,655.9L611.6,655.3L614.4,655.3L616.8,655.1L619.1,653.5L621.3,652.3L623.1,651.1L625.3,650.5L628.3,650.1L630.1,650.5L632.2,650.1L634.7,650.3L637.5,649.9L639.1,649.1L641.3,648.2L644.4,647.2L646.4,647.6L648.4,647.1L651.3,647.0L652.2,644.7L653.8,643.5L655.8,644.0L657.5,645.8L657.9,648.3L658.6,650.2L659.1,653.3L659.4,655.0L658.9,657.6L660.8,659.9L661.6,661.5L663.0,664.4L663.3,666.3L664.2,668.6L663.9,671.0L663.4,673.4L664.4,675.0L665.2,677.4L665.4,679.9L665.8,682.4L664.2,684.3L662.0,685.9L659.5,686.2L657.3,685.9L655.6,686.3L653.0,686.5L650.6,686.1L648.4,686.0L646.0,686.5L643.9,686.2L641.5,685.6L638.9,685.2L636.8,684.0L635.8,682.2L633.7,680.5L632.6,678.4L630.5,676.6L629.9,674.4L627.9,672.6L626.4,671.0L624.6,669.9L622.6,668.6L620.5,667.4L618.4,665.3L616.0,664.6L614.3,662.8L612.7,661.7L611.4,659.0L609.0,658.7L607.1,657.9L604.2,657.1L602.1,656.3L599.5,656.7L597.6,656.0L595.0,657.1L593.2,657.1L590.6,657.8L587.7,657.9L586.3,657.6L582.9,657.0L580.7,656.7L578.8,657.0L575.9,657.3L573.7,657.0L571.4,657.6L569.4,658.6L567.0,659.1L565.1,660.3L562.6,660.5L560.7,660.8L558.1,661.0L555.7,661.4L553.2,662.7L551.7,663.7L549.8,666.2L547.9,666.5L546.3,668.5L544.4,669.8L543.8,672.1L545.6,673.7L547.3,674.0L550.1,674.3L552.2,672.7L555.0,671.6L556.7,671.6L559.7,671.0L561.2,669.9L563.9,668.6L566.0,668.4L568.4,668.3L570.2,667.1L572.6,667.2L575.5,667.8L578.2,668.3L580.0,667.5L582.5,667.5L584.5,667.1L587.2,667.2L590.0,666.8L592.4,665.8L593.8,664.6L595.7,663.0L598.5,662.8L600.3,662.4L602.3,660.9L604.8,660.7L606.2,659.1L609.1,658.9L611.8,660.5L613.5,661.8L615.1,662.8L616.8,664.6L618.6,665.6L621.2,667.3L623.4,668.3L625.6,669.6L626.7,670.4L629.2,671.8L630.6,673.6L633.3,674.4L635.5,675.0L637.5,676.4L639.3,677.1L641.5,678.7L643.4,680.5L644.7,682.0L645.9,684.3L648.2,684.7L651.0,684.7L653.1,683.6L655.4,683.7L657.9,684.8L659.5,685.6L661.4,685.2L662.3,682.5L660.9,680.5L659.1,679.2L657.7,677.3L656.4,675.5L655.3,672.8L654.0,671.6L652.3,669.7L651.1,668.0L649.3,666.2L646.9,664.8L645.7,663.4L643.8,661.1L642.9,659.0L641.6,657.1L640.0,655.2L638.1,653.7L637.0,652.2L634.5,650.2L632.8,649.2L631.5,646.7L629.7,645.4L628.7,644.0L626.4,642.5L625.0,639.4L623.5,638.9L622.6,637.3L619.4,635.4L617.6,634.0L616.3,632.9L614.4,631.4L612.1,632.6L611.5,634.7L610.4,637.3L610.9,639.7L611.3,641.6L611.0,644.4L611.5,646.6L611.4,648.5L610.9,650.8L610.3,653.0L608.9,654.6L606.4,655.9L604.0,655.8L602.3,655.5L599.7,654.4L597.0,654.0L595.6,653.5L592.5,652.7L590.1,652.1L587.9,652.5L585.2,652.5L582.5,651.8L582.8,650.7L583.4,647.6L585.4,646.6L586.9,644.7L588.7,643.4L590.4,641.4L591.6,639.4L592.6,637.5L593.8,635.4L596.3,634.6L597.8,635.5L598.6,636.7L599.2,639.9L598.7,642.2L597.6,644.5L597.1,647.1L596.5,649.1L597.2,651.4L598.3,654.0L599.1,655.5L600.3,658.3L602.6,659.5L604.1,660.5L606.4,661.2L608.8,661.3L611.6,660.7L613.5,659.9L615.4,659.4L616.4,657.0L619.2,656.1L621.0,655.0L623.7,654.2L625.0,653.3L627.5,651.8L629.6,650.7L632.0,650.2L634.5,649.2L636.6,648.6L638.7,648.4L639.4,646.0L638.2,644.4L636.2,642.4L633.8,641.9L631.9,641.6L629.7,639.3L627.8,638.9L625.3,638.3L623.5,638.7L621.0,638.8L618.3,638.8L615.6,638.1L613.8,636.8L612.0,635.9L609.9,635.6L609.2,638.6L610.7,640.4L612.5,641.8L614.0,643.6L615.9,644.8L617.9,645.3L620.6,646.0L622.2,645.5L625.7,645.4L627.5,646.3L629.4,647.5L630.6,649.7L632.4,651.4L634.7,652.1L636.7,653.3L638.7,654.0L640.5,655.7L642.9,657.2L644.6,658.0L646.0,659.9L648.4,661.2L649.7,662.7L652.1,663.5L654.1,665.0L656.1,666.7L658.6,667.0L660.6,668.1L662.1,670.2L663.8,671.2L665.8,672.2L667.5,671.2L668.4,668.6L668.7,666.3L668.7,663.2L668.3,661.6L667.9,659.3L668.3,657.0L666.8,655.0L665.3,653.4L663.5,651.3L661.3,650.0L659.0,648.7L656.9,648.1L655.6,646.4L652.8,645.9L650.9,646.5L648.9,646.6L646.0,646.1L643.8,646.7L641.9,647.4L639.0,647.7L637.0,647.5L634.1,647.7L631.9,647.2L630.0,646.2L627.3,645.9L624.6,646.5L623.6,647.9L621.0,650.0L618.8,649.6L616.8,650.4L614.2,650.3L612.1,651.1L609.6,652.7L607.7,654.3L606.4,654.4L603.5,655.5L601.2,655.6L598.6,655.3L596.3,654.8L594.2,654.1L592.7,653.6L590.2,652.3L587.6,652.3L584.9,653.0L582.0,651.9L582.7,654.5L585.0,655.4L587.1,657.0L589.8,656.8L591.6,657.1L593.7,656.7L596.3,656.3L598.7,657.3L600.6,657.9L603.2,658.8L604.9,660.1L606.8,661.1L609.3,660.8L612.1,660.6L614.0,660.9L616.3,660.3L617.9,658.9L620.2,658.0L622.4,656.9L624.5,654.9L626.6,655.1L629.8,654.4L632.2,654.3L634.1,654.2L636.5,653.7L638.5,653.1L640.6,652.2L642.6,650.4L644.8,649.2L645.9,647.3L645.0,645.3L643.0,644.5L640.3,644.0L637.9,644.3L635.6,644.3L633.5,645.1L631.0,646.2L628.5,646.7L626.5,647.3L624.5,648.4L622.2,649.0L620.2,650.5L618.4,651.5L616.5,653.0L615.1,654.8L612.5,655.9L610.6,657.3L609.2,659.1L607.7,661.0L605.6,663.1L603.8,662.4L601.7,662.3L599.2,662.0L597.1,660.7L595.3,658.8L593.6,657.5L591.8,656.7L589.8,655.3L587.4,654.5L585.0,655.1L582.5,654.2L580.6,653.2L578.4,651.7L576.7,650.5L578.0,648.5L579.9,649.2L582.4,650.1L583.8,652.8L584.6,655.0L584.9,656.2L588.1,658.3L589.8,659.8L591.2,660.9L592.9,662.4L593.7,665.4L595.6,667.0L597.4,668.1L599.4,667.4L601.3,665.6L602.1,662.3L604.3,659.7L606.1,658.9L608.2,657.6L610.7,658.1L612.4,659.2L614.8,660.3L617.0,660.9L619.0,662.6L620.7,663.7L622.0,665.9L623.2,668.1L624.6,670.0L626.1,671.7L628.6,672.9L630.0,673.7L632.2,676.1L634.2,677.1L635.7,678.6L637.5,680.7L639.3,681.6L641.3,683.6L643.4,683.6L644.2,686.4L641.9,686.4L638.8,685.7L636.5,685.8L634.7,685.0L632.2,683.7L630.7,682.5L628.6,680.7L627.2,680.0L624.9,677.7L622.9,676.5L622.1,673.9L620.6,672.5L618.8,670.9L616.5,670.3L614.3,668.2L613.5,666.7L610.9,665.0L609.5,663.2L607.0,662.3L604.6,662.1L603.6,661.4L600.7,660.9L598.1,660.4L595.2,660.0L593.8,659.2L591.6,657.7L589.5,656.1L587.7,655.7L584.9,655.2L583.1,654.9L581.0,655.6L577.9,655.6L574.7,655.4L573.6,654.2L571.5,653.0L569.4,652.8L566.6,651.9L564.2,652.2L562.3,651.9L560.3,650.8L557.7,651.1L555.1,650.4L552.6,650.1L551.1,649.3L548.8,648.3L546.3,647.2L544.3,645.9L542.9,646.5L542.3,648.9L545.4,649.9L547.1,650.1L549.9,650.6L552.1,652.2L554.6,652.3L557.0,652.6L559.3,652.6L562.3,652.8L563.6,653.5L566.1,653.8L569.0,655.2L570.6,656.2L572.7,656.2L574.6,657.1L576.7,656.7L579.6,657.2L582.1,658.0L584.8,657.9L587.0,658.1L588.8,658.8L591.5,659.2L593.3,660.3L595.2,661.3L598.4,660.2L599.7,659.2L601.7,657.9L603.3,656.6L605.9,655.9L608.4,655.8L611.1,655.7L613.9,655.8L615.8,656.1L618.1,655.7L620.2,655.8L622.1,655.5L624.6,655.4L626.6,653.7L628.4,651.5L630.3,650.3L633.2,650.2L635.1,649.1L637.5,650.3L639.6,650.6L641.4,649.2L643.3,647.4L644.8,646.3L647.3,644.5L649.0,642.4L649.7,640.5L650.6,638.2L651.7,636.3L652.1,633.8L651.2,631.7L649.2,630.4L647.3,631.7L646.4,633.0L646.7,635.9L647.2,638.3L647.6,640.5L648.7,642.8L648.9,645.3L649.9,647.3L650.4,649.0L650.1,651.7L650.2,654.1L650.3,656.7L650.1,659.4L652.6,660.9L653.5,663.2L654.9,664.6L656.0,667.4L655.6,668.8L657.4,671.3L659.0,673.8L659.1,676.0L659.8,678.4L662.3,679.6L663.1,681.5L663.9,683.3L661.9,685.0L659.3,685.9L657.0,686.1L654.8,685.8L652.2,685.7L650.1,686.6L647.7,685.9L645.4,685.1L644.2,683.1L644.1,680.5L645.0,678.5L645.2,675.8L646.5,674.3L648.4,671.7L649.5,670.6L649.6,667.8L650.2,665.9L650.4,663.5L650.0,661.2L651.2,659.2L651.1,656.1L652.3,654.8L653.0,652.2L654.2,650.5L656.4,647.9L658.2,647.0L658.6,645.2L660.2,642.9L661.1,640.7L661.8,638.9L662.9,636.4L663.6,633.9L663.8,631.7L664.6,629.9L662.6,629.6L660.3,629.3L657.9,629.1L656.0,630.1L653.5,631.1L651.1,631.2L649.0,630.9L646.8,631.6L644.6,631.9L641.6,632.2L639.3,632.3L636.5,632.4L634.6,632.0L632.8,630.6L630.7,629.4L627.8,630.0L626.5,630.7L625.1,633.8L622.7,634.5L622.8,637.3L622.6,639.6L621.3,641.5L619.9,643.5L618.8,645.7L619.0,647.9L618.8,650.0L617.7,653.0L616.8,654.0L614.5,655.9L611.9,656.7L610.4,658.3L607.0,657.8L606.1,658.1L603.4,658.4L601.7,660.1L599.1,661.4L596.8,660.8L595.9,659.5L594.7,657.6L596.1,656.5L598.8,657.7L601.3,656.4L603.8,657.5L605.5,657.3L608.2,657.7L610.4,658.2L613.0,659.0L615.0,659.7L616.7,661.9L617.2,663.9L620.3,664.7L621.5,667.4L623.0,668.4L625.2,669.8L627.0,671.8L629.4,671.4L631.7,671.3L634.2,671.7L636.0,672.2L638.8,673.1L640.4,675.2L642.4,676.7L644.6,677.1L643.2,679.7L640.9,680.2L638.5,679.3L636.0,678.6L633.8,677.5L631.9,676.7L629.2,675.6L628.0,673.9L626.4,673.0L624.0,672.4L621.9,670.4L619.6,670.2L617.5,668.6L616.0,667.6L613.2,666.3L611.8,665.6L610.8,663.2L609.1,661.6L606.4,659.7L604.9,658.7L603.1,656.8L600.8,655.6L598.6,654.1L596.8,654.1L594.3,652.9L592.8,651.7L590.3,651.4L589.2,654.2L590.7,655.6L591.5,658.5L593.1,660.1L595.0,662.0L596.5,664.3L598.0,665.6L599.4,666.8L600.2,669.4L600.6,670.3L601.6,662.6L603.4,661.5L603.8,658.7L602.6,656.9L601.2,658.0L601.8,661.0L602.6,662.3L604.8,662.4L606.7,662.7L607.9,663.0L610.7,663.6L612.2,662.1L613.6,660.1L614.7,658.2L616.2,655.5L617.6,654.2L619.1,652.1L620.5,649.8L621.2,647.4L620.6,645.6L619.4,643.7L618.2,641.6L616.3,640.0L615.1,638.0L613.8,636.0L612.2,634.1L610.3,634.1L608.2,635.2L608.0,637.3L608.0,639.6L608.3,642.2L607.8,652.8L606.3,655.4L606.5,657.2L606.0,659.5L606.5,661.7L609.2,661.8L609.6,659.5L610.8,657.6L612.2,655.1L612.8,653.2L612.0,650.8L610.7,648.2L609.6,646.8L609.0,645.1L608.9,642.3L610.2,640.6L612.0,640.7L611.6,644.3L611.4,646.7L611.6,649.2L611.9,651.3L611.7,654.2L611.5,656.3L612.4,658.4L612.8,661.3L611.2,663.0L609.9,665.1L608.6,667.3L608.4,662.8L607.5,664.6L608.0,662.8L609.4,664.8L609.3,667.4L609.5,669.6L609.3,671.9L608.2,673.8L606.3,662.0L605.5,660.2L604.4,658.1L601.6,657.7L599.6,658.0L597.1,657.7L594.9,657.5L592.4,658.3L590.5,659.9L589.0,661.3L586.3,662.3L584.5,663.6L583.0,663.4L580.1,663.7L578.2,665.3L576.2,666.9L574.4,668.5L572.8,670.2L570.7,671.7L568.6,673.2L566.0,673.5L563.7,673.2L561.0,673.0L559.9,673.4L556.7,673.6L555.1,674.2L553.0,675.6L550.9,676.2L548.5,677.7L546.8,679.3L544.4,680.9L543.3,682.1L540.9,683.8L540.9,681.6L543.1,679.3L544.9,677.9L546.4,677.5L549.2,677.7L551.2,678.2L553.5,678.2L556.2,678.5L558.4,678.0L560.6,677.3L562.9,676.7L565.4,676.0L567.4,675.6L569.5,674.9L571.4,673.4L573.5,672.3L576.5,672.5L578.6,671.0L580.4,669.6L582.7,669.4L585.2,669.0L587.5,668.2L589.1,667.3L591.4,666.1L592.6,664.4L595.0,663.3L597.4,662.4L599.7,662.1L602.1,661.0L604.7,660.2L606.1,659.7L608.8,659.4L610.4,659.8L613.5,660.1L615.6,659.0L618.2,660.1L620.6,660.7L621.8,661.2L624.9,661.8L627.4,661.3L630.4,662.5L632.0,662.4L634.3,662.6L636.7,664.0L639.2,663.7L640.8,663.2L643.4,663.3L646.4,662.9L648.0,663.1L650.9,662.4L653.4,662.6L655.5,663.1L657.2,664.5L659.1,666.4L660.8,667.7L663.4,669.3L663.3,671.5L664.4,674.2L665.4,675.6L666.1,677.6L663.9,677.8L661.3,677.0L659.8,674.9L658.6,673.5L656.9,671.9L655.1,670.3L652.6,668.9L651.2,667.2L649.4,665.1L648.0,663.5L646.2,661.7L644.6,660.1L644.7,657.2L643.0,655.8L641.7,653.2L640.4,651.8L638.8,650.2L636.5,648.8L634.0,648.0L632.9,647.0L630.0,645.6L628.2,644.5L627.0,642.3L624.5,640.7L622.7,640.0L620.9,638.3L619.0,636.8L617.1,635.6L615.7,632.9L615.0,631.6L613.5,629.5L615.5,628.9L617.7,629.4L620.3,629.2L622.6,629.3L624.1,629.6L627.3,631.6L629.2,633.1L631.5,632.2L633.5,633.8L635.3,635.1L637.4,636.4L639.2,636.5L641.7,637.4L644.1,637.6L646.4,637.9L649.2,638.2L651.1,638.1L653.9,638.6L656.1,637.3L654.3,635.9L652.2,634.6L649.7,634.7L647.7,634.5L645.7,633.5L642.8,633.1L640.9,632.9L638.7,633.2L635.9,631.9L633.4,631.9L630.8,631.4L629.0,632.0L628.6,634.1L629.2,636.0L630.6,638.6L631.4,640.9L632.3,642.7L633.9,645.1L635.2,646.4L636.7,649.1L638.4,650.5L638.6,652.8L639.2,654.8L640.9,657.0L641.4,658.7L643.9,660.4L645.4,662.6L645.7,665.0L646.4,667.3L646.4,669.7L646.2,671.7L645.3,674.2L643.7,675.6L641.1,676.8L639.9,678.3L637.2,678.4L635.1,679.4L632.7,680.0L630.9,681.1L627.7,681.3L625.6,682.7L623.6,683.5L621.4,682.3L619.3,682.9L616.7,683.2L617.7,684.8L619.6,685.6L622.2,685.5L624.2,685.3L627.1,685.3L629.2,685.3L631.6,686.1L633.4,685.0L635.0,683.4L633.1,682.0L630.8,681.3L629.7,682.1L626.6,682.3L625.9,679.3L626.2,677.9L625.7,675.2L626.1,672.5L627.5,670.1L628.2,668.3L627.5,665.3L628.7,664.5L630.8,661.9L630.9,659.7L632.8,658.1L633.2,655.9L634.2,653.0L635.0,650.7L635.6,648.7L636.5,646.5L637.2,644.5L637.2,642.2L636.9,639.9L638.4,637.5L640.8,636.3L642.7,636.8L644.8,638.2L647.4,639.5L649.5,639.8L651.3,640.5L653.3,641.7L655.7,641.5L658.5,639.9L657.8,637.8L658.5,634.8L658.0,633.7L655.0,633.4L653.3,635.0L652.4,636.4L650.1,637.6L648.5,639.4L646.0,640.6L644.0,640.7L641.3,641.2L639.2,641.9L637.4,642.4L635.3,644.8L633.1,645.7L631.2,646.6L629.0,647.5L627.1,648.6L624.8,648.8L621.2,648.3L620.2,648.3L617.9,649.6L615.8,651.1L614.6,652.9L612.3,655.0L611.0,656.0L608.5,657.7L607.1,658.8L604.7,657.8L602.0,658.1L599.9,656.8L598.0,655.5L596.1,653.9L594.6,653.2L592.1,651.4L589.8,651.0L587.8,650.6L585.8,648.7L583.4,648.9L580.1,648.2L578.5,647.0L576.3,646.7L574.1,645.4L571.9,644.6L568.9,644.5L566.9,644.1L564.8,644.4L562.3,645.0L560.5,646.3L559.1,647.2L558.6,650.2L557.6,651.6L555.7,653.7L554.9,656.3L553.7,658.3L551.4,659.7L550.5,662.5L549.0,664.4L548.8,666.0L548.2,668.0L547.6,671.3L547.4,673.2L546.6,675.6L546.0,677.6L544.7,679.1L543.4,681.5L541.4,684.0L543.2,685.5L545.5,685.2L547.7,684.5L550.2,684.0L552.7,682.6L553.7,680.9L556.2,680.1L558.0,677.9L560.4,677.7L562.8,676.9L564.7,675.4L566.6,674.9L569.2,673.7L571.1,672.8L572.8,671.9L575.4,670.8L577.4,670.8L579.9,669.9L582.3,669.5L584.7,669.2L586.5,667.7L588.7,666.5L589.9,664.1L592.3,663.4L594.0,661.1L595.4,660.1L597.3,658.2L599.3,657.6L601.5,656.5L604.4,656.7L606.3,656.9L609.3,656.9L611.1,655.9L613.0,655.1L614.7,653.5L617.4,652.1L619.4,650.6L620.6,649.3L622.6,647.5L624.1,647.0L624.5,648.7L624.6,651.5L623.6,652.7L621.8,654.9L620.2,656.7L617.8,657.9L617.0,660.3L615.3,662.8L615.6,665.3L614.4,667.7L612.8,669.5L611.9,669.5L610.3,666.8L611.0,665.1L613.5,664.1L615.4,662.3L617.6,663.1L620.0,664.2L621.8,665.2L624.5,665.7L626.8,666.6L628.3,667.0L630.4,668.2L633.1,669.4L635.1,670.1L637.1,670.6L639.9,670.5L642.1,671.3L644.3,670.5L646.7,670.7L649.4,670.2L651.8,672.0L653.7,672.2L656.2,672.5L657.1,674.6L659.9,675.3L661.5,677.0L663.5,678.0L665.9,680.0L667.3,681.7L669.6,681.0L669.5,679.1L670.0,676.9L670.3,674.6L669.3,672.2L669.9,670.1L669.4,667.3L669.4,664.9L669.6,662.7L669.3,660.7L668.3,657.5L668.6,656.0L669.0,653.1L669.5,651.1L669.8,648.6L670.4,646.2L669.9,644.4L668.3,642.3L666.9,640.6L665.4,638.8L664.6,636.3L663.8,634.3L663.5,631.8L661.0,631.7L658.2,632.1L655.8,632.2L653.8,633.3L651.9,634.2L649.3,635.0L647.0,635.7L644.6,636.7L642.6,637.8L640.7,639.2L637.8,640.2L637.1,641.6L635.3,643.7L633.0,644.1L631.1,644.9L628.3,646.3L627.1,647.8L624.7,648.9L622.7,650.8L621.0,651.5L619.2,652.4L616.2,653.0L614.3,654.1L611.8,655.0L609.5,655.9L607.4,656.8L605.2,657.1L603.1,657.1L600.5,656.9L598.1,659.0L596.2,659.4L594.3,661.5L592.7,662.9L590.2,663.3L588.0,664.5L586.1,665.2L584.3,666.8L581.6,667.7L579.1,667.7L577.4,669.1L574.7,668.8L572.5,669.7L571.5,671.5L569.5,672.9L567.0,674.0L565.5,675.8L562.8,675.4L563.9,672.9L566.1,672.2L568.2,670.7L570.1,670.0L572.7,669.6L574.6,668.5L576.8,666.9L579.1,666.3L580.0,663.9L582.1,662.9L585.1,661.9L587.2,660.4L588.9,660.4L591.0,659.7L593.6,659.2L595.5,658.8L597.9,657.9L599.9,659.7L602.1,660.6L604.6,660.5L607.1,661.2L608.7,662.3L610.5,664.5L610.7,666.5L611.8,668.5L611.2,671.3L611.0,673.7L611.1,675.6L612.7,675.7L612.6,673.5L611.8,671.2L611.8,668.3L610.6,666.4L609.0,664.6L608.6,663.0L606.2,662.1L604.7,660.3L602.5,659.2L600.6,659.5L598.8,661.3L597.7,663.7L597.1,665.5L595.5,668.0L595.7,670.3L593.9,671.0L593.6,668.4L594.2,666.5L594.9,663.9L595.9,662.2L596.9,659.5L597.9,657.6L598.7,655.6L601.0,654.1L602.4,652.9L603.9,652.6L605.5,652.3L607.9,652.9L610.2,651.7L612.2,651.0L614.5,650.2L616.9,648.6L619.2,647.9L621.3,647.6L623.3,646.1L625.8,645.7L627.9,644.9L630.0,644.4L632.0,642.7L634.3,641.5L635.9,640.3L638.0,639.4L640.1,638.7L642.4,637.7L644.8,636.8L646.6,635.2L649.1,635.2L651.5,633.8L653.3,633.6L656.1,632.8L657.6,631.5L656.8,628.9L655.2,628.6L652.5,628.7L649.5,628.8L647.4,628.7L645.5,629.7L642.9,629.4L640.5,629.3L638.0,629.4L636.1,629.4L633.7,629.2L631.3,629.8L628.8,629.1L626.0,629.9L624.5,629.8L621.7,629.9L618.9,629.9L616.5,630.5L614.1,630.2L613.3,632.2L614.2,633.5L617.4,634.3L619.3,634.1L621.4,632.8L623.4,633.9L625.0,636.2L626.0,637.7L627.7,640.1L628.1,642.1L628.4,644.6L630.3,646.7L631.2,648.6L631.9,650.9L631.7,653.5L631.6,655.5L633.7,657.5L634.5,659.3L634.5,661.9L634.9,664.7L634.0,666.9L632.7,668.5L632.4,670.7L632.5,673.7L632.3,676.4L632.6,678.5L633.1,680.8L631.1,681.6L628.5,681.2L627.1,679.8L624.8,679.3L622.7,677.2L621.5,675.2L620.5,673.2L619.9,671.1L618.3,669.3L616.3,667.3L614.9,665.3L614.1,663.2L613.2,661.5L612.7,658.3L610.6,657.2L608.0,657.3L605.0,656.6L603.4,656.4L601.8,656.6L598.8,658.3L596.9,658.5L593.9,659.1L591.8,660.5L589.9,661.6L588.4,662.9L586.1,664.0L584.4,665.5L582.4,667.0L580.6,668.8L578.7,670.0L577.1,671.1L575.6,673.2L574.1,675.0L571.7,676.1L569.6,677.5L567.2,678.6L565.1,679.2L562.9,680.6L560.7,682.0L559.0,682.3L556.5,683.3L554.1,682.7L551.9,683.3L549.9,684.7L549.3,685.7L550.6,686.5L553.1,686.7L555.9,686.4L557.9,685.6L559.9,684.9L562.0,683.4L564.9,682.7L565.7,681.4L567.7,679.1L570.2,678.4L571.0,676.4L572.8,675.1L574.4,673.0L576.6,671.6L578.7,671.2L581.1,669.8L582.7,668.0L584.7,666.7L586.6,666.7L589.2,665.1L590.4,663.3L592.6,660.9L594.1,660.1L595.6,658.0L597.9,656.8L599.6,656.2L601.6,657.2L603.6,658.5L604.8,661.1L607.1,662.6L609.4,662.5L611.5,662.2L612.9,660.6L615.5,658.4L616.3,656.6L618.2,655.2L618.7,652.4L620.1,650.7L621.5,648.7L621.4,646.9L622.0,644.2L622.8,641.2L623.7,639.8L623.7,637.0L623.4,634.8L624.2,633.0L625.9,630.5L627.7,630.0L630.5,629.2L632.9,629.7L635.4,628.8L637.3,628.7L639.9,628.6L642.1,629.3L644.8,629.2L647.2,629.8L649.3,629.7L651.6,630.5L654.3,631.2L656.3,631.9L659.2,631.8L659.9,632.6L660.2,635.0L658.3,636.7L656.6,637.8L654.1,638.7L651.6,639.3L649.5,640.0L647.3,640.9L645.0,641.8L642.8,642.9L640.6,643.0L638.4,643.8L636.3,644.8L634.2,645.8L633.0,647.6L630.5,648.6L628.4,648.2L625.9,648.4L623.5,649.3L620.9,649.3L618.7,649.9L617.6,650.6L614.3,651.1L613.1,653.1L610.5,654.2L608.7,655.4L606.8,655.4L604.3,657.6L602.7,657.5L599.1,658.4L597.8,658.7L595.0,659.2L593.0,660.4L590.2,660.3L588.4,659.8L585.9,660.2L583.6,661.3L581.1,660.7L579.1,659.9L576.5,660.8L574.5,661.0L574.6,663.6L576.4,663.9L578.4,663.6L580.8,664.0L583.5,663.7L585.5,663.7L588.1,664.0L590.3,662.9L593.1,662.0L594.3,660.6L596.9,659.5L598.4,658.1L601.3,657.5L603.4,657.3L605.9,657.4L607.8,656.6L610.1,656.7L613.7,656.9L615.6,656.3L616.9,654.1L619.6,654.7L621.3,653.7L624.1,652.9L626.2,651.8L628.3,651.2L630.9,651.3L633.2,650.7L634.6,648.8L636.9,647.4L637.5,645.4L639.2,643.8L636.8,642.9L634.2,642.5L632.1,643.4L630.6,644.9L628.3,645.5L626.1,647.0L624.0,647.9L621.7,649.5L619.5,649.0L617.0,649.5L615.2,650.7L612.8,651.0L610.3,652.3L608.2,653.2L607.1,655.1L605.4,657.3L604.0,657.6L601.2,658.1L598.6,658.2L596.0,658.6L594.2,660.1L591.8,661.7L590.1,662.9L587.4,663.7L585.7,663.7L583.2,664.3L580.8,664.4L578.6,664.4L576.9,665.7L574.2,667.0L571.8,666.8L569.4,667.3L567.8,667.3L565.6,664.8L563.7,663.7L560.8,662.1L559.5,660.8L558.4,658.4L557.9,656.4L557.3,654.2L555.6,651.8L554.6,649.8L553.3,648.0L550.5,646.9L549.7,644.6L547.9,643.4L546.9,641.7L544.7,639.3L543.8,637.7L543.4,635.5L545.9,634.1L548.0,634.1L549.7,635.5L552.0,636.6L554.8,636.8L557.0,637.6L558.7,638.2L560.9,639.5L563.3,641.2L565.4,642.2L567.7,642.5L570.5,643.1L572.4,643.9L575.0,644.3L577.0,644.6L579.1,645.1L581.2,646.1L584.1,647.6L586.0,648.5L588.1,649.4L590.2,649.9L592.4,651.0L594.5,652.8L596.2,652.8L597.8,655.4L599.9,656.1L602.6,654.8L604.6,655.3L606.9,656.2L608.9,657.2L611.6,657.7L614.0,657.5L615.7,658.5L619.2,658.4L620.6,659.0L623.0,659.0L625.5,659.9L628.2,660.1L630.2,661.1L632.3,659.8L635.0,660.8L637.4,661.3L639.9,661.8L641.8,662.6L643.2,664.7L645.7,664.9L647.6,667.1L649.8,668.8L652.4,669.4L653.4,671.0L655.7,672.6L657.9,673.3L660.6,673.5L662.3,674.9L663.7,676.3L665.4,679.0L667.5,679.3L667.5,677.6L667.4,675.0L667.9,673.0L667.6,670.6L667.9,668.5L668.4,665.9L668.1,663.1L667.8,660.6L666.7,658.2L667.1,656.6L666.0,654.7L665.6,652.1L665.0,649.3L664.5,647.5L664.5,644.4L663.2,642.3L663.3,640.0L663.6,637.8L664.1,636.0L664.0,634.3" fill="none" stroke="#ff0000" stroke-width="1.15" stroke-linejoin="round" stroke-linecap="round"/>
<text x="530.8" y="592.9" font-size="10.4" text-anchor="middle" fill="#1a1a1a" transform="rotate(-90 530.8 592.9)">Control</text>
<text x="530.3" y="659.9" font-size="10.4" text-anchor="middle" fill="#1a1a1a" transform="rotate(-90 530.3 659.9)">hM3D</text>
<text x="531.4" y="760.3" font-size="10.4" text-anchor="middle" fill="#1a1a1a" transform="rotate(-90 531.4 760.3)">CPA score (s)</text>
<line x1="569.4" y1="710.5" x2="569.4" y2="810.9" stroke="#8a8a8a" stroke-width="1.0"/>
<line x1="565.4" y1="710.5" x2="569.4" y2="710.5" stroke="#8a8a8a" stroke-width="1.0"/>
<text x="560.4" y="714.1" font-size="10.4" text-anchor="end" fill="#1a1a1a">100</text>
<line x1="565.4" y1="735.5" x2="569.4" y2="735.5" stroke="#8a8a8a" stroke-width="1.0"/>
<text x="560.4" y="739.1" font-size="10.4" text-anchor="end" fill="#1a1a1a">0</text>
<line x1="565.4" y1="760.5" x2="569.4" y2="760.5" stroke="#8a8a8a" stroke-width="1.0"/>
<text x="560.4" y="764.1" font-size="10.4" text-anchor="end" fill="#1a1a1a">−100</text>
<line x1="565.4" y1="785.4" x2="569.4" y2="785.4" stroke="#8a8a8a" stroke-width="1.0"/>
<text x="560.4" y="789.0" font-size="10.4" text-anchor="end" fill="#1a1a1a">−200</text>
<line x1="565.4" y1="810.4" x2="569.4" y2="810.4" stroke="#8a8a8a" stroke-width="1.0"/>
<text x="560.4" y="814.0" font-size="10.4" text-anchor="end" fill="#1a1a1a">−300</text>
<rect x="585.1" y="730.8" width="22.4" height="4.7" fill="#ffffff" stroke="#111" stroke-width="1.0"/>
<rect x="630.6" y="735.5" width="22.8" height="44.9" fill="#ff0000" stroke="#111" stroke-width="1.0"/>
<line x1="569.4" y1="735.5" x2="667.9" y2="735.5" stroke="#777" stroke-width="1.0"/>
<line x1="596.3" y1="726.8" x2="596.3" y2="736.0" stroke="#111" stroke-width="1.0"/>
<line x1="592.3" y1="726.8" x2="600.3" y2="726.8" stroke="#111" stroke-width="1.0"/>
<line x1="592.3" y1="736.0" x2="600.3" y2="736.0" stroke="#111" stroke-width="1.0"/>
<line x1="642.0" y1="776.0" x2="642.0" y2="784.6" stroke="#111" stroke-width="1.0"/>
<line x1="638.0" y1="776.0" x2="646.0" y2="776.0" stroke="#111" stroke-width="1.0"/>
<line x1="638.0" y1="784.6" x2="646.0" y2="784.6" stroke="#111" stroke-width="1.0"/>
<circle cx="590.4" cy="718.9" r="3.75" fill="#000"/>
<circle cx="601.7" cy="718.9" r="3.75" fill="#000"/>
<circle cx="588.6" cy="730.7" r="3.75" fill="#000"/>
<circle cx="603.5" cy="729.9" r="3.75" fill="#000"/>
<circle cx="596.2" cy="736.8" r="3.75" fill="#000"/>
<circle cx="596.2" cy="747.0" r="3.75" fill="#000"/>
<circle cx="641.6" cy="760.9" r="3.75" fill="#000"/>
<circle cx="641.6" cy="769.6" r="3.75" fill="#000"/>
<circle cx="641.6" cy="778.8" r="3.75" fill="#000"/>
<circle cx="648.7" cy="782.5" r="3.75" fill="#000"/>
<circle cx="633.7" cy="786.4" r="3.75" fill="#000"/>
<circle cx="648.7" cy="789.8" r="3.75" fill="#000"/>
<circle cx="638.5" cy="792.0" r="3.75" fill="#000"/>
<line x1="595.6" y1="706.3" x2="642.2" y2="706.3" stroke="#777" stroke-width="1.0"/>
<text x="618.9" y="704.9" font-size="12" text-anchor="middle" fill="#1a1a1a">**</text>
<rect x="572.8" y="802.8" width="11.9" height="6.2" fill="#ff0000" stroke="#111" stroke-width="0.9"/>
<rect x="572.8" y="818.5" width="11.9" height="6.2" fill="#fff" stroke="#111" stroke-width="0.9"/>
<text x="590.0" y="810.9" font-size="10.4" text-anchor="start" fill="#1a1a1a">CLZ-hM3D</text>
<text x="590.0" y="826.6" font-size="10.4" text-anchor="start" fill="#1a1a1a">CLZ-mCherry</text>
<text x="181.6" y="559.2" font-size="14" text-anchor="start" fill="#000" font-weight="bold" stroke="#000" stroke-width="0.45">f</text>
<rect x="251.8" y="560.8" width="138.0" height="215.5" fill="#cbcbcb" stroke="none" stroke-width="1"/>
<line x1="224.3" y1="610.3" x2="224.3" y2="776.3" stroke="#8a8a8a" stroke-width="1.0"/>
<line x1="219.1" y1="776.3" x2="390.5" y2="776.3" stroke="#666" stroke-width="1.1"/>
<line x1="416.0" y1="776.3" x2="496.3" y2="776.3" stroke="#666" stroke-width="1.1"/>
<line x1="219.3" y1="777.0" x2="224.3" y2="777.0" stroke="#8a8a8a" stroke-width="0.9"/>
<line x1="221.3" y1="756.7" x2="224.3" y2="756.7" stroke="#8a8a8a" stroke-width="0.9"/>
<line x1="221.3" y1="744.8" x2="224.3" y2="744.8" stroke="#8a8a8a" stroke-width="0.9"/>
<line x1="221.3" y1="736.4" x2="224.3" y2="736.4" stroke="#8a8a8a" stroke-width="0.9"/>
<line x1="221.3" y1="729.9" x2="224.3" y2="729.9" stroke="#8a8a8a" stroke-width="0.9"/>
<line x1="221.3" y1="724.6" x2="224.3" y2="724.6" stroke="#8a8a8a" stroke-width="0.9"/>
<line x1="221.3" y1="720.0" x2="224.3" y2="720.0" stroke="#8a8a8a" stroke-width="0.9"/>
<line x1="221.3" y1="716.1" x2="224.3" y2="716.1" stroke="#8a8a8a" stroke-width="0.9"/>
<line x1="221.3" y1="712.7" x2="224.3" y2="712.7" stroke="#8a8a8a" stroke-width="0.9"/>
<line x1="219.3" y1="709.6" x2="224.3" y2="709.6" stroke="#8a8a8a" stroke-width="0.9"/>
<line x1="221.3" y1="689.3" x2="224.3" y2="689.3" stroke="#8a8a8a" stroke-width="0.9"/>
<line x1="221.3" y1="677.4" x2="224.3" y2="677.4" stroke="#8a8a8a" stroke-width="0.9"/>
<line x1="221.3" y1="669.0" x2="224.3" y2="669.0" stroke="#8a8a8a" stroke-width="0.9"/>
<line x1="221.3" y1="662.5" x2="224.3" y2="662.5" stroke="#8a8a8a" stroke-width="0.9"/>
<line x1="221.3" y1="657.2" x2="224.3" y2="657.2" stroke="#8a8a8a" stroke-width="0.9"/>
<line x1="221.3" y1="652.6" x2="224.3" y2="652.6" stroke="#8a8a8a" stroke-width="0.9"/>
<line x1="221.3" y1="648.7" x2="224.3" y2="648.7" stroke="#8a8a8a" stroke-width="0.9"/>
<line x1="221.3" y1="645.3" x2="224.3" y2="645.3" stroke="#8a8a8a" stroke-width="0.9"/>
<line x1="219.3" y1="642.2" x2="224.3" y2="642.2" stroke="#8a8a8a" stroke-width="0.9"/>
<line x1="221.3" y1="621.9" x2="224.3" y2="621.9" stroke="#8a8a8a" stroke-width="0.9"/>
<line x1="221.3" y1="610.0" x2="224.3" y2="610.0" stroke="#8a8a8a" stroke-width="0.9"/>
<text x="215.2" y="645.8" font-size="10.4" text-anchor="end" fill="#1a1a1a">1</text>
<text x="215.2" y="713.2" font-size="10.4" text-anchor="end" fill="#1a1a1a">0.1</text>
<text x="190.2" y="693.4" font-size="10.4" text-anchor="middle" fill="#1a1a1a" transform="rotate(-90 190.2 693.4)">Mechanical threshold (g)</text>
<line x1="236.6" y1="776.3" x2="236.6" y2="781.3" stroke="#8a8a8a" stroke-width="1.0"/>
<text x="242.1" y="791.3" font-size="10.4" text-anchor="end" fill="#1a1a1a" transform="rotate(-45 242.1 791.3)">Before CLZ</text>
<line x1="264.5" y1="776.3" x2="264.5" y2="781.3" stroke="#8a8a8a" stroke-width="1.0"/>
<text x="264.5" y="794.0" font-size="10.4" text-anchor="middle" fill="#1a1a1a">1</text>
<line x1="292.7" y1="776.3" x2="292.7" y2="781.3" stroke="#8a8a8a" stroke-width="1.0"/>
<text x="292.7" y="794.0" font-size="10.4" text-anchor="middle" fill="#1a1a1a">2</text>
<line x1="320.9" y1="776.3" x2="320.9" y2="781.3" stroke="#8a8a8a" stroke-width="1.0"/>
<text x="320.9" y="794.0" font-size="10.4" text-anchor="middle" fill="#1a1a1a">3</text>
<line x1="348.8" y1="776.3" x2="348.8" y2="781.3" stroke="#8a8a8a" stroke-width="1.0"/>
<text x="348.8" y="794.0" font-size="10.4" text-anchor="middle" fill="#1a1a1a">5</text>
<line x1="377.3" y1="776.3" x2="377.3" y2="781.3" stroke="#8a8a8a" stroke-width="1.0"/>
<text x="377.3" y="794.0" font-size="10.4" text-anchor="middle" fill="#1a1a1a">7</text>
<line x1="427.4" y1="776.3" x2="427.4" y2="781.3" stroke="#8a8a8a" stroke-width="1.0"/>
<text x="427.4" y="794.0" font-size="10.4" text-anchor="middle" fill="#1a1a1a">7</text>
<line x1="455.5" y1="776.3" x2="455.5" y2="781.3" stroke="#8a8a8a" stroke-width="1.0"/>
<text x="455.5" y="794.0" font-size="10.4" text-anchor="middle" fill="#1a1a1a">14</text>
<line x1="483.4" y1="776.3" x2="483.4" y2="781.3" stroke="#8a8a8a" stroke-width="1.0"/>
<text x="483.4" y="794.0" font-size="10.4" text-anchor="middle" fill="#1a1a1a">21</text>
<line x1="263.6" y1="799.3" x2="381.6" y2="799.3" stroke="#8a8a8a" stroke-width="1.0"/>
<text x="320.6" y="811.6" font-size="10.4" text-anchor="middle" fill="#1a1a1a">Days on CLZ</text>
<line x1="425.1" y1="799.6" x2="489.3" y2="799.6" stroke="#8a8a8a" stroke-width="1.0"/>
<text x="457.4" y="811.6" font-size="10.4" text-anchor="middle" fill="#1a1a1a">Days after CLZ</text>
<rect x="260.5" y="565.8" width="6.4" height="1.8" rx="0.9" fill="#1a1a1a"/><line x1="263.7" y1="567.4" x2="263.7" y2="569.2" stroke="#1a1a1a" stroke-width="1.2"/><rect x="260.7" y="569.2" width="6.0" height="15.4" rx="0.8" fill="#fff" stroke="#111" stroke-width="1.0"/><rect x="261.2" y="575.7" width="5.0" height="8.4" fill="#ff0000" stroke="none" stroke-width="1"/><line x1="261.2" y1="571.4" x2="262.7" y2="571.4" stroke="#111" stroke-width="0.7"/><line x1="261.2" y1="574.0" x2="262.7" y2="574.0" stroke="#111" stroke-width="0.7"/><line x1="261.2" y1="576.6" x2="262.7" y2="576.6" stroke="#111" stroke-width="0.7"/><line x1="261.2" y1="579.2" x2="262.7" y2="579.2" stroke="#111" stroke-width="0.7"/><line x1="261.2" y1="581.8" x2="262.7" y2="581.8" stroke="#111" stroke-width="0.7"/><path d="M262.5,584.6 L264.9,584.6 L264.2,586.4 L263.2,586.4 Z" fill="#333"/><line x1="263.7" y1="585.8" x2="263.7" y2="594.8" stroke="#555" stroke-width="1.0"/>
<rect x="288.7" y="565.8" width="6.4" height="1.8" rx="0.9" fill="#1a1a1a"/><line x1="291.9" y1="567.4" x2="291.9" y2="569.2" stroke="#1a1a1a" stroke-width="1.2"/><rect x="288.9" y="569.2" width="6.0" height="15.4" rx="0.8" fill="#fff" stroke="#111" stroke-width="1.0"/><rect x="289.4" y="575.7" width="5.0" height="8.4" fill="#ff0000" stroke="none" stroke-width="1"/><line x1="289.4" y1="571.4" x2="290.9" y2="571.4" stroke="#111" stroke-width="0.7"/><line x1="289.4" y1="574.0" x2="290.9" y2="574.0" stroke="#111" stroke-width="0.7"/><line x1="289.4" y1="576.6" x2="290.9" y2="576.6" stroke="#111" stroke-width="0.7"/><line x1="289.4" y1="579.2" x2="290.9" y2="579.2" stroke="#111" stroke-width="0.7"/><line x1="289.4" y1="581.8" x2="290.9" y2="581.8" stroke="#111" stroke-width="0.7"/><path d="M290.7,584.6 L293.1,584.6 L292.4,586.4 L291.4,586.4 Z" fill="#333"/><line x1="291.9" y1="585.8" x2="291.9" y2="594.8" stroke="#555" stroke-width="1.0"/>
<rect x="316.9" y="565.8" width="6.4" height="1.8" rx="0.9" fill="#1a1a1a"/><line x1="320.1" y1="567.4" x2="320.1" y2="569.2" stroke="#1a1a1a" stroke-width="1.2"/><rect x="317.1" y="569.2" width="6.0" height="15.4" rx="0.8" fill="#fff" stroke="#111" stroke-width="1.0"/><rect x="317.6" y="575.7" width="5.0" height="8.4" fill="#ff0000" stroke="none" stroke-width="1"/><line x1="317.6" y1="571.4" x2="319.1" y2="571.4" stroke="#111" stroke-width="0.7"/><line x1="317.6" y1="574.0" x2="319.1" y2="574.0" stroke="#111" stroke-width="0.7"/><line x1="317.6" y1="576.6" x2="319.1" y2="576.6" stroke="#111" stroke-width="0.7"/><line x1="317.6" y1="579.2" x2="319.1" y2="579.2" stroke="#111" stroke-width="0.7"/><line x1="317.6" y1="581.8" x2="319.1" y2="581.8" stroke="#111" stroke-width="0.7"/><path d="M318.9,584.6 L321.3,584.6 L320.6,586.4 L319.6,586.4 Z" fill="#333"/><line x1="320.1" y1="585.8" x2="320.1" y2="594.8" stroke="#555" stroke-width="1.0"/>
<rect x="344.9" y="565.8" width="6.4" height="1.8" rx="0.9" fill="#1a1a1a"/><line x1="348.1" y1="567.4" x2="348.1" y2="569.2" stroke="#1a1a1a" stroke-width="1.2"/><rect x="345.1" y="569.2" width="6.0" height="15.4" rx="0.8" fill="#fff" stroke="#111" stroke-width="1.0"/><rect x="345.6" y="575.7" width="5.0" height="8.4" fill="#ff0000" stroke="none" stroke-width="1"/><line x1="345.6" y1="571.4" x2="347.1" y2="571.4" stroke="#111" stroke-width="0.7"/><line x1="345.6" y1="574.0" x2="347.1" y2="574.0" stroke="#111" stroke-width="0.7"/><line x1="345.6" y1="576.6" x2="347.1" y2="576.6" stroke="#111" stroke-width="0.7"/><line x1="345.6" y1="579.2" x2="347.1" y2="579.2" stroke="#111" stroke-width="0.7"/><line x1="345.6" y1="581.8" x2="347.1" y2="581.8" stroke="#111" stroke-width="0.7"/><path d="M346.9,584.6 L349.3,584.6 L348.6,586.4 L347.6,586.4 Z" fill="#333"/><line x1="348.1" y1="585.8" x2="348.1" y2="594.8" stroke="#555" stroke-width="1.0"/>
<rect x="373.0" y="565.8" width="6.4" height="1.8" rx="0.9" fill="#1a1a1a"/><line x1="376.2" y1="567.4" x2="376.2" y2="569.2" stroke="#1a1a1a" stroke-width="1.2"/><rect x="373.2" y="569.2" width="6.0" height="15.4" rx="0.8" fill="#fff" stroke="#111" stroke-width="1.0"/><rect x="373.7" y="575.7" width="5.0" height="8.4" fill="#ff0000" stroke="none" stroke-width="1"/><line x1="373.7" y1="571.4" x2="375.2" y2="571.4" stroke="#111" stroke-width="0.7"/><line x1="373.7" y1="574.0" x2="375.2" y2="574.0" stroke="#111" stroke-width="0.7"/><line x1="373.7" y1="576.6" x2="375.2" y2="576.6" stroke="#111" stroke-width="0.7"/><line x1="373.7" y1="579.2" x2="375.2" y2="579.2" stroke="#111" stroke-width="0.7"/><line x1="373.7" y1="581.8" x2="375.2" y2="581.8" stroke="#111" stroke-width="0.7"/><path d="M375.0,584.6 L377.4,584.6 L376.7,586.4 L375.7,586.4 Z" fill="#333"/><line x1="376.2" y1="585.8" x2="376.2" y2="594.8" stroke="#555" stroke-width="1.0"/>
<circle cx="414.7" cy="568.0" r="3.5" fill="#ff0000"/>
<text x="423.4" y="571.6" font-size="10.4" text-anchor="start" fill="#1a1a1a">Control</text>
<circle cx="414.7" cy="583.6" r="3.5" fill="#000"/>
<text x="423.4" y="587.6" font-size="10.4" text-anchor="start" fill="#1a1a1a">Ablation</text>
<line x1="259.2" y1="614.4" x2="270.0" y2="614.4" stroke="#8a8a8a" stroke-width="1.0"/>
<text x="264.6" y="613.3" font-size="12" text-anchor="middle" fill="#1a1a1a">**</text>
<line x1="286.8" y1="613.3" x2="297.6" y2="613.3" stroke="#8a8a8a" stroke-width="1.0"/>
<text x="292.2" y="612.2" font-size="12" text-anchor="middle" fill="#1a1a1a">***</text>
<line x1="315.2" y1="623.3" x2="326.0" y2="623.3" stroke="#8a8a8a" stroke-width="1.0"/>
<text x="320.6" y="622.2" font-size="12" text-anchor="middle" fill="#1a1a1a">***</text>
<line x1="343.2" y1="613.8" x2="354.0" y2="613.8" stroke="#8a8a8a" stroke-width="1.0"/>
<text x="348.6" y="612.7" font-size="12" text-anchor="middle" fill="#1a1a1a">***</text>
<line x1="371.7" y1="607.3" x2="382.5" y2="607.3" stroke="#8a8a8a" stroke-width="1.0"/>
<text x="377.1" y="606.2" font-size="12" text-anchor="middle" fill="#1a1a1a">***</text>
<line x1="421.0" y1="611.7" x2="431.4" y2="611.7" stroke="#8a8a8a" stroke-width="1.0"/>
<text x="426.2" y="610.6" font-size="12" text-anchor="middle" fill="#1a1a1a">***</text>
<line x1="449.8" y1="607.3" x2="459.8" y2="607.3" stroke="#8a8a8a" stroke-width="1.0"/>
<text x="454.8" y="606.2" font-size="12" text-anchor="middle" fill="#1a1a1a">***</text>
<line x1="477.3" y1="614.5" x2="487.3" y2="614.5" stroke="#8a8a8a" stroke-width="1.0"/>
<text x="482.3" y="613.4" font-size="12" text-anchor="middle" fill="#1a1a1a">***</text>
<text x="315.3" y="707.0" font-size="10.2" text-anchor="middle" fill="#1a1a1a">#</text>
<text x="343.1" y="733.8" font-size="10.2" text-anchor="middle" fill="#1a1a1a">##</text>
<text x="371.4" y="734.8" font-size="10.2" text-anchor="middle" fill="#1a1a1a">#</text>
<text x="420.6" y="740.6" font-size="10.2" text-anchor="middle" fill="#1a1a1a">###</text>
<text x="449.4" y="739.3" font-size="10.2" text-anchor="middle" fill="#1a1a1a">##</text>
<text x="477.1" y="732.5" font-size="10.2" text-anchor="middle" fill="#1a1a1a">##</text>
<circle cx="228.5" cy="635.0" r="3.75" fill="#ff0000"/>
<circle cx="231.5" cy="634.5" r="3.75" fill="#ff0000"/>
<circle cx="234.0" cy="635.5" r="3.75" fill="#ff0000"/>
<circle cx="230.3" cy="640.0" r="3.75" fill="#ff0000"/>
<circle cx="230.5" cy="643.0" r="3.75" fill="#ff0000"/>
<circle cx="230.9" cy="656.5" r="3.75" fill="#ff0000"/>
<circle cx="257.2" cy="641.5" r="3.75" fill="#ff0000"/>
<circle cx="261.9" cy="641.5" r="3.75" fill="#ff0000"/>
<circle cx="259.3" cy="661.9" r="3.75" fill="#ff0000"/>
<circle cx="259.3" cy="669.2" r="3.75" fill="#ff0000"/>
<circle cx="259.3" cy="729.0" r="3.75" fill="#ff0000"/>
<circle cx="257.0" cy="746.0" r="3.75" fill="#ff0000"/>
<circle cx="262.0" cy="746.0" r="3.75" fill="#ff0000"/>
<circle cx="287.0" cy="695.5" r="3.75" fill="#ff0000"/>
<circle cx="284.1" cy="714.5" r="3.75" fill="#ff0000"/>
<circle cx="290.0" cy="714.5" r="3.75" fill="#ff0000"/>
<circle cx="287.0" cy="740.7" r="3.75" fill="#ff0000"/>
<circle cx="284.0" cy="756.8" r="3.75" fill="#ff0000"/>
<circle cx="287.0" cy="756.8" r="3.75" fill="#ff0000"/>
<circle cx="290.5" cy="756.8" r="3.75" fill="#ff0000"/>
<circle cx="315.3" cy="714.5" r="3.75" fill="#ff0000"/>
<circle cx="313.9" cy="748.0" r="3.75" fill="#ff0000"/>
<circle cx="311.0" cy="756.8" r="3.75" fill="#ff0000"/>
<circle cx="315.3" cy="756.8" r="3.75" fill="#ff0000"/>
<circle cx="319.7" cy="756.8" r="3.75" fill="#ff0000"/>
<circle cx="343.0" cy="741.3" r="3.75" fill="#ff0000"/>
<circle cx="340.0" cy="756.8" r="3.75" fill="#ff0000"/>
<circle cx="343.0" cy="756.8" r="3.75" fill="#ff0000"/>
<circle cx="346.0" cy="756.8" r="3.75" fill="#ff0000"/>
<circle cx="369.3" cy="741.3" r="3.75" fill="#ff0000"/>
<circle cx="373.7" cy="741.3" r="3.75" fill="#ff0000"/>
<circle cx="368.0" cy="756.8" r="3.75" fill="#ff0000"/>
<circle cx="371.4" cy="756.8" r="3.75" fill="#ff0000"/>
<circle cx="375.0" cy="756.8" r="3.75" fill="#ff0000"/>
<circle cx="417.5" cy="746.8" r="3.75" fill="#ff0000"/>
<circle cx="422.3" cy="746.8" r="3.75" fill="#ff0000"/>
<circle cx="417.5" cy="755.9" r="3.75" fill="#ff0000"/>
<circle cx="420.8" cy="755.9" r="3.75" fill="#ff0000"/>
<circle cx="424.2" cy="755.9" r="3.75" fill="#ff0000"/>
<circle cx="420.4" cy="765.8" r="3.75" fill="#ff0000"/>
<circle cx="448.8" cy="745.5" r="3.75" fill="#ff0000"/>
<circle cx="446.0" cy="748.0" r="3.75" fill="#ff0000"/>
<circle cx="451.5" cy="748.0" r="3.75" fill="#ff0000"/>
<circle cx="446.0" cy="755.9" r="3.75" fill="#ff0000"/>
<circle cx="451.5" cy="755.9" r="3.75" fill="#ff0000"/>
<circle cx="476.7" cy="739.4" r="3.75" fill="#ff0000"/>
<circle cx="476.7" cy="746.8" r="3.75" fill="#ff0000"/>
<circle cx="473.5" cy="755.9" r="3.75" fill="#ff0000"/>
<circle cx="476.7" cy="755.9" r="3.75" fill="#ff0000"/>
<circle cx="480.2" cy="755.9" r="3.75" fill="#ff0000"/>
<circle cx="244.0" cy="617.7" r="3.75" fill="#000"/>
<circle cx="240.5" cy="632.0" r="3.75" fill="#000"/>
<circle cx="246.6" cy="632.0" r="3.75" fill="#000"/>
<circle cx="244.0" cy="645.3" r="3.75" fill="#000"/>
<circle cx="243.0" cy="650.4" r="3.75" fill="#000"/>
<circle cx="244.4" cy="644.4" r="3.75" fill="#000"/>
<circle cx="269.5" cy="621.8" r="3.75" fill="#000"/>
<circle cx="267.7" cy="630.0" r="3.75" fill="#000"/>
<circle cx="272.2" cy="630.0" r="3.75" fill="#000"/>
<circle cx="269.5" cy="634.0" r="3.75" fill="#000"/>
<circle cx="269.5" cy="645.3" r="3.75" fill="#000"/>
<circle cx="269.5" cy="659.1" r="3.75" fill="#000"/>
<circle cx="297.7" cy="621.3" r="3.75" fill="#000"/>
<circle cx="295.0" cy="630.0" r="3.75" fill="#000"/>
<circle cx="301.4" cy="626.9" r="3.75" fill="#000"/>
<circle cx="297.7" cy="640.0" r="3.75" fill="#000"/>
<circle cx="296.7" cy="644.6" r="3.75" fill="#000"/>
<circle cx="297.7" cy="652.8" r="3.75" fill="#000"/>
<circle cx="323.0" cy="631.7" r="3.75" fill="#000"/>
<circle cx="325.4" cy="631.7" r="3.75" fill="#000"/>
<circle cx="328.0" cy="633.0" r="3.75" fill="#000"/>
<circle cx="325.4" cy="636.0" r="3.75" fill="#000"/>
<circle cx="324.0" cy="654.0" r="3.75" fill="#000"/>
<circle cx="326.7" cy="652.2" r="3.75" fill="#000"/>
<circle cx="353.8" cy="621.7" r="3.75" fill="#000"/>
<circle cx="353.0" cy="631.7" r="3.75" fill="#000"/>
<circle cx="350.4" cy="640.9" r="3.75" fill="#000"/>
<circle cx="357.0" cy="644.3" r="3.75" fill="#000"/>
<circle cx="355.5" cy="637.0" r="3.75" fill="#000"/>
<circle cx="379.3" cy="615.2" r="3.75" fill="#000"/>
<circle cx="381.9" cy="621.7" r="3.75" fill="#000"/>
<circle cx="381.9" cy="630.4" r="3.75" fill="#000"/>
<circle cx="384.0" cy="637.0" r="3.75" fill="#000"/>
<circle cx="379.3" cy="640.9" r="3.75" fill="#000"/>
<circle cx="384.0" cy="644.8" r="3.75" fill="#000"/>
<circle cx="381.9" cy="652.7" r="3.75" fill="#000"/>
<circle cx="431.2" cy="619.8" r="3.75" fill="#000"/>
<circle cx="428.0" cy="632.0" r="3.75" fill="#000"/>
<circle cx="432.0" cy="632.0" r="3.75" fill="#000"/>
<circle cx="436.5" cy="632.0" r="3.75" fill="#000"/>
<circle cx="432.7" cy="652.5" r="3.75" fill="#000"/>
<circle cx="428.9" cy="657.8" r="3.75" fill="#000"/>
<circle cx="459.3" cy="614.9" r="3.75" fill="#000"/>
<circle cx="456.4" cy="628.2" r="3.75" fill="#000"/>
<circle cx="460.0" cy="628.2" r="3.75" fill="#000"/>
<circle cx="464.0" cy="628.2" r="3.75" fill="#000"/>
<circle cx="459.3" cy="636.4" r="3.75" fill="#000"/>
<circle cx="459.3" cy="644.0" r="3.75" fill="#000"/>
<circle cx="457.0" cy="644.0" r="3.75" fill="#000"/>
<circle cx="489.6" cy="622.1" r="3.75" fill="#000"/>
<circle cx="487.0" cy="627.0" r="3.75" fill="#000"/>
<circle cx="485.0" cy="632.6" r="3.75" fill="#000"/>
<circle cx="491.5" cy="632.6" r="3.75" fill="#000"/>
<circle cx="488.0" cy="640.0" r="3.75" fill="#000"/>
<circle cx="489.6" cy="649.6" r="3.75" fill="#000"/>
<circle cx="484.9" cy="652.5" r="3.75" fill="#000"/>
<line x1="224.8" y1="640.1" x2="237.8" y2="640.1" stroke="#111" stroke-width="1.1"/><line x1="231.3" y1="637.5" x2="231.3" y2="642.8" stroke="#111" stroke-width="1.1"/><line x1="227.8" y1="637.5" x2="234.8" y2="637.5" stroke="#111" stroke-width="1.1"/><line x1="227.8" y1="642.8" x2="234.8" y2="642.8" stroke="#111" stroke-width="1.1"/>
<line x1="252.6" y1="666.3" x2="265.6" y2="666.3" stroke="#111" stroke-width="1.1"/><line x1="259.1" y1="656.6" x2="259.1" y2="680.0" stroke="#111" stroke-width="1.1"/><line x1="255.6" y1="656.6" x2="262.6" y2="656.6" stroke="#111" stroke-width="1.1"/><line x1="255.6" y1="680.0" x2="262.6" y2="680.0" stroke="#111" stroke-width="1.1"/>
<line x1="280.5" y1="724.1" x2="293.5" y2="724.1" stroke="#111" stroke-width="1.1"/><line x1="287.0" y1="716.0" x2="287.0" y2="735.8" stroke="#111" stroke-width="1.1"/><line x1="283.5" y1="716.0" x2="290.5" y2="716.0" stroke="#111" stroke-width="1.1"/><line x1="283.5" y1="735.8" x2="290.5" y2="735.8" stroke="#111" stroke-width="1.1"/>
<line x1="309.0" y1="743.6" x2="322.0" y2="743.6" stroke="#111" stroke-width="1.1"/><line x1="315.5" y1="736.4" x2="315.5" y2="752.4" stroke="#111" stroke-width="1.1"/><line x1="312.0" y1="736.4" x2="319.0" y2="736.4" stroke="#111" stroke-width="1.1"/><line x1="312.0" y1="752.4" x2="319.0" y2="752.4" stroke="#111" stroke-width="1.1"/>
<line x1="336.6" y1="751.0" x2="349.6" y2="751.0" stroke="#111" stroke-width="1.1"/><line x1="343.1" y1="748.2" x2="343.1" y2="753.8" stroke="#111" stroke-width="1.1"/><line x1="339.6" y1="748.2" x2="346.6" y2="748.2" stroke="#111" stroke-width="1.1"/><line x1="339.6" y1="753.8" x2="346.6" y2="753.8" stroke="#111" stroke-width="1.1"/>
<line x1="364.9" y1="750.0" x2="377.9" y2="750.0" stroke="#111" stroke-width="1.1"/><line x1="371.4" y1="747.5" x2="371.4" y2="752.5" stroke="#111" stroke-width="1.1"/><line x1="367.9" y1="747.5" x2="374.9" y2="747.5" stroke="#111" stroke-width="1.1"/><line x1="367.9" y1="752.5" x2="374.9" y2="752.5" stroke="#111" stroke-width="1.1"/>
<line x1="413.9" y1="754.4" x2="426.9" y2="754.4" stroke="#111" stroke-width="1.1"/><line x1="420.4" y1="752.5" x2="420.4" y2="756.9" stroke="#111" stroke-width="1.1"/><line x1="416.9" y1="752.5" x2="423.9" y2="752.5" stroke="#111" stroke-width="1.1"/><line x1="416.9" y1="756.9" x2="423.9" y2="756.9" stroke="#111" stroke-width="1.1"/>
<line x1="442.5" y1="752.1" x2="455.5" y2="752.1" stroke="#111" stroke-width="1.1"/><line x1="449.0" y1="749.5" x2="449.0" y2="754.7" stroke="#111" stroke-width="1.1"/><line x1="445.5" y1="749.5" x2="452.5" y2="749.5" stroke="#111" stroke-width="1.1"/><line x1="445.5" y1="754.7" x2="452.5" y2="754.7" stroke="#111" stroke-width="1.1"/>
<line x1="470.4" y1="752.1" x2="483.4" y2="752.1" stroke="#111" stroke-width="1.1"/><line x1="476.9" y1="749.2" x2="476.9" y2="755.0" stroke="#111" stroke-width="1.1"/><line x1="473.4" y1="749.2" x2="480.4" y2="749.2" stroke="#111" stroke-width="1.1"/><line x1="473.4" y1="755.0" x2="480.4" y2="755.0" stroke="#111" stroke-width="1.1"/>
<line x1="237.3" y1="635.0" x2="250.3" y2="635.0" stroke="#111" stroke-width="1.1"/><line x1="243.8" y1="631.5" x2="243.8" y2="638.5" stroke="#111" stroke-width="1.1"/><line x1="240.3" y1="631.5" x2="247.3" y2="631.5" stroke="#111" stroke-width="1.1"/><line x1="240.3" y1="638.5" x2="247.3" y2="638.5" stroke="#111" stroke-width="1.1"/>
<line x1="263.1" y1="633.5" x2="276.1" y2="633.5" stroke="#111" stroke-width="1.1"/><line x1="269.6" y1="629.5" x2="269.6" y2="637.5" stroke="#111" stroke-width="1.1"/><line x1="266.1" y1="629.5" x2="273.1" y2="629.5" stroke="#111" stroke-width="1.1"/><line x1="266.1" y1="637.5" x2="273.1" y2="637.5" stroke="#111" stroke-width="1.1"/>
<line x1="291.3" y1="634.0" x2="304.3" y2="634.0" stroke="#111" stroke-width="1.1"/><line x1="297.8" y1="630.0" x2="297.8" y2="638.0" stroke="#111" stroke-width="1.1"/><line x1="294.3" y1="630.0" x2="301.3" y2="630.0" stroke="#111" stroke-width="1.1"/><line x1="294.3" y1="638.0" x2="301.3" y2="638.0" stroke="#111" stroke-width="1.1"/>
<line x1="319.1" y1="637.0" x2="332.1" y2="637.0" stroke="#111" stroke-width="1.1"/><line x1="325.6" y1="634.8" x2="325.6" y2="639.2" stroke="#111" stroke-width="1.1"/><line x1="322.1" y1="634.8" x2="329.1" y2="634.8" stroke="#111" stroke-width="1.1"/><line x1="322.1" y1="639.2" x2="329.1" y2="639.2" stroke="#111" stroke-width="1.1"/>
<line x1="347.5" y1="635.5" x2="360.5" y2="635.5" stroke="#111" stroke-width="1.1"/><line x1="354.0" y1="632.5" x2="354.0" y2="638.5" stroke="#111" stroke-width="1.1"/><line x1="350.5" y1="632.5" x2="357.5" y2="632.5" stroke="#111" stroke-width="1.1"/><line x1="350.5" y1="638.5" x2="357.5" y2="638.5" stroke="#111" stroke-width="1.1"/>
<line x1="375.4" y1="634.0" x2="388.4" y2="634.0" stroke="#111" stroke-width="1.1"/><line x1="381.9" y1="630.0" x2="381.9" y2="638.0" stroke="#111" stroke-width="1.1"/><line x1="378.4" y1="630.0" x2="385.4" y2="630.0" stroke="#111" stroke-width="1.1"/><line x1="378.4" y1="638.0" x2="385.4" y2="638.0" stroke="#111" stroke-width="1.1"/>
<line x1="425.0" y1="636.4" x2="438.0" y2="636.4" stroke="#111" stroke-width="1.1"/><line x1="431.5" y1="632.2" x2="431.5" y2="641.1" stroke="#111" stroke-width="1.1"/><line x1="428.0" y1="632.2" x2="435.0" y2="632.2" stroke="#111" stroke-width="1.1"/><line x1="428.0" y1="641.1" x2="435.0" y2="641.1" stroke="#111" stroke-width="1.1"/>
<line x1="453.0" y1="632.4" x2="466.0" y2="632.4" stroke="#111" stroke-width="1.1"/><line x1="459.5" y1="628.8" x2="459.5" y2="636.0" stroke="#111" stroke-width="1.1"/><line x1="456.0" y1="628.8" x2="463.0" y2="628.8" stroke="#111" stroke-width="1.1"/><line x1="456.0" y1="636.0" x2="463.0" y2="636.0" stroke="#111" stroke-width="1.1"/>
<line x1="482.0" y1="634.5" x2="495.0" y2="634.5" stroke="#111" stroke-width="1.1"/><line x1="488.5" y1="630.5" x2="488.5" y2="638.5" stroke="#111" stroke-width="1.1"/><line x1="485.0" y1="630.5" x2="492.0" y2="630.5" stroke="#111" stroke-width="1.1"/><line x1="485.0" y1="638.5" x2="492.0" y2="638.5" stroke="#111" stroke-width="1.1"/>
</svg>
</body></html>
